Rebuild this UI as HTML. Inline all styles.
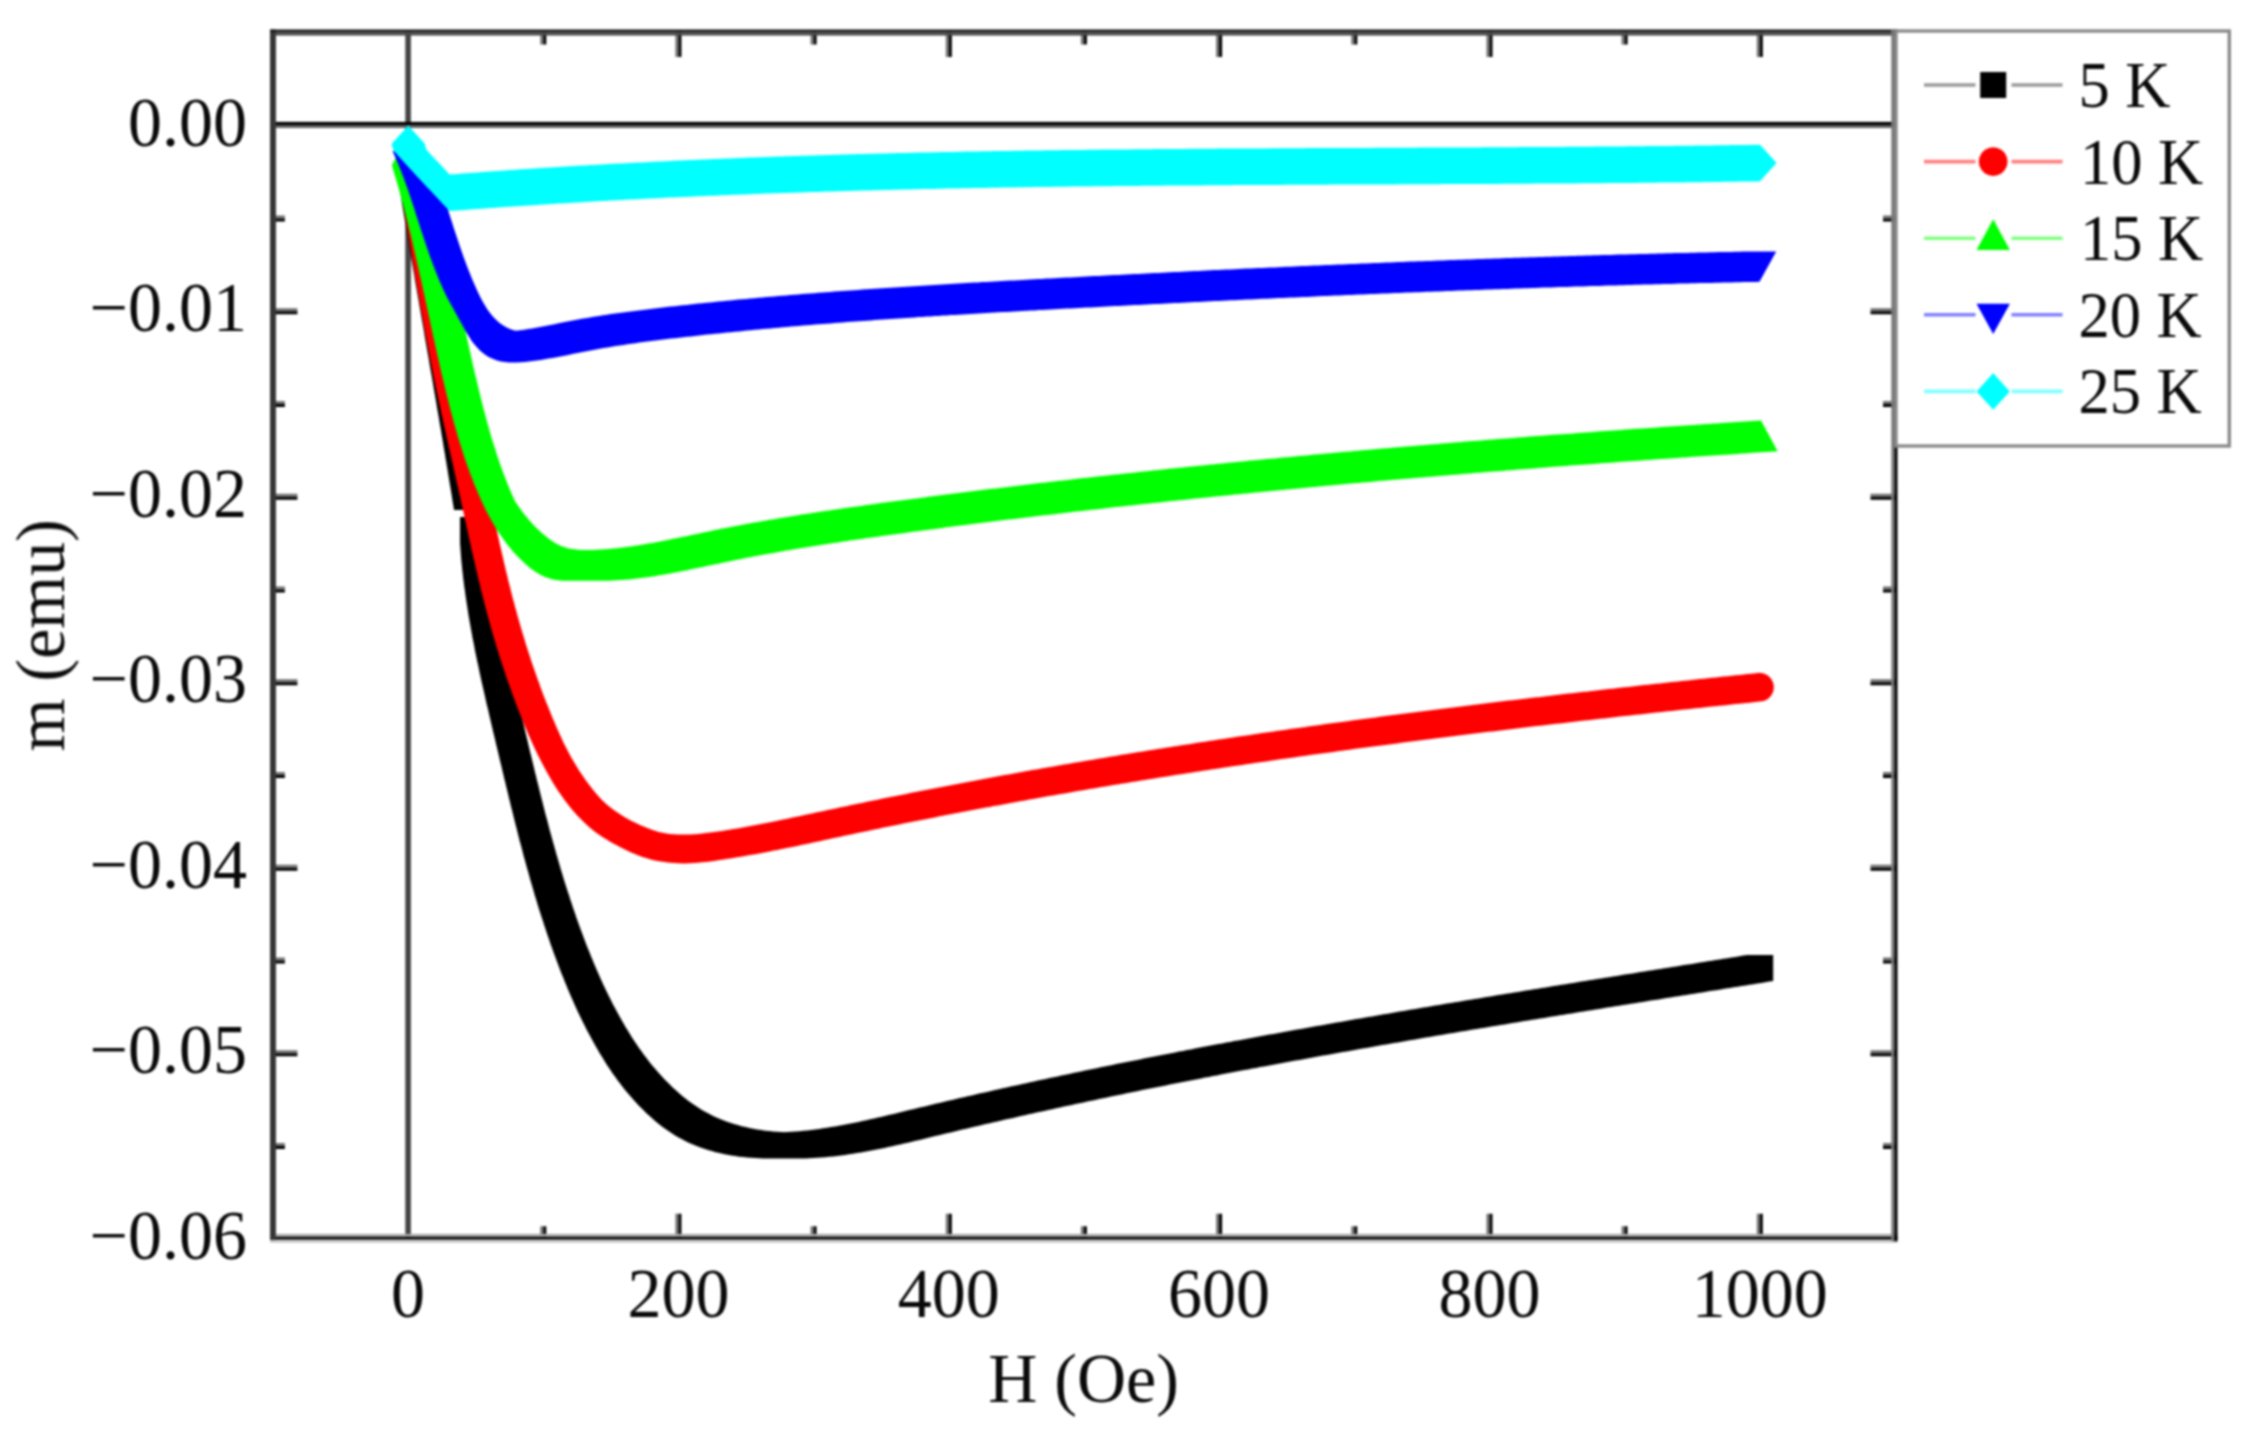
<!DOCTYPE html>
<html lang="en"><head><meta charset="utf-8"><title>m (emu) vs H (Oe)</title>
<style>html,body{margin:0;padding:0;background:#fff}svg{display:block}text{font-family:"Liberation Serif",serif;fill:#0a0a0a}.t{font-size:68px}.l{font-size:62.5px}</style></head><body>
<svg width="2248" height="1433" viewBox="0 0 2248 1433">
<rect width="2248" height="1433" fill="#ffffff"/>
<defs><filter id="soft" x="0" y="0" width="100%" height="100%" filterUnits="userSpaceOnUse" color-interpolation-filters="sRGB"><feGaussianBlur stdDeviation="0.8"/></filter></defs>
<g filter="url(#soft)">
<rect x="405.3" y="32.5" width="5.6" height="1205.8" fill="#444444"/>
<rect x="272.9" y="121.9" width="1622.0" height="3.1" fill="#000000"/>
<rect x="272.9" y="125.0" width="1622.0" height="3.0" fill="#606060"/>
<path fill="#000000" d="M423.6 151.0L423.6 177.0L397.6 177.0L397.0 173.0L397.0 147.0L423.0 147.0ZM424.3 154.9L424.3 180.9L398.3 180.9L397.6 177.0L397.6 151.0L423.6 151.0ZM424.9 158.9L424.9 184.9L398.9 184.9L398.3 180.9L398.3 154.9L424.3 154.9ZM425.6 162.9L425.6 188.9L399.6 188.9L398.9 184.9L398.9 158.9L424.9 158.9ZM426.3 166.8L426.3 192.8L400.3 192.8L399.6 188.9L399.6 162.9L425.6 162.9ZM426.9 170.8L426.9 196.8L400.9 196.8L400.3 192.8L400.3 166.8L426.3 166.8ZM427.6 174.8L427.6 200.8L401.6 200.8L400.9 196.8L400.9 170.8L426.9 170.8ZM428.2 178.7L428.2 204.7L402.2 204.7L401.6 200.8L401.6 174.8L427.6 174.8ZM428.9 182.7L428.9 208.7L402.9 208.7L402.2 204.7L402.2 178.7L428.2 178.7ZM429.6 186.7L429.6 212.7L403.6 212.7L402.9 208.7L402.9 182.7L428.9 182.7ZM430.2 190.6L430.2 216.6L404.2 216.6L403.6 212.7L403.6 186.7L429.6 186.7ZM430.9 194.6L430.9 220.6L404.9 220.6L404.2 216.6L404.2 190.6L430.2 190.6ZM431.6 198.6L431.6 224.6L405.6 224.6L404.9 220.6L404.9 194.6L430.9 194.6ZM432.2 202.5L432.2 228.5L406.2 228.5L405.6 224.6L405.6 198.6L431.6 198.6ZM432.9 206.5L432.9 232.5L406.9 232.5L406.2 228.5L406.2 202.5L432.2 202.5ZM433.6 210.5L433.6 236.5L407.6 236.5L406.9 232.5L406.9 206.5L432.9 206.5ZM434.2 214.4L434.2 240.4L408.2 240.4L407.6 236.5L407.6 210.5L433.6 210.5ZM434.9 218.4L434.9 244.4L408.9 244.4L408.2 240.4L408.2 214.4L434.2 214.4ZM435.6 222.4L435.6 248.4L409.6 248.4L408.9 244.4L408.9 218.4L434.9 218.4ZM436.3 226.3L436.3 252.3L410.3 252.3L409.6 248.4L409.6 222.4L435.6 222.4ZM437.0 230.3L437.0 256.3L411.0 256.3L410.3 252.3L410.3 226.3L436.3 226.3ZM437.6 234.2L437.6 260.2L411.6 260.2L411.0 256.3L411.0 230.3L437.0 230.3ZM438.3 238.2L438.3 264.2L412.3 264.2L411.6 260.2L411.6 234.2L437.6 234.2ZM439.0 242.2L439.0 268.2L413.0 268.2L412.3 264.2L412.3 238.2L438.3 238.2ZM439.7 246.1L439.7 272.1L413.7 272.1L413.0 268.2L413.0 242.2L439.0 242.2ZM440.4 250.1L440.4 276.1L414.4 276.1L413.7 272.1L413.7 246.1L439.7 246.1ZM441.0 254.1L441.0 280.1L415.0 280.1L414.4 276.1L414.4 250.1L440.4 250.1ZM441.7 258.0L441.7 284.0L415.7 284.0L415.0 280.1L415.0 254.1L441.0 254.1ZM442.4 262.0L442.4 288.0L416.4 288.0L415.7 284.0L415.7 258.0L441.7 258.0ZM443.1 265.9L443.1 291.9L417.1 291.9L416.4 288.0L416.4 262.0L442.4 262.0ZM443.8 269.9L443.8 295.9L417.8 295.9L417.1 291.9L417.1 265.9L443.1 265.9ZM444.5 273.9L444.5 299.9L418.5 299.9L417.8 295.9L417.8 269.9L443.8 269.9ZM445.1 277.8L445.1 303.8L419.1 303.8L418.5 299.9L418.5 273.9L444.5 273.9ZM445.8 281.8L445.8 307.8L419.8 307.8L419.1 303.8L419.1 277.8L445.1 277.8ZM446.5 285.8L446.5 311.8L420.5 311.8L419.8 307.8L419.8 281.8L445.8 281.8ZM447.2 289.7L447.2 315.7L421.2 315.7L420.5 311.8L420.5 285.8L446.5 285.8ZM447.9 293.7L447.9 319.7L421.9 319.7L421.2 315.7L421.2 289.7L447.2 289.7ZM448.6 297.6L448.6 323.6L422.6 323.6L421.9 319.7L421.9 293.7L447.9 293.7ZM449.3 301.6L449.3 327.6L423.3 327.6L422.6 323.6L422.6 297.6L448.6 297.6ZM450.0 305.6L450.0 331.6L424.0 331.6L423.3 327.6L423.3 301.6L449.3 301.6ZM450.6 309.5L450.6 335.5L424.6 335.5L424.0 331.6L424.0 305.6L450.0 305.6ZM451.3 313.5L451.3 339.5L425.3 339.5L424.6 335.5L424.6 309.5L450.6 309.5ZM452.0 317.5L452.0 343.5L426.0 343.5L425.3 339.5L425.3 313.5L451.3 313.5ZM452.7 321.4L452.7 347.4L426.7 347.4L426.0 343.5L426.0 317.5L452.0 317.5ZM453.4 325.4L453.4 351.4L427.4 351.4L426.7 347.4L426.7 321.4L452.7 321.4ZM454.1 329.3L454.1 355.3L428.1 355.3L427.4 351.4L427.4 325.4L453.4 325.4ZM454.8 333.3L454.8 359.3L428.8 359.3L428.1 355.3L428.1 329.3L454.1 329.3ZM455.4 337.3L455.4 363.3L429.4 363.3L428.8 359.3L428.8 333.3L454.8 333.3ZM456.1 341.2L456.1 367.2L430.1 367.2L429.4 363.3L429.4 337.3L455.4 337.3ZM456.8 345.2L456.8 371.2L430.8 371.2L430.1 367.2L430.1 341.2L456.1 341.2ZM457.5 349.1L457.5 375.1L431.5 375.1L430.8 371.2L430.8 345.2L456.8 345.2ZM458.2 353.1L458.2 379.1L432.2 379.1L431.5 375.1L431.5 349.1L457.5 349.1ZM458.9 357.1L458.9 383.1L432.9 383.1L432.2 379.1L432.2 353.1L458.2 353.1ZM459.5 361.0L459.5 387.0L433.5 387.0L432.9 383.1L432.9 357.1L458.9 357.1ZM460.2 365.0L460.2 391.0L434.2 391.0L433.5 387.0L433.5 361.0L459.5 361.0ZM460.9 369.0L460.9 395.0L434.9 395.0L434.2 391.0L434.2 365.0L460.2 365.0ZM461.6 372.9L461.6 398.9L435.6 398.9L434.9 395.0L434.9 369.0L460.9 369.0ZM462.3 376.9L462.3 402.9L436.3 402.9L435.6 398.9L435.6 372.9L461.6 372.9ZM462.9 380.9L462.9 406.9L436.9 406.9L436.3 402.9L436.3 376.9L462.3 376.9ZM463.6 384.8L463.6 410.8L437.6 410.8L436.9 406.9L436.9 380.9L462.9 380.9ZM464.3 388.8L464.3 414.8L438.3 414.8L437.6 410.8L437.6 384.8L463.6 384.8ZM465.0 392.7L465.0 418.7L439.0 418.7L438.3 414.8L438.3 388.8L464.3 388.8ZM465.6 396.7L465.6 422.7L439.6 422.7L439.0 418.7L439.0 392.7L465.0 392.7ZM466.3 400.7L466.3 426.7L440.3 426.7L439.6 422.7L439.6 396.7L465.6 396.7ZM467.0 404.6L467.0 430.6L441.0 430.6L440.3 426.7L440.3 400.7L466.3 400.7ZM467.6 408.6L467.6 434.6L441.6 434.6L441.0 430.6L441.0 404.6L467.0 404.6ZM468.3 412.6L468.3 438.6L442.3 438.6L441.6 434.6L441.6 408.6L467.6 408.6ZM469.0 416.5L469.0 442.5L443.0 442.5L442.3 438.6L442.3 412.6L468.3 412.6ZM469.6 420.5L469.6 446.5L443.6 446.5L443.0 442.5L443.0 416.5L469.0 416.5ZM470.3 424.5L470.3 450.5L444.3 450.5L443.6 446.5L443.6 420.5L469.6 420.5ZM471.0 428.4L471.0 454.4L445.0 454.4L444.3 450.5L444.3 424.5L470.3 424.5ZM471.6 432.4L471.6 458.4L445.6 458.4L445.0 454.4L445.0 428.4L471.0 428.4ZM472.3 436.4L472.3 462.4L446.3 462.4L445.6 458.4L445.6 432.4L471.6 432.4ZM472.9 440.3L472.9 466.3L446.9 466.3L446.3 462.4L446.3 436.4L472.3 436.4ZM473.6 444.3L473.6 470.3L447.6 470.3L446.9 466.3L446.9 440.3L472.9 440.3ZM474.2 448.3L474.2 474.3L448.2 474.3L447.6 470.3L447.6 444.3L473.6 444.3ZM474.9 452.2L474.9 478.2L448.9 478.2L448.2 474.3L448.2 448.3L474.2 448.3ZM475.5 456.2L475.5 482.2L449.5 482.2L448.9 478.2L448.9 452.2L474.9 452.2ZM476.2 460.2L476.2 486.2L450.2 486.2L449.5 482.2L449.5 456.2L475.5 456.2ZM476.8 464.1L476.8 490.1L450.8 490.1L450.2 486.2L450.2 460.2L476.2 460.2ZM477.5 468.1L477.5 494.1L451.5 494.1L450.8 490.1L450.8 464.1L476.8 464.1ZM478.1 472.1L478.1 498.1L452.1 498.1L451.5 494.1L451.5 468.1L477.5 468.1ZM478.7 476.1L478.7 502.1L452.7 502.1L452.1 498.1L452.1 472.1L478.1 472.1ZM479.4 480.0L479.4 506.0L453.4 506.0L452.7 502.1L452.7 476.1L478.7 476.1ZM480.0 484.0L480.0 510.0L454.0 510.0L453.4 506.0L453.4 480.0L479.4 480.0ZM486.3 521.0L486.3 547.0L460.3 547.0L460.0 543.0L460.0 517.0L486.0 517.0ZM486.6 525.0L486.6 551.0L460.6 551.0L460.3 547.0L460.3 521.0L486.3 521.0ZM486.9 529.0L486.9 555.0L460.9 555.0L460.6 551.0L460.6 525.0L486.6 525.0ZM487.2 533.0L487.2 559.0L461.2 559.0L460.9 555.0L460.9 529.0L486.9 529.0ZM487.6 536.9L487.6 562.9L461.6 562.9L461.2 559.0L461.2 533.0L487.2 533.0ZM488.0 540.9L488.0 566.9L462.0 566.9L461.6 562.9L461.6 536.9L487.6 536.9ZM488.4 544.9L488.4 570.9L462.4 570.9L462.0 566.9L462.0 540.9L488.0 540.9ZM488.9 548.9L488.9 574.9L462.9 574.9L462.4 570.9L462.4 544.9L488.4 544.9ZM489.3 552.9L489.3 578.9L463.3 578.9L462.9 574.9L462.9 548.9L488.9 548.9ZM489.8 556.8L489.8 582.8L463.8 582.8L463.3 578.9L463.3 552.9L489.3 552.9ZM490.3 560.8L490.3 586.8L464.3 586.8L463.8 582.8L463.8 556.8L489.8 556.8ZM490.9 564.8L490.9 590.8L464.9 590.8L464.3 586.8L464.3 560.8L490.3 560.8ZM491.4 568.7L491.4 594.7L465.4 594.7L464.9 590.8L464.9 564.8L490.9 564.8ZM492.0 572.7L492.0 598.7L466.0 598.7L465.4 594.7L465.4 568.7L491.4 568.7ZM492.6 576.7L492.6 602.7L466.6 602.7L466.0 598.7L466.0 572.7L492.0 572.7ZM493.2 580.6L493.2 606.6L467.2 606.6L466.6 602.7L466.6 576.7L492.6 576.7ZM493.8 584.6L493.8 610.6L467.8 610.6L467.2 606.6L467.2 580.6L493.2 580.6ZM494.4 588.5L494.4 614.5L468.4 614.5L467.8 610.6L467.8 584.6L493.8 584.6ZM495.1 592.5L495.1 618.5L469.1 618.5L468.4 614.5L468.4 588.5L494.4 588.5ZM495.8 596.4L495.8 622.4L469.8 622.4L469.1 618.5L469.1 592.5L495.1 592.5ZM496.5 600.4L496.5 626.4L470.5 626.4L469.8 622.4L469.8 596.4L495.8 596.4ZM497.2 604.3L497.2 630.3L471.2 630.3L470.5 626.4L470.5 600.4L496.5 600.4ZM497.9 608.2L497.9 634.2L471.9 634.2L471.2 630.3L471.2 604.3L497.2 604.3ZM498.6 612.2L498.6 638.2L472.6 638.2L471.9 634.2L471.9 608.2L497.9 608.2ZM499.4 616.1L499.4 642.1L473.4 642.1L472.6 638.2L472.6 612.2L498.6 612.2ZM500.2 620.0L500.2 646.0L474.2 646.0L473.4 642.1L473.4 616.1L499.4 616.1ZM500.9 624.0L500.9 650.0L474.9 650.0L474.2 646.0L474.2 620.0L500.2 620.0ZM501.7 627.9L501.7 653.9L475.7 653.9L474.9 650.0L474.9 624.0L500.9 624.0ZM502.5 631.8L502.5 657.8L476.5 657.8L475.7 653.9L475.7 627.9L501.7 627.9ZM503.3 635.7L503.3 661.7L477.3 661.7L476.5 657.8L476.5 631.8L502.5 631.8ZM504.2 639.6L504.2 665.6L478.2 665.6L477.3 661.7L477.3 635.7L503.3 635.7ZM505.0 643.6L505.0 669.6L479.0 669.6L478.2 665.6L478.2 639.6L504.2 639.6ZM505.8 647.5L505.8 673.5L479.8 673.5L479.0 669.6L479.0 643.6L505.0 643.6ZM506.7 651.4L506.7 677.4L480.7 677.4L479.8 673.5L479.8 647.5L505.8 647.5ZM507.5 655.3L507.5 681.3L481.5 681.3L480.7 677.4L480.7 651.4L506.7 651.4ZM508.4 659.2L508.4 685.2L482.4 685.2L481.5 681.3L481.5 655.3L507.5 655.3ZM509.3 663.1L509.3 689.1L483.3 689.1L482.4 685.2L482.4 659.2L508.4 659.2ZM510.2 667.0L510.2 693.0L484.2 693.0L483.3 689.1L483.3 663.1L509.3 663.1ZM511.1 670.9L511.1 696.9L485.1 696.9L484.2 693.0L484.2 667.0L510.2 667.0ZM511.9 674.8L511.9 700.8L485.9 700.8L485.1 696.9L485.1 670.9L511.1 670.9ZM512.8 678.7L512.8 704.7L486.8 704.7L485.9 700.8L485.9 674.8L511.9 674.8ZM513.8 682.6L513.8 708.6L487.8 708.6L486.8 704.7L486.8 678.7L512.8 678.7ZM514.7 686.5L514.7 712.5L488.7 712.5L487.8 708.6L487.8 682.6L513.8 682.6ZM515.6 690.4L515.6 716.4L489.6 716.4L488.7 712.5L488.7 686.5L514.7 686.5ZM516.5 694.3L516.5 720.3L490.5 720.3L489.6 716.4L489.6 690.4L515.6 690.4ZM517.4 698.2L517.4 724.2L491.4 724.2L490.5 720.3L490.5 694.3L516.5 694.3ZM518.3 702.1L518.3 728.1L492.3 728.1L491.4 724.2L491.4 698.2L517.4 698.2ZM519.2 706.0L519.2 732.0L493.2 732.0L492.3 728.1L492.3 702.1L518.3 702.1ZM520.2 709.9L520.2 735.9L494.2 735.9L493.2 732.0L493.2 706.0L519.2 706.0ZM521.1 713.8L521.1 739.8L495.1 739.8L494.2 735.9L494.2 709.9L520.2 709.9ZM522.0 717.7L522.0 743.7L496.0 743.7L495.1 739.8L495.1 713.8L521.1 713.8ZM522.9 721.6L522.9 747.6L496.9 747.6L496.0 743.7L496.0 717.7L522.0 717.7ZM523.9 725.5L523.9 751.5L497.9 751.5L496.9 747.6L496.9 721.6L522.9 721.6ZM524.8 729.4L524.8 755.4L498.8 755.4L497.9 751.5L497.9 725.5L523.9 725.5ZM525.7 733.3L525.7 759.3L499.7 759.3L498.8 755.4L498.8 729.4L524.8 729.4ZM526.6 737.1L526.6 763.1L500.6 763.1L499.7 759.3L499.7 733.3L525.7 733.3ZM527.6 741.0L527.6 767.0L501.6 767.0L500.6 763.1L500.6 737.1L526.6 737.1ZM528.5 744.9L528.5 770.9L502.5 770.9L501.6 767.0L501.6 741.0L527.6 741.0ZM529.4 748.8L529.4 774.8L503.4 774.8L502.5 770.9L502.5 744.9L528.5 744.9ZM530.3 752.7L530.3 778.7L504.3 778.7L503.4 774.8L503.4 748.8L529.4 748.8ZM531.3 756.6L531.3 782.6L505.3 782.6L504.3 778.7L504.3 752.7L530.3 752.7ZM532.2 760.5L532.2 786.5L506.2 786.5L505.3 782.6L505.3 756.6L531.3 756.6ZM533.2 764.4L533.2 790.4L507.2 790.4L506.2 786.5L506.2 760.5L532.2 760.5ZM534.1 768.3L534.1 794.3L508.1 794.3L507.2 790.4L507.2 764.4L533.2 764.4ZM535.0 772.2L535.0 798.2L509.0 798.2L508.1 794.3L508.1 768.3L534.1 768.3ZM536.0 776.1L536.0 802.1L510.0 802.1L509.0 798.2L509.0 772.2L535.0 772.2ZM536.9 780.0L536.9 806.0L510.9 806.0L510.0 802.1L510.0 776.1L536.0 776.1ZM537.9 783.8L537.9 809.8L511.9 809.8L510.9 806.0L510.9 780.0L536.9 780.0ZM538.9 787.7L538.9 813.7L512.9 813.7L511.9 809.8L511.9 783.8L537.9 783.8ZM539.8 791.6L539.8 817.6L513.8 817.6L512.9 813.7L512.9 787.7L538.9 787.7ZM540.8 795.5L540.8 821.5L514.8 821.5L513.8 817.6L513.8 791.6L539.8 791.6ZM541.8 799.4L541.8 825.4L515.8 825.4L514.8 821.5L514.8 795.5L540.8 795.5ZM542.8 803.3L542.8 829.3L516.8 829.3L515.8 825.4L515.8 799.4L541.8 799.4ZM543.7 807.1L543.7 833.1L517.7 833.1L516.8 829.3L516.8 803.3L542.8 803.3ZM544.7 811.0L544.7 837.0L518.7 837.0L517.7 833.1L517.7 807.1L543.7 807.1ZM545.7 814.9L545.7 840.9L519.7 840.9L518.7 837.0L518.7 811.0L544.7 811.0ZM546.8 818.8L546.8 844.8L520.8 844.8L519.7 840.9L519.7 814.9L545.7 814.9ZM547.8 822.6L547.8 848.6L521.8 848.6L520.8 844.8L520.8 818.8L546.8 818.8ZM548.8 826.5L548.8 852.5L522.8 852.5L521.8 848.6L521.8 822.6L547.8 822.6ZM549.8 830.4L549.8 856.4L523.8 856.4L522.8 852.5L522.8 826.5L548.8 826.5ZM550.9 834.2L550.9 860.2L524.9 860.2L523.8 856.4L523.8 830.4L549.8 830.4ZM551.9 838.1L551.9 864.1L525.9 864.1L524.9 860.2L524.9 834.2L550.9 834.2ZM553.0 841.9L553.0 867.9L527.0 867.9L525.9 864.1L525.9 838.1L551.9 838.1ZM554.1 845.8L554.1 871.8L528.1 871.8L527.0 867.9L527.0 841.9L553.0 841.9ZM555.2 849.7L555.2 875.7L529.2 875.7L528.1 871.8L528.1 845.8L554.1 845.8ZM556.2 853.5L556.2 879.5L530.2 879.5L529.2 875.7L529.2 849.7L555.2 849.7ZM557.4 857.4L557.4 883.4L531.4 883.4L530.2 879.5L530.2 853.5L556.2 853.5ZM558.5 861.2L558.5 887.2L532.5 887.2L531.4 883.4L531.4 857.4L557.4 857.4ZM559.6 865.0L559.6 891.0L533.6 891.0L532.5 887.2L532.5 861.2L558.5 861.2ZM560.7 868.9L560.7 894.9L534.7 894.9L533.6 891.0L533.6 865.0L559.6 865.0ZM561.9 872.7L561.9 898.7L535.9 898.7L534.7 894.9L534.7 868.9L560.7 868.9ZM563.0 876.5L563.0 902.5L537.0 902.5L535.9 898.7L535.9 872.7L561.9 872.7ZM564.2 880.4L564.2 906.4L538.2 906.4L537.0 902.5L537.0 876.5L563.0 876.5ZM565.4 884.2L565.4 910.2L539.4 910.2L538.2 906.4L538.2 880.4L564.2 880.4ZM566.6 888.0L566.6 914.0L540.6 914.0L539.4 910.2L539.4 884.2L565.4 884.2ZM567.8 891.8L567.8 917.8L541.8 917.8L540.6 914.0L540.6 888.0L566.6 888.0ZM569.1 895.6L569.1 921.6L543.1 921.6L541.8 917.8L541.8 891.8L567.8 891.8ZM570.3 899.4L570.3 925.4L544.3 925.4L543.1 921.6L543.1 895.6L569.1 895.6ZM571.6 903.2L571.6 929.2L545.6 929.2L544.3 925.4L544.3 899.4L570.3 899.4ZM572.8 907.0L572.8 933.0L546.8 933.0L545.6 929.2L545.6 903.2L571.6 903.2ZM574.1 910.8L574.1 936.8L548.1 936.8L546.8 933.0L546.8 907.0L572.8 907.0ZM575.4 914.6L575.4 940.6L549.4 940.6L548.1 936.8L548.1 910.8L574.1 910.8ZM576.7 918.4L576.7 944.4L550.7 944.4L549.4 940.6L549.4 914.6L575.4 914.6ZM578.1 922.2L578.1 948.2L552.1 948.2L550.7 944.4L550.7 918.4L576.7 918.4ZM579.4 925.9L579.4 951.9L553.4 951.9L552.1 948.2L552.1 922.2L578.1 922.2ZM580.8 929.7L580.8 955.7L554.8 955.7L553.4 951.9L553.4 925.9L579.4 925.9ZM582.2 933.4L582.2 959.4L556.2 959.4L554.8 955.7L554.8 929.7L580.8 929.7ZM583.6 937.2L583.6 963.2L557.6 963.2L556.2 959.4L556.2 933.4L582.2 933.4ZM585.0 940.9L585.0 966.9L559.0 966.9L557.6 963.2L557.6 937.2L583.6 937.2ZM586.4 944.7L586.4 970.7L560.4 970.7L559.0 966.9L559.0 940.9L585.0 940.9ZM587.9 948.4L587.9 974.4L561.9 974.4L560.4 970.7L560.4 944.7L586.4 944.7ZM589.4 952.1L589.4 978.1L563.4 978.1L561.9 974.4L561.9 948.4L587.9 948.4ZM590.8 955.8L590.8 981.8L564.8 981.8L563.4 978.1L563.4 952.1L589.4 952.1ZM592.4 959.5L592.4 985.5L566.4 985.5L564.8 981.8L564.8 955.8L590.8 955.8ZM593.9 963.2L593.9 989.2L567.9 989.2L566.4 985.5L566.4 959.5L592.4 959.5ZM595.5 966.9L595.5 992.9L569.5 992.9L567.9 989.2L567.9 963.2L593.9 963.2ZM597.0 970.6L597.0 996.6L571.0 996.6L569.5 992.9L569.5 966.9L595.5 966.9ZM598.7 974.3L598.7 1000.3L572.7 1000.3L571.0 996.6L571.0 970.6L597.0 970.6ZM600.3 977.9L600.3 1003.9L574.3 1003.9L572.7 1000.3L572.7 974.3L598.7 974.3ZM601.9 981.6L601.9 1007.6L575.9 1007.6L574.3 1003.9L574.3 977.9L600.3 977.9ZM603.6 985.2L603.6 1011.2L577.6 1011.2L575.9 1007.6L575.9 981.6L601.9 981.6ZM605.3 988.8L605.3 1014.8L579.3 1014.8L577.6 1011.2L577.6 985.2L603.6 985.2ZM607.1 992.4L607.1 1018.4L581.1 1018.4L579.3 1014.8L579.3 988.8L605.3 988.8ZM608.8 996.0L608.8 1022.0L582.8 1022.0L581.1 1018.4L581.1 992.4L607.1 992.4ZM610.6 999.6L610.6 1025.6L584.6 1025.6L582.8 1022.0L582.8 996.0L608.8 996.0ZM612.4 1003.2L612.4 1029.2L586.4 1029.2L584.6 1025.6L584.6 999.6L610.6 999.6ZM614.3 1006.7L614.3 1032.7L588.3 1032.7L586.4 1029.2L586.4 1003.2L612.4 1003.2ZM616.2 1010.3L616.2 1036.3L590.2 1036.3L588.3 1032.7L588.3 1006.7L614.3 1006.7ZM618.1 1013.8L618.1 1039.8L592.1 1039.8L590.2 1036.3L590.2 1010.3L616.2 1010.3ZM620.0 1017.3L620.0 1043.3L594.0 1043.3L592.1 1039.8L592.1 1013.8L618.1 1013.8ZM622.0 1020.8L622.0 1046.8L596.0 1046.8L594.0 1043.3L594.0 1017.3L620.0 1017.3ZM624.0 1024.2L624.0 1050.2L598.0 1050.2L596.0 1046.8L596.0 1020.8L622.0 1020.8ZM626.0 1027.7L626.0 1053.7L600.0 1053.7L598.0 1050.2L598.0 1024.2L624.0 1024.2ZM628.1 1031.1L628.1 1057.1L602.1 1057.1L600.0 1053.7L600.0 1027.7L626.0 1027.7ZM630.2 1034.5L630.2 1060.5L604.2 1060.5L602.1 1057.1L602.1 1031.1L628.1 1031.1ZM632.3 1037.9L632.3 1063.9L606.3 1063.9L604.2 1060.5L604.2 1034.5L630.2 1034.5ZM634.5 1041.2L634.5 1067.2L608.5 1067.2L606.3 1063.9L606.3 1037.9L632.3 1037.9ZM636.7 1044.6L636.7 1070.6L610.7 1070.6L608.5 1067.2L608.5 1041.2L634.5 1041.2ZM639.0 1047.9L639.0 1073.9L613.0 1073.9L610.7 1070.6L610.7 1044.6L636.7 1044.6ZM641.3 1051.1L641.3 1077.1L615.3 1077.1L613.0 1073.9L613.0 1047.9L639.0 1047.9ZM643.7 1054.4L643.7 1080.4L617.7 1080.4L615.3 1077.1L615.3 1051.1L641.3 1051.1ZM646.1 1057.6L646.1 1083.6L620.1 1083.6L617.7 1080.4L617.7 1054.4L643.7 1054.4ZM648.5 1060.7L648.5 1086.7L622.5 1086.7L620.1 1083.6L620.1 1057.6L646.1 1057.6ZM651.0 1063.9L651.0 1089.9L625.0 1089.9L622.5 1086.7L622.5 1060.7L648.5 1060.7ZM653.6 1066.9L653.6 1092.9L627.6 1092.9L625.0 1089.9L625.0 1063.9L651.0 1063.9ZM656.2 1070.0L656.2 1096.0L630.2 1096.0L627.6 1092.9L627.6 1066.9L653.6 1066.9ZM658.8 1073.0L658.8 1099.0L632.8 1099.0L630.2 1096.0L630.2 1070.0L656.2 1070.0ZM661.5 1076.0L661.5 1102.0L635.5 1102.0L632.8 1099.0L632.8 1073.0L658.8 1073.0ZM664.2 1078.9L664.2 1104.9L638.2 1104.9L635.5 1102.0L635.5 1076.0L661.5 1076.0ZM667.0 1081.8L667.0 1107.8L641.0 1107.8L638.2 1104.9L638.2 1078.9L664.2 1078.9ZM669.8 1084.6L669.8 1110.6L643.8 1110.6L641.0 1107.8L641.0 1081.8L667.0 1081.8ZM672.7 1087.4L672.7 1113.4L646.7 1113.4L643.8 1110.6L643.8 1084.6L669.8 1084.6ZM675.6 1090.1L675.6 1116.1L649.6 1116.1L646.7 1113.4L646.7 1087.4L672.7 1087.4ZM678.6 1092.8L678.6 1118.8L652.6 1118.8L649.6 1116.1L649.6 1090.1L675.6 1090.1ZM681.7 1095.4L681.7 1121.4L655.7 1121.4L652.6 1118.8L652.6 1092.8L678.6 1092.8ZM684.8 1097.9L684.8 1123.9L658.8 1123.9L655.7 1121.4L655.7 1095.4L681.7 1095.4ZM687.9 1100.4L687.9 1126.4L661.9 1126.4L658.8 1123.9L658.8 1097.9L684.8 1097.9ZM691.1 1102.8L691.1 1128.8L665.1 1128.8L661.9 1126.4L661.9 1100.4L687.9 1100.4ZM694.4 1105.1L694.4 1131.1L668.4 1131.1L665.1 1128.8L665.1 1102.8L691.1 1102.8ZM697.8 1107.3L697.8 1133.3L671.8 1133.3L668.4 1131.1L668.4 1105.1L694.4 1105.1ZM701.1 1109.4L701.1 1135.4L675.1 1135.4L671.8 1133.3L671.8 1107.3L697.8 1107.3ZM704.6 1111.4L704.6 1137.4L678.6 1137.4L675.1 1135.4L675.1 1109.4L701.1 1109.4ZM708.1 1113.3L708.1 1139.3L682.1 1139.3L678.6 1137.4L678.6 1111.4L704.6 1111.4ZM711.7 1115.2L711.7 1141.2L685.7 1141.2L682.1 1139.3L682.1 1113.3L708.1 1113.3ZM715.3 1116.9L715.3 1142.9L689.3 1142.9L685.7 1141.2L685.7 1115.2L711.7 1115.2ZM718.9 1118.5L718.9 1144.5L692.9 1144.5L689.3 1142.9L689.3 1116.9L715.3 1116.9ZM722.6 1120.0L722.6 1146.0L696.6 1146.0L692.9 1144.5L692.9 1118.5L718.9 1118.5ZM726.4 1121.5L726.4 1147.5L700.4 1147.5L696.6 1146.0L696.6 1120.0L722.6 1120.0ZM730.2 1122.8L730.2 1148.8L704.2 1148.8L700.4 1147.5L700.4 1121.5L726.4 1121.5ZM734.0 1124.0L734.0 1150.0L708.0 1150.0L704.2 1148.8L704.2 1122.8L730.2 1122.8ZM737.8 1125.1L737.8 1151.1L711.8 1151.1L708.0 1150.0L708.0 1124.0L734.0 1124.0ZM741.7 1126.2L741.7 1152.2L715.7 1152.2L711.8 1151.1L711.8 1125.1L737.8 1125.1ZM745.6 1127.1L745.6 1153.1L719.6 1153.1L715.7 1152.2L715.7 1126.2L741.7 1126.2ZM749.5 1128.0L749.5 1154.0L723.5 1154.0L719.6 1153.1L719.6 1127.1L745.6 1127.1ZM753.4 1128.8L753.4 1154.8L727.4 1154.8L723.5 1154.0L723.5 1128.0L749.5 1128.0ZM757.3 1129.5L757.3 1155.5L731.3 1155.5L727.4 1154.8L727.4 1128.8L753.4 1128.8ZM761.3 1130.1L761.3 1156.1L735.3 1156.1L731.3 1155.5L731.3 1129.5L757.3 1129.5ZM765.3 1130.7L765.3 1156.7L739.3 1156.7L735.3 1156.1L735.3 1130.1L761.3 1130.1ZM769.2 1131.1L769.2 1157.1L743.2 1157.1L739.3 1156.7L739.3 1130.7L765.3 1130.7ZM773.2 1131.5L773.2 1157.5L747.2 1157.5L743.2 1157.1L743.2 1131.1L769.2 1131.1ZM777.2 1131.8L777.2 1157.8L751.2 1157.8L747.2 1157.5L747.2 1131.5L773.2 1131.5ZM781.2 1132.1L781.2 1158.1L755.2 1158.1L751.2 1157.8L751.2 1131.8L777.2 1131.8ZM785.2 1132.3L785.2 1158.3L759.2 1158.3L755.2 1158.1L755.2 1132.1L781.2 1132.1ZM789.2 1132.4L789.2 1158.4L763.2 1158.4L759.2 1158.3L759.2 1132.3L785.2 1132.3ZM793.2 1132.5L793.2 1158.5L767.2 1158.5L763.2 1158.4L763.2 1132.4L789.2 1132.4ZM797.2 1132.5L797.2 1158.5L771.2 1158.5L767.2 1158.5L767.2 1132.5L793.2 1132.5ZM771.2 1158.5L771.2 1132.5L775.2 1132.5L801.2 1132.5L801.2 1158.5L797.2 1158.5ZM775.2 1158.5L775.2 1132.5L779.2 1132.4L805.2 1132.4L805.2 1158.4L801.2 1158.5ZM779.2 1158.4L779.2 1132.4L783.2 1132.2L809.2 1132.2L809.2 1158.2L805.2 1158.4ZM783.2 1158.2L783.2 1132.2L787.2 1132.0L813.2 1132.0L813.2 1158.0L809.2 1158.2ZM787.2 1158.0L787.2 1132.0L791.2 1131.8L817.2 1131.8L817.2 1157.8L813.2 1158.0ZM791.2 1157.8L791.2 1131.8L795.2 1131.5L821.2 1131.5L821.2 1157.5L817.2 1157.8ZM795.2 1157.5L795.2 1131.5L799.2 1131.2L825.2 1131.2L825.2 1157.2L821.2 1157.5ZM799.2 1157.2L799.2 1131.2L803.2 1130.8L829.2 1130.8L829.2 1156.8L825.2 1157.2ZM803.2 1156.8L803.2 1130.8L807.1 1130.4L833.1 1130.4L833.1 1156.4L829.2 1156.8ZM807.1 1156.4L807.1 1130.4L811.1 1129.9L837.1 1129.9L837.1 1155.9L833.1 1156.4ZM811.1 1155.9L811.1 1129.9L815.1 1129.4L841.1 1129.4L841.1 1155.4L837.1 1155.9ZM815.1 1155.4L815.1 1129.4L819.1 1128.9L845.1 1128.9L845.1 1154.9L841.1 1155.4ZM819.1 1154.9L819.1 1128.9L823.0 1128.3L849.0 1128.3L849.0 1154.3L845.1 1154.9ZM823.0 1154.3L823.0 1128.3L827.0 1127.7L853.0 1127.7L853.0 1153.7L849.0 1154.3ZM827.0 1153.7L827.0 1127.7L830.9 1127.1L856.9 1127.1L856.9 1153.1L853.0 1153.7ZM830.9 1153.1L830.9 1127.1L834.9 1126.4L860.9 1126.4L860.9 1152.4L856.9 1153.1ZM834.9 1152.4L834.9 1126.4L838.8 1125.7L864.8 1125.7L864.8 1151.7L860.9 1152.4ZM838.8 1151.7L838.8 1125.7L842.8 1125.0L868.8 1125.0L868.8 1151.0L864.8 1151.7ZM842.8 1151.0L842.8 1125.0L846.7 1124.3L872.7 1124.3L872.7 1150.3L868.8 1151.0ZM846.7 1150.3L846.7 1124.3L850.6 1123.5L876.6 1123.5L876.6 1149.5L872.7 1150.3ZM850.6 1149.5L850.6 1123.5L854.5 1122.7L880.5 1122.7L880.5 1148.7L876.6 1149.5ZM854.5 1148.7L854.5 1122.7L858.5 1121.9L884.5 1121.9L884.5 1147.9L880.5 1148.7ZM858.5 1147.9L858.5 1121.9L862.4 1121.1L888.4 1121.1L888.4 1147.1L884.5 1147.9ZM862.4 1147.1L862.4 1121.1L866.3 1120.2L892.3 1120.2L892.3 1146.2L888.4 1147.1ZM866.3 1146.2L866.3 1120.2L870.2 1119.3L896.2 1119.3L896.2 1145.3L892.3 1146.2ZM870.2 1145.3L870.2 1119.3L874.1 1118.5L900.1 1118.5L900.1 1144.5L896.2 1145.3ZM874.1 1144.5L874.1 1118.5L878.0 1117.6L904.0 1117.6L904.0 1143.6L900.1 1144.5ZM878.0 1143.6L878.0 1117.6L881.9 1116.7L907.9 1116.7L907.9 1142.7L904.0 1143.6ZM881.9 1142.7L881.9 1116.7L885.8 1115.7L911.8 1115.7L911.8 1141.7L907.9 1142.7ZM885.8 1141.7L885.8 1115.7L889.7 1114.8L915.7 1114.8L915.7 1140.8L911.8 1141.7ZM889.7 1140.8L889.7 1114.8L893.6 1113.9L919.6 1113.9L919.6 1139.9L915.7 1140.8ZM893.6 1139.9L893.6 1113.9L897.5 1113.0L923.5 1113.0L923.5 1139.0L919.6 1139.9ZM897.5 1139.0L897.5 1113.0L901.4 1112.0L927.4 1112.0L927.4 1138.0L923.5 1139.0ZM901.4 1138.0L901.4 1112.0L905.3 1111.1L931.3 1111.1L931.3 1137.1L927.4 1138.0ZM905.3 1137.1L905.3 1111.1L909.2 1110.1L935.2 1110.1L935.2 1136.1L931.3 1137.1ZM909.2 1136.1L909.2 1110.1L913.0 1109.2L939.0 1109.2L939.0 1135.2L935.2 1136.1ZM913.0 1135.2L913.0 1109.2L916.9 1108.2L942.9 1108.2L942.9 1134.2L939.0 1135.2ZM916.9 1134.2L916.9 1108.2L920.8 1107.3L946.8 1107.3L946.8 1133.3L942.9 1134.2ZM920.8 1133.3L920.8 1107.3L924.7 1106.4L950.7 1106.4L950.7 1132.4L946.8 1133.3ZM924.7 1132.4L924.7 1106.4L928.6 1105.4L954.6 1105.4L954.6 1131.4L950.7 1132.4ZM928.6 1131.4L928.6 1105.4L932.5 1104.5L958.5 1104.5L958.5 1130.5L954.6 1131.4ZM932.5 1130.5L932.5 1104.5L936.4 1103.6L962.4 1103.6L962.4 1129.6L958.5 1130.5ZM936.4 1129.6L936.4 1103.6L940.3 1102.7L966.3 1102.7L966.3 1128.7L962.4 1129.6ZM940.3 1128.7L940.3 1102.7L944.2 1101.8L970.2 1101.8L970.2 1127.8L966.3 1128.7ZM944.2 1127.8L944.2 1101.8L948.1 1100.8L974.1 1100.8L974.1 1126.8L970.2 1127.8ZM948.1 1126.8L948.1 1100.8L952.0 1099.9L978.0 1099.9L978.0 1125.9L974.1 1126.8ZM952.0 1125.9L952.0 1099.9L955.9 1099.0L981.9 1099.0L981.9 1125.0L978.0 1125.9ZM955.9 1125.0L955.9 1099.0L959.8 1098.1L985.8 1098.1L985.8 1124.1L981.9 1125.0ZM959.8 1124.1L959.8 1098.1L963.7 1097.2L989.7 1097.2L989.7 1123.2L985.8 1124.1ZM963.7 1123.2L963.7 1097.2L967.6 1096.3L993.6 1096.3L993.6 1122.3L989.7 1123.2ZM967.6 1122.3L967.6 1096.3L971.5 1095.4L997.5 1095.4L997.5 1121.4L993.6 1122.3ZM971.5 1121.4L971.5 1095.4L975.4 1094.5L1001.4 1094.5L1001.4 1120.5L997.5 1121.4ZM975.4 1120.5L975.4 1094.5L979.3 1093.6L1005.3 1093.6L1005.3 1119.6L1001.4 1120.5ZM979.3 1119.6L979.3 1093.6L983.2 1092.7L1009.2 1092.7L1009.2 1118.7L1005.3 1119.6ZM983.2 1118.7L983.2 1092.7L987.1 1091.9L1013.1 1091.9L1013.1 1117.9L1009.2 1118.7ZM987.1 1117.9L987.1 1091.9L991.0 1091.0L1017.0 1091.0L1017.0 1117.0L1013.1 1117.9ZM991.0 1117.0L991.0 1091.0L994.9 1090.1L1020.9 1090.1L1020.9 1116.1L1017.0 1117.0ZM994.9 1116.1L994.9 1090.1L998.8 1089.2L1024.8 1089.2L1024.8 1115.2L1020.9 1116.1ZM998.8 1115.2L998.8 1089.2L1002.7 1088.3L1028.7 1088.3L1028.7 1114.3L1024.8 1115.2ZM1002.7 1114.3L1002.7 1088.3L1006.6 1087.5L1032.6 1087.5L1032.6 1113.5L1028.7 1114.3ZM1006.6 1113.5L1006.6 1087.5L1010.5 1086.6L1036.5 1086.6L1036.5 1112.6L1032.6 1113.5ZM1010.5 1112.6L1010.5 1086.6L1014.4 1085.7L1040.4 1085.7L1040.4 1111.7L1036.5 1112.6ZM1014.4 1111.7L1014.4 1085.7L1018.3 1084.9L1044.3 1084.9L1044.3 1110.9L1040.4 1111.7ZM1018.3 1110.9L1018.3 1084.9L1022.3 1084.0L1048.3 1084.0L1048.3 1110.0L1044.3 1110.9ZM1022.3 1110.0L1022.3 1084.0L1026.2 1083.2L1052.2 1083.2L1052.2 1109.2L1048.3 1110.0ZM1026.2 1109.2L1026.2 1083.2L1030.1 1082.3L1056.1 1082.3L1056.1 1108.3L1052.2 1109.2ZM1030.1 1108.3L1030.1 1082.3L1034.0 1081.4L1060.0 1081.4L1060.0 1107.4L1056.1 1108.3ZM1034.0 1107.4L1034.0 1081.4L1037.9 1080.6L1063.9 1080.6L1063.9 1106.6L1060.0 1107.4ZM1037.9 1106.6L1037.9 1080.6L1041.8 1079.7L1067.8 1079.7L1067.8 1105.7L1063.9 1106.6ZM1041.8 1105.7L1041.8 1079.7L1045.7 1078.9L1071.7 1078.9L1071.7 1104.9L1067.8 1105.7ZM1045.7 1104.9L1045.7 1078.9L1049.6 1078.1L1075.6 1078.1L1075.6 1104.1L1071.7 1104.9ZM1049.6 1104.1L1049.6 1078.1L1053.5 1077.2L1079.5 1077.2L1079.5 1103.2L1075.6 1104.1ZM1053.5 1103.2L1053.5 1077.2L1057.5 1076.4L1083.5 1076.4L1083.5 1102.4L1079.5 1103.2ZM1057.5 1102.4L1057.5 1076.4L1061.4 1075.6L1087.4 1075.6L1087.4 1101.6L1083.5 1102.4ZM1061.4 1101.6L1061.4 1075.6L1065.3 1074.7L1091.3 1074.7L1091.3 1100.7L1087.4 1101.6ZM1065.3 1100.7L1065.3 1074.7L1069.2 1073.9L1095.2 1073.9L1095.2 1099.9L1091.3 1100.7ZM1069.2 1099.9L1069.2 1073.9L1073.1 1073.1L1099.1 1073.1L1099.1 1099.1L1095.2 1099.9ZM1073.1 1099.1L1073.1 1073.1L1077.0 1072.2L1103.0 1072.2L1103.0 1098.2L1099.1 1099.1ZM1077.0 1098.2L1077.0 1072.2L1081.0 1071.4L1107.0 1071.4L1107.0 1097.4L1103.0 1098.2ZM1081.0 1097.4L1081.0 1071.4L1084.9 1070.6L1110.9 1070.6L1110.9 1096.6L1107.0 1097.4ZM1084.9 1096.6L1084.9 1070.6L1088.8 1069.8L1114.8 1069.8L1114.8 1095.8L1110.9 1096.6ZM1088.8 1095.8L1088.8 1069.8L1092.7 1069.0L1118.7 1069.0L1118.7 1095.0L1114.8 1095.8ZM1092.7 1095.0L1092.7 1069.0L1096.6 1068.2L1122.6 1068.2L1122.6 1094.2L1118.7 1095.0ZM1096.6 1094.2L1096.6 1068.2L1100.6 1067.3L1126.6 1067.3L1126.6 1093.3L1122.6 1094.2ZM1100.6 1093.3L1100.6 1067.3L1104.5 1066.5L1130.5 1066.5L1130.5 1092.5L1126.6 1093.3ZM1104.5 1092.5L1104.5 1066.5L1108.4 1065.7L1134.4 1065.7L1134.4 1091.7L1130.5 1092.5ZM1108.4 1091.7L1108.4 1065.7L1112.3 1064.9L1138.3 1064.9L1138.3 1090.9L1134.4 1091.7ZM1112.3 1090.9L1112.3 1064.9L1116.2 1064.1L1142.2 1064.1L1142.2 1090.1L1138.3 1090.9ZM1116.2 1090.1L1116.2 1064.1L1120.2 1063.3L1146.2 1063.3L1146.2 1089.3L1142.2 1090.1ZM1120.2 1089.3L1120.2 1063.3L1124.1 1062.5L1150.1 1062.5L1150.1 1088.5L1146.2 1089.3ZM1124.1 1088.5L1124.1 1062.5L1128.0 1061.7L1154.0 1061.7L1154.0 1087.7L1150.1 1088.5ZM1128.0 1087.7L1128.0 1061.7L1131.9 1061.0L1157.9 1061.0L1157.9 1087.0L1154.0 1087.7ZM1131.9 1087.0L1131.9 1061.0L1135.9 1060.2L1161.9 1060.2L1161.9 1086.2L1157.9 1087.0ZM1135.9 1086.2L1135.9 1060.2L1139.8 1059.4L1165.8 1059.4L1165.8 1085.4L1161.9 1086.2ZM1139.8 1085.4L1139.8 1059.4L1143.7 1058.6L1169.7 1058.6L1169.7 1084.6L1165.8 1085.4ZM1143.7 1084.6L1143.7 1058.6L1147.6 1057.8L1173.6 1057.8L1173.6 1083.8L1169.7 1084.6ZM1147.6 1083.8L1147.6 1057.8L1151.6 1057.0L1177.6 1057.0L1177.6 1083.0L1173.6 1083.8ZM1151.6 1083.0L1151.6 1057.0L1155.5 1056.3L1181.5 1056.3L1181.5 1082.3L1177.6 1083.0ZM1155.5 1082.3L1155.5 1056.3L1159.4 1055.5L1185.4 1055.5L1185.4 1081.5L1181.5 1082.3ZM1159.4 1081.5L1159.4 1055.5L1163.3 1054.7L1189.3 1054.7L1189.3 1080.7L1185.4 1081.5ZM1163.3 1080.7L1163.3 1054.7L1167.3 1053.9L1193.3 1053.9L1193.3 1079.9L1189.3 1080.7ZM1167.3 1079.9L1167.3 1053.9L1171.2 1053.2L1197.2 1053.2L1197.2 1079.2L1193.3 1079.9ZM1171.2 1079.2L1171.2 1053.2L1175.1 1052.4L1201.1 1052.4L1201.1 1078.4L1197.2 1079.2ZM1175.1 1078.4L1175.1 1052.4L1179.0 1051.6L1205.0 1051.6L1205.0 1077.6L1201.1 1078.4ZM1179.0 1077.6L1179.0 1051.6L1183.0 1050.9L1209.0 1050.9L1209.0 1076.9L1205.0 1077.6ZM1183.0 1076.9L1183.0 1050.9L1186.9 1050.1L1212.9 1050.1L1212.9 1076.1L1209.0 1076.9ZM1186.9 1076.1L1186.9 1050.1L1190.8 1049.4L1216.8 1049.4L1216.8 1075.4L1212.9 1076.1ZM1190.8 1075.4L1190.8 1049.4L1194.8 1048.6L1220.8 1048.6L1220.8 1074.6L1216.8 1075.4ZM1194.8 1074.6L1194.8 1048.6L1198.7 1047.8L1224.7 1047.8L1224.7 1073.8L1220.8 1074.6ZM1198.7 1073.8L1198.7 1047.8L1202.6 1047.1L1228.6 1047.1L1228.6 1073.1L1224.7 1073.8ZM1202.6 1073.1L1202.6 1047.1L1206.6 1046.3L1232.6 1046.3L1232.6 1072.3L1228.6 1073.1ZM1206.6 1072.3L1206.6 1046.3L1210.5 1045.6L1236.5 1045.6L1236.5 1071.6L1232.6 1072.3ZM1210.5 1071.6L1210.5 1045.6L1214.4 1044.8L1240.4 1044.8L1240.4 1070.8L1236.5 1071.6ZM1214.4 1070.8L1214.4 1044.8L1218.4 1044.1L1244.4 1044.1L1244.4 1070.1L1240.4 1070.8ZM1218.4 1070.1L1218.4 1044.1L1222.3 1043.4L1248.3 1043.4L1248.3 1069.4L1244.4 1070.1ZM1222.3 1069.4L1222.3 1043.4L1226.2 1042.6L1252.2 1042.6L1252.2 1068.6L1248.3 1069.4ZM1226.2 1068.6L1226.2 1042.6L1230.2 1041.9L1256.2 1041.9L1256.2 1067.9L1252.2 1068.6ZM1230.2 1067.9L1230.2 1041.9L1234.1 1041.1L1260.1 1041.1L1260.1 1067.1L1256.2 1067.9ZM1234.1 1067.1L1234.1 1041.1L1238.0 1040.4L1264.0 1040.4L1264.0 1066.4L1260.1 1067.1ZM1238.0 1066.4L1238.0 1040.4L1242.0 1039.7L1268.0 1039.7L1268.0 1065.7L1264.0 1066.4ZM1242.0 1065.7L1242.0 1039.7L1245.9 1038.9L1271.9 1038.9L1271.9 1064.9L1268.0 1065.7ZM1245.9 1064.9L1245.9 1038.9L1249.8 1038.2L1275.8 1038.2L1275.8 1064.2L1271.9 1064.9ZM1249.8 1064.2L1249.8 1038.2L1253.8 1037.5L1279.8 1037.5L1279.8 1063.5L1275.8 1064.2ZM1253.8 1063.5L1253.8 1037.5L1257.7 1036.8L1283.7 1036.8L1283.7 1062.8L1279.8 1063.5ZM1257.7 1062.8L1257.7 1036.8L1261.6 1036.0L1287.6 1036.0L1287.6 1062.0L1283.7 1062.8ZM1261.6 1062.0L1261.6 1036.0L1265.6 1035.3L1291.6 1035.3L1291.6 1061.3L1287.6 1062.0ZM1265.6 1061.3L1265.6 1035.3L1269.5 1034.6L1295.5 1034.6L1295.5 1060.6L1291.6 1061.3ZM1269.5 1060.6L1269.5 1034.6L1273.5 1033.9L1299.5 1033.9L1299.5 1059.9L1295.5 1060.6ZM1273.5 1059.9L1273.5 1033.9L1277.4 1033.2L1303.4 1033.2L1303.4 1059.2L1299.5 1059.9ZM1277.4 1059.2L1277.4 1033.2L1281.3 1032.4L1307.3 1032.4L1307.3 1058.4L1303.4 1059.2ZM1281.3 1058.4L1281.3 1032.4L1285.3 1031.7L1311.3 1031.7L1311.3 1057.7L1307.3 1058.4ZM1285.3 1057.7L1285.3 1031.7L1289.2 1031.0L1315.2 1031.0L1315.2 1057.0L1311.3 1057.7ZM1289.2 1057.0L1289.2 1031.0L1293.1 1030.3L1319.1 1030.3L1319.1 1056.3L1315.2 1057.0ZM1293.1 1056.3L1293.1 1030.3L1297.1 1029.6L1323.1 1029.6L1323.1 1055.6L1319.1 1056.3ZM1297.1 1055.6L1297.1 1029.6L1301.0 1028.9L1327.0 1028.9L1327.0 1054.9L1323.1 1055.6ZM1301.0 1054.9L1301.0 1028.9L1305.0 1028.2L1331.0 1028.2L1331.0 1054.2L1327.0 1054.9ZM1305.0 1054.2L1305.0 1028.2L1308.9 1027.5L1334.9 1027.5L1334.9 1053.5L1331.0 1054.2ZM1308.9 1053.5L1308.9 1027.5L1312.8 1026.8L1338.8 1026.8L1338.8 1052.8L1334.9 1053.5ZM1312.8 1052.8L1312.8 1026.8L1316.8 1026.1L1342.8 1026.1L1342.8 1052.1L1338.8 1052.8ZM1316.8 1052.1L1316.8 1026.1L1320.7 1025.4L1346.7 1025.4L1346.7 1051.4L1342.8 1052.1ZM1320.7 1051.4L1320.7 1025.4L1324.7 1024.7L1350.7 1024.7L1350.7 1050.7L1346.7 1051.4ZM1324.7 1050.7L1324.7 1024.7L1328.6 1024.0L1354.6 1024.0L1354.6 1050.0L1350.7 1050.7ZM1328.6 1050.0L1328.6 1024.0L1332.6 1023.3L1358.6 1023.3L1358.6 1049.3L1354.6 1050.0ZM1332.6 1049.3L1332.6 1023.3L1336.5 1022.6L1362.5 1022.6L1362.5 1048.6L1358.6 1049.3ZM1336.5 1048.6L1336.5 1022.6L1340.4 1021.9L1366.4 1021.9L1366.4 1047.9L1362.5 1048.6ZM1340.4 1047.9L1340.4 1021.9L1344.4 1021.2L1370.4 1021.2L1370.4 1047.2L1366.4 1047.9ZM1344.4 1047.2L1344.4 1021.2L1348.3 1020.5L1374.3 1020.5L1374.3 1046.5L1370.4 1047.2ZM1348.3 1046.5L1348.3 1020.5L1352.3 1019.8L1378.3 1019.8L1378.3 1045.8L1374.3 1046.5ZM1352.3 1045.8L1352.3 1019.8L1356.2 1019.1L1382.2 1019.1L1382.2 1045.1L1378.3 1045.8ZM1356.2 1045.1L1356.2 1019.1L1360.2 1018.4L1386.2 1018.4L1386.2 1044.4L1382.2 1045.1ZM1360.2 1044.4L1360.2 1018.4L1364.1 1017.7L1390.1 1017.7L1390.1 1043.7L1386.2 1044.4ZM1364.1 1043.7L1364.1 1017.7L1368.0 1017.1L1394.0 1017.1L1394.0 1043.1L1390.1 1043.7ZM1368.0 1043.1L1368.0 1017.1L1372.0 1016.4L1398.0 1016.4L1398.0 1042.4L1394.0 1043.1ZM1372.0 1042.4L1372.0 1016.4L1375.9 1015.7L1401.9 1015.7L1401.9 1041.7L1398.0 1042.4ZM1375.9 1041.7L1375.9 1015.7L1379.9 1015.0L1405.9 1015.0L1405.9 1041.0L1401.9 1041.7ZM1379.9 1041.0L1379.9 1015.0L1383.8 1014.3L1409.8 1014.3L1409.8 1040.3L1405.9 1041.0ZM1383.8 1040.3L1383.8 1014.3L1387.8 1013.7L1413.8 1013.7L1413.8 1039.7L1409.8 1040.3ZM1387.8 1039.7L1387.8 1013.7L1391.7 1013.0L1417.7 1013.0L1417.7 1039.0L1413.8 1039.7ZM1391.7 1039.0L1391.7 1013.0L1395.7 1012.3L1421.7 1012.3L1421.7 1038.3L1417.7 1039.0ZM1395.7 1038.3L1395.7 1012.3L1399.6 1011.6L1425.6 1011.6L1425.6 1037.6L1421.7 1038.3ZM1399.6 1037.6L1399.6 1011.6L1403.5 1011.0L1429.5 1011.0L1429.5 1037.0L1425.6 1037.6ZM1403.5 1037.0L1403.5 1011.0L1407.5 1010.3L1433.5 1010.3L1433.5 1036.3L1429.5 1037.0ZM1407.5 1036.3L1407.5 1010.3L1411.4 1009.6L1437.4 1009.6L1437.4 1035.6L1433.5 1036.3ZM1411.4 1035.6L1411.4 1009.6L1415.4 1009.0L1441.4 1009.0L1441.4 1035.0L1437.4 1035.6ZM1415.4 1035.0L1415.4 1009.0L1419.3 1008.3L1445.3 1008.3L1445.3 1034.3L1441.4 1035.0ZM1419.3 1034.3L1419.3 1008.3L1423.3 1007.6L1449.3 1007.6L1449.3 1033.6L1445.3 1034.3ZM1423.3 1033.6L1423.3 1007.6L1427.2 1006.9L1453.2 1006.9L1453.2 1032.9L1449.3 1033.6ZM1427.2 1032.9L1427.2 1006.9L1431.2 1006.3L1457.2 1006.3L1457.2 1032.3L1453.2 1032.9ZM1431.2 1032.3L1431.2 1006.3L1435.1 1005.6L1461.1 1005.6L1461.1 1031.6L1457.2 1032.3ZM1435.1 1031.6L1435.1 1005.6L1439.1 1005.0L1465.1 1005.0L1465.1 1031.0L1461.1 1031.6ZM1439.1 1031.0L1439.1 1005.0L1443.0 1004.3L1469.0 1004.3L1469.0 1030.3L1465.1 1031.0ZM1443.0 1030.3L1443.0 1004.3L1447.0 1003.6L1473.0 1003.6L1473.0 1029.6L1469.0 1030.3ZM1447.0 1029.6L1447.0 1003.6L1450.9 1003.0L1476.9 1003.0L1476.9 1029.0L1473.0 1029.6ZM1450.9 1029.0L1450.9 1003.0L1454.9 1002.3L1480.9 1002.3L1480.9 1028.3L1476.9 1029.0ZM1454.9 1028.3L1454.9 1002.3L1458.8 1001.7L1484.8 1001.7L1484.8 1027.7L1480.9 1028.3ZM1458.8 1027.7L1458.8 1001.7L1462.7 1001.0L1488.7 1001.0L1488.7 1027.0L1484.8 1027.7ZM1462.7 1027.0L1462.7 1001.0L1466.7 1000.3L1492.7 1000.3L1492.7 1026.3L1488.7 1027.0ZM1466.7 1026.3L1466.7 1000.3L1470.6 999.7L1496.6 999.7L1496.6 1025.7L1492.7 1026.3ZM1470.6 1025.7L1470.6 999.7L1474.6 999.0L1500.6 999.0L1500.6 1025.0L1496.6 1025.7ZM1474.6 1025.0L1474.6 999.0L1478.5 998.4L1504.5 998.4L1504.5 1024.4L1500.6 1025.0ZM1478.5 1024.4L1478.5 998.4L1482.5 997.7L1508.5 997.7L1508.5 1023.7L1504.5 1024.4ZM1482.5 1023.7L1482.5 997.7L1486.4 997.1L1512.4 997.1L1512.4 1023.1L1508.5 1023.7ZM1486.4 1023.1L1486.4 997.1L1490.4 996.4L1516.4 996.4L1516.4 1022.4L1512.4 1023.1ZM1490.4 1022.4L1490.4 996.4L1494.3 995.8L1520.3 995.8L1520.3 1021.8L1516.4 1022.4ZM1494.3 1021.8L1494.3 995.8L1498.3 995.1L1524.3 995.1L1524.3 1021.1L1520.3 1021.8ZM1498.3 1021.1L1498.3 995.1L1502.2 994.5L1528.2 994.5L1528.2 1020.5L1524.3 1021.1ZM1502.2 1020.5L1502.2 994.5L1506.2 993.8L1532.2 993.8L1532.2 1019.8L1528.2 1020.5ZM1506.2 1019.8L1506.2 993.8L1510.1 993.2L1536.1 993.2L1536.1 1019.2L1532.2 1019.8ZM1510.1 1019.2L1510.1 993.2L1514.1 992.5L1540.1 992.5L1540.1 1018.5L1536.1 1019.2ZM1514.1 1018.5L1514.1 992.5L1518.0 991.9L1544.0 991.9L1544.0 1017.9L1540.1 1018.5ZM1518.0 1017.9L1518.0 991.9L1522.0 991.2L1548.0 991.2L1548.0 1017.2L1544.0 1017.9ZM1522.0 1017.2L1522.0 991.2L1525.9 990.6L1551.9 990.6L1551.9 1016.6L1548.0 1017.2ZM1525.9 1016.6L1525.9 990.6L1529.9 989.9L1555.9 989.9L1555.9 1015.9L1551.9 1016.6ZM1529.9 1015.9L1529.9 989.9L1533.8 989.3L1559.8 989.3L1559.8 1015.3L1555.9 1015.9ZM1533.8 1015.3L1533.8 989.3L1537.8 988.7L1563.8 988.7L1563.8 1014.7L1559.8 1015.3ZM1537.8 1014.7L1537.8 988.7L1541.7 988.0L1567.7 988.0L1567.7 1014.0L1563.8 1014.7ZM1541.7 1014.0L1541.7 988.0L1545.7 987.4L1571.7 987.4L1571.7 1013.4L1567.7 1014.0ZM1545.7 1013.4L1545.7 987.4L1549.6 986.7L1575.6 986.7L1575.6 1012.7L1571.7 1013.4ZM1549.6 1012.7L1549.6 986.7L1553.6 986.1L1579.6 986.1L1579.6 1012.1L1575.6 1012.7ZM1553.6 1012.1L1553.6 986.1L1557.5 985.4L1583.5 985.4L1583.5 1011.4L1579.6 1012.1ZM1557.5 1011.4L1557.5 985.4L1561.5 984.8L1587.5 984.8L1587.5 1010.8L1583.5 1011.4ZM1561.5 1010.8L1561.5 984.8L1565.5 984.2L1591.5 984.2L1591.5 1010.2L1587.5 1010.8ZM1565.5 1010.2L1565.5 984.2L1569.4 983.5L1595.4 983.5L1595.4 1009.5L1591.5 1010.2ZM1569.4 1009.5L1569.4 983.5L1573.4 982.9L1599.4 982.9L1599.4 1008.9L1595.4 1009.5ZM1573.4 1008.9L1573.4 982.9L1577.3 982.3L1603.3 982.3L1603.3 1008.3L1599.4 1008.9ZM1577.3 1008.3L1577.3 982.3L1581.3 981.6L1607.3 981.6L1607.3 1007.6L1603.3 1008.3ZM1581.3 1007.6L1581.3 981.6L1585.2 981.0L1611.2 981.0L1611.2 1007.0L1607.3 1007.6ZM1585.2 1007.0L1585.2 981.0L1589.2 980.3L1615.2 980.3L1615.2 1006.3L1611.2 1007.0ZM1589.2 1006.3L1589.2 980.3L1593.1 979.7L1619.1 979.7L1619.1 1005.7L1615.2 1006.3ZM1593.1 1005.7L1593.1 979.7L1597.1 979.1L1623.1 979.1L1623.1 1005.1L1619.1 1005.7ZM1597.1 1005.1L1597.1 979.1L1601.0 978.4L1627.0 978.4L1627.0 1004.4L1623.1 1005.1ZM1601.0 1004.4L1601.0 978.4L1605.0 977.8L1631.0 977.8L1631.0 1003.8L1627.0 1004.4ZM1605.0 1003.8L1605.0 977.8L1608.9 977.2L1634.9 977.2L1634.9 1003.2L1631.0 1003.8ZM1608.9 1003.2L1608.9 977.2L1612.9 976.5L1638.9 976.5L1638.9 1002.5L1634.9 1003.2ZM1612.9 1002.5L1612.9 976.5L1616.8 975.9L1642.8 975.9L1642.8 1001.9L1638.9 1002.5ZM1616.8 1001.9L1616.8 975.9L1620.8 975.3L1646.8 975.3L1646.8 1001.3L1642.8 1001.9ZM1620.8 1001.3L1620.8 975.3L1624.7 974.6L1650.7 974.6L1650.7 1000.6L1646.8 1001.3ZM1624.7 1000.6L1624.7 974.6L1628.7 974.0L1654.7 974.0L1654.7 1000.0L1650.7 1000.6ZM1628.7 1000.0L1628.7 974.0L1632.6 973.4L1658.6 973.4L1658.6 999.4L1654.7 1000.0ZM1632.6 999.4L1632.6 973.4L1636.6 972.7L1662.6 972.7L1662.6 998.7L1658.6 999.4ZM1636.6 998.7L1636.6 972.7L1640.5 972.1L1666.5 972.1L1666.5 998.1L1662.6 998.7ZM1640.5 998.1L1640.5 972.1L1644.5 971.5L1670.5 971.5L1670.5 997.5L1666.5 998.1ZM1644.5 997.5L1644.5 971.5L1648.4 970.8L1674.4 970.8L1674.4 996.8L1670.5 997.5ZM1648.4 996.8L1648.4 970.8L1652.4 970.2L1678.4 970.2L1678.4 996.2L1674.4 996.8ZM1652.4 996.2L1652.4 970.2L1656.3 969.6L1682.3 969.6L1682.3 995.6L1678.4 996.2ZM1656.3 995.6L1656.3 969.6L1660.3 968.9L1686.3 968.9L1686.3 994.9L1682.3 995.6ZM1660.3 994.9L1660.3 968.9L1664.3 968.3L1690.3 968.3L1690.3 994.3L1686.3 994.9ZM1664.3 994.3L1664.3 968.3L1668.2 967.7L1694.2 967.7L1694.2 993.7L1690.3 994.3ZM1668.2 993.7L1668.2 967.7L1672.2 967.0L1698.2 967.0L1698.2 993.0L1694.2 993.7ZM1672.2 993.0L1672.2 967.0L1676.1 966.4L1702.1 966.4L1702.1 992.4L1698.2 993.0ZM1676.1 992.4L1676.1 966.4L1680.1 965.8L1706.1 965.8L1706.1 991.8L1702.1 992.4ZM1680.1 991.8L1680.1 965.8L1684.0 965.1L1710.0 965.1L1710.0 991.1L1706.1 991.8ZM1684.0 991.1L1684.0 965.1L1688.0 964.5L1714.0 964.5L1714.0 990.5L1710.0 991.1ZM1688.0 990.5L1688.0 964.5L1691.9 963.9L1717.9 963.9L1717.9 989.9L1714.0 990.5ZM1691.9 989.9L1691.9 963.9L1695.9 963.2L1721.9 963.2L1721.9 989.2L1717.9 989.9ZM1695.9 989.2L1695.9 963.2L1699.8 962.6L1725.8 962.6L1725.8 988.6L1721.9 989.2ZM1699.8 988.6L1699.8 962.6L1703.8 962.0L1729.8 962.0L1729.8 988.0L1725.8 988.6ZM1703.8 988.0L1703.8 962.0L1707.7 961.3L1733.7 961.3L1733.7 987.3L1729.8 988.0ZM1707.7 987.3L1707.7 961.3L1711.7 960.7L1737.7 960.7L1737.7 986.7L1733.7 987.3ZM1711.7 986.7L1711.7 960.7L1715.6 960.1L1741.6 960.1L1741.6 986.1L1737.7 986.7ZM1715.6 986.1L1715.6 960.1L1719.6 959.4L1745.6 959.4L1745.6 985.4L1741.6 986.1ZM1719.6 985.4L1719.6 959.4L1723.5 958.8L1749.5 958.8L1749.5 984.8L1745.6 985.4ZM1723.5 984.8L1723.5 958.8L1727.5 958.2L1753.5 958.2L1753.5 984.2L1749.5 984.8ZM1727.5 984.2L1727.5 958.2L1731.4 957.5L1757.4 957.5L1757.4 983.5L1753.5 984.2ZM1731.4 983.5L1731.4 957.5L1735.4 956.9L1761.4 956.9L1761.4 982.9L1757.4 983.5ZM1735.4 982.9L1735.4 956.9L1739.3 956.3L1765.3 956.3L1765.3 982.3L1761.4 982.9ZM1739.3 982.3L1739.3 956.3L1743.3 955.6L1769.3 955.6L1769.3 981.6L1765.3 982.3ZM1743.3 981.6L1743.3 955.6L1747.2 955.0L1773.2 955.0L1773.2 981.0L1769.3 981.6Z"/>
<path fill="#ff0000" d="M396.1 160.0L396.8 155.6L398.8 151.5L402.0 148.4L406.0 146.3L410.5 145.6L414.9 146.3L419.0 148.4L422.1 151.5L424.2 155.6L424.8 159.5L425.5 164.0L424.8 168.4L422.8 172.4L419.6 175.6L415.6 177.7L411.1 178.4L406.7 177.7L402.7 175.6L399.5 172.4L397.4 168.4L396.8 164.5ZM396.7 164.0L397.4 159.5L399.5 155.5L402.7 152.3L406.7 150.3L411.1 149.6L415.6 150.3L419.6 152.3L422.8 155.5L424.8 159.5L425.5 163.5L426.2 167.9L425.5 172.4L423.4 176.4L420.3 179.6L416.2 181.6L411.8 182.3L407.3 181.6L403.3 179.6L400.1 176.4L398.1 172.4L397.4 168.4ZM397.4 167.9L398.1 163.5L400.1 159.4L403.3 156.3L407.3 154.2L411.8 153.5L416.2 154.2L420.3 156.3L423.4 159.4L425.5 163.5L426.1 167.4L426.8 171.9L426.1 176.3L424.1 180.3L420.9 183.5L416.9 185.6L412.4 186.3L408.0 185.6L404.0 183.5L400.8 180.3L398.7 176.3L398.1 172.4ZM398.0 171.9L398.7 167.4L400.8 163.4L404.0 160.2L408.0 158.2L412.4 157.5L416.9 158.2L420.9 160.2L424.1 163.4L426.1 167.4L426.8 171.4L427.5 175.8L426.8 180.3L424.7 184.3L421.5 187.5L417.5 189.5L413.1 190.2L408.6 189.5L404.6 187.5L401.4 184.3L399.4 180.3L398.7 176.3ZM401.4 167.4L404.6 164.2L408.6 162.1L413.1 161.4L417.5 162.1L421.5 164.2L424.7 167.4L426.8 171.4L427.4 175.3L428.1 179.8L427.4 184.2L425.4 188.2L422.2 191.4L418.2 193.5L413.7 194.2L409.3 193.5L405.3 191.4L402.1 188.2L400.0 184.2L399.4 180.3L398.7 175.8L399.4 171.4ZM399.3 179.8L400.0 175.3L402.1 171.3L405.3 168.1L409.3 166.1L413.7 165.4L418.2 166.1L422.2 168.1L425.4 171.3L427.4 175.3L428.1 179.3L428.8 183.7L428.1 188.2L426.0 192.2L422.8 195.4L418.8 197.4L414.4 198.1L409.9 197.4L405.9 195.4L402.7 192.2L400.7 188.2L400.0 184.2ZM402.7 175.3L405.9 172.1L409.9 170.0L414.4 169.3L418.8 170.0L422.8 172.1L426.0 175.3L428.1 179.3L428.7 183.2L429.4 187.7L428.7 192.1L426.7 196.2L423.5 199.3L419.5 201.4L415.0 202.1L410.6 201.4L406.5 199.3L403.4 196.2L401.3 192.1L400.7 188.2L400.0 183.7L400.7 179.3ZM400.6 187.7L401.3 183.2L403.4 179.2L406.5 176.0L410.6 174.0L415.0 173.3L419.5 174.0L423.5 176.0L426.7 179.2L428.7 183.2L429.3 187.2L430.1 191.6L429.3 196.1L427.3 200.1L424.1 203.3L420.1 205.3L415.7 206.0L411.2 205.3L407.2 203.3L404.0 200.1L402.0 196.1L401.3 192.1ZM401.3 191.6L402.0 187.2L404.0 183.2L407.2 180.0L411.2 178.0L415.7 177.2L420.1 178.0L424.1 180.0L427.3 183.2L429.3 187.2L430.0 191.2L430.7 195.6L430.0 200.1L427.9 204.1L424.8 207.3L420.7 209.3L416.3 210.0L411.8 209.3L407.8 207.3L404.6 204.1L402.6 200.1L402.0 196.1ZM401.9 195.6L402.6 191.2L404.6 187.1L407.8 184.0L411.8 181.9L416.3 181.2L420.7 181.9L424.8 184.0L427.9 187.1L430.0 191.2L430.6 195.1L431.3 199.6L430.6 204.0L428.6 208.0L425.4 211.2L421.4 213.3L416.9 214.0L412.5 213.3L408.5 211.2L405.3 208.0L403.2 204.0L402.6 200.1ZM402.5 199.6L403.2 195.1L405.3 191.1L408.5 187.9L412.5 185.9L416.9 185.2L421.4 185.9L425.4 187.9L428.6 191.1L430.6 195.1L431.3 199.1L432.0 203.5L431.3 208.0L429.2 212.0L426.0 215.2L422.0 217.2L417.6 217.9L413.1 217.2L409.1 215.2L405.9 212.0L403.9 208.0L403.2 204.0ZM403.2 203.5L403.9 199.1L405.9 195.1L409.1 191.9L413.1 189.8L417.6 189.1L422.0 189.8L426.0 191.9L429.2 195.1L431.3 199.1L431.9 203.0L432.6 207.5L431.9 211.9L429.9 215.9L426.7 219.1L422.7 221.2L418.2 221.9L413.8 221.2L409.8 219.1L406.6 215.9L404.5 211.9L403.9 208.0ZM406.6 199.0L409.8 195.8L413.8 193.8L418.2 193.1L422.7 193.8L426.7 195.8L429.9 199.0L431.9 203.0L432.6 207.0L433.3 211.4L432.6 215.9L430.5 219.9L427.3 223.1L423.3 225.1L418.9 225.8L414.4 225.1L410.4 223.1L407.2 219.9L405.2 215.9L404.5 211.9L403.8 207.5L404.5 203.0ZM404.5 211.4L405.2 207.0L407.2 203.0L410.4 199.8L414.4 197.7L418.9 197.0L423.3 197.7L427.3 199.8L430.5 203.0L432.6 207.0L433.2 210.9L433.9 215.4L433.2 219.8L431.2 223.8L428.0 227.0L424.0 229.1L419.5 229.8L415.1 229.1L411.1 227.0L407.9 223.8L405.8 219.8L405.2 215.9ZM405.1 215.4L405.8 210.9L407.9 206.9L411.1 203.7L415.1 201.7L419.5 201.0L424.0 201.7L428.0 203.7L431.2 206.9L433.2 210.9L433.9 214.9L434.6 219.3L433.9 223.8L431.8 227.8L428.6 231.0L424.6 233.0L420.2 233.7L415.7 233.0L411.7 231.0L408.5 227.8L406.5 223.8L405.8 219.8ZM405.8 219.3L406.5 214.9L408.5 210.9L411.7 207.7L415.7 205.6L420.2 204.9L424.6 205.6L428.6 207.7L431.8 210.9L433.9 214.9L434.5 218.8L435.2 223.3L434.5 227.7L432.5 231.8L429.3 234.9L425.3 237.0L420.8 237.7L416.4 237.0L412.4 234.9L409.2 231.8L407.1 227.7L406.5 223.8ZM409.2 214.8L412.4 211.6L416.4 209.6L420.8 208.9L425.3 209.6L429.3 211.6L432.5 214.8L434.5 218.8L435.2 222.8L435.9 227.2L435.2 231.7L433.1 235.7L429.9 238.9L425.9 240.9L421.5 241.6L417.0 240.9L413.0 238.9L409.8 235.7L407.8 231.7L407.1 227.7L406.4 223.3L407.1 218.8ZM407.1 227.2L407.8 222.8L409.8 218.8L413.0 215.6L417.0 213.6L421.5 212.8L425.9 213.6L429.9 215.6L433.1 218.8L435.2 222.8L435.8 226.8L436.5 231.2L435.8 235.7L433.8 239.7L430.6 242.9L426.6 244.9L422.1 245.6L417.7 244.9L413.7 242.9L410.5 239.7L408.4 235.7L407.8 231.7ZM410.5 222.7L413.7 219.6L417.7 217.5L422.1 216.8L426.6 217.5L430.6 219.6L433.8 222.7L435.8 226.8L436.5 230.7L437.2 235.2L436.5 239.6L434.4 243.6L431.2 246.8L427.2 248.8L422.8 249.6L418.3 248.8L414.3 246.8L411.1 243.6L409.1 239.6L408.4 235.7L407.7 231.2L408.4 226.8ZM408.4 235.2L409.1 230.7L411.1 226.7L414.3 223.5L418.3 221.5L422.8 220.8L427.2 221.5L431.2 223.5L434.4 226.7L436.5 230.7L437.1 234.7L437.8 239.1L437.1 243.6L435.1 247.6L431.9 250.8L427.9 252.8L423.4 253.5L419.0 252.8L415.0 250.8L411.8 247.6L409.7 243.6L409.1 239.6ZM409.0 239.1L409.7 234.7L411.8 230.6L415.0 227.5L419.0 225.4L423.4 224.7L427.9 225.4L431.9 227.5L435.1 230.6L437.1 234.7L437.8 238.6L438.5 243.1L437.8 247.5L435.7 251.5L432.5 254.7L428.5 256.8L424.1 257.5L419.6 256.8L415.6 254.7L412.4 251.5L410.4 247.5L409.7 243.6ZM409.7 243.1L410.4 238.6L412.4 234.6L415.6 231.4L419.6 229.4L424.1 228.7L428.5 229.4L432.5 231.4L435.7 234.6L437.8 238.6L438.4 242.6L439.1 247.0L438.4 251.5L436.4 255.5L433.2 258.7L429.2 260.7L424.7 261.4L420.3 260.7L416.3 258.7L413.1 255.5L411.0 251.5L410.4 247.5ZM410.3 247.0L411.0 242.6L413.1 238.6L416.3 235.4L420.3 233.3L424.7 232.6L429.2 233.3L433.2 235.4L436.4 238.6L438.4 242.6L439.1 246.5L439.8 251.0L439.1 255.4L437.1 259.4L433.9 262.6L429.9 264.7L425.4 265.4L421.0 264.7L416.9 262.6L413.8 259.4L411.7 255.4L411.0 251.5ZM411.0 251.0L411.7 246.5L413.8 242.5L416.9 239.3L421.0 237.3L425.4 236.6L429.9 237.3L433.9 239.3L437.1 242.5L439.1 246.5L439.8 250.5L440.5 254.9L439.8 259.4L437.7 263.4L434.5 266.6L430.5 268.6L426.1 269.3L421.6 268.6L417.6 266.6L414.4 263.4L412.4 259.4L411.7 255.4ZM414.4 246.5L417.6 243.3L421.6 241.2L426.1 240.5L430.5 241.2L434.5 243.3L437.7 246.5L439.8 250.5L440.4 254.4L441.1 258.9L440.4 263.3L438.4 267.3L435.2 270.5L431.2 272.6L426.7 273.3L422.3 272.6L418.3 270.5L415.1 267.3L413.0 263.3L412.4 259.4L411.7 254.9L412.4 250.5ZM412.3 258.9L413.0 254.4L415.1 250.4L418.3 247.2L422.3 245.2L426.7 244.5L431.2 245.2L435.2 247.2L438.4 250.4L440.4 254.4L441.1 258.4L441.8 262.8L441.1 267.3L439.0 271.3L435.9 274.5L431.8 276.5L427.4 277.2L422.9 276.5L418.9 274.5L415.7 271.3L413.7 267.3L413.0 263.3ZM413.0 262.8L413.7 258.4L415.7 254.4L418.9 251.2L422.9 249.1L427.4 248.4L431.8 249.1L435.9 251.2L439.0 254.4L441.1 258.4L441.8 262.3L442.5 266.8L441.8 271.2L439.7 275.2L436.5 278.4L432.5 280.5L428.1 281.2L423.6 280.5L419.6 278.4L416.4 275.2L414.4 271.2L413.7 267.3ZM413.7 266.8L414.4 262.3L416.4 258.3L419.6 255.1L423.6 253.1L428.1 252.4L432.5 253.1L436.5 255.1L439.7 258.3L441.8 262.3L442.4 266.3L443.1 270.7L442.4 275.2L440.4 279.2L437.2 282.4L433.2 284.4L428.7 285.1L424.3 284.4L420.3 282.4L417.1 279.2L415.0 275.2L414.4 271.2ZM417.1 262.3L420.3 259.1L424.3 257.0L428.7 256.3L433.2 257.0L437.2 259.1L440.4 262.3L442.4 266.3L443.1 270.2L443.8 274.7L443.1 279.1L441.1 283.1L437.9 286.3L433.9 288.4L429.4 289.1L425.0 288.4L421.0 286.3L417.8 283.1L415.7 279.1L415.0 275.2L414.3 270.7L415.0 266.3ZM415.0 274.7L415.7 270.2L417.8 266.2L421.0 263.0L425.0 261.0L429.4 260.3L433.9 261.0L437.9 263.0L441.1 266.2L443.1 270.2L443.8 274.2L444.5 278.6L443.8 283.1L441.7 287.1L438.6 290.3L434.5 292.3L430.1 293.0L425.6 292.3L421.6 290.3L418.4 287.1L416.4 283.1L415.7 279.1ZM415.7 278.6L416.4 274.2L418.4 270.2L421.6 267.0L425.6 264.9L430.1 264.2L434.5 264.9L438.6 267.0L441.7 270.2L443.8 274.2L444.5 278.1L445.2 282.6L444.5 287.0L442.4 291.0L439.2 294.2L435.2 296.3L430.8 297.0L426.3 296.3L422.3 294.2L419.1 291.0L417.1 287.0L416.4 283.1ZM416.4 282.6L417.1 278.1L419.1 274.1L422.3 270.9L426.3 268.9L430.8 268.2L435.2 268.9L439.2 270.9L442.4 274.1L444.5 278.1L445.2 282.1L445.9 286.5L445.2 291.0L443.1 295.0L439.9 298.2L435.9 300.2L431.5 300.9L427.0 300.2L423.0 298.2L419.8 295.0L417.8 291.0L417.1 287.0ZM417.1 286.5L417.8 282.1L419.8 278.1L423.0 274.9L427.0 272.8L431.5 272.1L435.9 272.8L439.9 274.9L443.1 278.1L445.2 282.1L445.8 286.0L446.6 290.5L445.8 294.9L443.8 298.9L440.6 302.1L436.6 304.2L432.2 304.9L427.7 304.2L423.7 302.1L420.5 298.9L418.5 294.9L417.8 291.0ZM417.8 290.5L418.5 286.0L420.5 282.0L423.7 278.8L427.7 276.8L432.2 276.1L436.6 276.8L440.6 278.8L443.8 282.0L445.8 286.0L446.5 290.0L447.2 294.4L446.5 298.9L444.5 302.9L441.3 306.1L437.3 308.1L432.8 308.8L428.4 308.1L424.4 306.1L421.2 302.9L419.2 298.9L418.5 294.9ZM418.4 294.4L419.2 290.0L421.2 286.0L424.4 282.8L428.4 280.7L432.8 280.0L437.3 280.7L441.3 282.8L444.5 286.0L446.5 290.0L447.2 293.9L447.9 298.4L447.2 302.8L445.2 306.8L442.0 310.0L438.0 312.1L433.5 312.8L429.1 312.1L425.1 310.0L421.9 306.8L419.8 302.8L419.2 298.9ZM419.1 298.4L419.8 293.9L421.9 289.9L425.1 286.7L429.1 284.7L433.5 284.0L438.0 284.7L442.0 286.7L445.2 289.9L447.2 293.9L447.9 297.9L448.6 302.3L447.9 306.8L445.9 310.8L442.7 314.0L438.7 316.0L434.2 316.7L429.8 316.0L425.8 314.0L422.6 310.8L420.5 306.8L419.8 302.8ZM419.8 302.3L420.5 297.9L422.6 293.9L425.8 290.7L429.8 288.6L434.2 287.9L438.7 288.6L442.7 290.7L445.9 293.9L447.9 297.9L448.6 301.8L449.3 306.3L448.6 310.7L446.6 314.7L443.4 317.9L439.4 320.0L434.9 320.7L430.5 320.0L426.5 317.9L423.3 314.7L421.2 310.7L420.5 306.8ZM420.5 306.3L421.2 301.8L423.3 297.8L426.5 294.6L430.5 292.6L434.9 291.9L439.4 292.6L443.4 294.6L446.6 297.8L448.6 301.8L449.3 305.8L450.1 310.2L449.3 314.7L447.3 318.7L444.1 321.9L440.1 323.9L435.7 324.6L431.2 323.9L427.2 321.9L424.0 318.7L422.0 314.7L421.2 310.7ZM421.3 310.2L422.0 305.8L424.0 301.7L427.2 298.6L431.2 296.5L435.7 295.8L440.1 296.5L444.1 298.6L447.3 301.7L449.3 305.8L450.1 309.7L450.8 314.2L450.1 318.6L448.0 322.6L444.8 325.8L440.8 327.8L436.4 328.6L431.9 327.8L427.9 325.8L424.7 322.6L422.7 318.6L422.0 314.7ZM422.0 314.2L422.7 309.7L424.7 305.7L427.9 302.5L431.9 300.5L436.4 299.8L440.8 300.5L444.8 302.5L448.0 305.7L450.1 309.7L450.8 313.6L451.5 318.1L450.8 322.5L448.7 326.6L445.5 329.7L441.5 331.8L437.1 332.5L432.6 331.8L428.6 329.7L425.4 326.6L423.4 322.5L422.7 318.6ZM422.7 318.1L423.4 313.6L425.4 309.6L428.6 306.4L432.6 304.4L437.1 303.7L441.5 304.4L445.5 306.4L448.7 309.6L450.8 313.6L451.5 317.6L452.2 322.0L451.5 326.5L449.5 330.5L446.3 333.7L442.3 335.7L437.8 336.4L433.4 335.7L429.3 333.7L426.2 330.5L424.1 326.5L423.4 322.5ZM423.4 322.0L424.1 317.6L426.2 313.6L429.3 310.4L433.4 308.3L437.8 307.6L442.3 308.3L446.3 310.4L449.5 313.6L451.5 317.6L452.2 321.5L452.9 326.0L452.2 330.4L450.2 334.4L447.0 337.6L443.0 339.7L438.5 340.4L434.1 339.7L430.1 337.6L426.9 334.4L424.8 330.4L424.1 326.5ZM424.1 326.0L424.8 321.5L426.9 317.5L430.1 314.3L434.1 312.3L438.5 311.6L443.0 312.3L447.0 314.3L450.2 317.5L452.2 321.5L453.0 325.5L453.7 329.9L453.0 334.4L450.9 338.4L447.7 341.6L443.7 343.6L439.3 344.3L434.8 343.6L430.8 341.6L427.6 338.4L425.6 334.4L424.8 330.4ZM427.6 321.5L430.8 318.3L434.8 316.2L439.3 315.5L443.7 316.2L447.7 318.3L450.9 321.5L453.0 325.5L453.7 329.4L454.4 333.9L453.7 338.3L451.6 342.3L448.5 345.5L444.4 347.6L440.0 348.3L435.5 347.6L431.5 345.5L428.3 342.3L426.3 338.3L425.6 334.4L424.9 329.9L425.6 325.5ZM425.6 333.9L426.3 329.4L428.3 325.4L431.5 322.2L435.5 320.2L440.0 319.5L444.4 320.2L448.5 322.2L451.6 325.4L453.7 329.4L454.4 333.3L455.1 337.8L454.4 342.2L452.4 346.3L449.2 349.4L445.2 351.5L440.7 352.2L436.3 351.5L432.3 349.4L429.1 346.3L427.0 342.2L426.3 338.3ZM426.3 337.8L427.0 333.3L429.1 329.3L432.3 326.1L436.3 324.1L440.7 323.4L445.2 324.1L449.2 326.1L452.4 329.3L454.4 333.3L455.2 337.3L455.9 341.7L455.2 346.2L453.1 350.2L449.9 353.4L445.9 355.4L441.5 356.1L437.0 355.4L433.0 353.4L429.8 350.2L427.8 346.2L427.0 342.2ZM427.1 341.7L427.8 337.3L429.8 333.3L433.0 330.1L437.0 328.0L441.5 327.3L445.9 328.0L449.9 330.1L453.1 333.3L455.2 337.3L455.9 341.2L456.6 345.7L455.9 350.1L453.9 354.1L450.7 357.3L446.7 359.4L442.2 360.1L437.8 359.4L433.8 357.3L430.6 354.1L428.5 350.1L427.8 346.2ZM427.8 345.7L428.5 341.2L430.6 337.2L433.8 334.0L437.8 332.0L442.2 331.3L446.7 332.0L450.7 334.0L453.9 337.2L455.9 341.2L456.7 345.2L457.4 349.6L456.7 354.1L454.6 358.1L451.4 361.3L447.4 363.3L443.0 364.0L438.5 363.3L434.5 361.3L431.3 358.1L429.3 354.1L428.5 350.1ZM431.3 341.1L434.5 338.0L438.5 335.9L443.0 335.2L447.4 335.9L451.4 338.0L454.6 341.1L456.7 345.2L457.4 349.1L458.1 353.5L457.4 358.0L455.4 362.0L452.2 365.2L448.2 367.2L443.7 367.9L439.3 367.2L435.3 365.2L432.1 362.0L430.0 358.0L429.3 354.1L428.6 349.6L429.3 345.2ZM432.1 345.1L435.3 341.9L439.3 339.8L443.7 339.1L448.2 339.8L452.2 341.9L455.4 345.1L457.4 349.1L458.2 353.0L458.9 357.5L458.2 361.9L456.2 365.9L453.0 369.1L449.0 371.2L444.5 371.9L440.1 371.2L436.0 369.1L432.9 365.9L430.8 361.9L430.0 358.0L429.3 353.5L430.0 349.1ZM430.1 357.5L430.8 353.0L432.9 349.0L436.0 345.8L440.1 343.8L444.5 343.1L449.0 343.8L453.0 345.8L456.2 349.0L458.2 353.0L459.0 357.0L459.7 361.4L459.0 365.9L456.9 369.9L453.7 373.1L449.7 375.1L445.3 375.8L440.8 375.1L436.8 373.1L433.6 369.9L431.6 365.9L430.8 361.9ZM430.9 361.4L431.6 357.0L433.6 352.9L436.8 349.8L440.8 347.7L445.3 347.0L449.7 347.7L453.7 349.8L456.9 352.9L459.0 357.0L459.8 360.9L460.5 365.3L459.8 369.8L457.7 373.8L454.5 377.0L450.5 379.0L446.1 379.7L441.6 379.0L437.6 377.0L434.4 373.8L432.4 369.8L431.6 365.9ZM431.7 365.3L432.4 360.9L434.4 356.9L437.6 353.7L441.6 351.6L446.1 350.9L450.5 351.6L454.5 353.7L457.7 356.9L459.8 360.9L460.5 364.8L461.2 369.3L460.5 373.7L458.5 377.7L455.3 380.9L451.3 383.0L446.8 383.7L442.4 383.0L438.4 380.9L435.2 377.7L433.1 373.7L432.4 369.8ZM432.4 369.3L433.1 364.8L435.2 360.8L438.4 357.6L442.4 355.6L446.8 354.9L451.3 355.6L455.3 357.6L458.5 360.8L460.5 364.8L461.3 368.8L462.0 373.2L461.3 377.7L459.3 381.7L456.1 384.9L452.1 386.9L447.6 387.6L443.2 386.9L439.2 384.9L436.0 381.7L433.9 377.7L433.1 373.7ZM433.2 373.2L433.9 368.8L436.0 364.7L439.2 361.6L443.2 359.5L447.6 358.8L452.1 359.5L456.1 361.6L459.3 364.7L461.3 368.8L462.1 372.7L462.8 377.1L462.1 381.6L460.1 385.6L456.9 388.8L452.9 390.8L448.4 391.5L444.0 390.8L440.0 388.8L436.8 385.6L434.7 381.6L433.9 377.7ZM434.0 377.1L434.7 372.7L436.8 368.7L440.0 365.5L444.0 363.4L448.4 362.7L452.9 363.4L456.9 365.5L460.1 368.7L462.1 372.7L462.9 376.6L463.6 381.1L462.9 385.5L460.9 389.5L457.7 392.7L453.7 394.8L449.2 395.5L444.8 394.8L440.8 392.7L437.6 389.5L435.5 385.5L434.7 381.6ZM434.8 381.1L435.5 376.6L437.6 372.6L440.8 369.4L444.8 367.4L449.2 366.7L453.7 367.4L457.7 369.4L460.9 372.6L462.9 376.6L463.7 380.5L464.4 385.0L463.7 389.4L461.7 393.4L458.5 396.6L454.5 398.7L450.0 399.4L445.6 398.7L441.6 396.6L438.4 393.4L436.3 389.4L435.5 385.5ZM435.6 385.0L436.3 380.5L438.4 376.5L441.6 373.3L445.6 371.3L450.0 370.6L454.5 371.3L458.5 373.3L461.7 376.5L463.7 380.5L464.6 384.5L465.3 388.9L464.6 393.4L462.5 397.4L459.3 400.6L455.3 402.6L450.9 403.3L446.4 402.6L442.4 400.6L439.2 397.4L437.2 393.4L436.3 389.4ZM439.2 380.4L442.4 377.3L446.4 375.2L450.9 374.5L455.3 375.2L459.3 377.3L462.5 380.4L464.6 384.5L465.4 388.4L466.1 392.8L465.4 397.3L463.3 401.3L460.1 404.5L456.1 406.5L451.7 407.2L447.2 406.5L443.2 404.5L440.0 401.3L438.0 397.3L437.2 393.4L436.5 388.9L437.2 384.5ZM437.3 392.8L438.0 388.4L440.0 384.4L443.2 381.2L447.2 379.1L451.7 378.4L456.1 379.1L460.1 381.2L463.3 384.4L465.4 388.4L466.2 392.3L466.9 396.7L466.2 401.2L464.2 405.2L461.0 408.4L457.0 410.4L452.5 411.1L448.1 410.4L444.0 408.4L440.9 405.2L438.8 401.2L438.0 397.3ZM438.1 396.7L438.8 392.3L440.9 388.3L444.0 385.1L448.1 383.1L452.5 382.3L457.0 383.1L461.0 385.1L464.2 388.3L466.2 392.3L467.0 396.2L467.7 400.7L467.0 405.1L465.0 409.1L461.8 412.3L457.8 414.4L453.3 415.1L448.9 414.4L444.9 412.3L441.7 409.1L439.7 405.1L438.8 401.2ZM438.9 400.7L439.7 396.2L441.7 392.2L444.9 389.0L448.9 387.0L453.3 386.3L457.8 387.0L461.8 389.0L465.0 392.2L467.0 396.2L467.9 400.1L468.6 404.6L467.9 409.0L465.8 413.1L462.7 416.2L458.6 418.3L454.2 419.0L449.7 418.3L445.7 416.2L442.5 413.1L440.5 409.0L439.7 405.1ZM439.8 404.6L440.5 400.1L442.5 396.1L445.7 392.9L449.7 390.9L454.2 390.2L458.6 390.9L462.7 392.9L465.8 396.1L467.9 400.1L468.7 404.1L469.4 408.5L468.7 413.0L466.7 417.0L463.5 420.2L459.5 422.2L455.0 422.9L450.6 422.2L446.6 420.2L443.4 417.0L441.3 413.0L440.5 409.0ZM440.6 408.5L441.3 404.1L443.4 400.0L446.6 396.9L450.6 394.8L455.0 394.1L459.5 394.8L463.5 396.9L466.7 400.0L468.7 404.1L469.6 408.0L470.3 412.4L469.6 416.9L467.5 420.9L464.4 424.1L460.3 426.1L455.9 426.8L451.4 426.1L447.4 424.1L444.2 420.9L442.2 416.9L441.3 413.0ZM444.2 404.0L447.4 400.8L451.4 398.7L455.9 398.0L460.3 398.7L464.4 400.8L467.5 404.0L469.6 408.0L470.4 411.9L471.2 416.3L470.4 420.8L468.4 424.8L465.2 428.0L461.2 430.0L456.8 430.7L452.3 430.0L448.3 428.0L445.1 424.8L443.1 420.8L442.2 416.9L441.5 412.4L442.2 408.0ZM442.4 416.3L443.1 411.9L445.1 407.9L448.3 404.7L452.3 402.6L456.8 401.9L461.2 402.6L465.2 404.7L468.4 407.9L470.4 411.9L471.3 415.8L472.0 420.2L471.3 424.7L469.3 428.7L466.1 431.9L462.1 433.9L457.6 434.6L453.2 433.9L449.1 431.9L446.0 428.7L443.9 424.7L443.1 420.8ZM443.2 420.2L443.9 415.8L446.0 411.8L449.1 408.6L453.2 406.6L457.6 405.8L462.1 406.6L466.1 408.6L469.3 411.8L471.3 415.8L472.2 419.7L472.9 424.2L472.2 428.6L470.1 432.6L466.9 435.8L462.9 437.9L458.5 438.6L454.0 437.9L450.0 435.8L446.8 432.6L444.8 428.6L443.9 424.7ZM444.1 424.2L444.8 419.7L446.8 415.7L450.0 412.5L454.0 410.5L458.5 409.8L462.9 410.5L466.9 412.5L470.1 415.7L472.2 419.7L473.0 423.6L473.7 428.1L473.0 432.5L471.0 436.5L467.8 439.7L463.8 441.8L459.3 442.5L454.9 441.8L450.9 439.7L447.7 436.5L445.7 432.5L444.8 428.6ZM444.9 428.1L445.7 423.6L447.7 419.6L450.9 416.4L454.9 414.4L459.3 413.7L463.8 414.4L467.8 416.4L471.0 419.6L473.0 423.6L473.9 427.5L474.6 432.0L473.9 436.4L471.9 440.5L468.7 443.6L464.7 445.7L460.2 446.4L455.8 445.7L451.8 443.6L448.6 440.5L446.5 436.4L445.7 432.5ZM445.8 432.0L446.5 427.5L448.6 423.5L451.8 420.3L455.8 418.3L460.2 417.6L464.7 418.3L468.7 420.3L471.9 423.5L473.9 427.5L474.8 431.4L475.5 435.9L474.8 440.3L472.7 444.4L469.6 447.5L465.5 449.6L461.1 450.3L456.6 449.6L452.6 447.5L449.4 444.4L447.4 440.3L446.5 436.4ZM446.7 435.9L447.4 431.4L449.4 427.4L452.6 424.2L456.6 422.2L461.1 421.5L465.5 422.2L469.6 424.2L472.7 427.4L474.8 431.4L475.7 435.4L476.4 439.8L475.7 444.3L473.6 448.3L470.4 451.5L466.4 453.5L462.0 454.2L457.5 453.5L453.5 451.5L450.3 448.3L448.3 444.3L447.4 440.3ZM447.6 439.8L448.3 435.4L450.3 431.3L453.5 428.2L457.5 426.1L462.0 425.4L466.4 426.1L470.4 428.2L473.6 431.3L475.7 435.4L476.6 439.3L477.3 443.7L476.6 448.2L474.5 452.2L471.3 455.4L467.3 457.4L462.9 458.1L458.4 457.4L454.4 455.4L451.2 452.2L449.2 448.2L448.3 444.3ZM448.5 443.7L449.2 439.3L451.2 435.3L454.4 432.1L458.4 430.0L462.9 429.3L467.3 430.0L471.3 432.1L474.5 435.3L476.6 439.3L477.4 443.2L478.1 447.6L477.4 452.1L475.4 456.1L472.2 459.3L468.2 461.3L463.7 462.0L459.3 461.3L455.3 459.3L452.1 456.1L450.0 452.1L449.2 448.2ZM449.3 447.6L450.0 443.2L452.1 439.2L455.3 436.0L459.3 433.9L463.7 433.2L468.2 433.9L472.2 436.0L475.4 439.2L477.4 443.2L478.3 447.1L479.0 451.5L478.3 456.0L476.3 460.0L473.1 463.2L469.1 465.2L464.6 465.9L460.2 465.2L456.2 463.2L453.0 460.0L450.9 456.0L450.0 452.1ZM450.2 451.5L450.9 447.1L453.0 443.1L456.2 439.9L460.2 437.8L464.6 437.1L469.1 437.8L473.1 439.9L476.3 443.1L478.3 447.1L479.2 451.0L479.9 455.4L479.2 459.9L477.1 463.9L474.0 467.1L469.9 469.1L465.5 469.8L461.0 469.1L457.0 467.1L453.8 463.9L451.8 459.9L450.9 456.0ZM451.1 455.4L451.8 451.0L453.8 447.0L457.0 443.8L461.0 441.8L465.5 441.0L469.9 441.8L474.0 443.8L477.1 447.0L479.2 451.0L480.1 454.9L480.8 459.4L480.1 463.8L478.0 467.8L474.8 471.0L470.8 473.1L466.4 473.8L461.9 473.1L457.9 471.0L454.7 467.8L452.7 463.8L451.8 459.9ZM452.0 459.4L452.7 454.9L454.7 450.9L457.9 447.7L461.9 445.7L466.4 445.0L470.8 445.7L474.8 447.7L478.0 450.9L480.1 454.9L481.0 458.8L481.7 463.3L481.0 467.7L478.9 471.7L475.7 474.9L471.7 477.0L467.3 477.7L462.8 477.0L458.8 474.9L455.6 471.7L453.6 467.7L452.7 463.8ZM452.9 463.3L453.6 458.8L455.6 454.8L458.8 451.6L462.8 449.6L467.3 448.9L471.7 449.6L475.7 451.6L478.9 454.8L481.0 458.8L481.8 462.7L482.5 467.2L481.8 471.6L479.8 475.6L476.6 478.8L472.6 480.9L468.1 481.6L463.7 480.9L459.7 478.8L456.5 475.6L454.4 471.6L453.6 467.7ZM453.7 467.2L454.4 462.7L456.5 458.7L459.7 455.5L463.7 453.5L468.1 452.8L472.6 453.5L476.6 455.5L479.8 458.7L481.8 462.7L482.7 466.6L483.4 471.1L482.7 475.5L480.7 479.6L477.5 482.7L473.5 484.8L469.0 485.5L464.6 484.8L460.6 482.7L457.4 479.6L455.3 475.5L454.4 471.6ZM454.6 471.1L455.3 466.6L457.4 462.6L460.6 459.4L464.6 457.4L469.0 456.7L473.5 457.4L477.5 459.4L480.7 462.6L482.7 466.6L483.6 470.5L484.3 475.0L483.6 479.4L481.6 483.5L478.4 486.6L474.4 488.7L469.9 489.4L465.5 488.7L461.4 486.6L458.3 483.5L456.2 479.4L455.3 475.5ZM455.5 475.0L456.2 470.5L458.3 466.5L461.4 463.3L465.5 461.3L469.9 460.6L474.4 461.3L478.4 463.3L481.6 466.5L483.6 470.5L484.5 474.5L485.2 478.9L484.5 483.4L482.4 487.4L479.2 490.6L475.2 492.6L470.8 493.3L466.3 492.6L462.3 490.6L459.1 487.4L457.1 483.4L456.2 479.4ZM456.4 478.9L457.1 474.5L459.1 470.4L462.3 467.3L466.3 465.2L470.8 464.5L475.2 465.2L479.2 467.3L482.4 470.4L484.5 474.5L485.3 478.4L486.1 482.8L485.3 487.3L483.3 491.3L480.1 494.5L476.1 496.5L471.7 497.2L467.2 496.5L463.2 494.5L460.0 491.3L458.0 487.3L457.1 483.4ZM457.3 482.8L458.0 478.4L460.0 474.4L463.2 471.2L467.2 469.1L471.7 468.4L476.1 469.1L480.1 471.2L483.3 474.4L485.3 478.4L486.2 482.3L486.9 486.7L486.2 491.2L484.2 495.2L481.0 498.4L477.0 500.4L472.5 501.1L468.1 500.4L464.1 498.4L460.9 495.2L458.8 491.2L458.0 487.3ZM458.1 486.7L458.8 482.3L460.9 478.3L464.1 475.1L468.1 473.0L472.5 472.3L477.0 473.0L481.0 475.1L484.2 478.3L486.2 482.3L487.1 486.2L487.8 490.6L487.1 495.1L485.0 499.1L481.9 502.3L477.8 504.3L473.4 505.0L468.9 504.3L464.9 502.3L461.7 499.1L459.7 495.1L458.8 491.2ZM459.0 490.6L459.7 486.2L461.7 482.2L464.9 479.0L468.9 476.9L473.4 476.2L477.8 476.9L481.9 479.0L485.0 482.2L487.1 486.2L487.9 490.1L488.7 494.6L487.9 499.0L485.9 503.0L482.7 506.2L478.7 508.3L474.3 509.0L469.8 508.3L465.8 506.2L462.6 503.0L460.6 499.0L459.7 495.1ZM463.5 506.9L461.4 502.9L460.6 499.0L459.9 494.6L460.6 490.1L462.6 486.1L465.8 482.9L469.8 480.9L474.3 480.2L478.7 480.9L482.7 482.9L485.9 486.1L487.9 490.1L488.8 494.0L489.5 498.5L488.8 502.9L486.8 506.9L483.6 510.1L479.6 512.2L475.1 512.9L470.7 512.2L466.6 510.1ZM460.7 498.5L461.4 494.0L463.5 490.0L466.6 486.8L470.7 484.8L475.1 484.1L479.6 484.8L483.6 486.8L486.8 490.0L488.8 494.0L489.7 497.9L490.4 502.4L489.7 506.8L487.6 510.9L484.4 514.0L480.4 516.1L476.0 516.8L471.5 516.1L467.5 514.0L464.3 510.9L462.3 506.8L461.4 502.9ZM465.2 514.8L463.1 510.8L462.3 506.8L461.6 502.4L462.3 497.9L464.3 493.9L467.5 490.7L471.5 488.7L476.0 488.0L480.4 488.7L484.4 490.7L487.6 493.9L489.7 497.9L490.5 501.9L491.2 506.3L490.5 510.8L488.5 514.8L485.3 518.0L481.3 520.0L476.8 520.7L472.4 520.0L468.4 518.0ZM466.0 518.7L464.0 514.7L463.1 510.8L462.4 506.3L463.1 501.9L465.2 497.8L468.4 494.7L472.4 492.6L476.8 491.9L481.3 492.6L485.3 494.7L488.5 497.8L490.5 501.9L491.4 505.8L492.1 510.2L491.4 514.7L489.3 518.7L486.1 521.9L482.1 523.9L477.7 524.6L473.2 523.9L469.2 521.9ZM463.3 510.2L464.0 505.8L466.0 501.8L469.2 498.6L473.2 496.5L477.7 495.8L482.1 496.5L486.1 498.6L489.3 501.8L491.4 505.8L492.2 509.7L492.9 514.1L492.2 518.6L490.2 522.6L487.0 525.8L483.0 527.8L478.5 528.5L474.1 527.8L470.1 525.8L466.9 522.6L464.8 518.6L464.0 514.7ZM464.1 514.1L464.8 509.7L466.9 505.7L470.1 502.5L474.1 500.4L478.5 499.7L483.0 500.4L487.0 502.5L490.2 505.7L492.2 509.7L493.1 513.6L493.8 518.1L493.1 522.5L491.0 526.5L487.9 529.7L483.8 531.7L479.4 532.5L474.9 531.7L470.9 529.7L467.7 526.5L465.7 522.5L464.8 518.6ZM465.0 518.1L465.7 513.6L467.7 509.6L470.9 506.4L474.9 504.4L479.4 503.7L483.8 504.4L487.9 506.4L491.0 509.6L493.1 513.6L493.9 517.5L494.6 522.0L493.9 526.4L491.9 530.4L488.7 533.6L484.7 535.7L480.2 536.4L475.8 535.7L471.8 533.6L468.6 530.4L466.6 526.4L465.7 522.5ZM468.6 513.5L471.8 510.3L475.8 508.3L480.2 507.6L484.7 508.3L488.7 510.3L491.9 513.5L493.9 517.5L494.8 521.4L495.5 525.9L494.8 530.3L492.8 534.3L489.6 537.5L485.6 539.6L481.1 540.3L476.7 539.6L472.6 537.5L469.5 534.3L467.4 530.3L466.6 526.4L465.8 522.0L466.6 517.5ZM466.7 525.9L467.4 521.4L469.5 517.4L472.6 514.2L476.7 512.2L481.1 511.5L485.6 512.2L489.6 514.2L492.8 517.4L494.8 521.4L495.7 525.3L496.4 529.8L495.7 534.2L493.6 538.3L490.4 541.4L486.4 543.5L482.0 544.2L477.5 543.5L473.5 541.4L470.3 538.3L468.3 534.2L467.4 530.3ZM467.6 529.8L468.3 525.3L470.3 521.3L473.5 518.1L477.5 516.1L482.0 515.4L486.4 516.1L490.4 518.1L493.6 521.3L495.7 525.3L496.5 529.3L497.2 533.7L496.5 538.2L494.5 542.2L491.3 545.4L487.3 547.4L482.8 548.1L478.4 547.4L474.4 545.4L471.2 542.2L469.1 538.2L468.3 534.2ZM468.4 533.7L469.1 529.3L471.2 525.2L474.4 522.1L478.4 520.0L482.8 519.3L487.3 520.0L491.3 522.1L494.5 525.2L496.5 529.3L497.4 533.2L498.1 537.6L497.4 542.1L495.3 546.1L492.2 549.3L488.1 551.3L483.7 552.0L479.2 551.3L475.2 549.3L472.0 546.1L470.0 542.1L469.1 538.2ZM469.3 537.6L470.0 533.2L472.0 529.2L475.2 526.0L479.2 523.9L483.7 523.2L488.1 523.9L492.2 526.0L495.3 529.2L497.4 533.2L498.3 537.1L499.0 541.5L498.3 546.0L496.2 550.0L493.0 553.2L489.0 555.2L484.6 555.9L480.1 555.2L476.1 553.2L472.9 550.0L470.9 546.0L470.0 542.1ZM470.2 541.5L470.9 537.1L472.9 533.1L476.1 529.9L480.1 527.8L484.6 527.1L489.0 527.8L493.0 529.9L496.2 533.1L498.3 537.1L499.1 541.0L499.8 545.4L499.1 549.9L497.1 553.9L493.9 557.1L489.9 559.1L485.4 559.8L481.0 559.1L477.0 557.1L473.8 553.9L471.7 549.9L470.9 546.0ZM471.0 545.4L471.7 541.0L473.8 537.0L477.0 533.8L481.0 531.8L485.4 531.0L489.9 531.8L493.9 533.8L497.1 537.0L499.1 541.0L500.0 544.9L500.7 549.4L500.0 553.8L498.0 557.8L494.8 561.0L490.8 563.1L486.3 563.8L481.9 563.1L477.8 561.0L474.7 557.8L472.6 553.8L471.7 549.9ZM471.9 549.4L472.6 544.9L474.7 540.9L477.8 537.7L481.9 535.7L486.3 535.0L490.8 535.7L494.8 537.7L498.0 540.9L500.0 544.9L500.9 548.8L501.6 553.3L500.9 557.7L498.8 561.7L495.7 564.9L491.6 567.0L487.2 567.7L482.7 567.0L478.7 564.9L475.5 561.7L473.5 557.7L472.6 553.8ZM472.8 553.3L473.5 548.8L475.5 544.8L478.7 541.6L482.7 539.6L487.2 538.9L491.6 539.6L495.7 541.6L498.8 544.8L500.9 548.8L501.8 552.7L502.5 557.2L501.8 561.6L499.7 565.6L496.5 568.8L492.5 570.9L488.1 571.6L483.6 570.9L479.6 568.8L476.4 565.6L474.4 561.6L473.5 557.7ZM473.7 557.2L474.4 552.7L476.4 548.7L479.6 545.5L483.6 543.5L488.1 542.8L492.5 543.5L496.5 545.5L499.7 548.7L501.8 552.7L502.7 556.6L503.4 561.1L502.7 565.5L500.6 569.5L497.4 572.7L493.4 574.8L489.0 575.5L484.5 574.8L480.5 572.7L477.3 569.5L475.3 565.5L474.4 561.6ZM474.6 561.1L475.3 556.6L477.3 552.6L480.5 549.4L484.5 547.4L489.0 546.7L493.4 547.4L497.4 549.4L500.6 552.6L502.7 556.6L503.6 560.5L504.3 565.0L503.6 569.4L501.5 573.5L498.3 576.6L494.3 578.7L489.9 579.4L485.4 578.7L481.4 576.6L478.2 573.5L476.2 569.4L475.3 565.5ZM475.5 565.0L476.2 560.5L478.2 556.5L481.4 553.3L485.4 551.3L489.9 550.6L494.3 551.3L498.3 553.3L501.5 556.5L503.6 560.5L504.5 564.4L505.2 568.9L504.5 573.3L502.4 577.4L499.3 580.5L495.2 582.6L490.8 583.3L486.3 582.6L482.3 580.5L479.1 577.4L477.1 573.3L476.2 569.4ZM476.4 568.9L477.1 564.4L479.1 560.4L482.3 557.2L486.3 555.2L490.8 554.5L495.2 555.2L499.3 557.2L502.4 560.4L504.5 564.4L505.4 568.3L506.1 572.8L505.4 577.2L503.4 581.3L500.2 584.4L496.2 586.5L491.7 587.2L487.3 586.5L483.3 584.4L480.1 581.3L478.0 577.2L477.1 573.3ZM477.3 572.8L478.0 568.3L480.1 564.3L483.3 561.1L487.3 559.1L491.7 558.4L496.2 559.1L500.2 561.1L503.4 564.3L505.4 568.3L506.3 572.2L507.0 576.7L506.3 581.1L504.3 585.2L501.1 588.3L497.1 590.4L492.6 591.1L488.2 590.4L484.2 588.3L481.0 585.2L478.9 581.1L478.0 577.2ZM478.2 576.7L478.9 572.2L481.0 568.2L484.2 565.0L488.2 563.0L492.6 562.3L497.1 563.0L501.1 565.0L504.3 568.2L506.3 572.2L507.3 576.1L508.0 580.6L507.3 585.0L505.2 589.0L502.0 592.2L498.0 594.3L493.6 595.0L489.1 594.3L485.1 592.2L481.9 589.0L479.9 585.0L478.9 581.1ZM481.9 572.1L485.1 568.9L489.1 566.9L493.6 566.2L498.0 566.9L502.0 568.9L505.2 572.1L507.3 576.1L508.2 580.0L508.9 584.5L508.2 588.9L506.2 592.9L503.0 596.1L499.0 598.2L494.5 598.9L490.1 598.2L486.1 596.1L482.9 592.9L480.8 588.9L479.9 585.0L479.2 580.6L479.9 576.1ZM480.1 584.5L480.8 580.0L482.9 576.0L486.1 572.8L490.1 570.8L494.5 570.1L499.0 570.8L503.0 572.8L506.2 576.0L508.2 580.0L509.2 583.9L509.9 588.4L509.2 592.8L507.1 596.8L504.0 600.0L499.9 602.1L495.5 602.8L491.0 602.1L487.0 600.0L483.8 596.8L481.8 592.8L480.8 588.9ZM481.1 588.4L481.8 583.9L483.8 579.9L487.0 576.7L491.0 574.7L495.5 574.0L499.9 574.7L504.0 576.7L507.1 579.9L509.2 583.9L510.2 587.8L510.9 592.3L510.2 596.7L508.1 600.7L504.9 603.9L500.9 606.0L496.5 606.7L492.0 606.0L488.0 603.9L484.8 600.7L482.8 596.7L481.8 592.8ZM482.1 592.3L482.8 587.8L484.8 583.8L488.0 580.6L492.0 578.6L496.5 577.9L500.9 578.6L504.9 580.6L508.1 583.8L510.2 587.8L511.1 591.7L511.8 596.1L511.1 600.6L509.1 604.6L505.9 607.8L501.9 609.8L497.4 610.5L493.0 609.8L489.0 607.8L485.8 604.6L483.8 600.6L482.8 596.7ZM486.8 608.5L484.7 604.5L483.8 600.6L483.0 596.1L483.8 591.7L485.8 587.7L489.0 584.5L493.0 582.4L497.4 581.7L501.9 582.4L505.9 584.5L509.1 587.7L511.1 591.7L512.1 595.6L512.8 600.0L512.1 604.5L510.1 608.5L506.9 611.7L502.9 613.7L498.4 614.4L494.0 613.7L490.0 611.7ZM484.0 600.0L484.7 595.6L486.8 591.6L490.0 588.4L494.0 586.3L498.4 585.6L502.9 586.3L506.9 588.4L510.1 591.6L512.1 595.6L513.1 599.5L513.9 603.9L513.1 608.4L511.1 612.4L507.9 615.6L503.9 617.6L499.5 618.3L495.0 617.6L491.0 615.6L487.8 612.4L485.8 608.4L484.7 604.5ZM488.8 616.2L486.8 612.2L485.8 608.4L485.1 603.9L485.8 599.5L487.8 595.4L491.0 592.3L495.0 590.2L499.5 589.5L503.9 590.2L507.9 592.3L511.1 595.4L513.1 599.5L514.2 603.3L514.9 607.8L514.2 612.2L512.1 616.2L508.9 619.4L504.9 621.5L500.5 622.2L496.0 621.5L492.0 619.4ZM486.1 607.8L486.8 603.3L488.8 599.3L492.0 596.1L496.0 594.1L500.5 593.4L504.9 594.1L508.9 596.1L512.1 599.3L514.2 603.3L515.2 607.2L515.9 611.7L515.2 616.1L513.2 620.1L510.0 623.3L506.0 625.3L501.5 626.1L497.1 625.3L493.1 623.3L489.9 620.1L487.8 616.1L486.8 612.2ZM487.1 611.7L487.8 607.2L489.9 603.2L493.1 600.0L497.1 598.0L501.5 597.3L506.0 598.0L510.0 600.0L513.2 603.2L515.2 607.2L516.3 611.1L517.0 615.5L516.3 620.0L514.2 624.0L511.0 627.2L507.0 629.2L502.6 629.9L498.1 629.2L494.1 627.2L490.9 624.0L488.9 620.0L487.8 616.1ZM492.0 627.8L489.9 623.8L488.9 620.0L488.2 615.5L488.9 611.1L490.9 607.1L494.1 603.9L498.1 601.8L502.6 601.1L507.0 601.8L511.0 603.9L514.2 607.1L516.3 611.1L517.3 614.9L518.0 619.4L517.3 623.8L515.3 627.8L512.1 631.0L508.1 633.1L503.6 633.8L499.2 633.1L495.2 631.0ZM489.2 619.4L489.9 614.9L492.0 610.9L495.2 607.7L499.2 605.7L503.6 605.0L508.1 605.7L512.1 607.7L515.3 610.9L517.3 614.9L518.4 618.8L519.1 623.2L518.4 627.7L516.4 631.7L513.2 634.9L509.2 636.9L504.7 637.6L500.3 636.9L496.3 634.9L493.1 631.7L491.0 627.7L489.9 623.8ZM494.2 635.6L492.1 631.5L491.0 627.7L490.3 623.2L491.0 618.8L493.1 614.8L496.3 611.6L500.3 609.5L504.7 608.8L509.2 609.5L513.2 611.6L516.4 614.8L518.4 618.8L519.5 622.6L520.2 627.1L519.5 631.5L517.5 635.6L514.3 638.7L510.3 640.8L505.8 641.5L501.4 640.8L497.3 638.7ZM495.3 639.4L493.2 635.4L492.1 631.5L491.4 627.1L492.1 622.6L494.2 618.6L497.3 615.4L501.4 613.4L505.8 612.7L510.3 613.4L514.3 615.4L517.5 618.6L519.5 622.6L520.6 626.5L521.3 630.9L520.6 635.4L518.6 639.4L515.4 642.6L511.4 644.6L506.9 645.3L502.5 644.6L498.5 642.6ZM492.5 630.9L493.2 626.5L495.3 622.5L498.5 619.3L502.5 617.3L506.9 616.5L511.4 617.3L515.4 619.3L518.6 622.5L520.6 626.5L521.7 630.3L522.5 634.8L521.7 639.2L519.7 643.3L516.5 646.4L512.5 648.5L508.1 649.2L503.6 648.5L499.6 646.4L496.4 643.3L494.4 639.2L493.2 635.4ZM497.5 647.1L495.5 643.1L494.4 639.2L493.7 634.8L494.4 630.3L496.4 626.3L499.6 623.1L503.6 621.1L508.1 620.4L512.5 621.1L516.5 623.1L519.7 626.3L521.7 630.3L522.9 634.2L523.6 638.6L522.9 643.1L520.8 647.1L517.7 650.3L513.6 652.3L509.2 653.0L504.7 652.3L500.7 650.3ZM494.8 638.6L495.5 634.2L497.5 630.2L500.7 627.0L504.7 624.9L509.2 624.2L513.6 624.9L517.7 627.0L520.8 630.2L522.9 634.2L524.1 638.0L524.8 642.5L524.1 646.9L522.0 650.9L518.8 654.1L514.8 656.2L510.4 656.9L505.9 656.2L501.9 654.1L498.7 650.9L496.7 646.9L495.5 643.1ZM496.0 642.5L496.7 638.0L498.7 634.0L501.9 630.8L505.9 628.8L510.4 628.1L514.8 628.8L518.8 630.8L522.0 634.0L524.1 638.0L525.2 641.9L525.9 646.3L525.2 650.8L523.2 654.8L520.0 658.0L516.0 660.0L511.5 660.7L507.1 660.0L503.1 658.0L499.9 654.8L497.8 650.8L496.7 646.9ZM497.1 646.3L497.8 641.9L499.9 637.8L503.1 634.7L507.1 632.6L511.5 631.9L516.0 632.6L520.0 634.7L523.2 637.8L525.2 641.9L526.4 645.7L527.1 650.1L526.4 654.6L524.4 658.6L521.2 661.8L517.2 663.8L512.7 664.5L508.3 663.8L504.3 661.8L501.1 658.6L499.0 654.6L497.8 650.8ZM498.3 650.1L499.0 645.7L501.1 641.7L504.3 638.5L508.3 636.4L512.7 635.7L517.2 636.4L521.2 638.5L524.4 641.7L526.4 645.7L527.6 649.5L528.3 653.9L527.6 658.4L525.6 662.4L522.4 665.6L518.4 667.6L513.9 668.3L509.5 667.6L505.5 665.6L502.3 662.4L500.2 658.4L499.0 654.6ZM499.5 653.9L500.2 649.5L502.3 645.5L505.5 642.3L509.5 640.3L513.9 639.5L518.4 640.3L522.4 642.3L525.6 645.5L527.6 649.5L528.8 653.3L529.6 657.8L528.8 662.2L526.8 666.2L523.6 669.4L519.6 671.5L515.2 672.2L510.7 671.5L506.7 669.4L503.5 666.2L501.5 662.2L500.2 658.4ZM500.8 657.8L501.5 653.3L503.5 649.3L506.7 646.1L510.7 644.1L515.2 643.4L519.6 644.1L523.6 646.1L526.8 649.3L528.8 653.3L530.1 657.1L530.8 661.6L530.1 666.0L528.0 670.0L524.9 673.2L520.8 675.3L516.4 676.0L511.9 675.3L507.9 673.2L504.7 670.0L502.7 666.0L501.5 662.2ZM504.7 653.1L507.9 649.9L511.9 647.9L516.4 647.2L520.8 647.9L524.9 649.9L528.0 653.1L530.1 657.1L531.3 660.9L532.1 665.4L531.3 669.8L529.3 673.8L526.1 677.0L522.1 679.1L517.7 679.8L513.2 679.1L509.2 677.0L506.0 673.8L504.0 669.8L502.7 666.0L502.0 661.6L502.7 657.1ZM503.3 665.4L504.0 660.9L506.0 656.9L509.2 653.7L513.2 651.7L517.7 651.0L522.1 651.7L526.1 653.7L529.3 656.9L531.3 660.9L532.6 664.7L533.3 669.2L532.6 673.6L530.6 677.6L527.4 680.8L523.4 682.9L518.9 683.6L514.5 682.9L510.5 680.8L507.3 677.6L505.2 673.6L504.0 669.8ZM504.5 669.2L505.2 664.7L507.3 660.7L510.5 657.5L514.5 655.5L518.9 654.8L523.4 655.5L527.4 657.5L530.6 660.7L532.6 664.7L533.9 668.5L534.6 673.0L533.9 677.4L531.9 681.4L528.7 684.6L524.7 686.7L520.2 687.4L515.8 686.7L511.8 684.6L508.6 681.4L506.5 677.4L505.2 673.6ZM505.8 673.0L506.5 668.5L508.6 664.5L511.8 661.3L515.8 659.3L520.2 658.6L524.7 659.3L528.7 661.3L531.9 664.5L533.9 668.5L535.2 672.3L535.9 676.8L535.2 681.2L533.2 685.2L530.0 688.4L526.0 690.5L521.5 691.2L517.1 690.5L513.1 688.4L509.9 685.2L507.8 681.2L506.5 677.4ZM507.1 676.8L507.8 672.3L509.9 668.3L513.1 665.1L517.1 663.1L521.5 662.4L526.0 663.1L530.0 665.1L533.2 668.3L535.2 672.3L536.5 676.1L537.3 680.5L536.5 685.0L534.5 689.0L531.3 692.2L527.3 694.2L522.9 694.9L518.4 694.2L514.4 692.2L511.2 689.0L509.2 685.0L507.8 681.2ZM511.2 672.1L514.4 668.9L518.4 666.9L522.9 666.1L527.3 666.9L531.3 668.9L534.5 672.1L536.5 676.1L537.9 679.9L538.6 684.3L537.9 688.8L535.8 692.8L532.7 696.0L528.6 698.0L524.2 698.7L519.7 698.0L515.7 696.0L512.5 692.8L510.5 688.8L509.2 685.0L508.5 680.5L509.2 676.1ZM509.8 684.3L510.5 679.9L512.5 675.9L515.7 672.7L519.7 670.6L524.2 669.9L528.6 670.6L532.7 672.7L535.8 675.9L537.9 679.9L539.3 683.6L540.0 688.1L539.3 692.5L537.2 696.6L534.0 699.7L530.0 701.8L525.6 702.5L521.1 701.8L517.1 699.7L513.9 696.6L511.9 692.5L510.5 688.8ZM511.2 688.1L511.9 683.6L513.9 679.6L517.1 676.4L521.1 674.4L525.6 673.7L530.0 674.4L534.0 676.4L537.2 679.6L539.3 683.6L540.6 687.4L541.3 691.9L540.6 696.3L538.6 700.3L535.4 703.5L531.4 705.6L526.9 706.3L522.5 705.6L518.5 703.5L515.3 700.3L513.2 696.3L511.9 692.5ZM512.5 691.9L513.2 687.4L515.3 683.4L518.5 680.2L522.5 678.2L526.9 677.5L531.4 678.2L535.4 680.2L538.6 683.4L540.6 687.4L542.0 691.2L542.7 695.6L542.0 700.1L540.0 704.1L536.8 707.3L532.8 709.3L528.3 710.0L523.9 709.3L519.9 707.3L516.7 704.1L514.6 700.1L513.2 696.3ZM513.9 695.6L514.6 691.2L516.7 687.1L519.9 684.0L523.9 681.9L528.3 681.2L532.8 681.9L536.8 684.0L540.0 687.1L542.0 691.2L543.4 694.9L544.1 699.4L543.4 703.8L541.4 707.8L538.2 711.0L534.2 713.1L529.7 713.8L525.3 713.1L521.3 711.0L518.1 707.8L516.0 703.8L514.6 700.1ZM515.3 699.4L516.0 694.9L518.1 690.9L521.3 687.7L525.3 685.7L529.7 685.0L534.2 685.7L538.2 687.7L541.4 690.9L543.4 694.9L544.9 698.7L545.6 703.1L544.9 707.6L542.8 711.6L539.6 714.8L535.6 716.8L531.2 717.5L526.7 716.8L522.7 714.8L519.5 711.6L517.5 707.6L516.0 703.8ZM516.8 703.1L517.5 698.7L519.5 694.6L522.7 691.5L526.7 689.4L531.2 688.7L535.6 689.4L539.6 691.5L542.8 694.6L544.9 698.7L546.3 702.4L547.0 706.8L546.3 711.3L544.3 715.3L541.1 718.5L537.1 720.5L532.6 721.2L528.2 720.5L524.2 718.5L521.0 715.3L518.9 711.3L517.5 707.6ZM518.2 706.8L518.9 702.4L521.0 698.4L524.2 695.2L528.2 693.1L532.6 692.4L537.1 693.1L541.1 695.2L544.3 698.4L546.3 702.4L547.8 706.1L548.5 710.6L547.8 715.0L545.7 719.0L542.6 722.2L538.5 724.3L534.1 725.0L529.6 724.3L525.6 722.2L522.4 719.0L520.4 715.0L518.9 711.3ZM519.7 710.6L520.4 706.1L522.4 702.1L525.6 698.9L529.6 696.9L534.1 696.2L538.5 696.9L542.6 698.9L545.7 702.1L547.8 706.1L549.3 709.8L550.0 714.3L549.3 718.7L547.2 722.8L544.1 725.9L540.0 728.0L535.6 728.7L531.1 728.0L527.1 725.9L523.9 722.8L521.9 718.7L520.4 715.0ZM521.2 714.3L521.9 709.8L523.9 705.8L527.1 702.6L531.1 700.6L535.6 699.9L540.0 700.6L544.1 702.6L547.2 705.8L549.3 709.8L550.8 713.6L551.5 718.0L550.8 722.5L548.7 726.5L545.6 729.7L541.5 731.7L537.1 732.4L532.6 731.7L528.6 729.7L525.4 726.5L523.4 722.5L521.9 718.7ZM525.4 709.5L528.6 706.4L532.6 704.3L537.1 703.6L541.5 704.3L545.6 706.4L548.7 709.5L550.8 713.6L552.3 717.3L553.0 721.7L552.3 726.2L550.3 730.2L547.1 733.4L543.1 735.4L538.6 736.1L534.2 735.4L530.2 733.4L527.0 730.2L524.9 726.2L523.4 722.5L522.7 718.0L523.4 713.6ZM524.2 721.7L524.9 717.3L527.0 713.2L530.2 710.1L534.2 708.0L538.6 707.3L543.1 708.0L547.1 710.1L550.3 713.2L552.3 717.3L553.9 721.0L554.6 725.4L553.9 729.9L551.8 733.9L548.6 737.1L544.6 739.1L540.2 739.8L535.7 739.1L531.7 737.1L528.5 733.9L526.5 729.9L524.9 726.2ZM525.8 725.4L526.5 721.0L528.5 716.9L531.7 713.8L535.7 711.7L540.2 711.0L544.6 711.7L548.6 713.8L551.8 716.9L553.9 721.0L555.4 724.6L556.1 729.1L555.4 733.5L553.4 737.6L550.2 740.7L546.2 742.8L541.7 743.5L537.3 742.8L533.3 740.7L530.1 737.6L528.0 733.5L526.5 729.9ZM527.3 729.1L528.0 724.6L530.1 720.6L533.3 717.4L537.3 715.4L541.7 714.7L546.2 715.4L550.2 717.4L553.4 720.6L555.4 724.6L557.0 728.3L557.7 732.8L557.0 737.2L555.0 741.2L551.8 744.4L547.8 746.5L543.3 747.2L538.9 746.5L534.9 744.4L531.7 741.2L529.6 737.2L528.0 733.5ZM528.9 732.8L529.6 728.3L531.7 724.3L534.9 721.1L538.9 719.1L543.3 718.4L547.8 719.1L551.8 721.1L555.0 724.3L557.0 728.3L558.7 732.0L559.4 736.4L558.7 740.9L556.6 744.9L553.4 748.1L549.4 750.1L545.0 750.8L540.5 750.1L536.5 748.1L533.3 744.9L531.3 740.9L529.6 737.2ZM530.6 736.4L531.3 732.0L533.3 728.0L536.5 724.8L540.5 722.7L545.0 722.0L549.4 722.7L553.4 724.8L556.6 728.0L558.7 732.0L560.3 735.6L561.0 740.1L560.3 744.5L558.3 748.6L555.1 751.7L551.1 753.8L546.6 754.5L542.2 753.8L538.1 751.7L535.0 748.6L532.9 744.5L531.3 740.9ZM532.2 740.1L532.9 735.6L535.0 731.6L538.1 728.4L542.2 726.4L546.6 725.7L551.1 726.4L555.1 728.4L558.3 731.6L560.3 735.6L562.0 739.3L562.7 743.7L562.0 748.2L559.9 752.2L556.8 755.4L552.7 757.4L548.3 758.1L543.8 757.4L539.8 755.4L536.6 752.2L534.6 748.2L532.9 744.5ZM533.9 743.7L534.6 739.3L536.6 735.3L539.8 732.1L543.8 730.0L548.3 729.3L552.7 730.0L556.8 732.1L559.9 735.3L562.0 739.3L563.7 742.9L564.4 747.3L563.7 751.8L561.7 755.8L558.5 759.0L554.5 761.0L550.0 761.7L545.6 761.0L541.6 759.0L538.4 755.8L536.3 751.8L534.6 748.2ZM535.6 747.3L536.3 742.9L538.4 738.9L541.6 735.7L545.6 733.6L550.0 732.9L554.5 733.6L558.5 735.7L561.7 738.9L563.7 742.9L565.5 746.5L566.2 750.9L565.5 755.4L563.4 759.4L560.2 762.6L556.2 764.6L551.8 765.3L547.3 764.6L543.3 762.6L540.1 759.4L538.1 755.4L536.3 751.8ZM537.4 750.9L538.1 746.5L540.1 742.5L543.3 739.3L547.3 737.2L551.8 736.5L556.2 737.2L560.2 739.3L563.4 742.5L565.5 746.5L567.3 750.1L568.0 754.5L567.3 759.0L565.2 763.0L562.0 766.2L558.0 768.2L553.6 768.9L549.1 768.2L545.1 766.2L541.9 763.0L539.9 759.0L538.1 755.4ZM539.2 754.5L539.9 750.1L541.9 746.1L545.1 742.9L549.1 740.8L553.6 740.1L558.0 740.8L562.0 742.9L565.2 746.1L567.1 749.6L569.1 753.6L569.8 758.1L569.1 762.5L567.1 766.5L563.9 769.7L559.9 771.8L555.4 772.5L551.0 771.8L547.0 769.7L543.8 766.5L541.9 763.0L539.9 759.0ZM541.0 758.1L541.7 753.6L543.8 749.6L547.0 746.4L551.0 744.4L555.4 743.7L559.9 744.4L563.9 746.4L567.1 749.6L569.0 753.2L571.0 757.2L571.7 761.6L571.0 766.1L569.0 770.1L565.8 773.3L561.8 775.3L557.3 776.0L552.9 775.3L548.8 773.3L545.7 770.1L543.8 766.5L541.7 762.5ZM542.9 761.6L543.6 757.2L545.7 753.2L548.8 750.0L552.9 747.9L557.3 747.2L561.8 747.9L565.8 750.0L569.0 753.2L570.9 756.7L572.9 760.7L573.6 765.1L572.9 769.6L570.9 773.6L567.7 776.8L563.7 778.8L559.2 779.5L554.8 778.8L550.8 776.8L547.6 773.6L545.7 770.1L543.6 766.1ZM544.8 765.1L545.5 760.7L547.6 756.7L550.8 753.5L554.8 751.4L559.2 750.7L563.7 751.4L567.7 753.5L570.9 756.7L572.9 760.2L574.9 764.2L575.6 768.6L574.9 773.1L572.9 777.1L569.7 780.3L565.7 782.3L561.2 783.0L556.8 782.3L552.8 780.3L549.6 777.1L547.6 773.6L545.5 769.6ZM546.8 768.6L547.5 764.2L549.6 760.2L552.8 757.0L556.8 754.9L561.2 754.2L565.7 754.9L569.7 757.0L572.9 760.2L574.9 763.6L576.9 767.6L577.7 772.1L576.9 776.5L574.9 780.5L571.7 783.7L567.7 785.8L563.3 786.5L558.8 785.8L554.8 783.7L551.6 780.5L549.6 777.1L547.5 773.1ZM548.9 772.1L549.6 767.6L551.6 763.6L554.8 760.4L558.8 758.4L563.3 757.7L567.7 758.4L571.7 760.4L574.9 763.6L577.0 767.0L579.0 771.0L579.7 775.5L579.0 779.9L577.0 784.0L573.8 787.1L569.8 789.2L565.3 789.9L560.9 789.2L556.9 787.1L553.7 784.0L551.6 780.5L549.6 776.5ZM550.9 775.5L551.6 771.0L553.7 767.0L556.9 763.8L560.9 761.8L565.3 761.1L569.8 761.8L573.8 763.8L577.0 767.0L579.1 770.4L581.2 774.4L581.9 778.9L581.2 783.3L579.1 787.3L575.9 790.5L571.9 792.6L567.5 793.3L563.0 792.6L559.0 790.5L555.8 787.3L553.7 784.0L551.6 779.9ZM553.1 778.9L553.8 774.4L555.8 770.4L559.0 767.2L563.0 765.2L567.5 764.5L571.9 765.2L575.9 767.2L579.1 770.4L581.3 773.8L583.4 777.8L584.1 782.2L583.4 786.7L581.3 790.7L578.1 793.9L574.1 795.9L569.7 796.6L565.2 795.9L561.2 793.9L558.0 790.7L555.8 787.3L553.8 783.3ZM555.3 782.2L556.0 777.8L558.0 773.8L561.2 770.6L565.2 768.5L569.7 767.8L574.1 768.5L578.1 770.6L581.3 773.8L583.6 777.1L585.6 781.1L586.3 785.6L585.6 790.0L583.6 794.0L580.4 797.2L576.4 799.2L571.9 800.0L567.5 799.2L563.5 797.2L560.3 794.0L558.0 790.7L556.0 786.7ZM557.5 785.6L558.2 781.1L560.3 777.1L563.5 773.9L567.5 771.9L571.9 771.2L576.4 771.9L580.4 773.9L583.6 777.1L585.9 780.4L587.9 784.4L588.6 788.8L587.9 793.3L585.9 797.3L582.7 800.5L578.7 802.5L574.2 803.2L569.8 802.5L565.8 800.5L562.6 797.3L560.3 794.0L558.2 790.0ZM559.8 788.8L560.5 784.4L562.6 780.4L565.8 777.2L569.8 775.1L574.2 774.4L578.7 775.1L582.7 777.2L585.9 780.4L588.2 783.6L590.3 787.6L591.0 792.1L590.3 796.5L588.2 800.5L585.1 803.7L581.0 805.8L576.6 806.5L572.1 805.8L568.1 803.7L564.9 800.5L562.6 797.3L560.5 793.3ZM562.2 792.1L562.9 787.6L564.9 783.6L568.1 780.4L572.1 778.4L576.6 777.7L581.0 778.4L585.1 780.4L588.2 783.6L590.7 786.8L592.7 790.8L593.4 795.3L592.7 799.7L590.7 803.7L587.5 806.9L583.5 808.9L579.0 809.7L574.6 808.9L570.6 806.9L567.4 803.7L564.9 800.5L562.9 796.5ZM567.4 786.8L570.6 783.6L574.6 781.6L579.0 780.9L583.5 781.6L587.5 783.6L590.7 786.8L593.2 789.9L595.2 793.9L595.9 798.4L595.2 802.8L593.2 806.9L590.0 810.0L586.0 812.1L581.5 812.8L577.1 812.1L573.1 810.0L569.9 806.9L567.4 803.7L565.3 799.7L564.6 795.3L565.3 790.8ZM567.1 798.4L567.8 793.9L569.9 789.9L573.1 786.7L577.1 784.7L581.5 784.0L586.0 784.7L590.0 786.7L593.2 789.9L595.7 793.0L597.8 797.0L598.5 801.5L597.8 805.9L595.7 809.9L592.5 813.1L588.5 815.2L584.1 815.9L579.6 815.2L575.6 813.1L572.4 809.9L569.9 806.9L567.8 802.8ZM569.7 801.5L570.4 797.0L572.4 793.0L575.6 789.8L579.6 787.8L584.1 787.1L588.5 787.8L592.5 789.8L595.7 793.0L598.3 796.0L600.4 800.1L601.1 804.5L600.4 809.0L598.3 813.0L595.2 816.2L591.1 818.2L586.7 818.9L582.2 818.2L578.2 816.2L575.0 813.0L572.4 809.9L570.4 805.9ZM572.3 804.5L573.0 800.1L575.0 796.0L578.2 792.9L582.2 790.8L586.7 790.1L591.1 790.8L595.2 792.9L598.3 796.0L601.0 799.0L603.1 803.0L603.8 807.5L603.1 811.9L601.0 815.9L597.9 819.1L593.8 821.2L589.4 821.9L584.9 821.2L580.9 819.1L577.7 815.9L575.0 813.0L573.0 809.0ZM577.7 799.0L580.9 795.8L584.9 793.8L589.4 793.1L593.8 793.8L597.9 795.8L601.0 799.0L603.8 801.9L605.9 805.9L606.6 810.3L605.9 814.8L603.8 818.8L600.7 822.0L596.6 824.0L592.2 824.7L587.7 824.0L583.7 822.0L580.5 818.8L577.7 815.9L575.7 811.9L575.0 807.5L575.7 803.0ZM577.8 810.3L578.5 805.9L580.5 801.9L583.7 798.7L587.7 796.6L592.2 795.9L596.6 796.6L600.7 798.7L603.5 801.5L606.7 804.7L608.8 808.7L609.5 813.1L608.8 817.6L606.7 821.6L603.5 824.8L599.5 826.8L595.1 827.5L590.6 826.8L586.6 824.8L583.7 822.0L580.5 818.8L578.5 814.8ZM583.4 804.7L586.6 801.5L590.6 799.4L595.1 798.7L599.5 799.4L603.5 801.5L606.5 804.2L609.7 807.3L611.7 811.4L612.5 815.8L611.7 820.3L609.7 824.3L606.5 827.5L602.5 829.5L598.1 830.2L593.6 829.5L589.6 827.5L586.6 824.8L583.4 821.6L581.4 817.6L580.7 813.1L581.4 808.7ZM583.7 815.8L584.4 811.4L586.4 807.3L589.6 804.2L593.6 802.1L598.1 801.4L602.5 802.1L606.5 804.2L609.6 806.7L612.8 809.9L614.8 813.9L615.5 818.4L614.8 822.8L612.8 826.8L609.6 830.0L605.6 832.1L601.1 832.8L596.7 832.1L592.7 830.0L589.6 827.5L586.4 824.3L584.4 820.3ZM589.5 809.9L592.7 806.7L596.7 804.7L601.1 804.0L605.6 804.7L609.6 806.7L612.8 809.2L616.0 812.3L618.0 816.4L618.7 820.8L618.0 825.3L616.0 829.3L612.8 832.5L608.8 834.5L604.3 835.2L599.9 834.5L595.9 832.5L592.7 830.0L589.5 826.8L587.4 822.8L586.7 818.4L587.4 813.9ZM589.9 820.8L590.6 816.4L592.7 812.3L595.9 809.2L599.9 807.1L604.3 806.4L608.8 807.1L612.8 809.2L616.0 811.5L619.2 814.7L621.3 818.7L622.0 823.1L621.3 827.6L619.2 831.6L616.0 834.8L612.0 836.8L607.6 837.5L603.1 836.8L599.1 834.8L595.9 832.5L592.7 829.3L590.6 825.3ZM593.2 823.1L593.9 818.7L595.9 814.7L599.1 811.5L603.1 809.4L607.6 808.7L612.0 809.4L616.0 811.5L619.4 813.7L622.6 816.9L624.6 820.9L625.3 825.4L624.6 829.8L622.6 833.8L619.4 837.0L615.4 839.1L610.9 839.8L606.5 839.1L602.4 837.0L599.1 834.8L595.9 831.6L593.9 827.6ZM596.5 825.4L597.2 820.9L599.3 816.9L602.4 813.7L606.5 811.7L610.9 811.0L615.4 811.7L619.4 813.7L622.8 815.9L625.9 819.0L628.0 823.1L628.7 827.5L628.0 831.9L625.9 836.0L622.8 839.1L618.7 841.2L614.3 841.9L609.8 841.2L605.8 839.1L602.4 837.0L599.3 833.8L597.2 829.8ZM602.6 819.0L605.8 815.9L609.8 813.8L614.3 813.1L618.7 813.8L622.8 815.9L626.2 817.9L629.4 821.1L631.4 825.1L632.1 829.5L631.4 834.0L629.4 838.0L626.2 841.2L622.2 843.2L617.7 843.9L613.3 843.2L609.3 841.2L605.8 839.1L602.6 836.0L600.6 831.9L599.9 827.5L600.6 823.1ZM606.1 821.1L609.3 817.9L613.3 815.9L617.7 815.1L622.2 815.9L626.2 817.9L629.7 819.9L632.9 823.0L634.9 827.1L635.6 831.5L634.9 836.0L632.9 840.0L629.7 843.2L625.7 845.2L621.2 845.9L616.8 845.2L612.8 843.2L609.3 841.2L606.1 838.0L604.0 834.0L603.3 829.5L604.0 825.1ZM606.8 831.5L607.5 827.1L609.6 823.0L612.8 819.9L616.8 817.8L621.2 817.1L625.7 817.8L629.7 819.9L633.2 821.8L636.4 824.9L638.5 829.0L639.2 833.4L638.5 837.9L636.4 841.9L633.2 845.1L629.2 847.1L624.8 847.8L620.3 847.1L616.3 845.1L612.8 843.2L609.6 840.0L607.5 836.0ZM610.4 833.4L611.1 829.0L613.1 824.9L616.3 821.8L620.3 819.7L624.8 819.0L629.2 819.7L633.2 821.8L636.8 823.6L640.0 826.8L642.0 830.8L642.7 835.2L642.0 839.7L640.0 843.7L636.8 846.9L632.8 848.9L628.3 849.6L623.9 848.9L619.9 846.9L616.3 845.1L613.1 841.9L611.1 837.9ZM613.9 835.2L614.6 830.8L616.7 826.8L619.9 823.6L623.9 821.5L628.3 820.8L632.8 821.5L636.4 823.3L640.4 825.3L643.6 828.5L645.6 832.5L646.3 837.0L645.6 841.4L643.6 845.5L640.4 848.6L636.4 850.7L631.9 851.4L627.5 850.7L623.9 848.9L619.9 846.9L616.7 843.7L614.6 839.7ZM617.5 837.0L618.2 832.5L620.3 828.5L623.5 825.3L627.5 823.3L631.9 822.6L636.4 823.3L640.0 825.0L644.0 827.0L647.2 830.2L649.3 834.2L650.0 838.7L649.3 843.1L647.2 847.2L644.0 850.3L640.0 852.4L635.6 853.1L631.1 852.4L627.5 850.7L623.5 848.6L620.3 845.5L618.2 841.4ZM623.9 830.2L627.1 827.0L631.1 825.0L635.6 824.3L640.0 825.0L643.7 826.6L647.7 828.6L650.9 831.8L652.9 835.8L653.6 840.3L652.9 844.7L650.9 848.8L647.7 851.9L643.7 854.0L639.2 854.7L634.8 854.0L631.1 852.4L627.1 850.3L623.9 847.2L621.9 843.1L621.2 838.7L621.9 834.2ZM624.8 840.3L625.5 835.8L627.6 831.8L630.8 828.6L634.8 826.6L639.2 825.9L643.7 826.6L647.4 828.1L651.4 830.1L654.6 833.3L656.7 837.3L657.4 841.8L656.7 846.2L654.6 850.3L651.4 853.4L647.4 855.5L643.0 856.2L638.5 855.5L634.8 854.0L630.8 851.9L627.6 848.8L625.5 844.7ZM628.6 841.8L629.3 837.3L631.3 833.3L634.5 830.1L638.5 828.1L643.0 827.4L647.4 828.1L651.2 829.5L655.2 831.5L658.4 834.7L660.4 838.7L661.1 843.2L660.4 847.6L658.4 851.6L655.2 854.8L651.2 856.9L646.7 857.6L642.3 856.9L638.5 855.5L634.5 853.4L631.3 850.3L629.3 846.2ZM632.3 843.2L633.0 838.7L635.1 834.7L638.3 831.5L642.3 829.5L646.7 828.8L651.2 829.5L655.0 830.7L659.0 832.8L662.2 836.0L664.2 840.0L664.9 844.4L664.2 848.9L662.2 852.9L659.0 856.1L655.0 858.1L650.5 858.8L646.1 858.1L642.3 856.9L638.3 854.8L635.1 851.6L633.0 847.6ZM636.1 844.4L636.8 840.0L638.9 836.0L642.1 832.8L646.1 830.7L650.5 830.0L655.0 830.7L658.8 831.9L662.8 833.9L666.0 837.1L668.1 841.1L668.8 845.6L668.1 850.0L666.0 854.0L662.8 857.2L658.8 859.2L654.4 860.0L649.9 859.2L646.1 858.1L642.1 856.1L638.9 852.9L636.8 848.9ZM640.0 845.6L640.7 841.1L642.7 837.1L645.9 833.9L649.9 831.9L654.4 831.2L658.8 831.9L662.7 832.8L666.7 834.9L669.9 838.0L672.0 842.1L672.7 846.5L672.0 851.0L669.9 855.0L666.7 858.2L662.7 860.2L658.3 860.9L653.8 860.2L649.9 859.2L645.9 857.2L642.7 854.0L640.7 850.0ZM643.9 846.5L644.6 842.1L646.6 838.0L649.8 834.9L653.8 832.8L658.3 832.1L662.7 832.8L666.6 833.6L670.7 835.6L673.8 838.8L675.9 842.8L676.6 847.3L675.9 851.7L673.8 855.8L670.7 858.9L666.6 861.0L662.2 861.7L657.7 861.0L653.8 860.2L649.8 858.2L646.6 855.0L644.6 851.0ZM647.8 847.3L648.5 842.8L650.5 838.8L653.7 835.6L657.7 833.6L662.2 832.9L666.6 833.6L670.6 834.2L674.6 836.3L677.8 839.5L679.8 843.5L680.6 847.9L679.8 852.4L677.8 856.4L674.6 859.6L670.6 861.6L666.2 862.3L661.7 861.6L657.7 861.0L653.7 858.9L650.5 855.8L648.5 851.7ZM651.8 847.9L652.5 843.5L654.5 839.5L657.7 836.3L661.7 834.2L666.2 833.5L670.1 834.0L674.6 834.7L678.6 836.7L681.8 839.9L683.8 843.9L684.5 848.4L683.8 852.8L681.8 856.9L678.6 860.0L674.6 862.1L670.1 862.8L666.2 862.3L661.7 861.6L657.7 859.6L654.5 856.4L652.5 852.4ZM655.7 848.4L656.4 843.9L658.5 839.9L661.7 836.7L665.7 834.7L670.1 834.0L674.1 834.3L678.6 835.0L682.6 837.1L685.8 840.3L687.8 844.3L688.5 848.7L687.8 853.2L685.8 857.2L682.6 860.4L678.6 862.4L674.1 863.1L670.1 862.8L665.7 862.1L661.7 860.0L658.5 856.9L656.4 852.8ZM659.7 848.7L660.4 844.3L662.5 840.3L665.7 837.1L669.7 835.0L674.1 834.3L678.1 834.5L682.6 835.2L686.6 837.3L689.8 840.5L691.8 844.5L692.5 848.9L691.8 853.4L689.8 857.4L686.6 860.6L682.6 862.6L678.1 863.3L674.1 863.1L669.7 862.4L665.7 860.4L662.5 857.2L660.4 853.2ZM663.7 848.9L664.4 844.5L666.5 840.5L669.7 837.3L673.7 835.2L678.1 834.5L682.1 834.6L686.6 835.3L690.6 837.4L693.8 840.5L695.8 844.6L696.5 849.0L695.8 853.5L693.8 857.5L690.6 860.7L686.6 862.7L682.1 863.4L678.1 863.3L673.7 862.6L669.7 860.6L666.5 857.4L664.4 853.4ZM670.5 840.5L673.7 837.4L677.7 835.3L682.1 834.6L686.1 834.6L690.6 835.3L694.6 837.3L697.8 840.5L699.8 844.5L700.5 849.0L699.8 853.4L697.8 857.4L694.6 860.6L690.6 862.7L686.1 863.4L682.1 863.4L677.7 862.7L673.7 860.7L670.5 857.5L668.4 853.5L667.7 849.0L668.4 844.6ZM671.7 849.0L672.4 844.5L674.5 840.5L677.7 837.3L681.7 835.3L686.1 834.6L690.1 834.4L694.6 835.1L698.6 837.2L701.8 840.4L703.8 844.4L704.5 848.8L703.8 853.3L701.8 857.3L698.6 860.5L694.6 862.5L690.1 863.2L686.1 863.4L681.7 862.7L677.7 860.6L674.5 857.4L672.4 853.4ZM678.5 840.4L681.7 837.2L685.7 835.1L690.1 834.4L694.1 834.2L698.6 834.9L702.6 837.0L705.8 840.1L707.8 844.2L708.5 848.6L707.8 853.1L705.8 857.1L702.6 860.3L698.6 862.3L694.1 863.0L690.1 863.2L685.7 862.5L681.7 860.5L678.5 857.3L676.5 853.3L675.7 848.8L676.5 844.4ZM679.7 848.6L680.5 844.2L682.5 840.1L685.7 837.0L689.7 834.9L694.1 834.2L698.1 833.9L702.6 834.6L706.6 836.7L709.8 839.8L711.8 843.9L712.5 848.3L711.8 852.8L709.8 856.8L706.6 860.0L702.6 862.0L698.1 862.7L694.1 863.0L689.7 862.3L685.7 860.3L682.5 857.1L680.5 853.1ZM686.5 839.8L689.7 836.7L693.7 834.6L698.1 833.9L702.1 833.5L706.6 834.2L710.6 836.3L713.8 839.5L715.8 843.5L716.5 847.9L715.8 852.4L713.8 856.4L710.6 859.6L706.6 861.6L702.1 862.3L698.1 862.7L693.7 862.0L689.7 860.0L686.5 856.8L684.5 852.8L683.7 848.3L684.5 843.9ZM687.7 847.9L688.4 843.5L690.5 839.5L693.7 836.3L697.7 834.2L702.1 833.5L706.1 833.1L710.6 833.8L714.6 835.8L717.8 839.0L719.8 843.0L720.5 847.5L719.8 851.9L717.8 855.9L714.6 859.1L710.6 861.2L706.1 861.9L702.1 862.3L697.7 861.6L693.7 859.6L690.5 856.4L688.4 852.4ZM694.5 839.0L697.7 835.8L701.7 833.8L706.1 833.1L710.1 832.6L714.5 833.3L718.6 835.3L721.7 838.5L723.8 842.5L724.5 847.0L723.8 851.4L721.7 855.5L718.6 858.6L714.5 860.7L710.1 861.4L706.1 861.9L701.7 861.2L697.7 859.1L694.5 855.9L692.4 851.9L691.7 847.5L692.4 843.0ZM695.7 847.0L696.4 842.5L698.4 838.5L701.6 835.3L705.6 833.3L710.1 832.6L714.1 832.1L718.5 832.8L722.5 834.8L725.7 838.0L727.8 842.0L728.5 846.5L727.8 850.9L725.7 854.9L722.5 858.1L718.5 860.2L714.1 860.9L710.1 861.4L705.6 860.7L701.6 858.6L698.4 855.5L696.4 851.4ZM699.7 846.5L700.4 842.0L702.4 838.0L705.6 834.8L709.6 832.8L714.1 832.1L718.0 831.5L722.5 832.2L726.5 834.2L729.7 837.4L731.7 841.4L732.4 845.9L731.7 850.3L729.7 854.4L726.5 857.5L722.5 859.6L718.0 860.3L714.1 860.9L709.6 860.2L705.6 858.1L702.4 854.9L700.4 850.9ZM706.4 837.4L709.6 834.2L713.6 832.2L718.0 831.5L722.0 830.9L726.4 831.6L730.5 833.6L733.6 836.8L735.7 840.8L736.4 845.3L735.7 849.7L733.6 853.8L730.5 856.9L726.4 859.0L722.0 859.7L718.0 860.3L713.6 859.6L709.6 857.5L706.4 854.4L704.3 850.3L703.6 845.9L704.3 841.4ZM707.6 845.3L708.3 840.8L710.4 836.8L713.5 833.6L717.6 831.6L722.0 830.9L726.0 830.3L730.4 831.0L734.4 833.0L737.6 836.2L739.7 840.2L740.4 844.7L739.7 849.1L737.6 853.2L734.4 856.3L730.4 858.4L726.0 859.1L722.0 859.7L717.6 859.0L713.5 856.9L710.4 853.8L708.3 849.7ZM711.6 844.7L712.3 840.2L714.3 836.2L717.5 833.0L721.5 831.0L725.5 830.4L729.9 829.7L734.4 830.4L738.4 832.4L741.6 835.6L743.6 839.6L744.3 844.1L743.6 848.5L741.6 852.5L738.4 855.7L734.4 857.8L730.4 858.4L726.0 859.1L721.5 858.4L717.5 856.3L714.3 853.2L712.3 849.1ZM715.5 844.1L716.2 839.6L718.3 835.6L721.5 832.4L725.5 830.4L729.4 829.7L733.9 829.0L738.3 829.7L742.3 831.8L745.5 835.0L747.6 839.0L748.3 843.4L747.6 847.9L745.5 851.9L742.3 855.1L738.3 857.1L734.4 857.8L729.9 858.5L725.5 857.8L721.5 855.7L718.3 852.5L716.2 848.5ZM719.5 843.4L720.2 839.0L722.2 835.0L725.4 831.8L729.4 829.7L733.4 829.1L737.8 828.4L742.3 829.1L746.3 831.1L749.5 834.3L751.5 838.3L752.2 842.8L751.5 847.2L749.5 851.2L746.3 854.4L742.3 856.4L738.3 857.1L733.9 857.8L729.4 857.1L725.4 855.1L722.2 851.9L720.2 847.9ZM723.4 842.8L724.1 838.3L726.2 834.3L729.4 831.1L733.4 829.1L737.3 828.4L741.8 827.7L746.2 828.4L750.2 830.4L753.4 833.6L755.5 837.6L756.2 842.1L755.5 846.5L753.4 850.5L750.2 853.7L746.2 855.8L742.3 856.4L737.8 857.2L733.4 856.4L729.4 854.4L726.2 851.2L724.1 847.2ZM727.4 842.1L728.1 837.6L730.1 833.6L733.3 830.4L737.3 828.4L741.3 827.7L745.7 827.0L750.2 827.7L754.2 829.7L757.4 832.9L759.4 836.9L760.1 841.4L759.4 845.8L757.4 849.8L754.2 853.0L750.2 855.1L746.2 855.8L741.8 856.5L737.3 855.8L733.3 853.7L730.1 850.5L728.1 846.5ZM734.1 832.9L737.3 829.7L741.3 827.7L745.2 827.0L749.7 826.3L754.1 827.0L758.1 829.0L761.3 832.2L763.4 836.2L764.1 840.7L763.4 845.1L761.3 849.1L758.1 852.3L754.1 854.4L750.2 855.1L745.7 855.8L741.3 855.1L737.3 853.0L734.1 849.8L732.0 845.8L731.3 841.4L732.0 836.9ZM738.0 832.2L741.2 829.0L745.2 827.0L749.2 826.3L753.6 825.6L758.1 826.3L762.1 828.3L765.3 831.5L767.3 835.5L768.0 840.0L767.3 844.4L765.3 848.4L762.1 851.6L758.1 853.7L754.1 854.4L749.7 855.1L745.2 854.4L741.2 852.3L738.0 849.1L736.0 845.1L735.3 840.7L736.0 836.2ZM742.0 831.5L745.1 828.3L749.2 826.3L753.1 825.5L757.6 824.8L762.0 825.5L766.0 827.6L769.2 830.8L771.2 834.8L772.0 839.2L771.2 843.7L769.2 847.7L766.0 850.9L762.0 852.9L758.1 853.7L753.6 854.4L749.2 853.7L745.1 851.6L742.0 848.4L739.9 844.4L739.2 840.0L739.9 835.5ZM743.2 839.2L743.9 834.8L745.9 830.8L749.1 827.6L753.1 825.5L757.0 824.8L761.5 824.1L765.9 824.8L770.0 826.8L773.1 830.0L775.2 834.0L775.9 838.5L775.2 842.9L773.1 846.9L770.0 850.1L765.9 852.2L762.0 852.9L757.6 853.6L753.1 852.9L749.1 850.9L745.9 847.7L743.9 843.7ZM749.8 830.0L753.0 826.8L757.0 824.8L761.0 824.0L765.4 823.3L769.9 824.0L773.9 826.1L777.1 829.3L779.1 833.3L779.8 837.7L779.1 842.2L777.1 846.2L773.9 849.4L769.9 851.4L765.9 852.2L761.5 852.9L757.0 852.2L753.0 850.1L749.8 846.9L747.8 842.9L747.1 838.5L747.8 834.0ZM751.0 837.7L751.7 833.3L753.8 829.3L757.0 826.1L761.0 824.0L764.9 823.3L769.4 822.5L773.8 823.3L777.8 825.3L781.0 828.5L783.1 832.5L783.8 836.9L783.1 841.4L781.0 845.4L777.8 848.6L773.8 850.6L769.9 851.4L765.4 852.1L761.0 851.4L757.0 849.4L753.8 846.2L751.7 842.2ZM755.0 836.9L755.7 832.5L757.7 828.5L760.9 825.3L764.9 823.3L768.8 822.5L773.3 821.8L777.7 822.5L781.8 824.5L784.9 827.7L787.0 831.7L787.7 836.2L787.0 840.6L784.9 844.6L781.8 847.8L777.7 849.9L773.8 850.6L769.4 851.3L764.9 850.6L760.9 848.6L757.7 845.4L755.7 841.4ZM758.9 836.2L759.6 831.7L761.6 827.7L764.8 824.5L768.8 822.5L772.8 821.7L777.2 821.0L781.7 821.7L785.7 823.7L788.9 826.9L790.9 830.9L791.6 835.4L790.9 839.8L788.9 843.8L785.7 847.0L781.7 849.1L777.7 849.9L773.3 850.6L768.8 849.9L764.8 847.8L761.6 844.6L759.6 840.6ZM765.6 826.9L768.8 823.7L772.8 821.7L776.7 820.9L781.1 820.2L785.6 820.9L789.6 822.9L792.8 826.1L794.8 830.1L795.5 834.6L794.8 839.0L792.8 843.1L789.6 846.2L785.6 848.3L781.7 849.1L777.2 849.8L772.8 849.1L768.8 847.0L765.6 843.8L763.5 839.8L762.8 835.4L763.5 830.9ZM769.5 826.1L772.7 822.9L776.7 820.9L780.6 820.1L785.1 819.4L789.5 820.1L793.5 822.1L796.7 825.3L798.8 829.3L799.5 833.8L798.8 838.2L796.7 842.2L793.5 845.4L789.5 847.5L785.6 848.3L781.1 849.0L776.7 848.3L772.7 846.2L769.5 843.1L767.5 839.0L766.7 834.6L767.5 830.1ZM770.7 833.8L771.4 829.3L773.4 825.3L776.6 822.1L780.6 820.1L784.6 819.3L789.0 818.6L793.5 819.3L797.5 821.3L800.7 824.5L802.7 828.5L803.4 833.0L802.7 837.4L800.7 841.4L797.5 844.6L793.5 846.7L789.5 847.5L785.1 848.2L780.6 847.5L776.6 845.4L773.4 842.2L771.4 838.2ZM774.6 833.0L775.3 828.5L777.4 824.5L780.5 821.3L784.6 819.3L788.5 818.5L792.9 817.8L797.4 818.5L801.4 820.5L804.6 823.7L806.6 827.7L807.3 832.2L806.6 836.6L804.6 840.6L801.4 843.8L797.4 845.9L793.5 846.7L789.0 847.4L784.6 846.7L780.5 844.6L777.4 841.4L775.3 837.4ZM781.3 823.7L784.5 820.5L788.5 818.5L792.4 817.6L796.8 816.9L801.3 817.6L805.3 819.7L808.5 822.9L810.5 826.9L811.2 831.3L810.5 835.8L808.5 839.8L805.3 843.0L801.3 845.0L797.4 845.9L792.9 846.6L788.5 845.9L784.5 843.8L781.3 840.6L779.2 836.6L778.5 832.2L779.2 827.7ZM782.4 831.3L783.2 826.9L785.2 822.9L788.4 819.7L792.4 817.6L796.3 816.8L800.8 816.1L805.2 816.8L809.2 818.9L812.4 822.0L814.5 826.1L815.2 830.5L814.5 835.0L812.4 839.0L809.2 842.2L805.2 844.2L801.3 845.0L796.8 845.7L792.4 845.0L788.4 843.0L785.2 839.8L783.2 835.8ZM789.1 822.0L792.3 818.9L796.3 816.8L800.2 816.0L804.7 815.3L809.1 816.0L813.2 818.0L816.3 821.2L818.4 825.2L819.1 829.7L818.4 834.1L816.3 838.1L813.2 841.3L809.1 843.4L805.2 844.2L800.8 844.9L796.3 844.2L792.3 842.2L789.1 839.0L787.1 835.0L786.4 830.5L787.1 826.1ZM790.3 829.7L791.0 825.2L793.0 821.2L796.2 818.0L800.2 816.0L804.2 815.1L808.6 814.4L813.1 815.1L817.1 817.2L820.3 820.4L822.3 824.4L823.0 828.8L822.3 833.3L820.3 837.3L817.1 840.5L813.1 842.5L809.1 843.4L804.7 844.1L800.2 843.4L796.2 841.3L793.0 838.1L791.0 834.1ZM794.2 828.8L794.9 824.4L797.0 820.4L800.1 817.2L804.2 815.1L808.1 814.3L812.5 813.6L817.0 814.3L821.0 816.4L824.2 819.5L826.2 823.6L826.9 828.0L826.2 832.4L824.2 836.5L821.0 839.6L817.0 841.7L813.1 842.5L808.6 843.2L804.2 842.5L800.1 840.5L797.0 837.3L794.9 833.3ZM800.9 819.5L804.1 816.4L808.1 814.3L812.0 813.5L816.4 812.8L820.9 813.5L824.9 815.5L828.1 818.7L830.1 822.7L830.8 827.2L830.1 831.6L828.1 835.6L824.9 838.8L820.9 840.9L817.0 841.7L812.5 842.4L808.1 841.7L804.1 839.6L800.9 836.5L798.8 832.4L798.1 828.0L798.8 823.6ZM804.8 818.7L808.0 815.5L812.0 813.5L815.9 812.6L820.4 811.9L824.8 812.6L828.8 814.7L832.0 817.9L834.1 821.9L834.8 826.3L834.1 830.8L832.0 834.8L828.8 838.0L824.8 840.0L820.9 840.9L816.4 841.6L812.0 840.9L808.0 838.8L804.8 835.6L802.8 831.6L802.0 827.2L802.8 822.7ZM806.0 826.3L806.7 821.9L808.7 817.9L811.9 814.7L815.9 812.6L819.8 811.8L824.3 811.1L828.7 811.8L832.7 813.8L835.9 817.0L838.0 821.0L838.7 825.5L838.0 829.9L835.9 833.9L832.7 837.1L828.7 839.2L824.8 840.0L820.4 840.7L815.9 840.0L811.9 838.0L808.7 834.8L806.7 830.8ZM809.9 825.5L810.6 821.0L812.6 817.0L815.8 813.8L819.8 811.8L823.8 810.9L828.2 810.2L832.7 810.9L836.7 813.0L839.9 816.2L841.9 820.2L842.6 824.6L841.9 829.1L839.9 833.1L836.7 836.3L832.7 838.3L828.7 839.2L824.3 839.9L819.8 839.2L815.8 837.1L812.6 833.9L810.6 829.9ZM816.6 816.2L819.7 813.0L823.8 810.9L827.7 810.1L832.1 809.4L836.6 810.1L840.6 812.1L843.8 815.3L845.8 819.3L846.5 823.8L845.8 828.2L843.8 832.3L840.6 835.4L836.6 837.5L832.7 838.3L828.2 839.0L823.8 838.3L819.7 836.3L816.6 833.1L814.5 829.1L813.8 824.6L814.5 820.2ZM817.7 823.8L818.4 819.3L820.5 815.3L823.7 812.1L827.7 810.1L831.6 809.3L836.0 808.6L840.5 809.3L844.5 811.3L847.7 814.5L849.7 818.5L850.4 823.0L849.7 827.4L847.7 831.4L844.5 834.6L840.5 836.7L836.6 837.5L832.1 838.2L827.7 837.5L823.7 835.4L820.5 832.3L818.4 828.2ZM824.4 814.5L827.6 811.3L831.6 809.3L835.5 808.4L840.0 807.7L844.4 808.4L848.4 810.5L851.6 813.7L853.7 817.7L854.4 822.1L853.7 826.6L851.6 830.6L848.4 833.8L844.4 835.8L840.5 836.7L836.0 837.4L831.6 836.7L827.6 834.6L824.4 831.4L822.3 827.4L821.6 823.0L822.3 818.5ZM825.6 822.1L826.3 817.7L828.3 813.7L831.5 810.5L835.5 808.4L839.4 807.6L843.9 806.9L848.3 807.6L852.3 809.6L855.5 812.8L857.6 816.8L858.3 821.3L857.6 825.7L855.5 829.8L852.3 832.9L848.3 835.0L844.4 835.8L840.0 836.5L835.5 835.8L831.5 833.8L828.3 830.6L826.3 826.6ZM829.5 821.3L830.2 816.8L832.2 812.8L835.4 809.6L839.4 807.6L843.4 806.8L847.8 806.1L852.3 806.8L856.3 808.8L859.5 812.0L861.5 816.0L862.2 820.5L861.5 824.9L859.5 828.9L856.3 832.1L852.3 834.2L848.3 835.0L843.9 835.7L839.4 835.0L835.4 832.9L832.2 829.8L830.2 825.7ZM833.4 820.5L834.1 816.0L836.2 812.0L839.3 808.8L843.4 806.8L847.3 805.9L851.7 805.2L856.2 805.9L860.2 808.0L863.4 811.2L865.4 815.2L866.1 819.6L865.4 824.1L863.4 828.1L860.2 831.3L856.2 833.3L852.3 834.2L847.8 834.9L843.4 834.2L839.3 832.1L836.2 828.9L834.1 824.9ZM840.1 811.2L843.3 808.0L847.3 805.9L851.2 805.1L855.6 804.4L860.1 805.1L864.1 807.2L867.3 810.3L869.3 814.4L870.0 818.8L869.3 823.3L867.3 827.3L864.1 830.5L860.1 832.5L856.2 833.3L851.7 834.0L847.3 833.3L843.3 831.3L840.1 828.1L838.0 824.1L837.3 819.6L838.0 815.2ZM841.2 818.8L842.0 814.4L844.0 810.3L847.2 807.2L851.2 805.1L855.1 804.3L859.6 803.6L864.0 804.3L868.0 806.3L871.2 809.5L873.3 813.5L874.0 818.0L873.3 822.4L871.2 826.5L868.0 829.6L864.0 831.7L860.1 832.5L855.6 833.2L851.2 832.5L847.2 830.5L844.0 827.3L842.0 823.3ZM845.2 818.0L845.9 813.5L847.9 809.5L851.1 806.3L855.1 804.3L859.0 803.5L863.5 802.8L867.9 803.5L872.0 805.5L875.1 808.7L877.2 812.7L877.9 817.2L877.2 821.6L875.1 825.6L872.0 828.8L867.9 830.9L864.0 831.7L859.6 832.4L855.1 831.7L851.1 829.6L847.9 826.5L845.9 822.4ZM849.1 817.2L849.8 812.7L851.8 808.7L855.0 805.5L859.0 803.5L863.0 802.7L867.4 802.0L871.9 802.7L875.9 804.7L879.1 807.9L881.1 811.9L881.8 816.4L881.1 820.8L879.1 824.8L875.9 828.0L871.9 830.1L867.9 830.9L863.5 831.6L859.0 830.9L855.0 828.8L851.8 825.6L849.8 821.6ZM853.0 816.4L853.7 811.9L855.8 807.9L859.0 804.7L863.0 802.7L866.9 801.8L871.3 801.1L875.8 801.8L879.8 803.9L883.0 807.1L885.0 811.1L885.7 815.5L885.0 820.0L883.0 824.0L879.8 827.2L875.8 829.2L871.9 830.1L867.4 830.8L863.0 830.1L859.0 828.0L855.8 824.8L853.7 820.8ZM856.9 815.5L857.6 811.1L859.7 807.1L862.9 803.9L866.9 801.8L870.8 801.0L875.3 800.3L879.7 801.0L883.7 803.1L886.9 806.3L889.0 810.3L889.7 814.7L889.0 819.2L886.9 823.2L883.7 826.4L879.7 828.4L875.8 829.2L871.3 829.9L866.9 829.2L862.9 827.2L859.7 824.0L857.6 820.0ZM863.6 806.3L866.8 803.1L870.8 801.0L874.7 800.2L879.2 799.5L883.6 800.2L887.7 802.3L890.8 805.5L892.9 809.5L893.6 813.9L892.9 818.4L890.8 822.4L887.7 825.6L883.6 827.6L879.7 828.4L875.3 829.1L870.8 828.4L866.8 826.4L863.6 823.2L861.6 819.2L860.9 814.7L861.6 810.3ZM867.5 805.5L870.7 802.3L874.7 800.2L878.7 799.4L883.1 798.7L887.6 799.4L891.6 801.5L894.8 804.7L896.8 808.7L897.5 813.1L896.8 817.6L894.8 821.6L891.6 824.8L887.6 826.8L883.6 827.6L879.2 828.3L874.7 827.6L870.7 825.6L867.5 822.4L865.5 818.4L864.8 813.9L865.5 809.5ZM868.7 813.1L869.4 808.7L871.5 804.7L874.7 801.5L878.7 799.4L882.6 798.6L887.0 797.9L891.5 798.6L895.5 800.7L898.7 803.9L900.7 807.9L901.4 812.3L900.7 816.8L898.7 820.8L895.5 824.0L891.5 826.0L887.6 826.8L883.1 827.5L878.7 826.8L874.7 824.8L871.5 821.6L869.4 817.6ZM875.4 803.9L878.6 800.7L882.6 798.6L886.5 797.8L891.0 797.1L895.4 797.8L899.4 799.9L902.6 803.1L904.7 807.1L905.4 811.5L904.7 816.0L902.6 820.0L899.4 823.2L895.4 825.2L891.5 826.0L887.0 826.7L882.6 826.0L878.6 824.0L875.4 820.8L873.4 816.8L872.6 812.3L873.4 807.9ZM879.3 803.1L882.5 799.9L886.5 797.8L890.5 797.0L894.9 796.3L899.4 797.0L903.4 799.1L906.6 802.3L908.6 806.3L909.3 810.7L908.6 815.2L906.6 819.2L903.4 822.4L899.4 824.4L895.4 825.2L891.0 825.9L886.5 825.2L882.5 823.2L879.3 820.0L877.3 816.0L876.6 811.5L877.3 807.1ZM883.3 802.3L886.4 799.1L890.5 797.0L894.4 796.2L898.8 795.5L903.3 796.2L907.3 798.3L910.5 801.5L912.5 805.5L913.2 809.9L912.5 814.4L910.5 818.4L907.3 821.6L903.3 823.6L899.4 824.4L894.9 825.1L890.5 824.4L886.4 822.4L883.3 819.2L881.2 815.2L880.5 810.7L881.2 806.3ZM887.2 801.5L890.4 798.3L894.4 796.2L898.3 795.4L902.8 794.7L907.2 795.4L911.2 797.5L914.4 800.7L916.5 804.7L917.2 809.1L916.5 813.6L914.4 817.6L911.2 820.8L907.2 822.8L903.3 823.6L898.8 824.3L894.4 823.6L890.4 821.6L887.2 818.4L885.1 814.4L884.4 809.9L885.1 805.5ZM888.4 809.1L889.1 804.7L891.1 800.7L894.3 797.5L898.3 795.4L902.2 794.7L906.7 794.0L911.1 794.7L915.2 796.7L918.3 799.9L920.4 803.9L921.1 808.4L920.4 812.8L918.3 816.8L915.2 820.0L911.1 822.0L907.2 822.8L902.8 823.5L898.3 822.8L894.3 820.8L891.1 817.6L889.1 813.6ZM892.3 808.4L893.0 803.9L895.0 799.9L898.2 796.7L902.2 794.7L906.2 793.9L910.6 793.2L915.1 793.9L919.1 795.9L922.3 799.1L924.3 803.1L925.0 807.6L924.3 812.0L922.3 816.0L919.1 819.2L915.1 821.3L911.1 822.0L906.7 822.8L902.2 822.0L898.2 820.0L895.0 816.8L893.0 812.8ZM899.0 799.1L902.2 795.9L906.2 793.9L910.1 793.1L914.6 792.4L919.0 793.1L923.0 795.1L926.2 798.3L928.2 802.3L929.0 806.8L928.2 811.2L926.2 815.3L923.0 818.4L919.0 820.5L915.1 821.3L910.6 822.0L906.2 821.3L902.2 819.2L899.0 816.0L896.9 812.0L896.2 807.6L896.9 803.1ZM900.2 806.8L900.9 802.3L902.9 798.3L906.1 795.1L910.1 793.1L914.0 792.3L918.5 791.6L922.9 792.3L926.9 794.4L930.1 797.5L932.2 801.6L932.9 806.0L932.2 810.5L930.1 814.5L926.9 817.7L922.9 819.7L919.0 820.5L914.6 821.2L910.1 820.5L906.1 818.4L902.9 815.3L900.9 811.2ZM904.1 806.0L904.8 801.6L906.8 797.5L910.0 794.4L914.0 792.3L918.0 791.5L922.4 790.8L926.9 791.5L930.9 793.6L934.1 796.8L936.1 800.8L936.8 805.2L936.1 809.7L934.1 813.7L930.9 816.9L926.9 818.9L922.9 819.7L918.5 820.4L914.0 819.7L910.0 817.7L906.8 814.5L904.8 810.5ZM910.8 796.8L913.9 793.6L918.0 791.5L921.9 790.8L926.3 790.1L930.8 790.8L934.8 792.8L938.0 796.0L940.0 800.0L940.7 804.5L940.0 808.9L938.0 812.9L934.8 816.1L930.8 818.2L926.9 818.9L922.4 819.6L918.0 818.9L913.9 816.9L910.8 813.7L908.7 809.7L908.0 805.2L908.7 800.8ZM914.7 796.0L917.9 792.8L921.9 790.8L925.8 790.0L930.3 789.3L934.7 790.0L938.7 792.0L941.9 795.2L944.0 799.2L944.7 803.7L944.0 808.1L941.9 812.1L938.7 815.3L934.7 817.4L930.8 818.2L926.3 818.9L921.9 818.2L917.9 816.1L914.7 812.9L912.7 808.9L911.9 804.5L912.7 800.0ZM915.9 803.7L916.6 799.2L918.6 795.2L921.8 792.0L925.8 790.0L929.8 789.2L934.2 788.5L938.7 789.2L942.7 791.3L945.9 794.5L947.9 798.5L948.6 802.9L947.9 807.4L945.9 811.4L942.7 814.6L938.7 816.6L934.7 817.4L930.3 818.1L925.8 817.4L921.8 815.3L918.6 812.1L916.6 808.1ZM919.8 802.9L920.5 798.5L922.6 794.5L925.7 791.3L929.8 789.2L933.7 788.5L938.1 787.7L942.6 788.5L946.6 790.5L949.8 793.7L951.8 797.7L952.5 802.1L951.8 806.6L949.8 810.6L946.6 813.8L942.6 815.8L938.7 816.6L934.2 817.3L929.8 816.6L925.7 814.6L922.6 811.4L920.5 807.4ZM923.7 802.1L924.5 797.7L926.5 793.7L929.7 790.5L933.7 788.5L937.6 787.7L942.1 787.0L946.5 787.7L950.5 789.7L953.7 792.9L955.8 796.9L956.5 801.4L955.8 805.8L953.7 809.9L950.5 813.0L946.5 815.1L942.6 815.8L938.1 816.5L933.7 815.8L929.7 813.8L926.5 810.6L924.5 806.6ZM927.7 801.4L928.4 796.9L930.4 792.9L933.6 789.7L937.6 787.7L941.6 786.9L946.0 786.2L950.5 786.9L954.5 789.0L957.7 792.2L959.7 796.2L960.4 800.6L959.7 805.1L957.7 809.1L954.5 812.3L950.5 814.3L946.5 815.1L942.1 815.8L937.6 815.1L933.6 813.0L930.4 809.9L928.4 805.8ZM931.6 800.6L932.3 796.2L934.4 792.2L937.6 789.0L941.6 786.9L945.5 786.2L950.0 785.5L954.4 786.2L958.4 788.2L961.6 791.4L963.6 795.4L964.4 799.9L963.6 804.3L961.6 808.3L958.4 811.5L954.4 813.6L950.5 814.3L946.0 815.0L941.6 814.3L937.6 812.3L934.4 809.1L932.3 805.1ZM935.6 799.9L936.3 795.4L938.3 791.4L941.5 788.2L945.5 786.2L949.4 785.4L953.9 784.7L958.3 785.4L962.4 787.5L965.5 790.6L967.6 794.7L968.3 799.1L967.6 803.6L965.5 807.6L962.4 810.8L958.3 812.8L954.4 813.6L950.0 814.3L945.5 813.6L941.5 811.5L938.3 808.3L936.3 804.3ZM942.2 790.6L945.4 787.5L949.4 785.4L953.4 784.7L957.8 784.0L962.3 784.7L966.3 786.7L969.5 789.9L971.5 793.9L972.2 798.4L971.5 802.8L969.5 806.8L966.3 810.0L962.3 812.1L958.3 812.8L953.9 813.5L949.4 812.8L945.4 810.8L942.2 807.6L940.2 803.6L939.5 799.1L940.2 794.7ZM943.4 798.4L944.1 793.9L946.2 789.9L949.4 786.7L953.4 784.7L957.3 783.9L961.8 783.2L966.2 783.9L970.2 786.0L973.4 789.1L975.5 793.2L976.2 797.6L975.5 802.1L973.4 806.1L970.2 809.3L966.2 811.3L962.3 812.1L957.8 812.8L953.4 812.1L949.4 810.0L946.2 806.8L944.1 802.8ZM950.1 789.1L953.3 786.0L957.3 783.9L961.2 783.2L965.7 782.5L970.1 783.2L974.2 785.2L977.3 788.4L979.4 792.4L980.1 796.9L979.4 801.3L977.3 805.3L974.2 808.5L970.1 810.6L966.2 811.3L961.8 812.0L957.3 811.3L953.3 809.3L950.1 806.1L948.1 802.1L947.4 797.6L948.1 793.2ZM951.3 796.9L952.0 792.4L954.0 788.4L957.2 785.2L961.2 783.2L965.2 782.4L969.6 781.7L974.1 782.4L978.1 784.5L981.3 787.7L983.3 791.7L984.0 796.1L983.3 800.6L981.3 804.6L978.1 807.8L974.1 809.8L970.1 810.6L965.7 811.3L961.2 810.6L957.2 808.5L954.0 805.3L952.0 801.3ZM955.2 796.1L955.9 791.7L958.0 787.7L961.2 784.5L965.2 782.4L969.1 781.7L973.6 781.0L978.0 781.7L982.0 783.7L985.2 786.9L987.3 790.9L988.0 795.4L987.3 799.8L985.2 803.8L982.0 807.0L978.0 809.1L974.1 809.8L969.6 810.5L965.2 809.8L961.2 807.8L958.0 804.6L955.9 800.6ZM959.2 795.4L959.9 790.9L961.9 786.9L965.1 783.7L969.1 781.7L973.1 780.9L977.5 780.2L982.0 780.9L986.0 783.0L989.2 786.2L991.2 790.2L991.9 794.6L991.2 799.1L989.2 803.1L986.0 806.3L982.0 808.3L978.0 809.1L973.6 809.8L969.1 809.1L965.1 807.0L961.9 803.8L959.9 799.8ZM965.9 786.2L969.0 783.0L973.1 780.9L977.0 780.2L981.5 779.5L985.9 780.2L989.9 782.2L993.1 785.4L995.1 789.4L995.9 793.9L995.1 798.3L993.1 802.4L989.9 805.5L985.9 807.6L982.0 808.3L977.5 809.0L973.1 808.3L969.0 806.3L965.9 803.1L963.8 799.1L963.1 794.6L963.8 790.2ZM967.1 793.9L967.8 789.4L969.8 785.4L973.0 782.2L977.0 780.2L980.9 779.5L985.4 778.8L989.8 779.5L993.9 781.5L997.0 784.7L999.1 788.7L999.8 793.2L999.1 797.6L997.0 801.6L993.9 804.8L989.8 806.9L985.9 807.6L981.5 808.3L977.0 807.6L973.0 805.5L969.8 802.4L967.8 798.3ZM971.0 793.2L971.7 788.7L973.7 784.7L976.9 781.5L980.9 779.5L984.9 778.7L989.3 778.0L993.8 778.7L997.8 780.8L1001.0 784.0L1003.0 788.0L1003.7 792.4L1003.0 796.9L1001.0 800.9L997.8 804.1L993.8 806.1L989.8 806.9L985.4 807.6L980.9 806.9L976.9 804.8L973.7 801.6L971.7 797.6ZM974.9 792.4L975.6 788.0L977.7 784.0L980.9 780.8L984.9 778.7L988.8 778.0L993.3 777.3L997.7 778.0L1001.7 780.0L1004.9 783.2L1007.0 787.2L1007.7 791.7L1007.0 796.1L1004.9 800.2L1001.7 803.3L997.7 805.4L993.8 806.1L989.3 806.8L984.9 806.1L980.9 804.1L977.7 800.9L975.6 796.9ZM981.6 783.2L984.8 780.0L988.8 778.0L992.8 777.3L997.2 776.6L1001.7 777.3L1005.7 779.3L1008.9 782.5L1010.9 786.5L1011.6 791.0L1010.9 795.4L1008.9 799.4L1005.7 802.6L1001.7 804.7L997.7 805.4L993.3 806.1L988.8 805.4L984.8 803.3L981.6 800.2L979.6 796.1L978.9 791.7L979.6 787.2ZM982.8 791.0L983.5 786.5L985.6 782.5L988.8 779.3L992.8 777.3L996.7 776.6L1001.2 775.8L1005.6 776.6L1009.6 778.6L1012.8 781.8L1014.9 785.8L1015.6 790.2L1014.9 794.7L1012.8 798.7L1009.6 801.9L1005.6 803.9L1001.7 804.7L997.2 805.4L992.8 804.7L988.8 802.6L985.6 799.4L983.5 795.4ZM989.5 781.8L992.7 778.6L996.7 776.6L1000.7 775.8L1005.1 775.1L1009.5 775.8L1013.6 777.9L1016.7 781.1L1018.8 785.1L1019.5 789.5L1018.8 794.0L1016.7 798.0L1013.6 801.2L1009.5 803.2L1005.6 803.9L1001.2 804.6L996.7 803.9L992.7 801.9L989.5 798.7L987.5 794.7L986.8 790.2L987.5 785.8ZM993.5 781.1L996.6 777.9L1000.7 775.8L1004.6 775.1L1009.0 774.4L1013.5 775.1L1017.5 777.2L1020.7 780.3L1022.7 784.4L1023.4 788.8L1022.7 793.3L1020.7 797.3L1017.5 800.5L1013.5 802.5L1009.5 803.2L1005.1 803.9L1000.7 803.2L996.6 801.2L993.5 798.0L991.4 794.0L990.7 789.5L991.4 785.1ZM994.6 788.8L995.3 784.4L997.4 780.3L1000.6 777.2L1004.6 775.1L1008.5 774.4L1013.0 773.7L1017.4 774.4L1021.5 776.4L1024.6 779.6L1026.7 783.6L1027.4 788.1L1026.7 792.5L1024.6 796.6L1021.5 799.7L1017.4 801.8L1013.5 802.5L1009.0 803.2L1004.6 802.5L1000.6 800.5L997.4 797.3L995.3 793.3ZM1001.3 779.6L1004.5 776.4L1008.5 774.4L1012.5 773.7L1016.9 773.0L1021.4 773.7L1025.4 775.7L1028.6 778.9L1030.6 782.9L1031.3 787.4L1030.6 791.8L1028.6 795.8L1025.4 799.0L1021.4 801.1L1017.4 801.8L1013.0 802.5L1008.5 801.8L1004.5 799.7L1001.3 796.6L999.3 792.5L998.6 788.1L999.3 783.6ZM1005.3 778.9L1008.5 775.7L1012.5 773.7L1016.4 773.0L1020.9 772.3L1025.3 773.0L1029.3 775.0L1032.5 778.2L1034.6 782.2L1035.3 786.7L1034.6 791.1L1032.5 795.1L1029.3 798.3L1025.3 800.4L1021.4 801.1L1016.9 801.8L1012.5 801.1L1008.5 799.0L1005.3 795.8L1003.2 791.8L1002.5 787.4L1003.2 782.9ZM1006.5 786.7L1007.2 782.2L1009.2 778.2L1012.4 775.0L1016.4 773.0L1020.4 772.3L1024.8 771.6L1029.3 772.3L1033.3 774.3L1036.5 777.5L1038.5 781.5L1039.2 786.0L1038.5 790.4L1036.5 794.4L1033.3 797.6L1029.3 799.6L1025.3 800.4L1020.9 801.1L1016.4 800.4L1012.4 798.3L1009.2 795.1L1007.2 791.1ZM1010.4 786.0L1011.1 781.5L1013.2 777.5L1016.4 774.3L1020.4 772.3L1024.3 771.5L1028.8 770.8L1033.2 771.5L1037.2 773.6L1040.4 776.8L1042.5 780.8L1043.2 785.2L1042.5 789.7L1040.4 793.7L1037.2 796.9L1033.2 798.9L1029.3 799.6L1024.8 800.4L1020.4 799.6L1016.4 797.6L1013.2 794.4L1011.1 790.4ZM1017.1 776.8L1020.3 773.6L1024.3 771.5L1028.3 770.8L1032.7 770.1L1037.2 770.8L1041.2 772.9L1044.4 776.1L1046.4 780.1L1047.1 784.5L1046.4 789.0L1044.4 793.0L1041.2 796.2L1037.2 798.2L1033.2 798.9L1028.8 799.6L1024.3 798.9L1020.3 796.9L1017.1 793.7L1015.1 789.7L1014.4 785.2L1015.1 780.8ZM1021.1 776.1L1024.2 772.9L1028.3 770.8L1032.2 770.1L1036.7 769.4L1041.1 770.1L1045.1 772.2L1048.3 775.4L1050.3 779.4L1051.1 783.8L1050.3 788.3L1048.3 792.3L1045.1 795.5L1041.1 797.5L1037.2 798.2L1032.7 798.9L1028.3 798.2L1024.2 796.2L1021.1 793.0L1019.0 789.0L1018.3 784.5L1019.0 780.1ZM1025.0 775.4L1028.2 772.2L1032.2 770.1L1036.2 769.4L1040.6 768.7L1045.1 769.4L1049.1 771.5L1052.3 774.7L1054.3 778.7L1055.0 783.1L1054.3 787.6L1052.3 791.6L1049.1 794.8L1045.1 796.8L1041.1 797.5L1036.7 798.2L1032.2 797.5L1028.2 795.5L1025.0 792.3L1023.0 788.3L1022.3 783.8L1023.0 779.4ZM1029.0 774.7L1032.1 771.5L1036.2 769.4L1040.1 768.7L1044.5 768.0L1049.0 768.7L1053.0 770.8L1056.2 774.0L1058.2 778.0L1058.9 782.4L1058.2 786.9L1056.2 790.9L1053.0 794.1L1049.0 796.1L1045.1 796.8L1040.6 797.5L1036.2 796.8L1032.1 794.8L1029.0 791.6L1026.9 787.6L1026.2 783.1L1026.9 778.7ZM1032.9 774.0L1036.1 770.8L1040.1 768.7L1044.0 768.1L1048.5 767.3L1052.9 768.1L1057.0 770.1L1060.1 773.3L1062.2 777.3L1062.9 781.7L1062.2 786.2L1060.1 790.2L1057.0 793.4L1052.9 795.4L1049.0 796.1L1044.5 796.8L1040.1 796.1L1036.1 794.1L1032.9 790.9L1030.9 786.9L1030.1 782.4L1030.9 778.0ZM1036.8 773.3L1040.0 770.1L1044.0 768.1L1048.0 767.4L1052.4 766.7L1056.9 767.4L1060.9 769.4L1064.1 772.6L1066.1 776.6L1066.8 781.1L1066.1 785.5L1064.1 789.5L1060.9 792.7L1056.9 794.7L1052.9 795.4L1048.5 796.1L1044.0 795.4L1040.0 793.4L1036.8 790.2L1034.8 786.2L1034.1 781.7L1034.8 777.3ZM1038.0 781.1L1038.7 776.6L1040.8 772.6L1044.0 769.4L1048.0 767.4L1051.9 766.7L1056.4 766.0L1060.8 766.7L1064.9 768.7L1068.0 771.9L1070.1 775.9L1070.8 780.4L1070.1 784.8L1068.0 788.8L1064.9 792.0L1060.8 794.1L1056.9 794.7L1052.4 795.5L1048.0 794.7L1044.0 792.7L1040.8 789.5L1038.7 785.5ZM1042.0 780.4L1042.7 775.9L1044.7 771.9L1047.9 768.7L1051.9 766.7L1055.9 766.0L1060.3 765.3L1064.8 766.0L1068.8 768.0L1072.0 771.2L1074.0 775.2L1074.7 779.7L1074.0 784.1L1072.0 788.1L1068.8 791.3L1064.8 793.4L1060.8 794.1L1056.4 794.8L1051.9 794.1L1047.9 792.0L1044.7 788.8L1042.7 784.8ZM1045.9 779.7L1046.6 775.2L1048.7 771.2L1051.9 768.0L1055.9 766.0L1059.8 765.3L1064.3 764.6L1068.7 765.3L1072.8 767.3L1075.9 770.5L1078.0 774.5L1078.7 779.0L1078.0 783.4L1075.9 787.5L1072.8 790.6L1068.7 792.7L1064.8 793.4L1060.3 794.1L1055.9 793.4L1051.9 791.3L1048.7 788.1L1046.6 784.1ZM1049.9 779.0L1050.6 774.5L1052.6 770.5L1055.8 767.3L1059.8 765.3L1063.8 764.6L1068.2 763.9L1072.7 764.6L1076.7 766.7L1079.9 769.8L1081.9 773.9L1082.6 778.3L1081.9 782.8L1079.9 786.8L1076.7 790.0L1072.7 792.0L1068.7 792.7L1064.3 793.4L1059.8 792.7L1055.8 790.6L1052.6 787.5L1050.6 783.4ZM1053.8 778.3L1054.5 773.9L1056.6 769.8L1059.8 766.7L1063.8 764.6L1067.7 763.9L1072.2 763.2L1076.6 763.9L1080.7 766.0L1083.8 769.2L1085.9 773.2L1086.6 777.6L1085.9 782.1L1083.8 786.1L1080.7 789.3L1076.6 791.3L1072.7 792.0L1068.2 792.7L1063.8 792.0L1059.8 790.0L1056.6 786.8L1054.5 782.8ZM1057.8 777.6L1058.5 773.2L1060.5 769.2L1063.7 766.0L1067.7 763.9L1071.7 763.3L1076.1 762.5L1080.6 763.3L1084.6 765.3L1087.8 768.5L1089.8 772.5L1090.5 776.9L1089.8 781.4L1087.8 785.4L1084.6 788.6L1080.6 790.6L1076.6 791.3L1072.2 792.0L1067.7 791.3L1063.7 789.3L1060.5 786.1L1058.5 782.1ZM1061.7 776.9L1062.4 772.5L1064.5 768.5L1067.7 765.3L1071.7 763.3L1075.6 762.6L1080.1 761.9L1084.5 762.6L1088.6 764.6L1091.7 767.8L1093.8 771.8L1094.5 776.3L1093.8 780.7L1091.7 784.7L1088.6 787.9L1084.5 790.0L1080.6 790.6L1076.1 791.3L1071.7 790.6L1067.7 788.6L1064.5 785.4L1062.4 781.4ZM1068.4 767.8L1071.6 764.6L1075.6 762.6L1079.6 761.9L1084.0 761.2L1088.5 761.9L1092.5 763.9L1095.7 767.1L1097.7 771.1L1098.4 775.6L1097.7 780.0L1095.7 784.1L1092.5 787.2L1088.5 789.3L1084.5 790.0L1080.1 790.7L1075.6 790.0L1071.6 787.9L1068.4 784.7L1066.4 780.7L1065.7 776.3L1066.4 771.8ZM1069.6 775.6L1070.3 771.1L1072.4 767.1L1075.6 763.9L1079.6 761.9L1083.5 761.2L1088.0 760.5L1092.4 761.2L1096.5 763.3L1099.6 766.5L1101.7 770.5L1102.4 774.9L1101.7 779.4L1099.6 783.4L1096.5 786.6L1092.4 788.6L1088.5 789.3L1084.0 790.0L1079.6 789.3L1075.6 787.2L1072.4 784.1L1070.3 780.0ZM1076.3 766.5L1079.5 763.3L1083.5 761.2L1087.5 760.6L1091.9 759.9L1096.4 760.6L1100.4 762.6L1103.6 765.8L1105.6 769.8L1106.3 774.3L1105.6 778.7L1103.6 782.7L1100.4 785.9L1096.4 788.0L1092.4 788.6L1088.0 789.3L1083.5 788.6L1079.5 786.6L1076.3 783.4L1074.3 779.4L1073.6 774.9L1074.3 770.5ZM1077.5 774.3L1078.2 769.8L1080.3 765.8L1083.5 762.6L1087.5 760.6L1091.4 759.9L1095.9 759.2L1100.3 759.9L1104.4 761.9L1107.5 765.1L1109.6 769.1L1110.3 773.6L1109.6 778.0L1107.5 782.1L1104.4 785.2L1100.3 787.3L1096.4 788.0L1091.9 788.7L1087.5 788.0L1083.5 785.9L1080.3 782.7L1078.2 778.7ZM1081.5 773.6L1082.2 769.1L1084.2 765.1L1087.4 761.9L1091.4 759.9L1095.4 759.2L1099.8 758.5L1104.3 759.2L1108.3 761.3L1111.5 764.5L1113.5 768.5L1114.2 772.9L1113.5 777.4L1111.5 781.4L1108.3 784.6L1104.3 786.6L1100.3 787.3L1095.9 788.0L1091.4 787.3L1087.4 785.2L1084.2 782.1L1082.2 778.0ZM1085.4 772.9L1086.2 768.5L1088.2 764.5L1091.4 761.3L1095.4 759.2L1099.3 758.6L1103.8 757.9L1108.2 758.6L1112.3 760.6L1115.4 763.8L1117.5 767.8L1118.2 772.3L1117.5 776.7L1115.4 780.7L1112.3 783.9L1108.2 786.0L1104.3 786.6L1099.8 787.3L1095.4 786.6L1091.4 784.6L1088.2 781.4L1086.2 777.4ZM1089.4 772.3L1090.1 767.8L1092.1 763.8L1095.3 760.6L1099.3 758.6L1103.3 757.9L1107.8 757.2L1112.2 757.9L1116.2 760.0L1119.4 763.1L1121.4 767.2L1122.2 771.6L1121.4 776.1L1119.4 780.1L1116.2 783.3L1112.2 785.3L1108.2 786.0L1103.8 786.7L1099.3 786.0L1095.3 783.9L1092.1 780.7L1090.1 776.7ZM1093.4 771.6L1094.1 767.2L1096.1 763.1L1099.3 760.0L1103.3 757.9L1107.3 757.3L1111.7 756.5L1116.2 757.3L1120.2 759.3L1123.4 762.5L1125.4 766.5L1126.1 770.9L1125.4 775.4L1123.4 779.4L1120.2 782.6L1116.2 784.6L1112.2 785.3L1107.8 786.0L1103.3 785.3L1099.3 783.3L1096.1 780.1L1094.1 776.1ZM1100.1 762.5L1103.2 759.3L1107.3 757.3L1111.2 756.6L1115.7 755.9L1120.1 756.6L1124.1 758.6L1127.3 761.8L1129.4 765.8L1130.1 770.3L1129.4 774.7L1127.3 778.8L1124.1 781.9L1120.1 784.0L1116.2 784.6L1111.7 785.3L1107.3 784.6L1103.2 782.6L1100.1 779.4L1098.0 775.4L1097.3 770.9L1098.0 766.5ZM1104.0 761.8L1107.2 758.6L1111.2 756.6L1115.2 755.9L1119.6 755.2L1124.1 755.9L1128.1 758.0L1131.3 761.2L1133.3 765.2L1134.0 769.6L1133.3 774.1L1131.3 778.1L1128.1 781.3L1124.1 783.3L1120.1 784.0L1115.7 784.7L1111.2 784.0L1107.2 781.9L1104.0 778.8L1102.0 774.7L1101.3 770.3L1102.0 765.8ZM1105.2 769.6L1105.9 765.2L1108.0 761.2L1111.1 758.0L1115.2 755.9L1119.1 755.3L1123.6 754.6L1128.0 755.3L1132.0 757.3L1135.2 760.5L1137.3 764.5L1138.0 769.0L1137.3 773.4L1135.2 777.5L1132.0 780.6L1128.0 782.7L1124.1 783.3L1119.6 784.0L1115.2 783.3L1111.1 781.3L1108.0 778.1L1105.9 774.1ZM1109.2 769.0L1109.9 764.5L1111.9 760.5L1115.1 757.3L1119.1 755.3L1123.1 754.6L1127.5 753.9L1132.0 754.6L1136.0 756.7L1139.2 759.9L1141.2 763.9L1141.9 768.3L1141.2 772.8L1139.2 776.8L1136.0 780.0L1132.0 782.0L1128.0 782.7L1123.6 783.4L1119.1 782.7L1115.1 780.6L1111.9 777.5L1109.9 773.4ZM1113.1 768.3L1113.8 763.9L1115.9 759.9L1119.1 756.7L1123.1 754.6L1127.0 754.0L1131.5 753.3L1135.9 754.0L1139.9 756.0L1143.1 759.2L1145.2 763.2L1145.9 767.7L1145.2 772.1L1143.1 776.2L1139.9 779.3L1135.9 781.4L1132.0 782.0L1127.5 782.7L1123.1 782.0L1119.1 780.0L1115.9 776.8L1113.8 772.8ZM1119.8 759.2L1123.0 756.0L1127.0 754.0L1131.0 753.4L1135.4 752.6L1139.9 753.4L1143.9 755.4L1147.1 758.6L1149.1 762.6L1149.8 767.0L1149.1 771.5L1147.1 775.5L1143.9 778.7L1139.9 780.7L1135.9 781.4L1131.5 782.1L1127.0 781.4L1123.0 779.3L1119.8 776.2L1117.8 772.1L1117.1 767.7L1117.8 763.2ZM1121.0 767.0L1121.7 762.6L1123.8 758.6L1127.0 755.4L1131.0 753.4L1134.9 752.7L1139.4 752.0L1143.8 752.7L1147.9 754.8L1151.0 757.9L1153.1 762.0L1153.8 766.4L1153.1 770.9L1151.0 774.9L1147.9 778.1L1143.8 780.1L1139.9 780.7L1135.4 781.4L1131.0 780.7L1127.0 778.7L1123.8 775.5L1121.7 771.5ZM1127.7 757.9L1130.9 754.8L1134.9 752.7L1138.9 752.1L1143.3 751.4L1147.8 752.1L1151.8 754.1L1155.0 757.3L1157.0 761.3L1157.7 765.8L1157.0 770.2L1155.0 774.2L1151.8 777.4L1147.8 779.5L1143.8 780.1L1139.4 780.8L1134.9 780.1L1130.9 778.1L1127.7 774.9L1125.7 770.9L1125.0 766.4L1125.7 762.0ZM1128.9 765.8L1129.7 761.3L1131.7 757.3L1134.9 754.1L1138.9 752.1L1142.9 751.4L1147.3 750.7L1151.8 751.4L1155.8 753.5L1159.0 756.7L1161.0 760.7L1161.7 765.1L1161.0 769.6L1159.0 773.6L1155.8 776.8L1151.8 778.8L1147.8 779.5L1143.3 780.2L1138.9 779.5L1134.9 777.4L1131.7 774.2L1129.7 770.2ZM1132.9 765.1L1133.6 760.7L1135.7 756.7L1138.8 753.5L1142.9 751.4L1146.8 750.8L1151.3 750.1L1155.7 750.8L1159.7 752.8L1162.9 756.0L1165.0 760.0L1165.7 764.5L1165.0 768.9L1162.9 773.0L1159.7 776.1L1155.7 778.2L1151.8 778.8L1147.3 779.5L1142.9 778.8L1138.8 776.8L1135.7 773.6L1133.6 769.6ZM1136.9 764.5L1137.6 760.0L1139.6 756.0L1142.8 752.8L1146.8 750.8L1150.8 750.2L1155.2 749.5L1159.7 750.2L1163.7 752.2L1166.9 755.4L1168.9 759.4L1169.6 763.9L1168.9 768.3L1166.9 772.3L1163.7 775.5L1159.7 777.6L1155.7 778.2L1151.3 778.9L1146.8 778.2L1142.8 776.1L1139.6 773.0L1137.6 768.9ZM1140.8 763.9L1141.5 759.4L1143.6 755.4L1146.8 752.2L1150.8 750.2L1154.7 749.5L1159.2 748.8L1163.6 749.5L1167.6 751.6L1170.8 754.8L1172.9 758.8L1173.6 763.2L1172.9 767.7L1170.8 771.7L1167.6 774.9L1163.6 776.9L1159.7 777.6L1155.2 778.3L1150.8 777.6L1146.8 775.5L1143.6 772.3L1141.5 768.3ZM1144.8 763.2L1145.5 758.8L1147.5 754.8L1150.7 751.6L1154.7 749.5L1158.7 748.9L1163.1 748.2L1167.6 748.9L1171.6 750.9L1174.8 754.1L1176.8 758.1L1177.5 762.6L1176.8 767.0L1174.8 771.1L1171.6 774.2L1167.6 776.3L1163.6 776.9L1159.2 777.6L1154.7 776.9L1150.7 774.9L1147.5 771.7L1145.5 767.7ZM1148.7 762.6L1149.4 758.1L1151.5 754.1L1154.7 750.9L1158.7 748.9L1163.1 748.2L1167.1 747.6L1171.5 748.3L1175.6 750.3L1178.7 753.5L1180.8 757.5L1181.5 762.0L1180.8 766.4L1178.7 770.4L1175.6 773.6L1171.5 775.7L1167.1 776.4L1163.1 777.0L1158.7 776.3L1154.7 774.2L1151.5 771.1L1149.4 767.0ZM1155.4 753.5L1158.6 750.3L1162.6 748.3L1167.1 747.6L1171.1 746.9L1175.5 747.7L1179.5 749.7L1182.7 752.9L1184.7 756.9L1185.5 761.3L1184.7 765.8L1182.7 769.8L1179.5 773.0L1175.5 775.0L1171.1 775.7L1167.1 776.4L1162.6 775.7L1158.6 773.6L1155.4 770.4L1153.4 766.4L1152.7 762.0L1153.4 757.5ZM1156.7 761.3L1157.4 756.9L1159.4 752.9L1162.6 749.7L1166.6 747.7L1171.1 746.9L1175.0 746.3L1179.5 747.0L1183.5 749.1L1186.7 752.3L1188.7 756.3L1189.4 760.7L1188.7 765.2L1186.7 769.2L1183.5 772.4L1179.5 774.4L1175.0 775.1L1171.1 775.7L1166.6 775.0L1162.6 773.0L1159.4 769.8L1157.4 765.8ZM1163.4 752.3L1166.5 749.1L1170.6 747.0L1175.0 746.3L1179.0 745.7L1183.4 746.4L1187.4 748.5L1190.6 751.6L1192.7 755.7L1193.4 760.1L1192.7 764.6L1190.6 768.6L1187.4 771.8L1183.4 773.8L1179.0 774.5L1175.0 775.1L1170.6 774.4L1166.5 772.4L1163.4 769.2L1161.3 765.2L1160.6 760.7L1161.3 756.3ZM1164.6 760.1L1165.3 755.7L1167.3 751.6L1170.5 748.5L1174.5 746.4L1179.0 745.7L1182.9 745.1L1187.4 745.8L1191.4 747.8L1194.6 751.0L1196.6 755.0L1197.3 759.5L1196.6 763.9L1194.6 767.9L1191.4 771.1L1187.4 773.2L1182.9 773.9L1179.0 774.5L1174.5 773.8L1170.5 771.8L1167.3 768.6L1165.3 764.6ZM1171.3 751.0L1174.5 747.8L1178.5 745.8L1182.9 745.1L1186.9 744.5L1191.3 745.2L1195.4 747.2L1198.5 750.4L1200.6 754.4L1201.3 758.9L1200.6 763.3L1198.5 767.3L1195.4 770.5L1191.3 772.6L1186.9 773.3L1182.9 773.9L1178.5 773.2L1174.5 771.1L1171.3 767.9L1169.2 763.9L1168.5 759.5L1169.2 755.0ZM1172.5 758.9L1173.2 754.4L1175.2 750.4L1178.4 747.2L1182.4 745.2L1186.9 744.5L1190.9 743.9L1195.3 744.6L1199.3 746.6L1202.5 749.8L1204.5 753.8L1205.3 758.3L1204.5 762.7L1202.5 766.7L1199.3 769.9L1195.3 771.9L1190.9 772.7L1186.9 773.3L1182.4 772.6L1178.4 770.5L1175.2 767.3L1173.2 763.3ZM1176.5 758.3L1177.2 753.8L1179.2 749.8L1182.4 746.6L1186.4 744.6L1190.9 743.9L1194.8 743.2L1199.3 743.9L1203.3 746.0L1206.5 749.2L1208.5 753.2L1209.2 757.6L1208.5 762.1L1206.5 766.1L1203.3 769.3L1199.3 771.3L1194.8 772.0L1190.9 772.7L1186.4 771.9L1182.4 769.9L1179.2 766.7L1177.2 762.7ZM1180.4 757.6L1181.1 753.2L1183.2 749.2L1186.3 746.0L1190.4 743.9L1194.8 743.2L1198.8 742.6L1203.2 743.3L1207.2 745.4L1210.4 748.6L1212.5 752.6L1213.2 757.0L1212.5 761.5L1210.4 765.5L1207.2 768.7L1203.2 770.7L1198.8 771.4L1194.8 772.0L1190.4 771.3L1186.3 769.3L1183.2 766.1L1181.1 762.1ZM1184.4 757.0L1185.1 752.6L1187.1 748.6L1190.3 745.4L1194.3 743.3L1198.8 742.6L1202.7 742.0L1207.2 742.7L1211.2 744.8L1214.4 748.0L1216.4 752.0L1217.1 756.4L1216.4 760.9L1214.4 764.9L1211.2 768.1L1207.2 770.1L1202.7 770.8L1198.8 771.4L1194.3 770.7L1190.3 768.7L1187.1 765.5L1185.1 761.5ZM1188.3 756.4L1189.0 752.0L1191.1 748.0L1194.3 744.8L1198.3 742.7L1202.7 742.0L1206.7 741.4L1211.1 742.1L1215.2 744.2L1218.3 747.4L1220.4 751.4L1221.1 755.8L1220.4 760.3L1218.3 764.3L1215.2 767.5L1211.1 769.5L1206.7 770.2L1202.7 770.8L1198.3 770.1L1194.3 768.1L1191.1 764.9L1189.0 760.9ZM1195.0 747.4L1198.2 744.2L1202.2 742.1L1206.7 741.4L1210.7 740.8L1215.1 741.5L1219.1 743.6L1222.3 746.7L1224.4 750.8L1225.1 755.2L1224.4 759.7L1222.3 763.7L1219.1 766.9L1215.1 768.9L1210.7 769.6L1206.7 770.2L1202.2 769.5L1198.2 767.5L1195.0 764.3L1193.0 760.3L1192.3 755.8L1193.0 751.4ZM1196.3 755.2L1197.0 750.8L1199.0 746.7L1202.2 743.6L1206.2 741.5L1210.7 740.8L1214.6 740.2L1219.1 740.9L1223.1 743.0L1226.3 746.1L1228.3 750.2L1229.0 754.6L1228.3 759.1L1226.3 763.1L1223.1 766.3L1219.1 768.3L1214.6 769.0L1210.7 769.6L1206.2 768.9L1202.2 766.9L1199.0 763.7L1197.0 759.7ZM1203.0 746.1L1206.2 743.0L1210.2 740.9L1214.6 740.2L1218.6 739.6L1223.0 740.3L1227.0 742.4L1230.2 745.5L1232.3 749.6L1233.0 754.0L1232.3 758.5L1230.2 762.5L1227.0 765.7L1223.0 767.7L1218.6 768.4L1214.6 769.0L1210.2 768.3L1206.2 766.3L1203.0 763.1L1200.9 759.1L1200.2 754.6L1200.9 750.2ZM1206.9 745.5L1210.1 742.4L1214.1 740.3L1218.6 739.6L1222.5 739.0L1227.0 739.7L1231.0 741.8L1234.2 745.0L1236.2 749.0L1236.9 753.4L1236.2 757.9L1234.2 761.9L1231.0 765.1L1227.0 767.1L1222.5 767.8L1218.6 768.4L1214.1 767.7L1210.1 765.7L1206.9 762.5L1204.9 758.5L1204.2 754.0L1204.9 749.6ZM1208.1 753.4L1208.9 749.0L1210.9 745.0L1214.1 741.8L1218.1 739.7L1222.5 739.0L1226.5 738.4L1231.0 739.1L1235.0 741.2L1238.2 744.4L1240.2 748.4L1240.9 752.8L1240.2 757.3L1238.2 761.3L1235.0 764.5L1231.0 766.5L1226.5 767.2L1222.5 767.8L1218.1 767.1L1214.1 765.1L1210.9 761.9L1208.9 757.9ZM1212.1 752.8L1212.8 748.4L1214.9 744.4L1218.0 741.2L1222.1 739.1L1226.5 738.4L1230.5 737.8L1234.9 738.5L1238.9 740.6L1242.1 743.8L1244.2 747.8L1244.9 752.2L1244.2 756.7L1242.1 760.7L1238.9 763.9L1234.9 765.9L1230.5 766.6L1226.5 767.2L1222.1 766.5L1218.0 764.5L1214.9 761.3L1212.8 757.3ZM1216.1 752.2L1216.8 747.8L1218.8 743.8L1222.0 740.6L1226.0 738.5L1230.5 737.8L1234.4 737.2L1238.9 737.9L1242.9 740.0L1246.1 743.2L1248.1 747.2L1248.8 751.6L1248.1 756.1L1246.1 760.1L1242.9 763.3L1238.9 765.3L1234.4 766.0L1230.5 766.6L1226.0 765.9L1222.0 763.9L1218.8 760.7L1216.8 756.7ZM1222.8 743.2L1226.0 740.0L1230.0 737.9L1234.4 737.2L1238.4 736.6L1242.9 737.3L1246.9 739.4L1250.1 742.6L1252.1 746.6L1252.8 751.0L1252.1 755.5L1250.1 759.5L1246.9 762.7L1242.9 764.7L1238.4 765.4L1234.4 766.0L1230.0 765.3L1226.0 763.3L1222.8 760.1L1220.7 756.1L1220.0 751.6L1220.7 747.2ZM1224.0 751.0L1224.7 746.6L1226.8 742.6L1229.9 739.4L1234.0 737.3L1238.4 736.6L1242.4 736.1L1246.8 736.8L1250.8 738.8L1254.0 742.0L1256.1 746.0L1256.8 750.5L1256.1 754.9L1254.0 758.9L1250.8 762.1L1246.8 764.1L1242.4 764.9L1238.4 765.4L1234.0 764.7L1229.9 762.7L1226.8 759.5L1224.7 755.5ZM1230.7 742.0L1233.9 738.8L1237.9 736.8L1242.4 736.1L1246.3 735.5L1250.8 736.2L1254.8 738.2L1258.0 741.4L1260.0 745.4L1260.7 749.9L1260.0 754.3L1258.0 758.3L1254.8 761.5L1250.8 763.6L1246.3 764.3L1242.4 764.9L1237.9 764.1L1233.9 762.1L1230.7 758.9L1228.7 754.9L1228.0 750.5L1228.7 746.0ZM1231.9 749.9L1232.6 745.4L1234.7 741.4L1237.9 738.2L1241.9 736.2L1246.3 735.5L1250.3 734.9L1254.7 735.6L1258.8 737.6L1261.9 740.8L1264.0 744.8L1264.7 749.3L1264.0 753.7L1261.9 757.7L1258.8 760.9L1254.7 763.0L1250.3 763.7L1246.3 764.3L1241.9 763.6L1237.9 761.5L1234.7 758.3L1232.6 754.3ZM1235.9 749.3L1236.6 744.8L1238.6 740.8L1241.8 737.6L1245.8 735.6L1250.3 734.9L1254.3 734.3L1258.7 735.0L1262.7 737.1L1265.9 740.2L1268.0 744.3L1268.7 748.7L1268.0 753.2L1265.9 757.2L1262.7 760.4L1258.7 762.4L1254.3 763.1L1250.3 763.7L1245.8 763.0L1241.8 760.9L1238.6 757.7L1236.6 753.7ZM1239.9 748.7L1240.6 744.3L1242.6 740.2L1245.8 737.1L1249.8 735.0L1254.3 734.3L1258.2 733.7L1262.7 734.4L1266.7 736.5L1269.9 739.7L1271.9 743.7L1272.6 748.1L1271.9 752.6L1269.9 756.6L1266.7 759.8L1262.7 761.8L1258.2 762.5L1254.3 763.1L1249.8 762.4L1245.8 760.4L1242.6 757.2L1240.6 753.2ZM1246.6 739.7L1249.8 736.5L1253.8 734.4L1258.2 733.7L1262.2 733.1L1266.6 733.8L1270.7 735.9L1273.8 739.1L1275.9 743.1L1276.6 747.5L1275.9 752.0L1273.8 756.0L1270.7 759.2L1266.6 761.2L1262.2 761.9L1258.2 762.5L1253.8 761.8L1249.8 759.8L1246.6 756.6L1244.5 752.6L1243.8 748.1L1244.5 743.7ZM1247.8 747.5L1248.5 743.1L1250.5 739.1L1253.7 735.9L1257.7 733.8L1262.2 733.1L1266.2 732.6L1270.6 733.3L1274.6 735.3L1277.8 738.5L1279.9 742.5L1280.6 747.0L1279.9 751.4L1277.8 755.4L1274.6 758.6L1270.6 760.7L1266.2 761.4L1262.2 761.9L1257.7 761.2L1253.7 759.2L1250.5 756.0L1248.5 752.0ZM1251.8 747.0L1252.5 742.5L1254.5 738.5L1257.7 735.3L1261.7 733.3L1266.2 732.6L1270.1 732.0L1274.6 732.7L1278.6 734.7L1281.8 737.9L1283.8 741.9L1284.5 746.4L1283.8 750.8L1281.8 754.9L1278.6 758.0L1274.6 760.1L1270.1 760.8L1266.2 761.4L1261.7 760.7L1257.7 758.6L1254.5 755.4L1252.5 751.4ZM1255.7 746.4L1256.4 741.9L1258.5 737.9L1261.7 734.7L1265.7 732.7L1270.1 732.0L1274.1 731.4L1278.5 732.1L1282.6 734.2L1285.7 737.4L1287.8 741.4L1288.5 745.8L1287.8 750.3L1285.7 754.3L1282.6 757.5L1278.5 759.5L1274.1 760.2L1270.1 760.8L1265.7 760.1L1261.7 758.0L1258.5 754.9L1256.4 750.8ZM1259.7 745.8L1260.4 741.4L1262.4 737.4L1265.6 734.2L1269.6 732.1L1274.1 731.4L1278.1 730.8L1282.5 731.6L1286.5 733.6L1289.7 736.8L1291.8 740.8L1292.5 745.2L1291.8 749.7L1289.7 753.7L1286.5 756.9L1282.5 758.9L1278.1 759.6L1274.1 760.2L1269.6 759.5L1265.6 757.5L1262.4 754.3L1260.4 750.3ZM1263.7 745.2L1264.4 740.8L1266.4 736.8L1269.6 733.6L1273.6 731.6L1278.1 730.8L1282.0 730.3L1286.5 731.0L1290.5 733.0L1293.7 736.2L1295.7 740.2L1296.4 744.7L1295.7 749.1L1293.7 753.1L1290.5 756.3L1286.5 758.4L1282.0 759.1L1278.1 759.6L1273.6 758.9L1269.6 756.9L1266.4 753.7L1264.4 749.7ZM1267.6 744.7L1268.3 740.2L1270.4 736.2L1273.6 733.0L1277.6 731.0L1282.0 730.3L1286.0 729.7L1290.4 730.4L1294.5 732.5L1297.6 735.6L1299.7 739.7L1300.4 744.1L1299.7 748.6L1297.6 752.6L1294.5 755.8L1290.4 757.8L1286.0 758.5L1282.0 759.1L1277.6 758.4L1273.6 756.3L1270.4 753.1L1268.3 749.1ZM1271.6 744.1L1272.3 739.7L1274.3 735.6L1277.5 732.5L1281.5 730.4L1286.0 729.7L1290.0 729.1L1294.4 729.9L1298.4 731.9L1301.6 735.1L1303.7 739.1L1304.4 743.5L1303.7 748.0L1301.6 752.0L1298.4 755.2L1294.4 757.2L1290.0 757.9L1286.0 758.5L1281.5 757.8L1277.5 755.8L1274.3 752.6L1272.3 748.6ZM1275.6 743.5L1276.3 739.1L1278.3 735.1L1281.5 731.9L1285.5 729.9L1290.0 729.1L1293.9 728.6L1298.4 729.3L1302.4 731.3L1305.6 734.5L1307.6 738.5L1308.3 743.0L1307.6 747.4L1305.6 751.4L1302.4 754.6L1298.4 756.7L1293.9 757.4L1290.0 757.9L1285.5 757.2L1281.5 755.2L1278.3 752.0L1276.3 748.0ZM1282.3 734.5L1285.5 731.3L1289.5 729.3L1293.9 728.6L1297.9 728.0L1302.3 728.7L1306.4 730.8L1309.5 734.0L1311.6 738.0L1312.3 742.4L1311.6 746.9L1309.5 750.9L1306.4 754.1L1302.3 756.1L1297.9 756.8L1293.9 757.4L1289.5 756.7L1285.5 754.6L1282.3 751.4L1280.2 747.4L1279.5 743.0L1280.2 738.5ZM1283.5 742.4L1284.2 738.0L1286.2 734.0L1289.4 730.8L1293.4 728.7L1297.9 728.0L1301.9 727.5L1306.3 728.2L1310.3 730.2L1313.5 733.4L1315.6 737.4L1316.3 741.9L1315.6 746.3L1313.5 750.3L1310.3 753.5L1306.3 755.6L1301.9 756.3L1297.9 756.8L1293.4 756.1L1289.4 754.1L1286.2 750.9L1284.2 746.9ZM1287.5 741.9L1288.2 737.4L1290.2 733.4L1293.4 730.2L1297.4 728.2L1301.9 727.5L1305.8 726.9L1310.3 727.6L1314.3 729.7L1317.5 732.8L1319.5 736.9L1320.2 741.3L1319.5 745.8L1317.5 749.8L1314.3 753.0L1310.3 755.0L1305.8 755.7L1301.9 756.3L1297.4 755.6L1293.4 753.5L1290.2 750.3L1288.2 746.3ZM1294.2 732.8L1297.4 729.7L1301.4 727.6L1305.8 726.9L1309.8 726.3L1314.3 727.1L1318.3 729.1L1321.5 732.3L1323.5 736.3L1324.2 740.7L1323.5 745.2L1321.5 749.2L1318.3 752.4L1314.3 754.4L1309.8 755.1L1305.8 755.7L1301.4 755.0L1297.4 753.0L1294.2 749.8L1292.1 745.8L1291.4 741.3L1292.1 736.9ZM1295.4 740.7L1296.1 736.3L1298.2 732.3L1301.3 729.1L1305.4 727.1L1309.8 726.3L1313.8 725.8L1318.2 726.5L1322.2 728.5L1325.4 731.7L1327.5 735.7L1328.2 740.2L1327.5 744.6L1325.4 748.7L1322.2 751.8L1318.2 753.9L1313.8 754.6L1309.8 755.1L1305.4 754.4L1301.3 752.4L1298.2 749.2L1296.1 745.2ZM1302.1 731.7L1305.3 728.5L1309.3 726.5L1313.8 725.8L1317.7 725.2L1322.2 725.9L1326.2 728.0L1329.4 731.2L1331.4 735.2L1332.1 739.6L1331.4 744.1L1329.4 748.1L1326.2 751.3L1322.2 753.3L1317.7 754.0L1313.8 754.6L1309.3 753.9L1305.3 751.8L1302.1 748.7L1300.1 744.6L1299.4 740.2L1300.1 735.7ZM1303.3 739.6L1304.0 735.2L1306.1 731.2L1309.3 728.0L1313.3 725.9L1317.7 725.2L1321.7 724.7L1326.2 725.4L1330.2 727.4L1333.4 730.6L1335.4 734.6L1336.1 739.1L1335.4 743.5L1333.4 747.6L1330.2 750.7L1326.2 752.8L1321.7 753.5L1317.7 754.0L1313.3 753.3L1309.3 751.3L1306.1 748.1L1304.0 744.1ZM1307.3 739.1L1308.0 734.6L1310.1 730.6L1313.3 727.4L1317.3 725.4L1321.7 724.7L1325.7 724.1L1330.1 724.8L1334.1 726.9L1337.3 730.1L1339.4 734.1L1340.1 738.5L1339.4 743.0L1337.3 747.0L1334.1 750.2L1330.1 752.2L1325.7 752.9L1321.7 753.5L1317.3 752.8L1313.3 750.7L1310.1 747.6L1308.0 743.5ZM1311.3 738.5L1312.0 734.1L1314.0 730.1L1317.2 726.9L1321.2 724.8L1325.7 724.1L1329.7 723.6L1334.1 724.3L1338.1 726.3L1341.3 729.5L1343.3 733.5L1344.1 738.0L1343.3 742.4L1341.3 746.5L1338.1 749.6L1334.1 751.7L1329.7 752.4L1325.7 752.9L1321.2 752.2L1317.2 750.2L1314.0 747.0L1312.0 743.0ZM1315.3 738.0L1316.0 733.5L1318.0 729.5L1321.2 726.3L1325.2 724.3L1329.7 723.6L1333.6 723.1L1338.1 723.8L1342.1 725.8L1345.3 729.0L1347.3 733.0L1348.0 737.5L1347.3 741.9L1345.3 745.9L1342.1 749.1L1338.1 751.1L1333.6 751.9L1329.7 752.4L1325.2 751.7L1321.2 749.6L1318.0 746.5L1316.0 742.4ZM1319.2 737.5L1319.9 733.0L1322.0 729.0L1325.2 725.8L1329.2 723.8L1333.6 723.1L1337.6 722.5L1342.0 723.2L1346.1 725.3L1349.2 728.4L1351.3 732.5L1352.0 736.9L1351.3 741.4L1349.2 745.4L1346.1 748.6L1342.0 750.6L1337.6 751.3L1333.6 751.9L1329.2 751.1L1325.2 749.1L1322.0 745.9L1319.9 741.9ZM1323.2 736.9L1323.9 732.5L1325.9 728.4L1329.1 725.3L1333.1 723.2L1337.6 722.5L1341.6 722.0L1346.0 722.7L1350.0 724.7L1353.2 727.9L1355.3 731.9L1356.0 736.4L1355.3 740.8L1353.2 744.8L1350.0 748.0L1346.0 750.1L1341.6 750.8L1337.6 751.3L1333.1 750.6L1329.1 748.6L1325.9 745.4L1323.9 741.4ZM1329.9 727.9L1333.1 724.7L1337.1 722.7L1341.6 722.0L1345.5 721.4L1350.0 722.1L1354.0 724.2L1357.2 727.4L1359.2 731.4L1359.9 735.8L1359.2 740.3L1357.2 744.3L1354.0 747.5L1350.0 749.5L1345.5 750.2L1341.6 750.8L1337.1 750.1L1333.1 748.0L1329.9 744.8L1327.9 740.8L1327.2 736.4L1327.9 731.9ZM1331.1 735.8L1331.8 731.4L1333.9 727.4L1337.1 724.2L1341.1 722.1L1345.5 721.4L1349.5 720.9L1354.0 721.6L1358.0 723.6L1361.2 726.8L1363.2 730.8L1363.9 735.3L1363.2 739.7L1361.2 743.8L1358.0 746.9L1354.0 749.0L1349.5 749.7L1345.5 750.2L1341.1 749.5L1337.1 747.5L1333.9 744.3L1331.8 740.3ZM1335.1 735.3L1335.8 730.8L1337.9 726.8L1341.0 723.6L1345.1 721.6L1349.5 720.9L1353.5 720.3L1357.9 721.1L1361.9 723.1L1365.1 726.3L1367.2 730.3L1367.9 734.7L1367.2 739.2L1365.1 743.2L1361.9 746.4L1357.9 748.4L1353.5 749.1L1349.5 749.7L1345.1 749.0L1341.0 746.9L1337.9 743.8L1335.8 739.7ZM1341.8 726.3L1345.0 723.1L1349.0 721.1L1353.5 720.3L1357.5 719.8L1361.9 720.5L1365.9 722.6L1369.1 725.8L1371.1 729.8L1371.9 734.2L1371.1 738.7L1369.1 742.7L1365.9 745.9L1361.9 747.9L1357.5 748.6L1353.5 749.1L1349.0 748.4L1345.0 746.4L1341.8 743.2L1339.8 739.2L1339.1 734.7L1339.8 730.3ZM1343.1 734.2L1343.8 729.8L1345.8 725.8L1349.0 722.6L1353.0 720.5L1357.5 719.8L1361.4 719.3L1365.9 720.0L1369.9 722.0L1373.1 725.2L1375.1 729.2L1375.8 733.7L1375.1 738.1L1373.1 742.1L1369.9 745.3L1365.9 747.4L1361.4 748.1L1357.5 748.6L1353.0 747.9L1349.0 745.9L1345.8 742.7L1343.8 738.7ZM1347.0 733.7L1347.7 729.2L1349.8 725.2L1353.0 722.0L1357.0 720.0L1361.4 719.3L1365.4 718.7L1369.8 719.5L1373.9 721.5L1377.0 724.7L1379.1 728.7L1379.8 733.1L1379.1 737.6L1377.0 741.6L1373.9 744.8L1369.8 746.8L1365.4 747.5L1361.4 748.1L1357.0 747.4L1353.0 745.3L1349.8 742.1L1347.7 738.1ZM1351.0 733.1L1351.7 728.7L1353.7 724.7L1356.9 721.5L1360.9 719.5L1365.4 718.7L1369.4 718.2L1373.8 718.9L1377.8 721.0L1381.0 724.2L1383.1 728.2L1383.8 732.6L1383.1 737.1L1381.0 741.1L1377.8 744.3L1373.8 746.3L1369.4 747.0L1365.4 747.5L1360.9 746.8L1356.9 744.8L1353.7 741.6L1351.7 737.6ZM1357.7 724.2L1360.9 721.0L1364.9 718.9L1369.4 718.2L1373.3 717.7L1377.8 718.4L1381.8 720.4L1385.0 723.6L1387.0 727.6L1387.7 732.1L1387.0 736.5L1385.0 740.6L1381.8 743.7L1377.8 745.8L1373.3 746.5L1369.4 747.0L1364.9 746.3L1360.9 744.3L1357.7 741.1L1355.7 737.1L1355.0 732.6L1355.7 728.2ZM1358.9 732.1L1359.6 727.6L1361.7 723.6L1364.9 720.4L1368.9 718.4L1373.3 717.7L1377.3 717.2L1381.8 717.9L1385.8 719.9L1389.0 723.1L1391.0 727.1L1391.7 731.6L1391.0 736.0L1389.0 740.0L1385.8 743.2L1381.8 745.3L1377.3 746.0L1373.3 746.5L1368.9 745.8L1364.9 743.7L1361.7 740.6L1359.6 736.5ZM1365.7 723.1L1368.9 719.9L1372.9 717.9L1377.3 717.2L1381.3 716.6L1385.7 717.3L1389.8 719.4L1392.9 722.6L1395.0 726.6L1395.7 731.0L1395.0 735.5L1392.9 739.5L1389.8 742.7L1385.7 744.7L1381.3 745.4L1377.3 746.0L1372.9 745.3L1368.9 743.2L1365.7 740.0L1363.6 736.0L1362.9 731.6L1363.6 727.1ZM1369.6 722.6L1372.8 719.4L1376.8 717.3L1381.3 716.6L1385.3 716.1L1389.7 716.8L1393.7 718.9L1396.9 722.1L1399.0 726.1L1399.7 730.5L1399.0 735.0L1396.9 739.0L1393.7 742.2L1389.7 744.2L1385.3 744.9L1381.3 745.4L1376.8 744.7L1372.8 742.7L1369.6 739.5L1367.6 735.5L1366.9 731.0L1367.6 726.6ZM1370.9 730.5L1371.6 726.1L1373.6 722.1L1376.8 718.9L1380.8 716.8L1385.3 716.1L1389.2 715.6L1393.7 716.3L1397.7 718.3L1400.9 721.5L1402.9 725.5L1403.6 730.0L1402.9 734.4L1400.9 738.5L1397.7 741.6L1393.7 743.7L1389.2 744.4L1385.3 744.9L1380.8 744.2L1376.8 742.2L1373.6 739.0L1371.6 735.0ZM1374.8 730.0L1375.5 725.5L1377.6 721.5L1380.8 718.3L1384.8 716.3L1389.2 715.6L1393.2 715.1L1397.7 715.8L1401.7 717.8L1404.9 721.0L1406.9 725.0L1407.6 729.5L1406.9 733.9L1404.9 737.9L1401.7 741.1L1397.7 743.2L1393.2 743.9L1389.2 744.4L1384.8 743.7L1380.8 741.6L1377.6 738.5L1375.5 734.4ZM1378.8 729.5L1379.5 725.0L1381.6 721.0L1384.7 717.8L1388.8 715.8L1393.2 715.1L1397.2 714.6L1401.6 715.3L1405.6 717.3L1408.8 720.5L1410.9 724.5L1411.6 729.0L1410.9 733.4L1408.8 737.4L1405.6 740.6L1401.6 742.6L1397.2 743.4L1393.2 743.9L1388.8 743.2L1384.7 741.1L1381.6 737.9L1379.5 733.9ZM1382.8 729.0L1383.5 724.5L1385.5 720.5L1388.7 717.3L1392.7 715.3L1397.2 714.6L1401.2 714.0L1405.6 714.7L1409.6 716.8L1412.8 720.0L1414.9 724.0L1415.6 728.4L1414.9 732.9L1412.8 736.9L1409.6 740.1L1405.6 742.1L1401.2 742.8L1397.2 743.4L1392.7 742.6L1388.7 740.6L1385.5 737.4L1383.5 733.4ZM1386.8 728.4L1387.5 724.0L1389.5 720.0L1392.7 716.8L1396.7 714.7L1401.2 714.0L1405.1 713.5L1409.6 714.2L1413.6 716.3L1416.8 719.5L1418.8 723.5L1419.5 727.9L1418.8 732.4L1416.8 736.4L1413.6 739.6L1409.6 741.6L1405.1 742.3L1401.2 742.8L1396.7 742.1L1392.7 740.1L1389.5 736.9L1387.5 732.9ZM1393.5 719.5L1396.7 716.3L1400.7 714.2L1405.1 713.5L1409.1 713.0L1413.6 713.7L1417.6 715.8L1420.8 718.9L1422.8 723.0L1423.5 727.4L1422.8 731.9L1420.8 735.9L1417.6 739.1L1413.6 741.1L1409.1 741.8L1405.1 742.3L1400.7 741.6L1396.7 739.6L1393.5 736.4L1391.4 732.4L1390.7 727.9L1391.4 723.5ZM1394.7 727.4L1395.4 723.0L1397.5 718.9L1400.6 715.8L1404.7 713.7L1409.1 713.0L1413.1 712.5L1417.5 713.2L1421.5 715.2L1424.7 718.4L1426.8 722.4L1427.5 726.9L1426.8 731.3L1424.7 735.4L1421.5 738.5L1417.5 740.6L1413.1 741.3L1409.1 741.8L1404.7 741.1L1400.6 739.1L1397.5 735.9L1395.4 731.9ZM1401.4 718.4L1404.6 715.2L1408.6 713.2L1413.1 712.5L1417.1 712.0L1421.5 712.7L1425.5 714.7L1428.7 717.9L1430.8 721.9L1431.5 726.4L1430.8 730.8L1428.7 734.8L1425.5 738.0L1421.5 740.1L1417.1 740.8L1413.1 741.3L1408.6 740.6L1404.6 738.5L1401.4 735.4L1399.4 731.3L1398.7 726.9L1399.4 722.4ZM1402.7 726.4L1403.4 721.9L1405.4 717.9L1408.6 714.7L1412.6 712.7L1417.1 712.0L1421.0 711.5L1425.5 712.2L1429.5 714.2L1432.7 717.4L1434.7 721.4L1435.4 725.9L1434.7 730.3L1432.7 734.3L1429.5 737.5L1425.5 739.6L1421.0 740.3L1417.1 740.8L1412.6 740.1L1408.6 738.0L1405.4 734.8L1403.4 730.8ZM1406.6 725.9L1407.3 721.4L1409.4 717.4L1412.6 714.2L1416.6 712.2L1421.0 711.5L1425.0 711.0L1429.5 711.7L1433.5 713.7L1436.7 716.9L1438.7 720.9L1439.4 725.4L1438.7 729.8L1436.7 733.8L1433.5 737.0L1429.5 739.1L1425.0 739.8L1421.0 740.3L1416.6 739.6L1412.6 737.5L1409.4 734.3L1407.3 730.3ZM1410.6 725.4L1411.3 720.9L1413.4 716.9L1416.5 713.7L1420.6 711.7L1425.0 711.0L1429.0 710.5L1433.4 711.2L1437.5 713.2L1440.6 716.4L1442.7 720.4L1443.4 724.9L1442.7 729.3L1440.6 733.3L1437.5 736.5L1433.4 738.6L1429.0 739.3L1425.0 739.8L1420.6 739.1L1416.5 737.0L1413.4 733.8L1411.3 729.8ZM1417.3 716.4L1420.5 713.2L1424.5 711.2L1429.0 710.5L1433.0 710.0L1437.4 710.7L1441.4 712.7L1444.6 715.9L1446.7 719.9L1447.4 724.4L1446.7 728.8L1444.6 732.8L1441.4 736.0L1437.4 738.1L1433.0 738.8L1429.0 739.3L1424.5 738.6L1420.5 736.5L1417.3 733.3L1415.3 729.3L1414.6 724.9L1415.3 720.4ZM1418.6 724.4L1419.3 719.9L1421.3 715.9L1424.5 712.7L1428.5 710.7L1433.0 710.0L1436.9 709.5L1441.4 710.2L1445.4 712.2L1448.6 715.4L1450.6 719.4L1451.3 723.9L1450.6 728.3L1448.6 732.3L1445.4 735.5L1441.4 737.5L1436.9 738.3L1433.0 738.8L1428.5 738.1L1424.5 736.0L1421.3 732.8L1419.3 728.8ZM1422.5 723.9L1423.2 719.4L1425.3 715.4L1428.5 712.2L1432.5 710.2L1436.9 709.5L1440.9 709.0L1445.4 709.7L1449.4 711.7L1452.6 714.9L1454.6 718.9L1455.3 723.4L1454.6 727.8L1452.6 731.8L1449.4 735.0L1445.4 737.0L1440.9 737.8L1436.9 738.3L1432.5 737.5L1428.5 735.5L1425.3 732.3L1423.2 728.3ZM1426.5 723.4L1427.2 718.9L1429.3 714.9L1432.5 711.7L1436.5 709.7L1440.9 709.0L1444.9 708.5L1449.3 709.2L1453.4 711.2L1456.5 714.4L1458.6 718.4L1459.3 722.9L1458.6 727.3L1456.5 731.3L1453.4 734.5L1449.3 736.5L1444.9 737.3L1440.9 737.8L1436.5 737.0L1432.5 735.0L1429.3 731.8L1427.2 727.8ZM1430.5 722.9L1431.2 718.4L1433.2 714.4L1436.4 711.2L1440.4 709.2L1444.9 708.5L1448.9 708.0L1453.3 708.7L1457.3 710.7L1460.5 713.9L1462.6 717.9L1463.3 722.4L1462.6 726.8L1460.5 730.8L1457.3 734.0L1453.3 736.0L1448.9 736.8L1444.9 737.3L1440.4 736.5L1436.4 734.5L1433.2 731.3L1431.2 727.3ZM1434.5 722.4L1435.2 717.9L1437.2 713.9L1440.4 710.7L1444.4 708.7L1448.9 708.0L1452.8 707.5L1457.3 708.2L1461.3 710.2L1464.5 713.4L1466.5 717.4L1467.2 721.9L1466.5 726.3L1464.5 730.3L1461.3 733.5L1457.3 735.6L1452.8 736.3L1448.9 736.8L1444.4 736.0L1440.4 734.0L1437.2 730.8L1435.2 726.8ZM1438.4 721.9L1439.1 717.4L1441.2 713.4L1444.4 710.2L1448.4 708.2L1452.8 707.5L1456.8 707.0L1461.3 707.7L1465.3 709.7L1468.5 712.9L1470.5 716.9L1471.2 721.4L1470.5 725.8L1468.5 729.8L1465.3 733.0L1461.3 735.1L1456.8 735.8L1452.8 736.3L1448.4 735.6L1444.4 733.5L1441.2 730.3L1439.1 726.3ZM1442.4 721.4L1443.1 716.9L1445.2 712.9L1448.4 709.7L1452.4 707.7L1456.8 707.0L1460.8 706.5L1465.2 707.2L1469.3 709.2L1472.4 712.4L1474.5 716.4L1475.2 720.9L1474.5 725.3L1472.4 729.3L1469.3 732.5L1465.2 734.6L1460.8 735.3L1456.8 735.8L1452.4 735.1L1448.4 733.0L1445.2 729.8L1443.1 725.8ZM1449.1 712.4L1452.3 709.2L1456.3 707.2L1460.8 706.5L1464.8 706.0L1469.2 706.7L1473.2 708.7L1476.4 711.9L1478.5 715.9L1479.2 720.4L1478.5 724.8L1476.4 728.8L1473.2 732.0L1469.2 734.1L1464.8 734.8L1460.8 735.3L1456.3 734.6L1452.3 732.5L1449.1 729.3L1447.1 725.3L1446.4 720.9L1447.1 716.4ZM1450.4 720.4L1451.1 715.9L1453.1 711.9L1456.3 708.7L1460.3 706.7L1464.8 706.0L1468.8 705.5L1473.2 706.2L1477.2 708.2L1480.4 711.4L1482.4 715.4L1483.2 719.9L1482.4 724.3L1480.4 728.3L1477.2 731.5L1473.2 733.6L1468.8 734.3L1464.8 734.8L1460.3 734.1L1456.3 732.0L1453.1 728.8L1451.1 724.8ZM1454.4 719.9L1455.1 715.4L1457.1 711.4L1460.3 708.2L1464.3 706.2L1468.8 705.5L1472.7 705.0L1477.2 705.7L1481.2 707.7L1484.4 710.9L1486.4 714.9L1487.1 719.4L1486.4 723.8L1484.4 727.9L1481.2 731.0L1477.2 733.1L1472.7 733.8L1468.8 734.3L1464.3 733.6L1460.3 731.5L1457.1 728.3L1455.1 724.3ZM1461.1 710.9L1464.3 707.7L1468.3 705.7L1472.7 705.0L1476.7 704.5L1481.2 705.2L1485.2 707.3L1488.4 710.4L1490.4 714.5L1491.1 718.9L1490.4 723.4L1488.4 727.4L1485.2 730.6L1481.2 732.6L1476.7 733.3L1472.7 733.8L1468.3 733.1L1464.3 731.0L1461.1 727.9L1459.0 723.8L1458.3 719.4L1459.0 714.9ZM1465.1 710.4L1468.2 707.3L1472.3 705.2L1476.7 704.5L1480.7 704.0L1485.1 704.7L1489.2 706.8L1492.3 710.0L1494.4 714.0L1495.1 718.4L1494.4 722.9L1492.3 726.9L1489.2 730.1L1485.1 732.1L1480.7 732.8L1476.7 733.3L1472.3 732.6L1468.2 730.6L1465.1 727.4L1463.0 723.4L1462.3 718.9L1463.0 714.5ZM1469.0 710.0L1472.2 706.8L1476.2 704.7L1480.7 704.0L1484.7 703.5L1489.1 704.2L1493.1 706.3L1496.3 709.5L1498.4 713.5L1499.1 717.9L1498.4 722.4L1496.3 726.4L1493.1 729.6L1489.1 731.6L1484.7 732.3L1480.7 732.8L1476.2 732.1L1472.2 730.1L1469.0 726.9L1467.0 722.9L1466.3 718.4L1467.0 714.0ZM1470.3 717.9L1471.0 713.5L1473.0 709.5L1476.2 706.3L1480.2 704.2L1484.7 703.5L1488.6 703.0L1493.1 703.7L1497.1 705.8L1500.3 709.0L1502.3 713.0L1503.0 717.4L1502.3 721.9L1500.3 725.9L1497.1 729.1L1493.1 731.1L1488.6 731.8L1484.7 732.3L1480.2 731.6L1476.2 729.6L1473.0 726.4L1471.0 722.4ZM1474.2 717.4L1475.0 713.0L1477.0 709.0L1480.2 705.8L1484.2 703.7L1488.6 703.0L1492.6 702.6L1497.1 703.3L1501.1 705.3L1504.3 708.5L1506.3 712.5L1507.0 717.0L1506.3 721.4L1504.3 725.4L1501.1 728.6L1497.1 730.7L1492.6 731.4L1488.6 731.8L1484.2 731.1L1480.2 729.1L1477.0 725.9L1475.0 721.9ZM1481.0 708.5L1484.2 705.3L1488.2 703.3L1492.6 702.6L1496.6 702.1L1501.1 702.8L1505.1 704.8L1508.3 708.0L1510.3 712.0L1511.0 716.5L1510.3 720.9L1508.3 724.9L1505.1 728.1L1501.1 730.2L1496.6 730.9L1492.6 731.4L1488.2 730.7L1484.2 728.6L1481.0 725.4L1478.9 721.4L1478.2 717.0L1478.9 712.5ZM1482.2 716.5L1482.9 712.0L1485.0 708.0L1488.1 704.8L1492.2 702.8L1496.6 702.1L1500.6 701.6L1505.0 702.3L1509.0 704.3L1512.2 707.5L1514.3 711.5L1515.0 716.0L1514.3 720.4L1512.2 724.5L1509.0 727.6L1505.0 729.7L1500.6 730.4L1496.6 730.9L1492.2 730.2L1488.1 728.1L1485.0 724.9L1482.9 720.9ZM1486.2 716.0L1486.9 711.5L1488.9 707.5L1492.1 704.3L1496.1 702.3L1500.6 701.6L1504.6 701.1L1509.0 701.8L1513.0 703.9L1516.2 707.1L1518.3 711.1L1519.0 715.5L1518.3 720.0L1516.2 724.0L1513.0 727.2L1509.0 729.2L1504.6 729.9L1500.6 730.4L1496.1 729.7L1492.1 727.6L1488.9 724.5L1486.9 720.4ZM1492.9 707.1L1496.1 703.9L1500.1 701.8L1504.6 701.1L1508.5 700.6L1513.0 701.3L1517.0 703.4L1520.2 706.6L1522.2 710.6L1522.9 715.0L1522.2 719.5L1520.2 723.5L1517.0 726.7L1513.0 728.7L1508.5 729.4L1504.6 729.9L1500.1 729.2L1496.1 727.2L1492.9 724.0L1490.9 720.0L1490.2 715.5L1490.9 711.1ZM1494.1 715.0L1494.8 710.6L1496.9 706.6L1500.1 703.4L1504.1 701.3L1508.5 700.6L1512.5 700.2L1517.0 700.9L1521.0 702.9L1524.2 706.1L1526.2 710.1L1526.9 714.6L1526.2 719.0L1524.2 723.0L1521.0 726.2L1517.0 728.3L1512.5 729.0L1508.5 729.4L1504.1 728.7L1500.1 726.7L1496.9 723.5L1494.8 719.5ZM1498.1 714.6L1498.8 710.1L1500.9 706.1L1504.1 702.9L1508.1 700.9L1512.5 700.2L1516.5 699.7L1520.9 700.4L1525.0 702.4L1528.1 705.6L1530.2 709.6L1530.9 714.1L1530.2 718.5L1528.1 722.6L1525.0 725.7L1520.9 727.8L1516.5 728.5L1512.5 729.0L1508.1 728.3L1504.1 726.2L1500.9 723.0L1498.8 719.0ZM1504.8 705.6L1508.0 702.4L1512.0 700.4L1516.5 699.7L1520.5 699.2L1524.9 699.9L1528.9 702.0L1532.1 705.2L1534.2 709.2L1534.9 713.6L1534.2 718.1L1532.1 722.1L1528.9 725.3L1524.9 727.3L1520.5 728.0L1516.5 728.5L1512.0 727.8L1508.0 725.7L1504.8 722.6L1502.8 718.5L1502.1 714.1L1502.8 709.6ZM1506.1 713.6L1506.8 709.2L1508.8 705.2L1512.0 702.0L1516.0 699.9L1520.5 699.2L1524.5 698.7L1528.9 699.5L1532.9 701.5L1536.1 704.7L1538.2 708.7L1538.9 713.1L1538.2 717.6L1536.1 721.6L1532.9 724.8L1528.9 726.8L1524.5 727.5L1520.5 728.0L1516.0 727.3L1512.0 725.3L1508.8 722.1L1506.8 718.1ZM1510.1 713.1L1510.8 708.7L1512.8 704.7L1516.0 701.5L1520.0 699.5L1524.5 698.7L1528.4 698.3L1532.9 699.0L1536.9 701.0L1540.1 704.2L1542.1 708.2L1542.8 712.7L1542.1 717.1L1540.1 721.1L1536.9 724.3L1532.9 726.4L1528.4 727.1L1524.5 727.5L1520.0 726.8L1516.0 724.8L1512.8 721.6L1510.8 717.6ZM1514.0 712.7L1514.7 708.2L1516.8 704.2L1520.0 701.0L1524.0 699.0L1528.4 698.3L1532.4 697.8L1536.9 698.5L1540.9 700.6L1544.1 703.7L1546.1 707.8L1546.8 712.2L1546.1 716.7L1544.1 720.7L1540.9 723.9L1536.9 725.9L1532.4 726.6L1528.4 727.1L1524.0 726.4L1520.0 724.3L1516.8 721.1L1514.7 717.1ZM1518.0 712.2L1518.7 707.8L1520.8 703.7L1524.0 700.6L1528.0 698.5L1532.4 697.8L1536.4 697.3L1540.8 698.0L1544.9 700.1L1548.0 703.3L1550.1 707.3L1550.8 711.7L1550.1 716.2L1548.0 720.2L1544.9 723.4L1540.8 725.4L1536.4 726.1L1532.4 726.6L1528.0 725.9L1524.0 723.9L1520.8 720.7L1518.7 716.7ZM1522.0 711.7L1522.7 707.3L1524.8 703.3L1527.9 700.1L1532.0 698.0L1536.4 697.3L1540.4 696.9L1544.8 697.6L1548.8 699.6L1552.0 702.8L1554.1 706.8L1554.8 711.3L1554.1 715.7L1552.0 719.7L1548.8 722.9L1544.8 725.0L1540.4 725.7L1536.4 726.1L1532.0 725.4L1527.9 723.4L1524.8 720.2L1522.7 716.2ZM1526.0 711.3L1526.7 706.8L1528.7 702.8L1531.9 699.6L1535.9 697.6L1540.4 696.9L1544.4 696.4L1548.8 697.1L1552.8 699.2L1556.0 702.3L1558.1 706.4L1558.8 710.8L1558.1 715.3L1556.0 719.3L1552.8 722.5L1548.8 724.5L1544.4 725.2L1540.4 725.7L1535.9 725.0L1531.9 722.9L1528.7 719.7L1526.7 715.7ZM1530.0 710.8L1530.7 706.4L1532.7 702.3L1535.9 699.2L1539.9 697.1L1544.4 696.4L1548.3 695.9L1552.8 696.6L1556.8 698.7L1560.0 701.9L1562.0 705.9L1562.7 710.3L1562.0 714.8L1560.0 718.8L1556.8 722.0L1552.8 724.0L1548.3 724.7L1544.4 725.2L1539.9 724.5L1535.9 722.5L1532.7 719.3L1530.7 715.3ZM1533.9 710.3L1534.6 705.9L1536.7 701.9L1539.9 698.7L1543.9 696.6L1548.3 695.9L1552.3 695.5L1556.8 696.2L1560.8 698.2L1564.0 701.4L1566.0 705.4L1566.7 709.9L1566.0 714.3L1564.0 718.3L1560.8 721.5L1556.8 723.6L1552.3 724.3L1548.3 724.7L1543.9 724.0L1539.9 722.0L1536.7 718.8L1534.6 714.8ZM1540.7 701.4L1543.9 698.2L1547.9 696.2L1552.3 695.5L1556.3 695.0L1560.8 695.7L1564.8 697.8L1568.0 700.9L1570.0 705.0L1570.7 709.4L1570.0 713.9L1568.0 717.9L1564.8 721.1L1560.8 723.1L1556.3 723.8L1552.3 724.3L1547.9 723.6L1543.9 721.5L1540.7 718.3L1538.6 714.3L1537.9 709.9L1538.6 705.4ZM1541.9 709.4L1542.6 705.0L1544.7 700.9L1547.8 697.8L1551.9 695.7L1556.3 695.0L1560.3 694.6L1564.7 695.3L1568.7 697.3L1571.9 700.5L1574.0 704.5L1574.7 709.0L1574.0 713.4L1571.9 717.4L1568.7 720.6L1564.7 722.6L1560.3 723.4L1556.3 723.8L1551.9 723.1L1547.8 721.1L1544.7 717.9L1542.6 713.9ZM1545.9 709.0L1546.6 704.5L1548.6 700.5L1551.8 697.3L1555.8 695.3L1560.3 694.6L1564.3 694.1L1568.7 694.8L1572.7 696.8L1575.9 700.0L1578.0 704.0L1578.7 708.5L1578.0 712.9L1575.9 717.0L1572.7 720.1L1568.7 722.2L1564.3 722.9L1560.3 723.4L1555.8 722.6L1551.8 720.6L1548.6 717.4L1546.6 713.4ZM1549.9 708.5L1550.6 704.0L1552.6 700.0L1555.8 696.8L1559.8 694.8L1564.3 694.1L1568.2 693.6L1572.7 694.3L1576.7 696.4L1579.9 699.6L1581.9 703.6L1582.6 708.0L1581.9 712.5L1579.9 716.5L1576.7 719.7L1572.7 721.7L1568.2 722.4L1564.3 722.9L1559.8 722.2L1555.8 720.1L1552.6 717.0L1550.6 712.9ZM1553.8 708.0L1554.6 703.6L1556.6 699.6L1559.8 696.4L1563.8 694.3L1568.2 693.6L1572.2 693.2L1576.7 693.9L1580.7 695.9L1583.9 699.1L1585.9 703.1L1586.6 707.6L1585.9 712.0L1583.9 716.0L1580.7 719.2L1576.7 721.3L1572.2 722.0L1568.2 722.4L1563.8 721.7L1559.8 719.7L1556.6 716.5L1554.6 712.5ZM1557.8 707.6L1558.5 703.1L1560.6 699.1L1563.8 695.9L1567.8 693.9L1572.2 693.2L1576.2 692.7L1580.7 693.4L1584.7 695.5L1587.9 698.7L1589.9 702.7L1590.6 707.1L1589.9 711.6L1587.9 715.6L1584.7 718.8L1580.7 720.8L1576.2 721.5L1572.2 722.0L1567.8 721.3L1563.8 719.2L1560.6 716.0L1558.5 712.0ZM1561.8 707.1L1562.5 702.7L1564.6 698.7L1567.7 695.5L1571.8 693.4L1576.2 692.7L1580.2 692.3L1584.6 693.0L1588.7 695.0L1591.8 698.2L1593.9 702.2L1594.6 706.7L1593.9 711.1L1591.8 715.1L1588.7 718.3L1584.6 720.4L1580.2 721.1L1576.2 721.5L1571.8 720.8L1567.7 718.8L1564.6 715.6L1562.5 711.6ZM1565.8 706.7L1566.5 702.2L1568.5 698.2L1571.7 695.0L1575.7 693.0L1580.2 692.3L1584.2 691.8L1588.6 692.5L1592.6 694.6L1595.8 697.7L1597.9 701.8L1598.6 706.2L1597.9 710.7L1595.8 714.7L1592.6 717.9L1588.6 719.9L1584.2 720.6L1580.2 721.1L1575.7 720.4L1571.7 718.3L1568.5 715.1L1566.5 711.1ZM1569.8 706.2L1570.5 701.8L1572.5 697.7L1575.7 694.6L1579.7 692.5L1584.2 691.8L1588.2 691.4L1592.6 692.1L1596.6 694.1L1599.8 697.3L1601.9 701.3L1602.6 705.8L1601.9 710.2L1599.8 714.2L1596.6 717.4L1592.6 719.5L1588.2 720.2L1584.2 720.6L1579.7 719.9L1575.7 717.9L1572.5 714.7L1570.5 710.7ZM1573.8 705.8L1574.5 701.3L1576.5 697.3L1579.7 694.1L1583.7 692.1L1588.2 691.4L1592.1 690.9L1596.6 691.6L1600.6 693.7L1603.8 696.8L1605.8 700.9L1606.5 705.3L1605.8 709.8L1603.8 713.8L1600.6 717.0L1596.6 719.0L1592.1 719.7L1588.2 720.2L1583.7 719.5L1579.7 717.4L1576.5 714.2L1574.5 710.2ZM1577.7 705.3L1578.4 700.9L1580.5 696.8L1583.7 693.7L1587.7 691.6L1592.1 690.9L1596.1 690.5L1600.6 691.2L1604.6 693.2L1607.8 696.4L1609.8 700.4L1610.5 704.9L1609.8 709.3L1607.8 713.3L1604.6 716.5L1600.6 718.6L1596.1 719.3L1592.1 719.7L1587.7 719.0L1583.7 717.0L1580.5 713.8L1578.4 709.8ZM1581.7 704.9L1582.4 700.4L1584.5 696.4L1587.7 693.2L1591.7 691.2L1596.1 690.5L1600.1 690.0L1604.6 690.7L1608.6 692.8L1611.8 695.9L1613.8 700.0L1614.5 704.4L1613.8 708.9L1611.8 712.9L1608.6 716.1L1604.6 718.1L1600.1 718.8L1596.1 719.3L1591.7 718.6L1587.7 716.5L1584.5 713.3L1582.4 709.3ZM1585.7 704.4L1586.4 700.0L1588.5 695.9L1591.6 692.8L1595.7 690.7L1600.1 690.0L1604.1 689.6L1608.5 690.3L1612.6 692.3L1615.7 695.5L1617.8 699.5L1618.5 704.0L1617.8 708.4L1615.7 712.4L1612.6 715.6L1608.5 717.7L1604.1 718.4L1600.1 718.8L1595.7 718.1L1591.6 716.1L1588.5 712.9L1586.4 708.9ZM1589.7 704.0L1590.4 699.5L1592.4 695.5L1595.6 692.3L1599.6 690.3L1604.1 689.6L1608.1 689.1L1612.5 689.8L1616.5 691.9L1619.7 695.0L1621.8 699.1L1622.5 703.5L1621.8 708.0L1619.7 712.0L1616.5 715.2L1612.5 717.2L1608.1 717.9L1604.1 718.4L1599.6 717.7L1595.6 715.6L1592.4 712.4L1590.4 708.4ZM1593.7 703.5L1594.4 699.1L1596.4 695.0L1599.6 691.9L1603.6 689.8L1608.1 689.1L1612.1 688.7L1616.5 689.4L1620.5 691.4L1623.7 694.6L1625.7 698.6L1626.5 703.1L1625.7 707.5L1623.7 711.5L1620.5 714.7L1616.5 716.8L1612.1 717.5L1608.1 717.9L1603.6 717.2L1599.6 715.2L1596.4 712.0L1594.4 708.0ZM1600.4 694.6L1603.6 691.4L1607.6 689.4L1612.1 688.7L1616.0 688.2L1620.5 688.9L1624.5 691.0L1627.7 694.2L1629.7 698.2L1630.4 702.6L1629.7 707.1L1627.7 711.1L1624.5 714.3L1620.5 716.3L1616.0 717.0L1612.1 717.5L1607.6 716.8L1603.6 714.7L1600.4 711.5L1598.4 707.5L1597.7 703.1L1598.4 698.6ZM1601.6 702.6L1602.3 698.2L1604.4 694.2L1607.6 691.0L1611.6 688.9L1616.0 688.2L1620.0 687.8L1624.5 688.5L1628.5 690.5L1631.7 693.7L1633.7 697.7L1634.4 702.2L1633.7 706.6L1631.7 710.6L1628.5 713.8L1624.5 715.9L1620.0 716.6L1616.0 717.0L1611.6 716.3L1607.6 714.3L1604.4 711.1L1602.3 707.1ZM1608.4 693.7L1611.6 690.5L1615.6 688.5L1620.0 687.8L1624.0 687.3L1628.5 688.0L1632.5 690.1L1635.7 693.3L1637.7 697.3L1638.4 701.7L1637.7 706.2L1635.7 710.2L1632.5 713.4L1628.5 715.4L1624.0 716.1L1620.0 716.6L1615.6 715.9L1611.6 713.8L1608.4 710.6L1606.3 706.6L1605.6 702.2L1606.3 697.7ZM1609.6 701.7L1610.3 697.3L1612.4 693.3L1615.5 690.1L1619.6 688.0L1624.0 687.3L1628.0 686.9L1632.4 687.6L1636.5 689.6L1639.6 692.8L1641.7 696.8L1642.4 701.3L1641.7 705.7L1639.6 709.8L1636.5 712.9L1632.4 715.0L1628.0 715.7L1624.0 716.1L1619.6 715.4L1615.5 713.4L1612.4 710.2L1610.3 706.2ZM1613.6 701.3L1614.3 696.8L1616.3 692.8L1619.5 689.6L1623.5 687.6L1628.0 686.9L1632.0 686.5L1636.4 687.2L1640.4 689.2L1643.6 692.4L1645.7 696.4L1646.4 700.9L1645.7 705.3L1643.6 709.3L1640.4 712.5L1636.4 714.5L1632.0 715.3L1628.0 715.7L1623.5 715.0L1619.5 712.9L1616.3 709.8L1614.3 705.7ZM1617.6 700.9L1618.3 696.4L1620.3 692.4L1623.5 689.2L1627.5 687.2L1632.0 686.5L1636.0 686.0L1640.4 686.7L1644.4 688.8L1647.6 691.9L1649.6 696.0L1650.4 700.4L1649.6 704.9L1647.6 708.9L1644.4 712.1L1640.4 714.1L1636.0 714.8L1632.0 715.3L1627.5 714.5L1623.5 712.5L1620.3 709.3L1618.3 705.3ZM1624.3 691.9L1627.5 688.8L1631.5 686.7L1636.0 686.0L1639.9 685.6L1644.4 686.3L1648.4 688.3L1651.6 691.5L1653.6 695.5L1654.3 700.0L1653.6 704.4L1651.6 708.4L1648.4 711.6L1644.4 713.7L1639.9 714.4L1636.0 714.8L1631.5 714.1L1627.5 712.1L1624.3 708.9L1622.3 704.9L1621.6 700.4L1622.3 696.0ZM1625.5 700.0L1626.2 695.5L1628.3 691.5L1631.5 688.3L1635.5 686.3L1639.9 685.6L1643.9 685.1L1648.4 685.8L1652.4 687.9L1655.6 691.1L1657.6 695.1L1658.3 699.5L1657.6 704.0L1655.6 708.0L1652.4 711.2L1648.4 713.2L1643.9 713.9L1639.9 714.4L1635.5 713.7L1631.5 711.6L1628.3 708.4L1626.2 704.4ZM1629.5 699.5L1630.2 695.1L1632.3 691.1L1635.5 687.9L1639.5 685.8L1643.9 685.1L1647.9 684.7L1652.4 685.4L1656.4 687.4L1659.6 690.6L1661.6 694.6L1662.3 699.1L1661.6 703.5L1659.6 707.6L1656.4 710.7L1652.4 712.8L1647.9 713.5L1643.9 713.9L1639.5 713.2L1635.5 711.2L1632.3 708.0L1630.2 704.0ZM1633.5 699.1L1634.2 694.6L1636.3 690.6L1639.4 687.4L1643.5 685.4L1647.9 684.7L1651.9 684.3L1656.3 685.0L1660.4 687.0L1663.5 690.2L1665.6 694.2L1666.3 698.7L1665.6 703.1L1663.5 707.1L1660.4 710.3L1656.3 712.4L1651.9 713.1L1647.9 713.5L1643.5 712.8L1639.4 710.7L1636.3 707.6L1634.2 703.5ZM1640.2 690.2L1643.4 687.0L1647.4 685.0L1651.9 684.3L1655.9 683.8L1660.3 684.5L1664.3 686.6L1667.5 689.8L1669.6 693.8L1670.3 698.2L1669.6 702.7L1667.5 706.7L1664.3 709.9L1660.3 711.9L1655.9 712.6L1651.9 713.1L1647.4 712.4L1643.4 710.3L1640.2 707.1L1638.2 703.1L1637.5 698.7L1638.2 694.2ZM1641.5 698.2L1642.2 693.8L1644.2 689.8L1647.4 686.6L1651.4 684.5L1655.9 683.8L1659.9 683.4L1664.3 684.1L1668.3 686.1L1671.5 689.3L1673.6 693.3L1674.3 697.8L1673.6 702.2L1671.5 706.3L1668.3 709.4L1664.3 711.5L1659.9 712.2L1655.9 712.6L1651.4 711.9L1647.4 709.9L1644.2 706.7L1642.2 702.7ZM1645.5 697.8L1646.2 693.3L1648.2 689.3L1651.4 686.1L1655.4 684.1L1659.9 683.4L1663.8 683.0L1668.3 683.7L1672.3 685.7L1675.5 688.9L1677.5 692.9L1678.2 697.4L1677.5 701.8L1675.5 705.8L1672.3 709.0L1668.3 711.1L1663.8 711.8L1659.9 712.2L1655.4 711.5L1651.4 709.4L1648.2 706.3L1646.2 702.2ZM1649.4 697.4L1650.1 692.9L1652.2 688.9L1655.4 685.7L1659.4 683.7L1663.8 683.0L1667.8 682.5L1672.3 683.2L1676.3 685.3L1679.5 688.5L1681.5 692.5L1682.2 696.9L1681.5 701.4L1679.5 705.4L1676.3 708.6L1672.3 710.6L1667.8 711.3L1663.8 711.8L1659.4 711.1L1655.4 709.0L1652.2 705.8L1650.1 701.8ZM1653.4 696.9L1654.1 692.5L1656.2 688.5L1659.4 685.3L1663.4 683.2L1667.8 682.5L1671.8 682.1L1676.3 682.8L1680.3 684.8L1683.5 688.0L1685.5 692.0L1686.2 696.5L1685.5 700.9L1683.5 705.0L1680.3 708.1L1676.3 710.2L1671.8 710.9L1667.8 711.3L1663.4 710.6L1659.4 708.6L1656.2 705.4L1654.1 701.4ZM1660.2 688.0L1663.3 684.8L1667.4 682.8L1671.8 682.1L1675.8 681.7L1680.2 682.4L1684.3 684.4L1687.4 687.6L1689.5 691.6L1690.2 696.1L1689.5 700.5L1687.4 704.5L1684.3 707.7L1680.2 709.8L1675.8 710.5L1671.8 710.9L1667.4 710.2L1663.3 708.1L1660.2 705.0L1658.1 700.9L1657.4 696.5L1658.1 692.0ZM1661.4 696.1L1662.1 691.6L1664.1 687.6L1667.3 684.4L1671.3 682.4L1675.8 681.7L1679.8 681.2L1684.2 681.9L1688.2 684.0L1691.4 687.2L1693.5 691.2L1694.2 695.6L1693.5 700.1L1691.4 704.1L1688.2 707.3L1684.2 709.3L1679.8 710.0L1675.8 710.5L1671.3 709.8L1667.3 707.7L1664.1 704.5L1662.1 700.5ZM1665.4 695.6L1666.1 691.2L1668.1 687.2L1671.3 684.0L1675.3 681.9L1679.8 681.2L1683.8 680.8L1688.2 681.5L1692.2 683.6L1695.4 686.7L1697.5 690.8L1698.2 695.2L1697.5 699.7L1695.4 703.7L1692.2 706.9L1688.2 708.9L1683.8 709.6L1679.8 710.0L1675.3 709.3L1671.3 707.3L1668.1 704.1L1666.1 700.1ZM1669.4 695.2L1670.1 690.8L1672.1 686.7L1675.3 683.6L1679.3 681.5L1683.8 680.8L1687.8 680.4L1692.2 681.1L1696.2 683.1L1699.4 686.3L1701.4 690.3L1702.2 694.8L1701.4 699.2L1699.4 703.3L1696.2 706.4L1692.2 708.5L1687.8 709.2L1683.8 709.6L1679.3 708.9L1675.3 706.9L1672.1 703.7L1670.1 699.7ZM1673.4 694.8L1674.1 690.3L1676.1 686.3L1679.3 683.1L1683.3 681.1L1687.8 680.4L1691.7 680.0L1696.2 680.7L1700.2 682.7L1703.4 685.9L1705.4 689.9L1706.1 694.4L1705.4 698.8L1703.4 702.8L1700.2 706.0L1696.2 708.1L1691.7 708.8L1687.8 709.2L1683.3 708.5L1679.3 706.4L1676.1 703.3L1674.1 699.2ZM1680.1 685.9L1683.3 682.7L1687.3 680.7L1691.7 680.0L1695.7 679.5L1700.2 680.2L1704.2 682.3L1707.4 685.5L1709.4 689.5L1710.1 693.9L1709.4 698.4L1707.4 702.4L1704.2 705.6L1700.2 707.6L1695.7 708.3L1691.7 708.8L1687.3 708.1L1683.3 706.0L1680.1 702.8L1678.0 698.8L1677.3 694.4L1678.0 689.9ZM1681.3 693.9L1682.0 689.5L1684.1 685.5L1687.3 682.3L1691.3 680.2L1695.7 679.5L1699.7 679.1L1704.2 679.8L1708.2 681.9L1711.4 685.0L1713.4 689.1L1714.1 693.5L1713.4 698.0L1711.4 702.0L1708.2 705.2L1704.2 707.2L1699.7 707.9L1695.7 708.3L1691.3 707.6L1687.3 705.6L1684.1 702.4L1682.0 698.4ZM1685.3 693.5L1686.0 689.1L1688.1 685.0L1691.2 681.9L1695.3 679.8L1699.7 679.1L1703.7 678.7L1708.1 679.4L1712.2 681.4L1715.3 684.6L1717.4 688.6L1718.1 693.1L1717.4 697.5L1715.3 701.6L1712.2 704.7L1708.1 706.8L1703.7 707.5L1699.7 707.9L1695.3 707.2L1691.2 705.2L1688.1 702.0L1686.0 698.0ZM1689.3 693.1L1690.0 688.6L1692.0 684.6L1695.2 681.4L1699.2 679.4L1703.7 678.7L1707.7 678.3L1712.1 679.0L1716.1 681.0L1719.3 684.2L1721.4 688.2L1722.1 692.7L1721.4 697.1L1719.3 701.1L1716.1 704.3L1712.1 706.4L1707.7 707.1L1703.7 707.5L1699.2 706.8L1695.2 704.7L1692.0 701.6L1690.0 697.5ZM1696.0 684.2L1699.2 681.0L1703.2 679.0L1707.7 678.3L1711.7 677.8L1716.1 678.5L1720.1 680.6L1723.3 683.8L1725.4 687.8L1726.1 692.2L1725.4 696.7L1723.3 700.7L1720.1 703.9L1716.1 705.9L1711.7 706.6L1707.7 707.1L1703.2 706.4L1699.2 704.3L1696.0 701.1L1694.0 697.1L1693.3 692.7L1694.0 688.2ZM1700.0 683.8L1703.2 680.6L1707.2 678.5L1711.7 677.8L1715.7 677.4L1720.1 678.1L1724.1 680.2L1727.3 683.4L1729.3 687.4L1730.1 691.8L1729.3 696.3L1727.3 700.3L1724.1 703.5L1720.1 705.5L1715.7 706.2L1711.7 706.6L1707.2 705.9L1703.2 703.9L1700.0 700.7L1698.0 696.7L1697.3 692.2L1698.0 687.8ZM1701.3 691.8L1702.0 687.4L1704.0 683.4L1707.2 680.2L1711.2 678.1L1715.7 677.4L1719.6 677.0L1724.1 677.7L1728.1 679.8L1731.3 682.9L1733.3 687.0L1734.0 691.4L1733.3 695.9L1731.3 699.9L1728.1 703.1L1724.1 705.1L1719.6 705.8L1715.7 706.2L1711.2 705.5L1707.2 703.5L1704.0 700.3L1702.0 696.3ZM1708.0 682.9L1711.2 679.8L1715.2 677.7L1719.6 677.0L1723.6 676.6L1728.1 677.3L1732.1 679.3L1735.3 682.5L1737.3 686.5L1738.0 691.0L1737.3 695.4L1735.3 699.4L1732.1 702.6L1728.1 704.7L1723.6 705.4L1719.6 705.8L1715.2 705.1L1711.2 703.1L1708.0 699.9L1705.9 695.9L1705.2 691.4L1705.9 687.0ZM1709.2 691.0L1709.9 686.5L1712.0 682.5L1715.2 679.3L1719.2 677.3L1723.6 676.6L1727.6 676.2L1732.1 676.9L1736.1 678.9L1739.3 682.1L1741.3 686.1L1742.0 690.6L1741.3 695.0L1739.3 699.0L1736.1 702.2L1732.1 704.3L1727.6 705.0L1723.6 705.4L1719.2 704.7L1715.2 702.6L1712.0 699.4L1709.9 695.4ZM1713.2 690.6L1713.9 686.1L1716.0 682.1L1719.1 678.9L1723.2 676.9L1727.6 676.2L1731.6 675.7L1736.0 676.5L1740.1 678.5L1743.2 681.7L1745.3 685.7L1746.0 690.1L1745.3 694.6L1743.2 698.6L1740.1 701.8L1736.0 703.8L1731.6 704.5L1727.6 705.0L1723.2 704.3L1719.1 702.2L1716.0 699.0L1713.9 695.0ZM1717.2 690.1L1717.9 685.7L1719.9 681.7L1723.1 678.5L1727.1 676.5L1731.6 675.7L1735.6 675.3L1740.0 676.0L1744.0 678.1L1747.2 681.3L1749.3 685.3L1750.0 689.7L1749.3 694.2L1747.2 698.2L1744.0 701.4L1740.0 703.4L1735.6 704.1L1731.6 704.5L1727.1 703.8L1723.1 701.8L1719.9 698.6L1717.9 694.6ZM1721.2 689.7L1721.9 685.3L1723.9 681.3L1727.1 678.1L1731.1 676.0L1735.6 675.3L1739.6 674.9L1744.0 675.6L1748.0 677.7L1751.2 680.9L1753.3 684.9L1754.0 689.3L1753.3 693.8L1751.2 697.8L1748.0 701.0L1744.0 703.0L1739.6 703.7L1735.6 704.1L1731.1 703.4L1727.1 701.4L1723.9 698.2L1721.9 694.2ZM1725.2 689.3L1725.9 684.9L1727.9 680.9L1731.1 677.7L1735.1 675.6L1739.6 674.9L1743.6 674.5L1748.0 675.2L1752.0 677.3L1755.2 680.4L1757.2 684.5L1758.0 688.9L1757.2 693.4L1755.2 697.4L1752.0 700.6L1748.0 702.6L1743.6 703.3L1739.6 703.7L1735.1 703.0L1731.1 701.0L1727.9 697.8L1725.9 693.8ZM1729.2 688.9L1729.9 684.5L1731.9 680.4L1735.1 677.3L1739.1 675.2L1743.6 674.5L1747.5 674.1L1752.0 674.8L1756.0 676.8L1759.2 680.0L1761.2 684.0L1761.9 688.5L1761.2 692.9L1759.2 697.0L1756.0 700.1L1752.0 702.2L1747.5 702.9L1743.6 703.3L1739.1 702.6L1735.1 700.6L1731.9 697.4L1729.9 693.4ZM1733.1 688.5L1733.8 684.0L1735.9 680.0L1739.1 676.8L1743.1 674.8L1747.5 674.1L1751.5 673.7L1756.0 674.4L1760.0 676.4L1763.2 679.6L1765.2 683.6L1765.9 688.1L1765.2 692.5L1763.2 696.5L1760.0 699.7L1756.0 701.8L1751.5 702.5L1747.5 702.9L1743.1 702.2L1739.1 700.1L1735.9 697.0L1733.8 692.9ZM1737.1 688.1L1737.8 683.6L1739.9 679.6L1743.1 676.4L1747.1 674.4L1751.5 673.7L1755.5 673.3L1760.0 674.0L1764.0 676.0L1767.2 679.2L1769.2 683.2L1769.9 687.7L1769.2 692.1L1767.2 696.1L1764.0 699.3L1760.0 701.4L1755.5 702.1L1751.5 702.5L1747.1 701.8L1743.1 699.7L1739.9 696.5L1737.8 692.5ZM1741.1 687.7L1741.8 683.2L1743.9 679.2L1747.0 676.0L1751.1 674.0L1755.5 673.3L1759.5 672.8L1763.9 673.6L1768.0 675.6L1771.1 678.8L1773.2 682.8L1773.9 687.2L1773.2 691.7L1771.1 695.7L1768.0 698.9L1763.9 700.9L1759.5 701.6L1755.5 702.1L1751.1 701.4L1747.0 699.3L1743.9 696.1L1741.8 692.1Z"/>
<path fill="#00ff00" d="M391.8 165.3L408.5 134.5L425.2 165.3L426.4 169.1L393.0 169.1ZM393.0 169.1L409.7 138.3L426.4 169.1L427.5 173.0L394.1 173.0ZM394.1 173.0L410.8 142.2L427.5 173.0L428.7 176.8L395.3 176.8ZM395.3 176.8L412.0 146.0L428.7 176.8L429.8 180.6L396.4 180.6ZM396.4 180.6L413.1 149.8L429.8 180.6L430.9 184.5L397.5 184.5ZM397.5 184.5L414.2 153.7L430.9 184.5L432.0 188.3L398.6 188.3ZM398.6 188.3L415.3 157.5L432.0 188.3L433.1 192.2L399.7 192.2ZM399.7 192.2L416.4 161.4L433.1 192.2L434.1 196.0L400.7 196.0ZM400.7 196.0L417.4 165.2L434.1 196.0L435.2 199.9L401.8 199.9ZM401.8 199.9L418.5 169.1L435.2 199.9L436.2 203.8L402.8 203.8ZM402.8 203.8L419.5 173.0L436.2 203.8L437.2 207.6L403.8 207.6ZM403.8 207.6L420.5 176.8L437.2 207.6L438.2 211.5L404.8 211.5ZM404.8 211.5L421.5 180.7L438.2 211.5L439.2 215.4L405.8 215.4ZM405.8 215.4L422.5 184.6L439.2 215.4L440.2 219.3L406.8 219.3ZM406.8 219.3L423.5 188.5L440.2 219.3L441.2 223.1L407.8 223.1ZM407.8 223.1L424.5 192.3L441.2 223.1L442.2 227.0L408.8 227.0ZM408.8 227.0L425.5 196.2L442.2 227.0L443.1 230.9L409.7 230.9ZM409.7 230.9L426.4 200.1L443.1 230.9L444.1 234.8L410.7 234.8ZM410.7 234.8L427.4 204.0L444.1 234.8L445.0 238.7L411.6 238.7ZM411.6 238.7L428.3 207.9L445.0 238.7L445.9 242.6L412.5 242.6ZM412.5 242.6L429.2 211.8L445.9 242.6L446.8 246.5L413.4 246.5ZM413.4 246.5L430.1 215.7L446.8 246.5L447.7 250.4L414.3 250.4ZM414.3 250.4L431.0 219.6L447.7 250.4L448.6 254.3L415.2 254.3ZM415.2 254.3L431.9 223.5L448.6 254.3L449.5 258.2L416.1 258.2ZM416.1 258.2L432.8 227.4L449.5 258.2L450.4 262.1L417.0 262.1ZM417.0 262.1L433.7 231.3L450.4 262.1L451.3 266.0L417.9 266.0ZM417.9 266.0L434.6 235.2L451.3 266.0L452.2 269.9L418.8 269.9ZM418.8 269.9L435.5 239.1L452.2 269.9L453.0 273.8L419.6 273.8ZM419.6 273.8L436.3 243.0L453.0 273.8L453.9 277.7L420.5 277.7ZM420.5 277.7L437.2 246.9L453.9 277.7L454.8 281.6L421.4 281.6ZM421.4 281.6L438.1 250.8L454.8 281.6L455.6 285.5L422.2 285.5ZM422.2 285.5L438.9 254.7L455.6 285.5L456.5 289.4L423.1 289.4ZM423.1 289.4L439.8 258.6L456.5 289.4L457.3 293.3L423.9 293.3ZM423.9 293.3L440.6 262.5L457.3 293.3L458.2 297.3L424.8 297.3ZM424.8 297.3L441.5 266.5L458.2 297.3L459.0 301.2L425.6 301.2ZM425.6 301.2L442.3 270.4L459.0 301.2L459.9 305.1L426.5 305.1ZM426.5 305.1L443.2 274.3L459.9 305.1L460.7 309.0L427.3 309.0ZM427.3 309.0L444.0 278.2L460.7 309.0L461.6 312.9L428.2 312.9ZM428.2 312.9L444.9 282.1L461.6 312.9L462.4 316.8L429.0 316.8ZM429.0 316.8L445.7 286.0L462.4 316.8L463.3 320.7L429.9 320.7ZM429.9 320.7L446.6 289.9L463.3 320.7L464.1 324.6L430.7 324.6ZM430.7 324.6L447.4 293.8L464.1 324.6L464.9 328.5L431.5 328.5ZM431.5 328.5L448.2 297.7L464.9 328.5L465.8 332.5L432.4 332.5ZM432.4 332.5L449.1 301.7L465.8 332.5L466.7 336.4L433.3 336.4ZM433.3 336.4L450.0 305.6L466.7 336.4L467.5 340.3L434.1 340.3ZM434.1 340.3L450.8 309.5L467.5 340.3L468.4 344.2L435.0 344.2ZM435.0 344.2L451.7 313.4L468.4 344.2L469.2 348.1L435.8 348.1ZM435.8 348.1L452.5 317.3L469.2 348.1L470.1 352.0L436.7 352.0ZM436.7 352.0L453.4 321.2L470.1 352.0L471.0 355.9L437.6 355.9ZM437.6 355.9L454.3 325.1L471.0 355.9L471.9 359.8L438.5 359.8ZM438.5 359.8L455.2 329.0L471.9 359.8L472.7 363.7L439.3 363.7ZM439.3 363.7L456.0 332.9L472.7 363.7L473.6 367.6L440.2 367.6ZM440.2 367.6L456.9 336.8L473.6 367.6L474.5 371.5L441.1 371.5ZM441.1 371.5L457.8 340.7L474.5 371.5L475.4 375.4L442.0 375.4ZM442.0 375.4L458.7 344.6L475.4 375.4L476.4 379.3L443.0 379.3ZM443.0 379.3L459.7 348.5L476.4 379.3L477.3 383.2L443.9 383.2ZM443.9 383.2L460.6 352.4L477.3 383.2L478.2 387.1L444.8 387.1ZM444.8 387.1L461.5 356.3L478.2 387.1L479.2 391.0L445.8 391.0ZM445.8 391.0L462.5 360.2L479.2 391.0L480.1 394.9L446.7 394.9ZM446.7 394.9L463.4 364.1L480.1 394.9L481.1 398.7L447.7 398.7ZM447.7 398.7L464.4 367.9L481.1 398.7L482.0 402.6L448.6 402.6ZM448.6 402.6L465.3 371.8L482.0 402.6L483.0 406.5L449.6 406.5ZM449.6 406.5L466.3 375.7L483.0 406.5L484.0 410.4L450.6 410.4ZM450.6 410.4L467.3 379.6L484.0 410.4L485.1 414.2L451.7 414.2ZM451.7 414.2L468.4 383.4L485.1 414.2L486.1 418.1L452.7 418.1ZM452.7 418.1L469.4 387.3L486.1 418.1L487.1 422.0L453.7 422.0ZM453.7 422.0L470.4 391.2L487.1 422.0L488.2 425.8L454.8 425.8ZM454.8 425.8L471.5 395.0L488.2 425.8L489.3 429.7L455.9 429.7ZM455.9 429.7L472.6 398.9L489.3 429.7L490.4 433.5L457.0 433.5ZM457.0 433.5L473.7 402.7L490.4 433.5L491.5 437.4L458.1 437.4ZM458.1 437.4L474.8 406.6L491.5 437.4L492.7 441.2L459.3 441.2ZM459.3 441.2L476.0 410.4L492.7 441.2L493.9 445.0L460.5 445.0ZM460.5 445.0L477.2 414.2L493.9 445.0L495.1 448.8L461.7 448.8ZM461.7 448.8L478.4 418.0L495.1 448.8L496.3 452.6L462.9 452.6ZM462.9 452.6L479.6 421.8L496.3 452.6L497.5 456.5L464.1 456.5ZM464.1 456.5L480.8 425.7L497.5 456.5L498.8 460.2L465.4 460.2ZM465.4 460.2L482.1 429.4L498.8 460.2L500.1 464.0L466.7 464.0ZM466.7 464.0L483.4 433.2L500.1 464.0L501.5 467.8L468.1 467.8ZM468.1 467.8L484.8 437.0L501.5 467.8L502.8 471.6L469.4 471.6ZM469.4 471.6L486.1 440.8L502.8 471.6L504.2 475.3L470.8 475.3ZM470.8 475.3L487.5 444.5L504.2 475.3L505.7 479.0L472.3 479.0ZM472.3 479.0L489.0 448.2L505.7 479.0L507.1 482.8L473.7 482.8ZM473.7 482.8L490.4 452.0L507.1 482.8L508.6 486.5L475.2 486.5ZM475.2 486.5L491.9 455.7L508.6 486.5L510.2 490.2L476.8 490.2ZM476.8 490.2L493.5 459.4L510.2 490.2L511.7 493.8L478.3 493.8ZM478.3 493.8L495.0 463.0L511.7 493.8L513.4 497.5L480.0 497.5ZM480.0 497.5L496.7 466.7L513.4 497.5L515.0 501.2L481.6 501.2ZM481.6 501.2L498.3 470.4L515.0 501.2L516.7 504.8L483.3 504.8ZM483.3 504.8L500.0 474.0L516.7 504.8L518.4 508.4L485.0 508.4ZM485.0 508.4L501.7 477.6L518.4 508.4L520.2 512.0L486.8 512.0ZM486.8 512.0L503.5 481.2L520.2 512.0L522.1 515.5L488.7 515.5ZM488.7 515.5L505.4 484.7L522.1 515.5L524.0 519.0L490.6 519.0ZM490.6 519.0L507.3 488.2L509.3 491.7L526.0 522.5L492.6 522.5ZM492.6 522.5L509.3 491.7L511.3 495.2L528.0 526.0L494.6 526.0ZM494.6 526.0L511.3 495.2L513.4 498.6L530.1 529.4L496.7 529.4ZM496.7 529.4L513.4 498.6L515.5 501.9L532.2 532.7L498.8 532.7ZM498.8 532.7L515.5 501.9L517.8 505.3L534.5 536.1L501.1 536.1ZM501.1 536.1L517.8 505.3L520.1 508.5L536.8 539.3L503.4 539.3ZM503.4 539.3L520.1 508.5L522.4 511.8L539.1 542.6L505.7 542.6ZM505.7 542.6L522.4 511.8L524.9 514.9L541.6 545.7L508.2 545.7ZM508.2 545.7L524.9 514.9L527.4 518.0L544.1 548.8L510.7 548.8ZM510.7 548.8L527.4 518.0L530.0 521.1L546.7 551.9L513.3 551.9ZM513.3 551.9L530.0 521.1L532.7 524.0L549.4 554.8L516.0 554.8ZM516.0 554.8L532.7 524.0L535.5 526.9L552.2 557.7L518.8 557.7ZM518.8 557.7L535.5 526.9L538.4 529.7L555.1 560.5L521.7 560.5ZM521.7 560.5L538.4 529.7L541.3 532.4L558.0 563.2L524.6 563.2ZM524.6 563.2L541.3 532.4L544.3 535.1L561.0 565.9L527.6 565.9ZM527.6 565.9L544.3 535.1L547.4 537.6L564.1 568.4L530.7 568.4ZM530.7 568.4L547.4 537.6L550.6 540.0L567.3 570.8L533.9 570.8ZM533.9 570.8L550.6 540.0L554.0 542.2L570.7 573.0L537.3 573.0ZM537.3 573.0L554.0 542.2L557.4 544.2L574.1 575.0L540.7 575.0ZM540.7 575.0L557.4 544.2L561.0 545.9L577.7 576.7L544.3 576.7ZM544.3 576.7L561.0 545.9L564.8 547.3L581.5 578.1L548.1 578.1ZM548.1 578.1L564.8 547.3L568.6 548.4L585.3 579.2L551.9 579.2ZM551.9 579.2L568.6 548.4L572.6 549.1L589.3 579.9L555.9 579.9ZM555.9 579.9L572.6 549.1L576.5 549.6L593.2 580.4L559.8 580.4ZM559.8 580.4L576.5 549.6L580.5 549.9L597.2 580.7L563.8 580.7ZM563.8 580.7L580.5 549.9L584.5 550.0L601.2 580.8L567.8 580.8ZM588.5 550.0L605.2 580.8L601.2 580.8L567.8 580.8L584.5 550.0ZM592.5 549.9L609.2 580.7L605.2 580.8L571.8 580.8L588.5 550.0ZM596.5 549.7L613.2 580.5L609.2 580.7L575.8 580.7L592.5 549.9ZM600.5 549.5L617.2 580.3L613.2 580.5L579.8 580.5L596.5 549.7ZM604.5 549.2L621.2 580.0L617.2 580.3L583.8 580.3L600.5 549.5ZM608.5 548.9L625.2 579.7L621.2 580.0L587.8 580.0L604.5 549.2ZM612.5 548.6L629.2 579.4L625.2 579.7L591.8 579.7L608.5 548.9ZM616.5 548.2L633.2 579.0L629.2 579.4L595.8 579.4L612.5 548.6ZM620.4 547.7L637.1 578.5L633.2 579.0L599.8 579.0L616.5 548.2ZM624.4 547.2L641.1 578.0L637.1 578.5L603.7 578.5L620.4 547.7ZM628.4 546.7L645.1 577.5L641.1 578.0L607.7 578.0L624.4 547.2ZM632.3 546.2L649.0 577.0L645.1 577.5L611.7 577.5L628.4 546.7ZM636.3 545.6L653.0 576.4L649.0 577.0L615.6 577.0L632.3 546.2ZM640.3 544.9L657.0 575.7L653.0 576.4L619.6 576.4L636.3 545.6ZM644.2 544.3L660.9 575.1L657.0 575.7L623.6 575.7L640.3 544.9ZM648.1 543.6L664.8 574.4L660.9 575.1L627.5 575.1L644.2 544.3ZM652.1 542.9L668.8 573.7L664.8 574.4L631.4 574.4L648.1 543.6ZM656.0 542.2L672.7 573.0L668.8 573.7L635.4 573.7L652.1 542.9ZM660.0 541.5L676.7 572.3L672.7 573.0L639.3 573.0L656.0 542.2ZM663.9 540.7L680.6 571.5L676.7 572.3L643.3 572.3L660.0 541.5ZM667.8 539.9L684.5 570.7L680.6 571.5L647.2 571.5L663.9 540.7ZM671.7 539.1L688.4 569.9L684.5 570.7L651.1 570.7L667.8 539.9ZM675.7 538.3L692.4 569.1L688.4 569.9L655.0 569.9L671.7 539.1ZM679.6 537.5L696.3 568.3L692.4 569.1L659.0 569.1L675.7 538.3ZM683.5 536.7L700.2 567.5L696.3 568.3L662.9 568.3L679.6 537.5ZM687.4 535.9L704.1 566.7L700.2 567.5L666.8 567.5L683.5 536.7ZM691.3 535.0L708.0 565.8L704.1 566.7L670.7 566.7L687.4 535.9ZM695.2 534.2L711.9 565.0L708.0 565.8L674.6 565.8L691.3 535.0ZM699.2 533.4L715.9 564.2L711.9 565.0L678.5 565.0L695.2 534.2ZM703.1 532.6L719.8 563.4L715.9 564.2L682.5 564.2L699.2 533.4ZM707.0 531.7L723.7 562.5L719.8 563.4L686.4 563.4L703.1 532.6ZM710.9 530.9L727.6 561.7L723.7 562.5L690.3 562.5L707.0 531.7ZM714.8 530.1L731.5 560.9L727.6 561.7L694.2 561.7L710.9 530.9ZM718.7 529.3L735.4 560.1L731.5 560.9L698.1 560.9L714.8 530.1ZM722.7 528.6L739.4 559.4L735.4 560.1L702.0 560.1L718.7 529.3ZM726.6 527.8L743.3 558.6L739.4 559.4L706.0 559.4L722.7 528.6ZM730.5 527.0L747.2 557.8L743.3 558.6L709.9 558.6L726.6 527.8ZM734.5 526.3L751.2 557.1L747.2 557.8L713.8 557.8L730.5 527.0ZM738.4 525.5L755.1 556.3L751.2 557.1L717.8 557.1L734.5 526.3ZM742.3 524.8L759.0 555.6L755.1 556.3L721.7 556.3L738.4 525.5ZM746.3 524.0L763.0 554.8L759.0 555.6L725.6 555.6L742.3 524.8ZM750.2 523.3L766.9 554.1L763.0 554.8L729.6 554.8L746.3 524.0ZM754.1 522.6L770.8 553.4L766.9 554.1L733.5 554.1L750.2 523.3ZM758.1 521.9L774.8 552.7L770.8 553.4L737.4 553.4L754.1 522.6ZM762.0 521.2L778.7 552.0L774.8 552.7L741.4 552.7L758.1 521.9ZM765.9 520.5L782.6 551.3L778.7 552.0L745.3 552.0L762.0 521.2ZM769.9 519.8L786.6 550.6L782.6 551.3L749.2 551.3L765.9 520.5ZM773.8 519.2L790.5 550.0L786.6 550.6L753.2 550.6L769.9 519.8ZM777.8 518.5L794.5 549.3L790.5 550.0L757.1 550.0L773.8 519.2ZM781.7 517.8L798.4 548.6L794.5 549.3L761.1 549.3L777.8 518.5ZM785.7 517.2L802.4 548.0L798.4 548.6L765.0 548.6L781.7 517.8ZM789.6 516.5L806.3 547.3L802.4 548.0L769.0 548.0L785.7 517.2ZM793.6 515.9L810.3 546.7L806.3 547.3L772.9 547.3L789.6 516.5ZM797.5 515.3L814.2 546.1L810.3 546.7L776.9 546.7L793.6 515.9ZM801.5 514.6L818.2 545.4L814.2 546.1L780.8 546.1L797.5 515.3ZM805.4 514.0L822.1 544.8L818.2 545.4L784.8 545.4L801.5 514.6ZM809.4 513.4L826.1 544.2L822.1 544.8L788.7 544.8L805.4 514.0ZM813.3 512.8L830.0 543.6L826.1 544.2L792.7 544.2L809.4 513.4ZM817.3 512.2L834.0 543.0L830.0 543.6L796.6 543.6L813.3 512.8ZM821.3 511.6L838.0 542.4L834.0 543.0L800.6 543.0L817.3 512.2ZM825.2 511.0L841.9 541.8L838.0 542.4L804.6 542.4L821.3 511.6ZM829.2 510.4L845.9 541.2L841.9 541.8L808.5 541.8L825.2 511.0ZM833.1 509.8L849.8 540.6L845.9 541.2L812.5 541.2L829.2 510.4ZM837.1 509.2L853.8 540.0L849.8 540.6L816.4 540.6L833.1 509.8ZM841.0 508.7L857.7 539.5L853.8 540.0L820.4 540.0L837.1 509.2ZM845.0 508.1L861.7 538.9L857.7 539.5L824.3 539.5L841.0 508.7ZM849.0 507.5L865.7 538.3L861.7 538.9L828.3 538.9L845.0 508.1ZM852.9 507.0L869.6 537.8L865.7 538.3L832.3 538.3L849.0 507.5ZM856.9 506.4L873.6 537.2L869.6 537.8L836.2 537.8L852.9 507.0ZM860.9 505.9L877.6 536.7L873.6 537.2L840.2 537.2L856.9 506.4ZM864.8 505.3L881.5 536.1L877.6 536.7L844.2 536.7L860.9 505.9ZM868.8 504.8L885.5 535.6L881.5 536.1L848.1 536.1L864.8 505.3ZM872.8 504.2L889.5 535.0L885.5 535.6L852.1 535.6L868.8 504.8ZM876.7 503.7L893.4 534.5L889.5 535.0L856.1 535.0L872.8 504.2ZM880.7 503.1L897.4 533.9L893.4 534.5L860.0 534.5L876.7 503.7ZM884.6 502.6L901.3 533.4L897.4 533.9L864.0 533.9L880.7 503.1ZM888.6 502.1L905.3 532.9L901.3 533.4L867.9 533.4L884.6 502.6ZM892.6 501.5L909.3 532.3L905.3 532.9L871.9 532.9L888.6 502.1ZM896.5 501.0L913.2 531.8L909.3 532.3L875.9 532.3L892.6 501.5ZM900.5 500.5L917.2 531.3L913.2 531.8L879.8 531.8L896.5 501.0ZM904.5 500.0L921.2 530.8L917.2 531.3L883.8 531.3L900.5 500.5ZM908.4 499.4L925.1 530.2L921.2 530.8L887.8 530.8L904.5 500.0ZM912.4 498.9L929.1 529.7L925.1 530.2L891.7 530.2L908.4 499.4ZM916.4 498.4L933.1 529.2L929.1 529.7L895.7 529.7L912.4 498.9ZM920.3 497.9L937.0 528.7L933.1 529.2L899.7 529.2L916.4 498.4ZM924.3 497.4L941.0 528.2L937.0 528.7L903.6 528.7L920.3 497.9ZM928.3 496.8L945.0 527.6L941.0 528.2L907.6 528.2L924.3 497.4ZM932.3 496.3L949.0 527.1L945.0 527.6L911.6 527.6L928.3 496.8ZM936.2 495.8L952.9 526.6L949.0 527.1L915.6 527.1L932.3 496.3ZM940.2 495.3L956.9 526.1L952.9 526.6L919.5 526.6L936.2 495.8ZM944.2 494.8L960.9 525.6L956.9 526.1L923.5 526.1L940.2 495.3ZM948.1 494.3L964.8 525.1L960.9 525.6L927.5 525.6L944.2 494.8ZM952.1 493.8L968.8 524.6L964.8 525.1L931.4 525.1L948.1 494.3ZM956.1 493.3L972.8 524.1L968.8 524.6L935.4 524.6L952.1 493.8ZM960.0 492.8L976.7 523.6L972.8 524.1L939.4 524.1L956.1 493.3ZM964.0 492.3L980.7 523.1L976.7 523.6L943.3 523.6L960.0 492.8ZM968.0 491.8L984.7 522.6L980.7 523.1L947.3 523.1L964.0 492.3ZM972.0 491.3L988.7 522.1L984.7 522.6L951.3 522.6L968.0 491.8ZM975.9 490.8L992.6 521.6L988.7 522.1L955.3 522.1L972.0 491.3ZM979.9 490.3L996.6 521.1L992.6 521.6L959.2 521.6L975.9 490.8ZM983.9 489.8L1000.6 520.6L996.6 521.1L963.2 521.1L979.9 490.3ZM987.8 489.3L1004.5 520.1L1000.6 520.6L967.2 520.6L983.9 489.8ZM991.8 488.8L1008.5 519.6L1004.5 520.1L971.1 520.1L987.8 489.3ZM995.8 488.4L1012.5 519.2L1008.5 519.6L975.1 519.6L991.8 488.8ZM999.8 487.9L1016.5 518.7L1012.5 519.2L979.1 519.2L995.8 488.4ZM1003.7 487.4L1020.4 518.2L1016.5 518.7L983.1 518.7L999.8 487.9ZM1007.7 486.9L1024.4 517.7L1020.4 518.2L987.0 518.2L1003.7 487.4ZM1011.7 486.4L1028.4 517.2L1024.4 517.7L991.0 517.7L1007.7 486.9ZM1015.6 486.0L1032.3 516.8L1028.4 517.2L995.0 517.2L1011.7 486.4ZM1019.6 485.5L1036.3 516.3L1032.3 516.8L998.9 516.8L1015.6 486.0ZM1023.6 485.0L1040.3 515.8L1036.3 516.3L1002.9 516.3L1019.6 485.5ZM1027.6 484.5L1044.3 515.3L1040.3 515.8L1006.9 515.8L1023.6 485.0ZM1031.5 484.1L1048.2 514.9L1044.3 515.3L1010.9 515.3L1027.6 484.5ZM1035.5 483.6L1052.2 514.4L1048.2 514.9L1014.8 514.9L1031.5 484.1ZM1039.5 483.1L1056.2 513.9L1052.2 514.4L1018.8 514.4L1035.5 483.6ZM1043.5 482.7L1060.2 513.5L1056.2 513.9L1022.8 513.9L1039.5 483.1ZM1047.4 482.2L1064.1 513.0L1060.2 513.5L1026.8 513.5L1043.5 482.7ZM1051.4 481.8L1068.1 512.6L1064.1 513.0L1030.7 513.0L1047.4 482.2ZM1055.4 481.3L1072.1 512.1L1068.1 512.6L1034.7 512.6L1051.4 481.8ZM1059.4 480.8L1076.1 511.6L1072.1 512.1L1038.7 512.1L1055.4 481.3ZM1063.3 480.4L1080.0 511.2L1076.1 511.6L1042.7 511.6L1059.4 480.8ZM1067.3 479.9L1084.0 510.7L1080.0 511.2L1046.6 511.2L1063.3 480.4ZM1071.3 479.5L1088.0 510.3L1084.0 510.7L1050.6 510.7L1067.3 479.9ZM1075.3 479.0L1092.0 509.8L1088.0 510.3L1054.6 510.3L1071.3 479.5ZM1079.2 478.6L1095.9 509.4L1092.0 509.8L1058.6 509.8L1075.3 479.0ZM1083.2 478.1L1099.9 508.9L1095.9 509.4L1062.5 509.4L1079.2 478.6ZM1087.2 477.7L1103.9 508.5L1099.9 508.9L1066.5 508.9L1083.2 478.1ZM1091.2 477.2L1107.9 508.0L1103.9 508.5L1070.5 508.5L1087.2 477.7ZM1095.2 476.8L1111.9 507.6L1107.9 508.0L1074.5 508.0L1091.2 477.2ZM1099.1 476.3L1115.8 507.1L1111.9 507.6L1078.5 507.6L1095.2 476.8ZM1103.1 475.9L1119.8 506.7L1115.8 507.1L1082.4 507.1L1099.1 476.3ZM1107.1 475.5L1123.8 506.3L1119.8 506.7L1086.4 506.7L1103.1 475.9ZM1111.1 475.0L1127.8 505.8L1123.8 506.3L1090.4 506.3L1107.1 475.5ZM1115.0 474.6L1131.7 505.4L1127.8 505.8L1094.4 505.8L1111.1 475.0ZM1119.0 474.2L1135.7 505.0L1131.7 505.4L1098.3 505.4L1115.0 474.6ZM1123.0 473.7L1139.7 504.5L1135.7 505.0L1102.3 505.0L1119.0 474.2ZM1127.0 473.3L1143.7 504.1L1139.7 504.5L1106.3 504.5L1123.0 473.7ZM1131.0 472.9L1147.7 503.7L1143.7 504.1L1110.3 504.1L1127.0 473.3ZM1134.9 472.4L1151.6 503.2L1147.7 503.7L1114.3 503.7L1131.0 472.9ZM1138.9 472.0L1155.6 502.8L1151.6 503.2L1118.2 503.2L1134.9 472.4ZM1142.9 471.6L1159.6 502.4L1155.6 502.8L1122.2 502.8L1138.9 472.0ZM1146.9 471.2L1163.6 502.0L1159.6 502.4L1126.2 502.4L1142.9 471.6ZM1150.8 470.7L1167.5 501.5L1163.6 502.0L1130.2 502.0L1146.9 471.2ZM1154.8 470.3L1171.5 501.1L1167.5 501.5L1134.1 501.5L1150.8 470.7ZM1158.8 469.9L1175.5 500.7L1171.5 501.1L1138.1 501.1L1154.8 470.3ZM1162.8 469.5L1179.5 500.3L1175.5 500.7L1142.1 500.7L1158.8 469.9ZM1166.8 469.1L1183.5 499.9L1179.5 500.3L1146.1 500.3L1162.8 469.5ZM1170.7 468.6L1187.4 499.4L1183.5 499.9L1150.1 499.9L1166.8 469.1ZM1174.7 468.2L1191.4 499.0L1187.4 499.4L1154.0 499.4L1170.7 468.6ZM1178.7 467.8L1195.4 498.6L1191.4 499.0L1158.0 499.0L1174.7 468.2ZM1182.7 467.4L1199.4 498.2L1195.4 498.6L1162.0 498.6L1178.7 467.8ZM1186.7 467.0L1203.4 497.8L1199.4 498.2L1166.0 498.2L1182.7 467.4ZM1190.7 466.6L1207.4 497.4L1203.4 497.8L1170.0 497.8L1186.7 467.0ZM1194.6 466.2L1211.3 497.0L1207.4 497.4L1174.0 497.4L1190.7 466.6ZM1198.6 465.8L1215.3 496.6L1211.3 497.0L1177.9 497.0L1194.6 466.2ZM1202.6 465.4L1219.3 496.2L1215.3 496.6L1181.9 496.6L1198.6 465.8ZM1206.6 465.0L1223.3 495.8L1219.3 496.2L1185.9 496.2L1202.6 465.4ZM1210.6 464.6L1227.3 495.4L1223.3 495.8L1189.9 495.8L1206.6 465.0ZM1214.5 464.2L1231.2 495.0L1227.3 495.4L1193.9 495.4L1210.6 464.6ZM1218.5 463.8L1235.2 494.6L1231.2 495.0L1197.8 495.0L1214.5 464.2ZM1222.5 463.4L1239.2 494.2L1235.2 494.6L1201.8 494.6L1218.5 463.8ZM1226.5 463.0L1243.2 493.8L1239.2 494.2L1205.8 494.2L1222.5 463.4ZM1230.5 462.6L1247.2 493.4L1243.2 493.8L1209.8 493.8L1226.5 463.0ZM1234.5 462.2L1251.2 493.0L1247.2 493.4L1213.8 493.4L1230.5 462.6ZM1238.4 461.8L1255.1 492.6L1251.2 493.0L1217.8 493.0L1234.5 462.2ZM1242.4 461.4L1259.1 492.2L1255.1 492.6L1221.7 492.6L1238.4 461.8ZM1246.4 461.0L1263.1 491.8L1259.1 492.2L1225.7 492.2L1242.4 461.4ZM1250.4 460.6L1267.1 491.4L1263.1 491.8L1229.7 491.8L1246.4 461.0ZM1254.4 460.3L1271.1 491.1L1267.1 491.4L1233.7 491.4L1250.4 460.6ZM1258.3 459.9L1275.0 490.7L1271.1 491.1L1237.7 491.1L1254.4 460.3ZM1262.3 459.5L1279.0 490.3L1275.0 490.7L1241.6 490.7L1258.3 459.9ZM1266.3 459.1L1283.0 489.9L1279.0 490.3L1245.6 490.3L1262.3 459.5ZM1270.3 458.7L1287.0 489.5L1283.0 489.9L1249.6 489.9L1266.3 459.1ZM1274.3 458.4L1291.0 489.2L1287.0 489.5L1253.6 489.5L1270.3 458.7ZM1278.3 458.0L1295.0 488.8L1291.0 489.2L1257.6 489.2L1274.3 458.4ZM1282.3 457.6L1299.0 488.4L1295.0 488.8L1261.6 488.8L1278.3 458.0ZM1286.2 457.2L1302.9 488.0L1299.0 488.4L1265.6 488.4L1282.3 457.6ZM1290.2 456.9L1306.9 487.7L1302.9 488.0L1269.5 488.0L1286.2 457.2ZM1294.2 456.5L1310.9 487.3L1306.9 487.7L1273.5 487.7L1290.2 456.9ZM1298.2 456.1L1314.9 486.9L1310.9 487.3L1277.5 487.3L1294.2 456.5ZM1302.2 455.7L1318.9 486.5L1314.9 486.9L1281.5 486.9L1298.2 456.1ZM1306.2 455.4L1322.9 486.2L1318.9 486.5L1285.5 486.5L1302.2 455.7ZM1310.1 455.0L1326.8 485.8L1322.9 486.2L1289.5 486.2L1306.2 455.4ZM1314.1 454.6L1330.8 485.4L1326.8 485.8L1293.4 485.8L1310.1 455.0ZM1318.1 454.3L1334.8 485.1L1330.8 485.4L1297.4 485.4L1314.1 454.6ZM1322.1 453.9L1338.8 484.7L1334.8 485.1L1301.4 485.1L1318.1 454.3ZM1326.1 453.5L1342.8 484.3L1338.8 484.7L1305.4 484.7L1322.1 453.9ZM1330.1 453.2L1346.8 484.0L1342.8 484.3L1309.4 484.3L1326.1 453.5ZM1334.1 452.8L1350.8 483.6L1346.8 484.0L1313.4 484.0L1330.1 453.2ZM1338.0 452.5L1354.7 483.3L1350.8 483.6L1317.4 483.6L1334.1 452.8ZM1342.0 452.1L1358.7 482.9L1354.7 483.3L1321.3 483.3L1338.0 452.5ZM1346.0 451.8L1362.7 482.6L1358.7 482.9L1325.3 482.9L1342.0 452.1ZM1350.0 451.4L1366.7 482.2L1362.7 482.6L1329.3 482.6L1346.0 451.8ZM1354.0 451.1L1370.7 481.9L1366.7 482.2L1333.3 482.2L1350.0 451.4ZM1358.0 450.7L1374.7 481.5L1370.7 481.9L1337.3 481.9L1354.0 451.1ZM1362.0 450.3L1378.7 481.1L1374.7 481.5L1341.3 481.5L1358.0 450.7ZM1365.9 450.0L1382.6 480.8L1378.7 481.1L1345.3 481.1L1362.0 450.3ZM1369.9 449.7L1386.6 480.5L1382.6 480.8L1349.2 480.8L1365.9 450.0ZM1373.9 449.3L1390.6 480.1L1386.6 480.5L1353.2 480.5L1369.9 449.7ZM1377.9 449.0L1394.6 479.8L1390.6 480.1L1357.2 480.1L1373.9 449.3ZM1381.9 448.6L1398.6 479.4L1394.6 479.8L1361.2 479.8L1377.9 449.0ZM1385.9 448.3L1402.6 479.1L1398.6 479.4L1365.2 479.4L1381.9 448.6ZM1389.9 447.9L1406.6 478.7L1402.6 479.1L1369.2 479.1L1385.9 448.3ZM1393.8 447.6L1410.5 478.4L1406.6 478.7L1373.2 478.7L1389.9 447.9ZM1397.8 447.2L1414.5 478.0L1410.5 478.4L1377.1 478.4L1393.8 447.6ZM1401.8 446.9L1418.5 477.7L1414.5 478.0L1381.1 478.0L1397.8 447.2ZM1405.8 446.6L1422.5 477.4L1418.5 477.7L1385.1 477.7L1401.8 446.9ZM1409.8 446.2L1426.5 477.0L1422.5 477.4L1389.1 477.4L1405.8 446.6ZM1413.8 445.9L1430.5 476.7L1426.5 477.0L1393.1 477.0L1409.8 446.2ZM1417.8 445.6L1434.5 476.4L1430.5 476.7L1397.1 476.7L1413.8 445.9ZM1421.8 445.2L1438.5 476.0L1434.5 476.4L1401.1 476.4L1417.8 445.6ZM1425.7 444.9L1442.4 475.7L1438.5 476.0L1405.1 476.0L1421.8 445.2ZM1429.7 444.6L1446.4 475.4L1442.4 475.7L1409.0 475.7L1425.7 444.9ZM1433.7 444.2L1450.4 475.0L1446.4 475.4L1413.0 475.4L1429.7 444.6ZM1437.7 443.9L1454.4 474.7L1450.4 475.0L1417.0 475.0L1433.7 444.2ZM1441.7 443.6L1458.4 474.4L1454.4 474.7L1421.0 474.7L1437.7 443.9ZM1445.7 443.3L1462.4 474.1L1458.4 474.4L1425.0 474.4L1441.7 443.6ZM1449.7 442.9L1466.4 473.7L1462.4 474.1L1429.0 474.1L1445.7 443.3ZM1453.7 442.6L1470.4 473.4L1466.4 473.7L1433.0 473.7L1449.7 442.9ZM1457.7 442.3L1474.4 473.1L1470.4 473.4L1437.0 473.4L1453.7 442.6ZM1461.6 442.0L1478.3 472.8L1474.4 473.1L1441.0 473.1L1457.7 442.3ZM1465.6 441.6L1482.3 472.4L1478.3 472.8L1444.9 472.8L1461.6 442.0ZM1469.6 441.3L1486.3 472.1L1482.3 472.4L1448.9 472.4L1465.6 441.6ZM1473.6 441.0L1490.3 471.8L1486.3 472.1L1452.9 472.1L1469.6 441.3ZM1477.6 440.7L1494.3 471.5L1490.3 471.8L1456.9 471.8L1473.6 441.0ZM1481.6 440.4L1498.3 471.2L1494.3 471.5L1460.9 471.5L1477.6 440.7ZM1485.6 440.1L1502.3 470.9L1498.3 471.2L1464.9 471.2L1481.6 440.4ZM1489.6 439.7L1506.3 470.5L1502.3 470.9L1468.9 470.9L1485.6 440.1ZM1493.6 439.4L1510.3 470.2L1506.3 470.5L1472.9 470.5L1489.6 439.7ZM1497.5 439.1L1514.2 469.9L1510.3 470.2L1476.9 470.2L1493.6 439.4ZM1501.5 438.8L1518.2 469.6L1514.2 469.9L1480.8 469.9L1497.5 439.1ZM1505.5 438.5L1522.2 469.3L1518.2 469.6L1484.8 469.6L1501.5 438.8ZM1509.5 438.2L1526.2 469.0L1522.2 469.3L1488.8 469.3L1505.5 438.5ZM1513.5 437.9L1530.2 468.7L1526.2 469.0L1492.8 469.0L1509.5 438.2ZM1517.5 437.6L1534.2 468.4L1530.2 468.7L1496.8 468.7L1513.5 437.9ZM1521.5 437.3L1538.2 468.1L1534.2 468.4L1500.8 468.4L1517.5 437.6ZM1525.5 437.0L1542.2 467.8L1538.2 468.1L1504.8 468.1L1521.5 437.3ZM1529.5 436.6L1546.2 467.4L1542.2 467.8L1508.8 467.8L1525.5 437.0ZM1533.5 436.3L1550.2 467.1L1546.2 467.4L1512.8 467.4L1529.5 436.6ZM1537.4 436.0L1554.1 466.8L1550.2 467.1L1516.8 467.1L1533.5 436.3ZM1541.4 435.7L1558.1 466.5L1554.1 466.8L1520.7 466.8L1537.4 436.0ZM1545.4 435.4L1562.1 466.2L1558.1 466.5L1524.7 466.5L1541.4 435.7ZM1549.4 435.1L1566.1 465.9L1562.1 466.2L1528.7 466.2L1545.4 435.4ZM1553.4 434.8L1570.1 465.6L1566.1 465.9L1532.7 465.9L1549.4 435.1ZM1557.4 434.5L1574.1 465.3L1570.1 465.6L1536.7 465.6L1553.4 434.8ZM1561.4 434.2L1578.1 465.0L1574.1 465.3L1540.7 465.3L1557.4 434.5ZM1565.4 434.0L1582.1 464.8L1578.1 465.0L1544.7 465.0L1561.4 434.2ZM1569.4 433.7L1586.1 464.5L1582.1 464.8L1548.7 464.8L1565.4 434.0ZM1573.4 433.4L1590.1 464.2L1586.1 464.5L1552.7 464.5L1569.4 433.7ZM1577.4 433.1L1594.1 463.9L1590.1 464.2L1556.7 464.2L1573.4 433.4ZM1581.3 432.8L1598.0 463.6L1594.1 463.9L1560.7 463.9L1577.4 433.1ZM1585.3 432.5L1602.0 463.3L1598.0 463.6L1564.6 463.6L1581.3 432.8ZM1589.3 432.2L1606.0 463.0L1602.0 463.3L1568.6 463.3L1585.3 432.5ZM1593.3 431.9L1610.0 462.7L1606.0 463.0L1572.6 463.0L1589.3 432.2ZM1597.3 431.6L1614.0 462.4L1610.0 462.7L1576.6 462.7L1593.3 431.9ZM1601.3 431.3L1618.0 462.1L1614.0 462.4L1580.6 462.4L1597.3 431.6ZM1605.3 431.0L1622.0 461.8L1618.0 462.1L1584.6 462.1L1601.3 431.3ZM1609.3 430.8L1626.0 461.6L1622.0 461.8L1588.6 461.8L1605.3 431.0ZM1613.3 430.5L1630.0 461.3L1626.0 461.6L1592.6 461.6L1609.3 430.8ZM1617.3 430.2L1634.0 461.0L1630.0 461.3L1596.6 461.3L1613.3 430.5ZM1621.3 429.9L1638.0 460.7L1634.0 461.0L1600.6 461.0L1617.3 430.2ZM1625.2 429.6L1641.9 460.4L1638.0 460.7L1604.6 460.7L1621.3 429.9ZM1629.2 429.3L1645.9 460.1L1641.9 460.4L1608.5 460.4L1625.2 429.6ZM1633.2 429.1L1649.9 459.9L1645.9 460.1L1612.5 460.1L1629.2 429.3ZM1637.2 428.8L1653.9 459.6L1649.9 459.9L1616.5 459.9L1633.2 429.1ZM1641.2 428.5L1657.9 459.3L1653.9 459.6L1620.5 459.6L1637.2 428.8ZM1645.2 428.2L1661.9 459.0L1657.9 459.3L1624.5 459.3L1641.2 428.5ZM1649.2 427.9L1665.9 458.7L1661.9 459.0L1628.5 459.0L1645.2 428.2ZM1653.2 427.7L1669.9 458.5L1665.9 458.7L1632.5 458.7L1649.2 427.9ZM1657.2 427.4L1673.9 458.2L1669.9 458.5L1636.5 458.5L1653.2 427.7ZM1661.2 427.1L1677.9 457.9L1673.9 458.2L1640.5 458.2L1657.2 427.4ZM1665.2 426.8L1681.9 457.6L1677.9 457.9L1644.5 457.9L1661.2 427.1ZM1669.2 426.6L1685.9 457.4L1681.9 457.6L1648.5 457.6L1665.2 426.8ZM1673.2 426.3L1689.9 457.1L1685.9 457.4L1652.5 457.4L1669.2 426.6ZM1677.1 426.0L1693.8 456.8L1689.9 457.1L1656.5 457.1L1673.2 426.3ZM1681.1 425.8L1697.8 456.6L1693.8 456.8L1660.4 456.8L1677.1 426.0ZM1685.1 425.5L1701.8 456.3L1697.8 456.6L1664.4 456.6L1681.1 425.8ZM1689.1 425.2L1705.8 456.0L1701.8 456.3L1668.4 456.3L1685.1 425.5ZM1693.1 425.0L1709.8 455.8L1705.8 456.0L1672.4 456.0L1689.1 425.2ZM1697.1 424.7L1713.8 455.5L1709.8 455.8L1676.4 455.8L1693.1 425.0ZM1701.1 424.4L1717.8 455.2L1713.8 455.5L1680.4 455.5L1697.1 424.7ZM1705.1 424.1L1721.8 454.9L1717.8 455.2L1684.4 455.2L1701.1 424.4ZM1709.1 423.9L1725.8 454.7L1721.8 454.9L1688.4 454.9L1705.1 424.1ZM1713.1 423.6L1729.8 454.4L1725.8 454.7L1692.4 454.7L1709.1 423.9ZM1717.1 423.4L1733.8 454.2L1729.8 454.4L1696.4 454.4L1713.1 423.6ZM1721.1 423.1L1737.8 453.9L1733.8 454.2L1700.4 454.2L1717.1 423.4ZM1725.1 422.8L1741.8 453.6L1737.8 453.9L1704.4 453.9L1721.1 423.1ZM1729.1 422.6L1745.8 453.4L1741.8 453.6L1708.4 453.6L1725.1 422.8ZM1733.0 422.3L1749.7 453.1L1745.8 453.4L1712.4 453.4L1729.1 422.6ZM1737.0 422.0L1753.7 452.8L1749.7 453.1L1716.3 453.1L1733.0 422.3ZM1741.0 421.8L1757.7 452.6L1753.7 452.8L1720.3 452.8L1737.0 422.0ZM1745.0 421.5L1761.7 452.3L1757.7 452.6L1724.3 452.6L1741.0 421.8ZM1749.0 421.3L1765.7 452.1L1761.7 452.3L1728.3 452.3L1745.0 421.5ZM1753.0 421.0L1769.7 451.8L1765.7 452.1L1732.3 452.1L1749.0 421.3ZM1757.0 420.8L1773.7 451.6L1769.7 451.8L1736.3 451.8L1753.0 421.0ZM1761.0 420.5L1777.7 451.3L1773.7 451.6L1740.3 451.6L1757.0 420.8Z"/>
<path fill="#0000ff" d="M427.6 154.8L410.9 185.0L394.2 154.8L392.6 151.1L426.0 151.1ZM429.2 158.4L412.5 188.6L395.8 158.4L394.2 154.8L427.6 154.8ZM430.8 162.1L414.1 192.3L397.4 162.1L395.8 158.4L429.2 158.4ZM432.3 165.8L415.6 196.0L398.9 165.8L397.4 162.1L430.8 162.1ZM433.8 169.5L417.1 199.7L400.4 169.5L398.9 165.8L432.3 165.8ZM435.3 173.3L418.6 203.5L401.9 173.3L400.4 169.5L433.8 169.5ZM436.7 177.0L420.0 207.2L403.3 177.0L401.9 173.3L435.3 173.3ZM438.1 180.8L421.4 211.0L404.7 180.8L403.3 177.0L436.7 177.0ZM439.4 184.6L422.7 214.8L406.0 184.6L404.7 180.8L438.1 180.8ZM440.8 188.3L424.1 218.5L407.4 188.3L406.0 184.6L439.4 184.6ZM442.1 192.1L425.4 222.3L408.7 192.1L407.4 188.3L440.8 188.3ZM443.4 195.9L426.7 226.1L410.0 195.9L408.7 192.1L442.1 192.1ZM444.7 199.7L428.0 229.9L411.3 199.7L410.0 195.9L443.4 195.9ZM445.9 203.5L429.2 233.7L412.5 203.5L411.3 199.7L444.7 199.7ZM447.2 207.3L430.5 237.5L413.8 207.3L412.5 203.5L445.9 203.5ZM448.4 211.1L431.7 241.3L415.0 211.1L413.8 207.3L447.2 207.3ZM449.6 215.0L432.9 245.2L416.2 215.0L415.0 211.1L448.4 211.1ZM450.8 218.8L434.1 249.0L417.4 218.8L416.2 215.0L449.6 215.0ZM452.1 222.6L435.4 252.8L418.7 222.6L417.4 218.8L450.8 218.8ZM453.3 226.4L436.6 256.6L419.9 226.4L418.7 222.6L452.1 222.6ZM454.5 230.2L437.8 260.4L421.1 230.2L419.9 226.4L453.3 226.4ZM455.8 234.0L439.1 264.2L422.4 234.0L421.1 230.2L454.5 230.2ZM457.0 237.8L440.3 268.0L423.6 237.8L422.4 234.0L455.8 234.0ZM458.3 241.6L441.6 271.8L424.9 241.6L423.6 237.8L457.0 237.8ZM459.6 245.4L442.9 275.6L426.2 245.4L424.9 241.6L458.3 241.6ZM460.9 249.2L444.2 279.4L427.5 249.2L426.2 245.4L459.6 245.4ZM462.2 253.0L445.5 283.2L428.8 253.0L427.5 249.2L460.9 249.2ZM463.5 256.8L446.8 287.0L430.1 256.8L428.8 253.0L462.2 253.0ZM464.9 260.6L448.2 290.8L431.5 260.6L430.1 256.8L463.5 256.8ZM466.3 264.3L449.6 294.5L432.9 264.3L431.5 260.6L464.9 260.6ZM467.7 268.1L451.0 298.3L434.3 268.1L432.9 264.3L466.3 264.3ZM469.2 271.8L452.5 302.0L435.8 271.8L434.3 268.1L467.7 268.1ZM470.7 275.5L454.0 305.7L437.3 275.5L435.8 271.8L469.2 271.8ZM472.2 279.2L455.5 309.4L438.8 279.2L437.3 275.5L470.7 275.5ZM473.8 282.9L457.1 313.1L440.4 282.9L438.8 279.2L472.2 279.2ZM475.4 286.6L458.7 316.8L442.0 286.6L440.4 282.9L473.8 282.9ZM477.0 290.2L460.3 320.4L443.6 290.2L442.0 286.6L475.4 286.6ZM478.7 293.8L462.0 324.0L445.3 293.8L443.6 290.2L477.0 290.2ZM480.5 297.4L463.8 327.6L447.1 297.4L445.3 293.8L478.7 293.8ZM482.4 301.0L465.7 331.2L449.0 301.0L447.1 297.4L480.5 297.4ZM484.4 304.4L467.7 334.6L465.7 331.2L449.0 301.0L482.4 301.0ZM486.5 307.9L469.8 338.1L467.7 334.6L451.0 304.4L484.4 304.4ZM488.7 311.2L472.0 341.4L469.8 338.1L453.1 307.9L486.5 307.9ZM491.2 314.4L474.5 344.6L472.0 341.4L455.3 311.2L488.7 311.2ZM493.8 317.4L477.1 347.6L474.5 344.6L457.8 314.4L491.2 314.4ZM496.6 320.3L479.9 350.5L477.1 347.6L460.4 317.4L493.8 317.4ZM499.6 322.9L482.9 353.1L479.9 350.5L463.2 320.3L496.6 320.3ZM502.9 325.2L486.2 355.4L482.9 353.1L466.2 322.9L499.6 322.9ZM506.3 327.2L489.6 357.4L486.2 355.4L469.5 325.2L502.9 325.2ZM510.0 328.9L493.3 359.1L489.6 357.4L472.9 327.2L506.3 327.2ZM513.7 330.3L497.0 360.5L493.3 359.1L476.6 328.9L510.0 328.9ZM517.6 331.2L500.9 361.4L497.0 360.5L480.3 330.3L513.7 330.3ZM521.6 331.8L504.9 362.0L500.9 361.4L484.2 331.2L517.6 331.2ZM525.6 332.2L508.9 362.4L504.9 362.0L488.2 331.8L521.6 331.8ZM529.6 332.3L512.9 362.5L508.9 362.4L492.2 332.2L525.6 332.2ZM512.9 362.5L496.2 332.3L500.2 332.3L533.6 332.3L516.9 362.5ZM516.9 362.5L500.2 332.3L504.2 332.1L537.6 332.1L520.9 362.3ZM520.9 362.3L504.2 332.1L508.2 331.7L541.6 331.7L524.9 361.9ZM524.9 361.9L508.2 331.7L512.2 331.3L545.6 331.3L528.9 361.5ZM528.9 361.5L512.2 331.3L516.1 330.8L549.5 330.8L532.8 361.0ZM532.8 361.0L516.1 330.8L520.1 330.3L553.5 330.3L536.8 360.5ZM536.8 360.5L520.1 330.3L524.1 329.7L557.5 329.7L540.8 359.9ZM540.8 359.9L524.1 329.7L528.0 329.1L561.4 329.1L544.7 359.3ZM544.7 359.3L528.0 329.1L532.0 328.4L565.4 328.4L548.7 358.6ZM548.7 358.6L532.0 328.4L535.9 327.7L569.3 327.7L552.6 357.9ZM552.6 357.9L535.9 327.7L539.9 327.0L573.3 327.0L556.6 357.2ZM556.6 357.2L539.9 327.0L543.8 326.2L577.2 326.2L560.5 356.4ZM560.5 356.4L543.8 326.2L547.7 325.5L581.1 325.5L564.4 355.7ZM564.4 355.7L547.7 325.5L551.7 324.7L585.1 324.7L568.4 354.9ZM568.4 354.9L551.7 324.7L555.6 323.9L589.0 323.9L572.3 354.1ZM572.3 354.1L555.6 323.9L559.5 323.1L592.9 323.1L576.2 353.3ZM576.2 353.3L559.5 323.1L563.5 322.3L596.9 322.3L580.2 352.5ZM580.2 352.5L563.5 322.3L567.4 321.5L600.8 321.5L584.1 351.7ZM584.1 351.7L567.4 321.5L571.3 320.8L604.7 320.8L588.0 351.0ZM588.0 351.0L571.3 320.8L575.3 320.0L608.7 320.0L592.0 350.2ZM592.0 350.2L575.3 320.0L579.2 319.3L612.6 319.3L595.9 349.5ZM595.9 349.5L579.2 319.3L583.1 318.6L616.5 318.6L599.8 348.8ZM599.8 348.8L583.1 318.6L587.1 317.9L620.5 317.9L603.8 348.1ZM603.8 348.1L587.1 317.9L591.0 317.2L624.4 317.2L607.7 347.4ZM607.7 347.4L591.0 317.2L595.0 316.6L628.4 316.6L611.7 346.8ZM611.7 346.8L595.0 316.6L599.0 315.9L632.4 315.9L615.7 346.1ZM615.7 346.1L599.0 315.9L602.9 315.3L636.3 315.3L619.6 345.5ZM619.6 345.5L602.9 315.3L606.9 314.7L640.3 314.7L623.6 344.9ZM623.6 344.9L606.9 314.7L610.8 314.1L644.2 314.1L627.5 344.3ZM627.5 344.3L610.8 314.1L614.8 313.6L648.2 313.6L631.5 343.8ZM631.5 343.8L614.8 313.6L618.8 313.0L652.2 313.0L635.5 343.2ZM635.5 343.2L618.8 313.0L622.7 312.4L656.1 312.4L639.4 342.6ZM639.4 342.6L622.7 312.4L626.7 311.9L660.1 311.9L643.4 342.1ZM643.4 342.1L626.7 311.9L630.7 311.4L664.1 311.4L647.4 341.6ZM647.4 341.6L630.7 311.4L634.7 310.9L668.1 310.9L651.4 341.1ZM651.4 341.1L634.7 310.9L638.6 310.4L672.0 310.4L655.3 340.6ZM655.3 340.6L638.6 310.4L642.6 309.9L676.0 309.9L659.3 340.1ZM659.3 340.1L642.6 309.9L646.6 309.4L680.0 309.4L663.3 339.6ZM663.3 339.6L646.6 309.4L650.6 308.9L684.0 308.9L667.3 339.1ZM667.3 339.1L650.6 308.9L654.5 308.4L687.9 308.4L671.2 338.6ZM671.2 338.6L654.5 308.4L658.5 308.0L691.9 308.0L675.2 338.2ZM675.2 338.2L658.5 308.0L662.5 307.5L695.9 307.5L679.2 337.7ZM679.2 337.7L662.5 307.5L666.5 307.0L699.9 307.0L683.2 337.2ZM683.2 337.2L666.5 307.0L670.5 306.6L703.9 306.6L687.2 336.8ZM687.2 336.8L670.5 306.6L674.5 306.2L707.9 306.2L691.2 336.4ZM691.2 336.4L674.5 306.2L678.4 305.7L711.8 305.7L695.1 335.9ZM695.1 335.9L678.4 305.7L682.4 305.3L715.8 305.3L699.1 335.5ZM699.1 335.5L682.4 305.3L686.4 304.9L719.8 304.9L703.1 335.1ZM703.1 335.1L686.4 304.9L690.4 304.4L723.8 304.4L707.1 334.6ZM707.1 334.6L690.4 304.4L694.4 304.0L727.8 304.0L711.1 334.2ZM711.1 334.2L694.4 304.0L698.4 303.6L731.8 303.6L715.1 333.8ZM715.1 333.8L698.4 303.6L702.3 303.2L735.7 303.2L719.0 333.4ZM719.0 333.4L702.3 303.2L706.3 302.8L739.7 302.8L723.0 333.0ZM723.0 333.0L706.3 302.8L710.3 302.4L743.7 302.4L727.0 332.6ZM727.0 332.6L710.3 302.4L714.3 302.0L747.7 302.0L731.0 332.2ZM731.0 332.2L714.3 302.0L718.3 301.6L751.7 301.6L735.0 331.8ZM735.0 331.8L718.3 301.6L722.3 301.2L755.7 301.2L739.0 331.4ZM739.0 331.4L722.3 301.2L726.3 300.8L759.7 300.8L743.0 331.0ZM743.0 331.0L726.3 300.8L730.3 300.4L763.7 300.4L747.0 330.6ZM747.0 330.6L730.3 300.4L734.3 300.0L767.7 300.0L751.0 330.2ZM751.0 330.2L734.3 300.0L738.2 299.6L771.6 299.6L754.9 329.8ZM754.9 329.8L738.2 299.6L742.2 299.3L775.6 299.3L758.9 329.5ZM758.9 329.5L742.2 299.3L746.2 298.9L779.6 298.9L762.9 329.1ZM762.9 329.1L746.2 298.9L750.2 298.5L783.6 298.5L766.9 328.7ZM766.9 328.7L750.2 298.5L754.2 298.2L787.6 298.2L770.9 328.4ZM770.9 328.4L754.2 298.2L758.2 297.8L791.6 297.8L774.9 328.0ZM774.9 328.0L758.2 297.8L762.2 297.5L795.6 297.5L778.9 327.7ZM778.9 327.7L762.2 297.5L766.2 297.1L799.6 297.1L782.9 327.3ZM782.9 327.3L766.2 297.1L770.2 296.8L803.6 296.8L786.9 327.0ZM786.9 327.0L770.2 296.8L774.2 296.4L807.6 296.4L790.9 326.6ZM790.9 326.6L774.2 296.4L778.2 296.1L811.6 296.1L794.9 326.3ZM794.9 326.3L778.2 296.1L782.1 295.7L815.5 295.7L798.8 325.9ZM798.8 325.9L782.1 295.7L786.1 295.4L819.5 295.4L802.8 325.6ZM802.8 325.6L786.1 295.4L790.1 295.1L823.5 295.1L806.8 325.3ZM806.8 325.3L790.1 295.1L794.1 294.7L827.5 294.7L810.8 324.9ZM810.8 324.9L794.1 294.7L798.1 294.4L831.5 294.4L814.8 324.6ZM814.8 324.6L798.1 294.4L802.1 294.1L835.5 294.1L818.8 324.3ZM818.8 324.3L802.1 294.1L806.1 293.8L839.5 293.8L822.8 324.0ZM822.8 324.0L806.1 293.8L810.1 293.5L843.5 293.5L826.8 323.7ZM826.8 323.7L810.1 293.5L814.1 293.2L847.5 293.2L830.8 323.4ZM830.8 323.4L814.1 293.2L818.1 292.8L851.5 292.8L834.8 323.0ZM834.8 323.0L818.1 292.8L822.1 292.5L855.5 292.5L838.8 322.7ZM838.8 322.7L822.1 292.5L826.1 292.2L859.5 292.2L842.8 322.4ZM842.8 322.4L826.1 292.2L830.1 291.9L863.5 291.9L846.8 322.1ZM846.8 322.1L830.1 291.9L834.1 291.6L867.5 291.6L850.8 321.8ZM850.8 321.8L834.1 291.6L838.1 291.3L871.5 291.3L854.8 321.5ZM854.8 321.5L838.1 291.3L842.1 291.0L875.5 291.0L858.8 321.2ZM858.8 321.2L842.1 291.0L846.1 290.8L879.5 290.8L862.8 321.0ZM862.8 321.0L846.1 290.8L850.1 290.5L883.5 290.5L866.8 320.7ZM866.8 320.7L850.1 290.5L854.1 290.2L887.5 290.2L870.8 320.4ZM870.8 320.4L854.1 290.2L858.1 289.9L891.5 289.9L874.8 320.1ZM874.8 320.1L858.1 289.9L862.1 289.6L895.5 289.6L878.8 319.8ZM878.8 319.8L862.1 289.6L866.1 289.3L899.5 289.3L882.8 319.5ZM882.8 319.5L866.1 289.3L870.1 289.1L903.5 289.1L886.8 319.3ZM886.8 319.3L870.1 289.1L874.1 288.8L907.5 288.8L890.8 319.0ZM890.8 319.0L874.1 288.8L878.1 288.5L911.5 288.5L894.8 318.7ZM894.8 318.7L878.1 288.5L882.1 288.3L915.5 288.3L898.8 318.5ZM898.8 318.5L882.1 288.3L886.0 288.0L919.4 288.0L902.7 318.2ZM902.7 318.2L886.0 288.0L890.0 287.7L923.4 287.7L906.7 317.9ZM906.7 317.9L890.0 287.7L894.0 287.5L927.4 287.5L910.7 317.7ZM910.7 317.7L894.0 287.5L898.0 287.2L931.4 287.2L914.7 317.4ZM914.7 317.4L898.0 287.2L902.0 286.9L935.4 286.9L918.7 317.1ZM918.7 317.1L902.0 286.9L906.0 286.7L939.4 286.7L922.7 316.9ZM922.7 316.9L906.0 286.7L910.0 286.4L943.4 286.4L926.7 316.6ZM926.7 316.6L910.0 286.4L914.0 286.2L947.4 286.2L930.7 316.4ZM930.7 316.4L914.0 286.2L918.0 285.9L951.4 285.9L934.7 316.1ZM934.7 316.1L918.0 285.9L922.0 285.7L955.4 285.7L938.7 315.9ZM938.7 315.9L922.0 285.7L926.0 285.4L959.4 285.4L942.7 315.6ZM942.7 315.6L926.0 285.4L930.0 285.2L963.4 285.2L946.7 315.4ZM946.7 315.4L930.0 285.2L934.0 284.9L967.4 284.9L950.7 315.1ZM950.7 315.1L934.0 284.9L938.0 284.7L971.4 284.7L954.7 314.9ZM954.7 314.9L938.0 284.7L942.0 284.5L975.4 284.5L958.7 314.7ZM958.7 314.7L942.0 284.5L946.0 284.2L979.4 284.2L962.7 314.4ZM962.7 314.4L946.0 284.2L950.0 284.0L983.4 284.0L966.7 314.2ZM966.7 314.2L950.0 284.0L954.0 283.8L987.4 283.8L970.7 314.0ZM970.7 314.0L954.0 283.8L958.0 283.5L991.4 283.5L974.7 313.7ZM974.7 313.7L958.0 283.5L962.0 283.3L995.4 283.3L978.7 313.5ZM978.7 313.5L962.0 283.3L966.0 283.1L999.4 283.1L982.7 313.3ZM982.7 313.3L966.0 283.1L970.0 282.8L1003.4 282.8L986.7 313.0ZM986.7 313.0L970.0 282.8L974.0 282.6L1007.4 282.6L990.7 312.8ZM990.7 312.8L974.0 282.6L978.0 282.4L1011.4 282.4L994.7 312.6ZM994.7 312.6L978.0 282.4L982.0 282.1L1015.4 282.1L998.7 312.3ZM998.7 312.3L982.0 282.1L986.0 281.9L1019.4 281.9L1002.7 312.1ZM1002.7 312.1L986.0 281.9L990.1 281.7L1023.5 281.7L1006.8 311.9ZM1006.8 311.9L990.1 281.7L994.1 281.5L1027.5 281.5L1010.8 311.7ZM1010.8 311.7L994.1 281.5L998.1 281.2L1031.5 281.2L1014.8 311.4ZM1014.8 311.4L998.1 281.2L1002.1 281.0L1035.5 281.0L1018.8 311.2ZM1018.8 311.2L1002.1 281.0L1006.1 280.8L1039.5 280.8L1022.8 311.0ZM1022.8 311.0L1006.1 280.8L1010.1 280.6L1043.5 280.6L1026.8 310.8ZM1026.8 310.8L1010.1 280.6L1014.1 280.4L1047.5 280.4L1030.8 310.6ZM1030.8 310.6L1014.1 280.4L1018.1 280.2L1051.5 280.2L1034.8 310.4ZM1034.8 310.4L1018.1 280.2L1022.1 279.9L1055.5 279.9L1038.8 310.1ZM1038.8 310.1L1022.1 279.9L1026.1 279.7L1059.5 279.7L1042.8 309.9ZM1042.8 309.9L1026.1 279.7L1030.1 279.5L1063.5 279.5L1046.8 309.7ZM1046.8 309.7L1030.1 279.5L1034.1 279.3L1067.5 279.3L1050.8 309.5ZM1050.8 309.5L1034.1 279.3L1038.1 279.1L1071.5 279.1L1054.8 309.3ZM1054.8 309.3L1038.1 279.1L1042.1 278.9L1075.5 278.9L1058.8 309.1ZM1058.8 309.1L1042.1 278.9L1046.1 278.6L1079.5 278.6L1062.8 308.8ZM1062.8 308.8L1046.1 278.6L1050.1 278.4L1083.5 278.4L1066.8 308.6ZM1066.8 308.6L1050.1 278.4L1054.1 278.2L1087.5 278.2L1070.8 308.4ZM1070.8 308.4L1054.1 278.2L1058.1 278.0L1091.5 278.0L1074.8 308.2ZM1074.8 308.2L1058.1 278.0L1062.1 277.8L1095.5 277.8L1078.8 308.0ZM1078.8 308.0L1062.1 277.8L1066.1 277.6L1099.5 277.6L1082.8 307.8ZM1082.8 307.8L1066.1 277.6L1070.1 277.4L1103.5 277.4L1086.8 307.6ZM1086.8 307.6L1070.1 277.4L1074.1 277.2L1107.5 277.2L1090.8 307.4ZM1090.8 307.4L1074.1 277.2L1078.1 277.0L1111.5 277.0L1094.8 307.2ZM1094.8 307.2L1078.1 277.0L1082.1 276.7L1115.5 276.7L1098.8 306.9ZM1098.8 306.9L1082.1 276.7L1086.1 276.5L1119.5 276.5L1102.8 306.7ZM1102.8 306.7L1086.1 276.5L1090.1 276.3L1123.5 276.3L1106.8 306.5ZM1106.8 306.5L1090.1 276.3L1094.1 276.1L1127.5 276.1L1110.8 306.3ZM1110.8 306.3L1094.1 276.1L1098.1 275.9L1131.5 275.9L1114.8 306.1ZM1114.8 306.1L1098.1 275.9L1102.1 275.7L1135.5 275.7L1118.8 305.9ZM1118.8 305.9L1102.1 275.7L1106.1 275.5L1139.5 275.5L1122.8 305.7ZM1122.8 305.7L1106.1 275.5L1110.1 275.3L1143.5 275.3L1126.8 305.5ZM1126.8 305.5L1110.1 275.3L1114.1 275.1L1147.5 275.1L1130.8 305.3ZM1130.8 305.3L1114.1 275.1L1118.1 274.9L1151.5 274.9L1134.8 305.1ZM1134.8 305.1L1118.1 274.9L1122.1 274.7L1155.5 274.7L1138.8 304.9ZM1138.8 304.9L1122.1 274.7L1126.1 274.5L1159.5 274.5L1142.8 304.7ZM1142.8 304.7L1126.1 274.5L1130.1 274.3L1163.5 274.3L1146.8 304.5ZM1146.8 304.5L1130.1 274.3L1134.1 274.1L1167.5 274.1L1150.8 304.3ZM1150.8 304.3L1134.1 274.1L1138.1 273.9L1171.5 273.9L1154.8 304.1ZM1154.8 304.1L1138.1 273.9L1142.1 273.7L1175.5 273.7L1158.8 303.9ZM1158.8 303.9L1142.1 273.7L1146.1 273.5L1179.5 273.5L1162.8 303.7ZM1162.8 303.7L1146.1 273.5L1150.1 273.3L1183.5 273.3L1166.8 303.5ZM1166.8 303.5L1150.1 273.3L1154.1 273.1L1187.5 273.1L1170.8 303.3ZM1170.8 303.3L1154.1 273.1L1158.1 272.9L1191.5 272.9L1174.8 303.1ZM1174.8 303.1L1158.1 272.9L1162.1 272.7L1195.5 272.7L1178.8 302.9ZM1178.8 302.9L1162.1 272.7L1166.1 272.5L1199.5 272.5L1182.8 302.7ZM1182.8 302.7L1166.1 272.5L1170.1 272.3L1203.5 272.3L1186.8 302.5ZM1186.8 302.5L1170.1 272.3L1174.1 272.1L1207.5 272.1L1190.8 302.3ZM1190.8 302.3L1174.1 272.1L1178.1 271.9L1211.5 271.9L1194.8 302.1ZM1194.8 302.1L1178.1 271.9L1182.1 271.7L1215.5 271.7L1198.8 301.9ZM1198.8 301.9L1182.1 271.7L1186.1 271.5L1219.5 271.5L1202.8 301.7ZM1202.8 301.7L1186.1 271.5L1190.1 271.3L1223.5 271.3L1206.8 301.5ZM1206.8 301.5L1190.1 271.3L1194.2 271.1L1227.6 271.1L1210.9 301.3ZM1210.9 301.3L1194.2 271.1L1198.2 270.9L1231.6 270.9L1214.9 301.1ZM1214.9 301.1L1198.2 270.9L1202.2 270.7L1235.6 270.7L1218.9 300.9ZM1218.9 300.9L1202.2 270.7L1206.2 270.5L1239.6 270.5L1222.9 300.7ZM1222.9 300.7L1206.2 270.5L1210.2 270.3L1243.6 270.3L1226.9 300.5ZM1226.9 300.5L1210.2 270.3L1214.2 270.1L1247.6 270.1L1230.9 300.3ZM1230.9 300.3L1214.2 270.1L1218.2 270.0L1251.6 270.0L1234.9 300.2ZM1234.9 300.2L1218.2 270.0L1222.2 269.8L1255.6 269.8L1238.9 300.0ZM1238.9 300.0L1222.2 269.8L1226.2 269.6L1259.6 269.6L1242.9 299.8ZM1242.9 299.8L1226.2 269.6L1230.2 269.4L1263.6 269.4L1246.9 299.6ZM1246.9 299.6L1230.2 269.4L1234.2 269.2L1267.6 269.2L1250.9 299.4ZM1250.9 299.4L1234.2 269.2L1238.2 269.0L1271.6 269.0L1254.9 299.2ZM1254.9 299.2L1238.2 269.0L1242.2 268.8L1275.6 268.8L1258.9 299.0ZM1258.9 299.0L1242.2 268.8L1246.2 268.6L1279.6 268.6L1262.9 298.8ZM1262.9 298.8L1246.2 268.6L1250.2 268.5L1283.6 268.5L1266.9 298.7ZM1266.9 298.7L1250.2 268.5L1254.2 268.3L1287.6 268.3L1270.9 298.5ZM1270.9 298.5L1254.2 268.3L1258.2 268.1L1291.6 268.1L1274.9 298.3ZM1274.9 298.3L1258.2 268.1L1262.2 267.9L1295.6 267.9L1278.9 298.1ZM1278.9 298.1L1262.2 267.9L1266.2 267.7L1299.6 267.7L1282.9 297.9ZM1282.9 297.9L1266.2 267.7L1270.2 267.6L1303.6 267.6L1286.9 297.8ZM1286.9 297.8L1270.2 267.6L1274.2 267.4L1307.6 267.4L1290.9 297.6ZM1290.9 297.6L1274.2 267.4L1278.2 267.2L1311.6 267.2L1294.9 297.4ZM1294.9 297.4L1278.2 267.2L1282.2 267.0L1315.6 267.0L1298.9 297.2ZM1298.9 297.2L1282.2 267.0L1286.2 266.8L1319.6 266.8L1302.9 297.0ZM1302.9 297.0L1286.2 266.8L1290.2 266.7L1323.6 266.7L1306.9 296.9ZM1306.9 296.9L1290.2 266.7L1294.2 266.5L1327.6 266.5L1310.9 296.7ZM1310.9 296.7L1294.2 266.5L1298.2 266.3L1331.6 266.3L1314.9 296.5ZM1314.9 296.5L1298.2 266.3L1302.2 266.1L1335.6 266.1L1318.9 296.3ZM1318.9 296.3L1302.2 266.1L1306.2 265.9L1339.6 265.9L1322.9 296.1ZM1322.9 296.1L1306.2 265.9L1310.2 265.8L1343.6 265.8L1326.9 296.0ZM1326.9 296.0L1310.2 265.8L1314.2 265.6L1347.6 265.6L1330.9 295.8ZM1330.9 295.8L1314.2 265.6L1318.3 265.4L1351.7 265.4L1335.0 295.6ZM1335.0 295.6L1318.3 265.4L1322.3 265.3L1355.7 265.3L1339.0 295.5ZM1339.0 295.5L1322.3 265.3L1326.3 265.1L1359.7 265.1L1343.0 295.3ZM1343.0 295.3L1326.3 265.1L1330.3 264.9L1363.7 264.9L1347.0 295.1ZM1347.0 295.1L1330.3 264.9L1334.3 264.7L1367.7 264.7L1351.0 294.9ZM1351.0 294.9L1334.3 264.7L1338.3 264.6L1371.7 264.6L1355.0 294.8ZM1355.0 294.8L1338.3 264.6L1342.3 264.4L1375.7 264.4L1359.0 294.6ZM1359.0 294.6L1342.3 264.4L1346.3 264.2L1379.7 264.2L1363.0 294.4ZM1363.0 294.4L1346.3 264.2L1350.3 264.1L1383.7 264.1L1367.0 294.3ZM1367.0 294.3L1350.3 264.1L1354.3 263.9L1387.7 263.9L1371.0 294.1ZM1371.0 294.1L1354.3 263.9L1358.3 263.7L1391.7 263.7L1375.0 293.9ZM1375.0 293.9L1358.3 263.7L1362.3 263.6L1395.7 263.6L1379.0 293.8ZM1379.0 293.8L1362.3 263.6L1366.3 263.4L1399.7 263.4L1383.0 293.6ZM1383.0 293.6L1366.3 263.4L1370.3 263.2L1403.7 263.2L1387.0 293.4ZM1387.0 293.4L1370.3 263.2L1374.3 263.1L1407.7 263.1L1391.0 293.3ZM1391.0 293.3L1374.3 263.1L1378.3 262.9L1411.7 262.9L1395.0 293.1ZM1395.0 293.1L1378.3 262.9L1382.3 262.8L1415.7 262.8L1399.0 293.0ZM1399.0 293.0L1382.3 262.8L1386.3 262.6L1419.7 262.6L1403.0 292.8ZM1403.0 292.8L1386.3 262.6L1390.3 262.4L1423.7 262.4L1407.0 292.6ZM1407.0 292.6L1390.3 262.4L1394.3 262.3L1427.7 262.3L1411.0 292.5ZM1411.0 292.5L1394.3 262.3L1398.3 262.1L1431.7 262.1L1415.0 292.3ZM1415.0 292.3L1398.3 262.1L1402.3 262.0L1435.7 262.0L1419.0 292.2ZM1419.0 292.2L1402.3 262.0L1406.3 261.8L1439.7 261.8L1423.0 292.0ZM1423.0 292.0L1406.3 261.8L1410.3 261.6L1443.7 261.6L1427.0 291.8ZM1427.0 291.8L1410.3 261.6L1414.3 261.5L1447.7 261.5L1431.0 291.7ZM1431.0 291.7L1414.3 261.5L1418.4 261.3L1451.8 261.3L1435.1 291.5ZM1435.1 291.5L1418.4 261.3L1422.4 261.2L1455.8 261.2L1439.1 291.4ZM1439.1 291.4L1422.4 261.2L1426.4 261.0L1459.8 261.0L1443.1 291.2ZM1443.1 291.2L1426.4 261.0L1430.4 260.9L1463.8 260.9L1447.1 291.1ZM1447.1 291.1L1430.4 260.9L1434.4 260.7L1467.8 260.7L1451.1 290.9ZM1451.1 290.9L1434.4 260.7L1438.4 260.6L1471.8 260.6L1455.1 290.8ZM1455.1 290.8L1438.4 260.6L1442.4 260.4L1475.8 260.4L1459.1 290.6ZM1459.1 290.6L1442.4 260.4L1446.4 260.3L1479.8 260.3L1463.1 290.5ZM1463.1 290.5L1446.4 260.3L1450.4 260.1L1483.8 260.1L1467.1 290.3ZM1467.1 290.3L1450.4 260.1L1454.4 260.0L1487.8 260.0L1471.1 290.2ZM1471.1 290.2L1454.4 260.0L1458.4 259.8L1491.8 259.8L1475.1 290.0ZM1475.1 290.0L1458.4 259.8L1462.4 259.7L1495.8 259.7L1479.1 289.9ZM1479.1 289.9L1462.4 259.7L1466.4 259.5L1499.8 259.5L1483.1 289.7ZM1483.1 289.7L1466.4 259.5L1470.4 259.4L1503.8 259.4L1487.1 289.6ZM1487.1 289.6L1470.4 259.4L1474.4 259.2L1507.8 259.2L1491.1 289.4ZM1491.1 289.4L1474.4 259.2L1478.4 259.1L1511.8 259.1L1495.1 289.3ZM1495.1 289.3L1478.4 259.1L1482.4 259.0L1515.8 259.0L1499.1 289.2ZM1499.1 289.2L1482.4 259.0L1486.4 258.8L1519.8 258.8L1503.1 289.0ZM1503.1 289.0L1486.4 258.8L1490.4 258.7L1523.8 258.7L1507.1 288.9ZM1507.1 288.9L1490.4 258.7L1494.4 258.5L1527.8 258.5L1511.1 288.7ZM1511.1 288.7L1494.4 258.5L1498.4 258.4L1531.8 258.4L1515.1 288.6ZM1515.1 288.6L1498.4 258.4L1502.5 258.3L1535.9 258.3L1519.2 288.5ZM1519.2 288.5L1502.5 258.3L1506.5 258.1L1539.9 258.1L1523.2 288.3ZM1523.2 288.3L1506.5 258.1L1510.5 258.0L1543.9 258.0L1527.2 288.2ZM1527.2 288.2L1510.5 258.0L1514.5 257.8L1547.9 257.8L1531.2 288.0ZM1531.2 288.0L1514.5 257.8L1518.5 257.7L1551.9 257.7L1535.2 287.9ZM1535.2 287.9L1518.5 257.7L1522.5 257.6L1555.9 257.6L1539.2 287.8ZM1539.2 287.8L1522.5 257.6L1526.5 257.4L1559.9 257.4L1543.2 287.6ZM1543.2 287.6L1526.5 257.4L1530.5 257.3L1563.9 257.3L1547.2 287.5ZM1547.2 287.5L1530.5 257.3L1534.5 257.2L1567.9 257.2L1551.2 287.4ZM1551.2 287.4L1534.5 257.2L1538.5 257.1L1571.9 257.1L1555.2 287.3ZM1555.2 287.3L1538.5 257.1L1542.5 256.9L1575.9 256.9L1559.2 287.1ZM1559.2 287.1L1542.5 256.9L1546.5 256.8L1579.9 256.8L1563.2 287.0ZM1563.2 287.0L1546.5 256.8L1550.5 256.7L1583.9 256.7L1567.2 286.9ZM1567.2 286.9L1550.5 256.7L1554.5 256.5L1587.9 256.5L1571.2 286.7ZM1571.2 286.7L1554.5 256.5L1558.5 256.4L1591.9 256.4L1575.2 286.6ZM1575.2 286.6L1558.5 256.4L1562.5 256.3L1595.9 256.3L1579.2 286.5ZM1579.2 286.5L1562.5 256.3L1566.5 256.2L1599.9 256.2L1583.2 286.4ZM1583.2 286.4L1566.5 256.2L1570.5 256.0L1603.9 256.0L1587.2 286.2ZM1587.2 286.2L1570.5 256.0L1574.5 255.9L1607.9 255.9L1591.2 286.1ZM1591.2 286.1L1574.5 255.9L1578.6 255.8L1612.0 255.8L1595.3 286.0ZM1595.3 286.0L1578.6 255.8L1582.6 255.7L1616.0 255.7L1599.3 285.9ZM1599.3 285.9L1582.6 255.7L1586.6 255.6L1620.0 255.6L1603.3 285.8ZM1603.3 285.8L1586.6 255.6L1590.6 255.4L1624.0 255.4L1607.3 285.6ZM1607.3 285.6L1590.6 255.4L1594.6 255.3L1628.0 255.3L1611.3 285.5ZM1611.3 285.5L1594.6 255.3L1598.6 255.2L1632.0 255.2L1615.3 285.4ZM1615.3 285.4L1598.6 255.2L1602.6 255.1L1636.0 255.1L1619.3 285.3ZM1619.3 285.3L1602.6 255.1L1606.6 255.0L1640.0 255.0L1623.3 285.2ZM1623.3 285.2L1606.6 255.0L1610.6 254.9L1644.0 254.9L1627.3 285.1ZM1627.3 285.1L1610.6 254.9L1614.6 254.7L1648.0 254.7L1631.3 284.9ZM1631.3 284.9L1614.6 254.7L1618.6 254.6L1652.0 254.6L1635.3 284.8ZM1635.3 284.8L1618.6 254.6L1622.6 254.5L1656.0 254.5L1639.3 284.7ZM1639.3 284.7L1622.6 254.5L1626.6 254.4L1660.0 254.4L1643.3 284.6ZM1643.3 284.6L1626.6 254.4L1630.6 254.3L1664.0 254.3L1647.3 284.5ZM1647.3 284.5L1630.6 254.3L1634.6 254.2L1668.0 254.2L1651.3 284.4ZM1651.3 284.4L1634.6 254.2L1638.6 254.1L1672.0 254.1L1655.3 284.3ZM1655.3 284.3L1638.6 254.1L1642.6 254.0L1676.0 254.0L1659.3 284.2ZM1659.3 284.2L1642.6 254.0L1646.6 253.9L1680.0 253.9L1663.3 284.1ZM1663.3 284.1L1646.6 253.9L1650.7 253.8L1684.1 253.8L1667.4 284.0ZM1667.4 284.0L1650.7 253.8L1654.7 253.7L1688.1 253.7L1671.4 283.9ZM1671.4 283.9L1654.7 253.7L1658.7 253.5L1692.1 253.5L1675.4 283.7ZM1675.4 283.7L1658.7 253.5L1662.7 253.4L1696.1 253.4L1679.4 283.6ZM1679.4 283.6L1662.7 253.4L1666.7 253.3L1700.1 253.3L1683.4 283.5ZM1683.4 283.5L1666.7 253.3L1670.7 253.2L1704.1 253.2L1687.4 283.4ZM1687.4 283.4L1670.7 253.2L1674.7 253.1L1708.1 253.1L1691.4 283.3ZM1691.4 283.3L1674.7 253.1L1678.7 253.0L1712.1 253.0L1695.4 283.2ZM1695.4 283.2L1678.7 253.0L1682.7 252.9L1716.1 252.9L1699.4 283.1ZM1699.4 283.1L1682.7 252.9L1686.7 252.9L1720.1 252.9L1703.4 283.1ZM1703.4 283.1L1686.7 252.9L1690.7 252.8L1724.1 252.8L1707.4 283.0ZM1707.4 283.0L1690.7 252.8L1694.7 252.7L1728.1 252.7L1711.4 282.9ZM1711.4 282.9L1694.7 252.7L1698.7 252.6L1732.1 252.6L1715.4 282.8ZM1715.4 282.8L1698.7 252.6L1702.7 252.5L1736.1 252.5L1719.4 282.7ZM1719.4 282.7L1702.7 252.5L1706.7 252.4L1740.1 252.4L1723.4 282.6ZM1723.4 282.6L1706.7 252.4L1710.7 252.3L1744.1 252.3L1727.4 282.5ZM1727.4 282.5L1710.7 252.3L1714.8 252.2L1748.2 252.2L1731.5 282.4ZM1731.5 282.4L1714.8 252.2L1718.8 252.1L1752.2 252.1L1735.5 282.3ZM1735.5 282.3L1718.8 252.1L1722.8 252.0L1756.2 252.0L1739.5 282.2ZM1739.5 282.2L1722.8 252.0L1726.8 251.9L1760.2 251.9L1743.5 282.1ZM1743.5 282.1L1726.8 251.9L1730.8 251.9L1764.2 251.9L1747.5 282.1ZM1747.5 282.1L1730.8 251.9L1734.8 251.8L1768.2 251.8L1751.5 282.0ZM1751.5 282.0L1734.8 251.8L1738.8 251.7L1772.2 251.7L1755.5 281.9ZM1755.5 281.9L1738.8 251.7L1742.8 251.6L1776.2 251.6L1759.5 281.8Z"/>
<path fill="#00ffff" d="M425.7 147.7L409.1 166.0L392.5 147.7L391.7 143.7L408.3 125.4L424.9 143.7ZM392.5 147.7L409.1 129.4L425.7 147.7L427.3 151.3L410.7 169.6L394.1 151.3ZM394.1 151.3L410.7 133.0L413.5 135.9L430.1 154.2L413.5 172.5L410.7 169.6ZM396.9 154.2L413.5 135.9L416.2 138.9L432.8 157.2L416.2 175.5L413.5 172.5ZM399.6 157.2L416.2 138.9L419.0 141.9L435.6 160.2L419.0 178.5L416.2 175.5ZM402.4 160.2L419.0 141.9L421.8 144.8L438.4 163.1L421.8 181.4L419.0 178.5ZM405.2 163.1L421.8 144.8L424.6 147.8L441.2 166.1L424.6 184.4L421.8 181.4ZM408.0 166.1L424.6 147.8L427.4 150.8L444.0 169.1L427.4 187.4L424.6 184.4ZM410.8 169.1L427.4 150.8L430.1 153.7L446.7 172.0L430.1 190.3L427.4 187.4ZM413.5 172.0L430.1 153.7L432.9 156.7L449.5 175.0L432.9 193.3L430.1 190.3ZM416.3 175.0L432.9 156.7L435.7 159.7L452.3 178.0L435.7 196.3L432.9 193.3ZM419.1 178.0L435.7 159.7L438.5 162.6L455.1 180.9L438.5 199.2L435.7 196.3ZM421.9 180.9L438.5 162.6L441.3 165.6L457.9 183.9L441.3 202.2L438.5 199.2ZM424.7 183.9L441.3 165.6L444.0 168.6L460.6 186.9L444.0 205.2L441.3 202.2ZM427.4 186.9L444.0 168.6L446.8 171.5L463.4 189.8L446.8 208.1L444.0 205.2ZM430.2 189.8L446.8 171.5L449.6 174.5L466.2 192.8L449.6 211.1L446.8 208.1ZM453.6 174.2L470.2 192.5L453.6 210.8L449.6 211.1L433.0 192.8L449.6 174.5ZM457.6 173.9L474.2 192.2L457.6 210.5L453.6 210.8L437.0 192.5L453.6 174.2ZM461.6 173.6L478.2 191.9L461.6 210.2L457.6 210.5L441.0 192.2L457.6 173.9ZM465.6 173.3L482.2 191.6L465.6 209.9L461.6 210.2L445.0 191.9L461.6 173.6ZM469.6 173.0L486.2 191.3L469.6 209.6L465.6 209.9L449.0 191.6L465.6 173.3ZM473.6 172.7L490.2 191.0L473.6 209.3L469.6 209.6L453.0 191.3L469.6 173.0ZM477.6 172.4L494.2 190.7L477.6 209.0L473.6 209.3L457.0 191.0L473.6 172.7ZM481.6 172.1L498.2 190.4L481.6 208.7L477.6 209.0L461.0 190.7L477.6 172.4ZM485.6 171.8L502.2 190.1L485.6 208.4L481.6 208.7L465.0 190.4L481.6 172.1ZM489.6 171.5L506.2 189.8L489.6 208.1L485.6 208.4L469.0 190.1L485.6 171.8ZM493.6 171.3L510.2 189.6L493.6 207.9L489.6 208.1L473.0 189.8L489.6 171.5ZM497.6 171.0L514.2 189.3L497.6 207.6L493.6 207.9L477.0 189.6L493.6 171.3ZM501.6 170.7L518.2 189.0L501.6 207.3L497.6 207.6L481.0 189.3L497.6 171.0ZM505.6 170.4L522.2 188.7L505.6 207.0L501.6 207.3L485.0 189.0L501.6 170.7ZM509.6 170.1L526.2 188.4L509.6 206.7L505.6 207.0L489.0 188.7L505.6 170.4ZM513.6 169.9L530.2 188.2L513.6 206.5L509.6 206.7L493.0 188.4L509.6 170.1ZM517.6 169.6L534.2 187.9L517.6 206.2L513.6 206.5L497.0 188.2L513.6 169.9ZM521.6 169.3L538.2 187.6L521.6 205.9L517.6 206.2L501.0 187.9L517.6 169.6ZM525.6 169.1L542.2 187.4L525.6 205.7L521.6 205.9L505.0 187.6L521.6 169.3ZM529.6 168.8L546.2 187.1L529.6 205.4L525.6 205.7L509.0 187.4L525.6 169.1ZM533.6 168.6L550.2 186.9L533.6 205.2L529.6 205.4L513.0 187.1L529.6 168.8ZM537.6 168.3L554.2 186.6L537.6 204.9L533.6 205.2L517.0 186.9L533.6 168.6ZM541.6 168.0L558.2 186.3L541.6 204.6L537.6 204.9L521.0 186.6L537.6 168.3ZM545.6 167.8L562.2 186.1L545.6 204.4L541.6 204.6L525.0 186.3L541.6 168.0ZM549.6 167.5L566.2 185.8L549.6 204.1L545.6 204.4L529.0 186.1L545.6 167.8ZM553.6 167.3L570.2 185.6L553.6 203.9L549.6 204.1L533.0 185.8L549.6 167.5ZM557.6 167.0L574.2 185.3L557.6 203.6L553.6 203.9L537.0 185.6L553.6 167.3ZM561.6 166.8L578.2 185.1L561.6 203.4L557.6 203.6L541.0 185.3L557.6 167.0ZM565.6 166.6L582.2 184.9L565.6 203.2L561.6 203.4L545.0 185.1L561.6 166.8ZM569.6 166.3L586.2 184.6L569.6 202.9L565.6 203.2L549.0 184.9L565.6 166.6ZM573.6 166.1L590.2 184.4L573.6 202.7L569.6 202.9L553.0 184.6L569.6 166.3ZM577.6 165.8L594.2 184.1L577.6 202.4L573.6 202.7L557.0 184.4L573.6 166.1ZM581.6 165.6L598.2 183.9L581.6 202.2L577.6 202.4L561.0 184.1L577.6 165.8ZM585.6 165.4L602.2 183.7L585.6 202.0L581.6 202.2L565.0 183.9L581.6 165.6ZM589.6 165.1L606.2 183.4L589.6 201.7L585.6 202.0L569.0 183.7L585.6 165.4ZM593.6 164.9L610.2 183.2L593.6 201.5L589.6 201.7L573.0 183.4L589.6 165.1ZM597.6 164.7L614.2 183.0L597.6 201.3L593.6 201.5L577.0 183.2L593.6 164.9ZM601.6 164.5L618.2 182.8L601.6 201.1L597.6 201.3L581.0 183.0L597.6 164.7ZM605.6 164.3L622.2 182.6L605.6 200.9L601.6 201.1L585.0 182.8L601.6 164.5ZM609.6 164.0L626.2 182.3L609.6 200.6L605.6 200.9L589.0 182.6L605.6 164.3ZM613.6 163.8L630.2 182.1L613.6 200.4L609.6 200.6L593.0 182.3L609.6 164.0ZM617.6 163.6L634.2 181.9L617.6 200.2L613.6 200.4L597.0 182.1L613.6 163.8ZM621.6 163.4L638.2 181.7L621.6 200.0L617.6 200.2L601.0 181.9L617.6 163.6ZM625.6 163.2L642.2 181.5L625.6 199.8L621.6 200.0L605.0 181.7L621.6 163.4ZM629.6 163.0L646.2 181.3L629.6 199.6L625.6 199.8L609.0 181.5L625.6 163.2ZM633.6 162.8L650.2 181.1L633.6 199.4L629.6 199.6L613.0 181.3L629.6 163.0ZM637.6 162.6L654.2 180.9L637.6 199.2L633.6 199.4L617.0 181.1L633.6 162.8ZM641.7 162.4L658.3 180.7L641.7 199.0L637.6 199.2L621.0 180.9L637.6 162.6ZM645.7 162.2L662.3 180.5L645.7 198.8L641.7 199.0L625.1 180.7L641.7 162.4ZM649.7 162.0L666.3 180.3L649.7 198.6L645.7 198.8L629.1 180.5L645.7 162.2ZM653.7 161.8L670.3 180.1L653.7 198.4L649.7 198.6L633.1 180.3L649.7 162.0ZM657.7 161.6L674.3 179.9L657.7 198.2L653.7 198.4L637.1 180.1L653.7 161.8ZM661.7 161.4L678.3 179.7L661.7 198.0L657.7 198.2L641.1 179.9L657.7 161.6ZM665.7 161.2L682.3 179.5L665.7 197.8L661.7 198.0L645.1 179.7L661.7 161.4ZM669.7 161.0L686.3 179.3L669.7 197.6L665.7 197.8L649.1 179.5L665.7 161.2ZM673.7 160.8L690.3 179.1L673.7 197.4L669.7 197.6L653.1 179.3L669.7 161.0ZM677.7 160.6L694.3 178.9L677.7 197.2L673.7 197.4L657.1 179.1L673.7 160.8ZM681.7 160.4L698.3 178.7L681.7 197.0L677.7 197.2L661.1 178.9L677.7 160.6ZM685.7 160.3L702.3 178.6L685.7 196.9L681.7 197.0L665.1 178.7L681.7 160.4ZM689.7 160.1L706.3 178.4L689.7 196.7L685.7 196.9L669.1 178.6L685.7 160.3ZM693.7 159.9L710.3 178.2L693.7 196.5L689.7 196.7L673.1 178.4L689.7 160.1ZM697.7 159.7L714.3 178.0L697.7 196.3L693.7 196.5L677.1 178.2L693.7 159.9ZM701.7 159.6L718.3 177.9L701.7 196.2L697.7 196.3L681.1 178.0L697.7 159.7ZM705.7 159.4L722.3 177.7L705.7 196.0L701.7 196.2L685.1 177.9L701.7 159.6ZM709.7 159.2L726.3 177.5L709.7 195.8L705.7 196.0L689.1 177.7L705.7 159.4ZM713.7 159.1L730.3 177.4L713.7 195.7L709.7 195.8L693.1 177.5L709.7 159.2ZM717.7 158.9L734.3 177.2L717.7 195.5L713.7 195.7L697.1 177.4L713.7 159.1ZM721.8 158.7L738.4 177.0L721.8 195.3L717.7 195.5L701.1 177.2L717.7 158.9ZM725.8 158.6L742.4 176.9L725.8 195.2L721.8 195.3L705.2 177.0L721.8 158.7ZM729.8 158.4L746.4 176.7L729.8 195.0L725.8 195.2L709.2 176.9L725.8 158.6ZM733.8 158.2L750.4 176.5L733.8 194.8L729.8 195.0L713.2 176.7L729.8 158.4ZM737.8 158.1L754.4 176.4L737.8 194.7L733.8 194.8L717.2 176.5L733.8 158.2ZM741.8 157.9L758.4 176.2L741.8 194.5L737.8 194.7L721.2 176.4L737.8 158.1ZM745.8 157.8L762.4 176.1L745.8 194.4L741.8 194.5L725.2 176.2L741.8 157.9ZM749.8 157.6L766.4 175.9L749.8 194.2L745.8 194.4L729.2 176.1L745.8 157.8ZM753.8 157.5L770.4 175.8L753.8 194.1L749.8 194.2L733.2 175.9L749.8 157.6ZM757.8 157.3L774.4 175.6L757.8 193.9L753.8 194.1L737.2 175.8L753.8 157.5ZM761.8 157.2L778.4 175.5L761.8 193.8L757.8 193.9L741.2 175.6L757.8 157.3ZM765.8 157.0L782.4 175.3L765.8 193.6L761.8 193.8L745.2 175.5L761.8 157.2ZM769.8 156.9L786.4 175.2L769.8 193.5L765.8 193.6L749.2 175.3L765.8 157.0ZM773.8 156.7L790.4 175.0L773.8 193.3L769.8 193.5L753.2 175.2L769.8 156.9ZM777.8 156.6L794.4 174.9L777.8 193.2L773.8 193.3L757.2 175.0L773.8 156.7ZM781.9 156.5L798.5 174.8L781.9 193.1L777.8 193.2L761.2 174.9L777.8 156.6ZM785.9 156.3L802.5 174.6L785.9 192.9L781.9 193.1L765.3 174.8L781.9 156.5ZM789.9 156.2L806.5 174.5L789.9 192.8L785.9 192.9L769.3 174.6L785.9 156.3ZM793.9 156.1L810.5 174.4L793.9 192.7L789.9 192.8L773.3 174.5L789.9 156.2ZM797.9 155.9L814.5 174.2L797.9 192.5L793.9 192.7L777.3 174.4L793.9 156.1ZM801.9 155.8L818.5 174.1L801.9 192.4L797.9 192.5L781.3 174.2L797.9 155.9ZM805.9 155.7L822.5 174.0L805.9 192.3L801.9 192.4L785.3 174.1L801.9 155.8ZM809.9 155.5L826.5 173.8L809.9 192.1L805.9 192.3L789.3 174.0L805.9 155.7ZM813.9 155.4L830.5 173.7L813.9 192.0L809.9 192.1L793.3 173.8L809.9 155.5ZM817.9 155.3L834.5 173.6L817.9 191.9L813.9 192.0L797.3 173.7L813.9 155.4ZM821.9 155.2L838.5 173.5L821.9 191.8L817.9 191.9L801.3 173.6L817.9 155.3ZM825.9 155.0L842.5 173.3L825.9 191.6L821.9 191.8L805.3 173.5L821.9 155.2ZM829.9 154.9L846.5 173.2L829.9 191.5L825.9 191.6L809.3 173.3L825.9 155.0ZM833.9 154.8L850.5 173.1L833.9 191.4L829.9 191.5L813.3 173.2L829.9 154.9ZM838.0 154.7L854.6 173.0L838.0 191.3L833.9 191.4L817.3 173.1L833.9 154.8ZM842.0 154.6L858.6 172.9L842.0 191.2L838.0 191.3L821.4 173.0L838.0 154.7ZM846.0 154.4L862.6 172.7L846.0 191.0L842.0 191.2L825.4 172.9L842.0 154.6ZM850.0 154.3L866.6 172.6L850.0 190.9L846.0 191.0L829.4 172.7L846.0 154.4ZM854.0 154.2L870.6 172.5L854.0 190.8L850.0 190.9L833.4 172.6L850.0 154.3ZM858.0 154.1L874.6 172.4L858.0 190.7L854.0 190.8L837.4 172.5L854.0 154.2ZM862.0 154.0L878.6 172.3L862.0 190.6L858.0 190.7L841.4 172.4L858.0 154.1ZM866.0 153.9L882.6 172.2L866.0 190.5L862.0 190.6L845.4 172.3L862.0 154.0ZM870.0 153.8L886.6 172.1L870.0 190.4L866.0 190.5L849.4 172.2L866.0 153.9ZM874.0 153.7L890.6 172.0L874.0 190.3L870.0 190.4L853.4 172.1L870.0 153.8ZM878.0 153.6L894.6 171.9L878.0 190.2L874.0 190.3L857.4 172.0L874.0 153.7ZM882.0 153.5L898.6 171.8L882.0 190.1L878.0 190.2L861.4 171.9L878.0 153.6ZM886.0 153.4L902.6 171.7L886.0 190.0L882.0 190.1L865.4 171.8L882.0 153.5ZM890.1 153.3L906.7 171.6L890.1 189.9L886.0 190.0L869.4 171.7L886.0 153.4ZM894.1 153.2L910.7 171.5L894.1 189.8L890.1 189.9L873.5 171.6L890.1 153.3ZM898.1 153.1L914.7 171.4L898.1 189.7L894.1 189.8L877.5 171.5L894.1 153.2ZM902.1 153.0L918.7 171.3L902.1 189.6L898.1 189.7L881.5 171.4L898.1 153.1ZM906.1 152.9L922.7 171.2L906.1 189.5L902.1 189.6L885.5 171.3L902.1 153.0ZM910.1 152.8L926.7 171.1L910.1 189.4L906.1 189.5L889.5 171.2L906.1 152.9ZM914.1 152.7L930.7 171.0L914.1 189.3L910.1 189.4L893.5 171.1L910.1 152.8ZM918.1 152.6L934.7 170.9L918.1 189.2L914.1 189.3L897.5 171.0L914.1 152.7ZM922.1 152.5L938.7 170.8L922.1 189.1L918.1 189.2L901.5 170.9L918.1 152.6ZM926.1 152.4L942.7 170.7L926.1 189.0L922.1 189.1L905.5 170.8L922.1 152.5ZM930.1 152.4L946.7 170.7L930.1 189.0L926.1 189.0L909.5 170.7L926.1 152.4ZM934.1 152.3L950.7 170.6L934.1 188.9L930.1 189.0L913.5 170.7L930.1 152.4ZM938.2 152.2L954.8 170.5L938.2 188.8L934.1 188.9L917.5 170.6L934.1 152.3ZM942.2 152.1L958.8 170.4L942.2 188.7L938.2 188.8L921.6 170.5L938.2 152.2ZM946.2 152.0L962.8 170.3L946.2 188.6L942.2 188.7L925.6 170.4L942.2 152.1ZM950.2 151.9L966.8 170.2L950.2 188.5L946.2 188.6L929.6 170.3L946.2 152.0ZM954.2 151.9L970.8 170.2L954.2 188.5L950.2 188.5L933.6 170.2L950.2 151.9ZM958.2 151.8L974.8 170.1L958.2 188.4L954.2 188.5L937.6 170.2L954.2 151.9ZM962.2 151.7L978.8 170.0L962.2 188.3L958.2 188.4L941.6 170.1L958.2 151.8ZM966.2 151.6L982.8 169.9L966.2 188.2L962.2 188.3L945.6 170.0L962.2 151.7ZM970.2 151.6L986.8 169.9L970.2 188.2L966.2 188.2L949.6 169.9L966.2 151.6ZM974.2 151.5L990.8 169.8L974.2 188.1L970.2 188.2L953.6 169.9L970.2 151.6ZM978.2 151.4L994.8 169.7L978.2 188.0L974.2 188.1L957.6 169.8L974.2 151.5ZM982.2 151.3L998.8 169.6L982.2 187.9L978.2 188.0L961.6 169.7L978.2 151.4ZM986.3 151.3L1002.9 169.6L986.3 187.9L982.2 187.9L965.6 169.6L982.2 151.3ZM990.3 151.2L1006.9 169.5L990.3 187.8L986.3 187.9L969.7 169.6L986.3 151.3ZM994.3 151.1L1010.9 169.4L994.3 187.7L990.3 187.8L973.7 169.5L990.3 151.2ZM998.3 151.1L1014.9 169.4L998.3 187.7L994.3 187.7L977.7 169.4L994.3 151.1ZM1002.3 151.0L1018.9 169.3L1002.3 187.6L998.3 187.7L981.7 169.4L998.3 151.1ZM1006.3 150.9L1022.9 169.2L1006.3 187.5L1002.3 187.6L985.7 169.3L1002.3 151.0ZM1010.3 150.9L1026.9 169.2L1010.3 187.5L1006.3 187.5L989.7 169.2L1006.3 150.9ZM1014.3 150.8L1030.9 169.1L1014.3 187.4L1010.3 187.5L993.7 169.2L1010.3 150.9ZM1018.3 150.7L1034.9 169.0L1018.3 187.3L1014.3 187.4L997.7 169.1L1014.3 150.8ZM1022.3 150.7L1038.9 169.0L1022.3 187.3L1018.3 187.3L1001.7 169.0L1018.3 150.7ZM1026.3 150.6L1042.9 168.9L1026.3 187.2L1022.3 187.3L1005.7 169.0L1022.3 150.7ZM1030.3 150.6L1046.9 168.9L1030.3 187.2L1026.3 187.2L1009.7 168.9L1026.3 150.6ZM1034.4 150.5L1051.0 168.8L1034.4 187.1L1030.3 187.2L1013.7 168.9L1030.3 150.6ZM1038.4 150.4L1055.0 168.7L1038.4 187.0L1034.4 187.1L1017.8 168.8L1034.4 150.5ZM1042.4 150.4L1059.0 168.7L1042.4 187.0L1038.4 187.0L1021.8 168.7L1038.4 150.4ZM1046.4 150.3L1063.0 168.6L1046.4 186.9L1042.4 187.0L1025.8 168.7L1042.4 150.4ZM1050.4 150.3L1067.0 168.6L1050.4 186.9L1046.4 186.9L1029.8 168.6L1046.4 150.3ZM1054.4 150.2L1071.0 168.5L1054.4 186.8L1050.4 186.9L1033.8 168.6L1050.4 150.3ZM1058.4 150.2L1075.0 168.5L1058.4 186.8L1054.4 186.8L1037.8 168.5L1054.4 150.2ZM1062.4 150.1L1079.0 168.4L1062.4 186.7L1058.4 186.8L1041.8 168.5L1058.4 150.2ZM1066.4 150.1L1083.0 168.4L1066.4 186.7L1062.4 186.7L1045.8 168.4L1062.4 150.1ZM1070.4 150.0L1087.0 168.3L1070.4 186.6L1066.4 186.7L1049.8 168.4L1066.4 150.1ZM1074.4 150.0L1091.0 168.3L1074.4 186.6L1070.4 186.6L1053.8 168.3L1070.4 150.0ZM1078.5 149.9L1095.1 168.2L1078.5 186.5L1074.4 186.6L1057.8 168.3L1074.4 150.0ZM1082.5 149.9L1099.1 168.2L1082.5 186.5L1078.5 186.5L1061.9 168.2L1078.5 149.9ZM1086.5 149.8L1103.1 168.1L1086.5 186.4L1082.5 186.5L1065.9 168.2L1082.5 149.9ZM1090.5 149.8L1107.1 168.1L1090.5 186.4L1086.5 186.4L1069.9 168.1L1086.5 149.8ZM1094.5 149.7L1111.1 168.0L1094.5 186.3L1090.5 186.4L1073.9 168.1L1090.5 149.8ZM1098.5 149.7L1115.1 168.0L1098.5 186.3L1094.5 186.3L1077.9 168.0L1094.5 149.7ZM1102.5 149.6L1119.1 167.9L1102.5 186.2L1098.5 186.3L1081.9 168.0L1098.5 149.7ZM1106.5 149.6L1123.1 167.9L1106.5 186.2L1102.5 186.2L1085.9 167.9L1102.5 149.6ZM1110.5 149.6L1127.1 167.9L1110.5 186.2L1106.5 186.2L1089.9 167.9L1106.5 149.6ZM1114.5 149.5L1131.1 167.8L1114.5 186.1L1110.5 186.2L1093.9 167.9L1110.5 149.6ZM1118.5 149.5L1135.1 167.8L1118.5 186.1L1114.5 186.1L1097.9 167.8L1114.5 149.5ZM1122.6 149.4L1139.2 167.7L1122.6 186.0L1118.5 186.1L1101.9 167.8L1118.5 149.5ZM1126.6 149.4L1143.2 167.7L1126.6 186.0L1122.6 186.0L1106.0 167.7L1122.6 149.4ZM1130.6 149.4L1147.2 167.7L1130.6 186.0L1126.6 186.0L1110.0 167.7L1126.6 149.4ZM1134.6 149.3L1151.2 167.6L1134.6 185.9L1130.6 186.0L1114.0 167.7L1130.6 149.4ZM1138.6 149.3L1155.2 167.6L1138.6 185.9L1134.6 185.9L1118.0 167.6L1134.6 149.3ZM1142.6 149.2L1159.2 167.5L1142.6 185.8L1138.6 185.9L1122.0 167.6L1138.6 149.3ZM1146.6 149.2L1163.2 167.5L1146.6 185.8L1142.6 185.8L1126.0 167.5L1142.6 149.2ZM1150.6 149.2L1167.2 167.5L1150.6 185.8L1146.6 185.8L1130.0 167.5L1146.6 149.2ZM1154.6 149.1L1171.2 167.4L1154.6 185.7L1150.6 185.8L1134.0 167.5L1150.6 149.2ZM1158.6 149.1L1175.2 167.4L1158.6 185.7L1154.6 185.7L1138.0 167.4L1154.6 149.1ZM1162.6 149.1L1179.2 167.4L1162.6 185.7L1158.6 185.7L1142.0 167.4L1158.6 149.1ZM1166.7 149.0L1183.3 167.3L1166.7 185.6L1162.6 185.7L1146.0 167.4L1162.6 149.1ZM1170.7 149.0L1187.3 167.3L1170.7 185.6L1166.7 185.6L1150.1 167.3L1166.7 149.0ZM1174.7 149.0L1191.3 167.3L1174.7 185.6L1170.7 185.6L1154.1 167.3L1170.7 149.0ZM1178.7 148.9L1195.3 167.2L1178.7 185.5L1174.7 185.6L1158.1 167.3L1174.7 149.0ZM1182.7 148.9L1199.3 167.2L1182.7 185.5L1178.7 185.5L1162.1 167.2L1178.7 148.9ZM1186.7 148.9L1203.3 167.2L1186.7 185.5L1182.7 185.5L1166.1 167.2L1182.7 148.9ZM1190.7 148.8L1207.3 167.1L1190.7 185.4L1186.7 185.5L1170.1 167.2L1186.7 148.9ZM1194.7 148.8L1211.3 167.1L1194.7 185.4L1190.7 185.4L1174.1 167.1L1190.7 148.8ZM1198.7 148.8L1215.3 167.1L1198.7 185.4L1194.7 185.4L1178.1 167.1L1194.7 148.8ZM1202.7 148.8L1219.3 167.1L1202.7 185.4L1198.7 185.4L1182.1 167.1L1198.7 148.8ZM1206.7 148.7L1223.3 167.0L1206.7 185.3L1202.7 185.4L1186.1 167.1L1202.7 148.8ZM1210.8 148.7L1227.4 167.0L1210.8 185.3L1206.7 185.3L1190.1 167.0L1206.7 148.7ZM1214.8 148.7L1231.4 167.0L1214.8 185.3L1210.8 185.3L1194.2 167.0L1210.8 148.7ZM1218.8 148.6L1235.4 166.9L1218.8 185.2L1214.8 185.3L1198.2 167.0L1214.8 148.7ZM1222.8 148.6L1239.4 166.9L1222.8 185.2L1218.8 185.2L1202.2 166.9L1218.8 148.6ZM1226.8 148.6L1243.4 166.9L1226.8 185.2L1222.8 185.2L1206.2 166.9L1222.8 148.6ZM1230.8 148.6L1247.4 166.9L1230.8 185.2L1226.8 185.2L1210.2 166.9L1226.8 148.6ZM1234.8 148.5L1251.4 166.8L1234.8 185.1L1230.8 185.2L1214.2 166.9L1230.8 148.6ZM1238.8 148.5L1255.4 166.8L1238.8 185.1L1234.8 185.1L1218.2 166.8L1234.8 148.5ZM1242.8 148.5L1259.4 166.8L1242.8 185.1L1238.8 185.1L1222.2 166.8L1238.8 148.5ZM1246.8 148.5L1263.4 166.8L1246.8 185.1L1242.8 185.1L1226.2 166.8L1242.8 148.5ZM1250.8 148.4L1267.4 166.7L1250.8 185.0L1246.8 185.1L1230.2 166.8L1246.8 148.5ZM1254.9 148.4L1271.5 166.7L1254.9 185.0L1250.8 185.0L1234.2 166.7L1250.8 148.4ZM1258.9 148.4L1275.5 166.7L1258.9 185.0L1254.9 185.0L1238.3 166.7L1254.9 148.4ZM1262.9 148.4L1279.5 166.7L1262.9 185.0L1258.9 185.0L1242.3 166.7L1258.9 148.4ZM1266.9 148.4L1283.5 166.7L1266.9 185.0L1262.9 185.0L1246.3 166.7L1262.9 148.4ZM1270.9 148.3L1287.5 166.6L1270.9 184.9L1266.9 185.0L1250.3 166.7L1266.9 148.4ZM1274.9 148.3L1291.5 166.6L1274.9 184.9L1270.9 184.9L1254.3 166.6L1270.9 148.3ZM1278.9 148.3L1295.5 166.6L1278.9 184.9L1274.9 184.9L1258.3 166.6L1274.9 148.3ZM1282.9 148.3L1299.5 166.6L1282.9 184.9L1278.9 184.9L1262.3 166.6L1278.9 148.3ZM1286.9 148.2L1303.5 166.5L1286.9 184.8L1282.9 184.9L1266.3 166.6L1282.9 148.3ZM1290.9 148.2L1307.5 166.5L1290.9 184.8L1286.9 184.8L1270.3 166.5L1286.9 148.2ZM1294.9 148.2L1311.5 166.5L1294.9 184.8L1290.9 184.8L1274.3 166.5L1290.9 148.2ZM1299.0 148.2L1315.6 166.5L1299.0 184.8L1294.9 184.8L1278.3 166.5L1294.9 148.2ZM1303.0 148.2L1319.6 166.5L1303.0 184.8L1299.0 184.8L1282.4 166.5L1299.0 148.2ZM1307.0 148.1L1323.6 166.4L1307.0 184.7L1303.0 184.8L1286.4 166.5L1303.0 148.2ZM1311.0 148.1L1327.6 166.4L1311.0 184.7L1307.0 184.7L1290.4 166.4L1307.0 148.1ZM1315.0 148.1L1331.6 166.4L1315.0 184.7L1311.0 184.7L1294.4 166.4L1311.0 148.1ZM1319.0 148.1L1335.6 166.4L1319.0 184.7L1315.0 184.7L1298.4 166.4L1315.0 148.1ZM1323.0 148.1L1339.6 166.4L1323.0 184.7L1319.0 184.7L1302.4 166.4L1319.0 148.1ZM1327.0 148.1L1343.6 166.4L1327.0 184.7L1323.0 184.7L1306.4 166.4L1323.0 148.1ZM1331.0 148.0L1347.6 166.3L1331.0 184.6L1327.0 184.7L1310.4 166.4L1327.0 148.1ZM1335.0 148.0L1351.6 166.3L1335.0 184.6L1331.0 184.6L1314.4 166.3L1331.0 148.0ZM1339.0 148.0L1355.6 166.3L1339.0 184.6L1335.0 184.6L1318.4 166.3L1335.0 148.0ZM1343.1 148.0L1359.7 166.3L1343.1 184.6L1339.0 184.6L1322.4 166.3L1339.0 148.0ZM1347.1 148.0L1363.7 166.3L1347.1 184.6L1343.1 184.6L1326.5 166.3L1343.1 148.0ZM1351.1 147.9L1367.7 166.2L1351.1 184.5L1347.1 184.6L1330.5 166.3L1347.1 148.0ZM1355.1 147.9L1371.7 166.2L1355.1 184.5L1351.1 184.5L1334.5 166.2L1351.1 147.9ZM1359.1 147.9L1375.7 166.2L1359.1 184.5L1355.1 184.5L1338.5 166.2L1355.1 147.9ZM1363.1 147.9L1379.7 166.2L1363.1 184.5L1359.1 184.5L1342.5 166.2L1359.1 147.9ZM1367.1 147.9L1383.7 166.2L1367.1 184.5L1363.1 184.5L1346.5 166.2L1363.1 147.9ZM1371.1 147.9L1387.7 166.2L1371.1 184.5L1367.1 184.5L1350.5 166.2L1367.1 147.9ZM1375.1 147.8L1391.7 166.1L1375.1 184.4L1371.1 184.5L1354.5 166.2L1371.1 147.9ZM1379.1 147.8L1395.7 166.1L1379.1 184.4L1375.1 184.4L1358.5 166.1L1375.1 147.8ZM1383.1 147.8L1399.7 166.1L1383.1 184.4L1379.1 184.4L1362.5 166.1L1379.1 147.8ZM1387.2 147.8L1403.8 166.1L1387.2 184.4L1383.1 184.4L1366.5 166.1L1383.1 147.8ZM1391.2 147.8L1407.8 166.1L1391.2 184.4L1387.2 184.4L1370.6 166.1L1387.2 147.8ZM1395.2 147.8L1411.8 166.1L1395.2 184.4L1391.2 184.4L1374.6 166.1L1391.2 147.8ZM1399.2 147.7L1415.8 166.0L1399.2 184.3L1395.2 184.4L1378.6 166.1L1395.2 147.8ZM1403.2 147.7L1419.8 166.0L1403.2 184.3L1399.2 184.3L1382.6 166.0L1399.2 147.7ZM1407.2 147.7L1423.8 166.0L1407.2 184.3L1403.2 184.3L1386.6 166.0L1403.2 147.7ZM1411.2 147.7L1427.8 166.0L1411.2 184.3L1407.2 184.3L1390.6 166.0L1407.2 147.7ZM1415.2 147.7L1431.8 166.0L1415.2 184.3L1411.2 184.3L1394.6 166.0L1411.2 147.7ZM1419.2 147.6L1435.8 165.9L1419.2 184.2L1415.2 184.3L1398.6 166.0L1415.2 147.7ZM1423.2 147.6L1439.8 165.9L1423.2 184.2L1419.2 184.2L1402.6 165.9L1419.2 147.6ZM1427.2 147.6L1443.8 165.9L1427.2 184.2L1423.2 184.2L1406.6 165.9L1423.2 147.6ZM1431.3 147.6L1447.9 165.9L1431.3 184.2L1427.2 184.2L1410.6 165.9L1427.2 147.6ZM1435.3 147.6L1451.9 165.9L1435.3 184.2L1431.3 184.2L1414.7 165.9L1431.3 147.6ZM1439.3 147.6L1455.9 165.9L1439.3 184.2L1435.3 184.2L1418.7 165.9L1435.3 147.6ZM1443.3 147.5L1459.9 165.8L1443.3 184.1L1439.3 184.2L1422.7 165.9L1439.3 147.6ZM1447.3 147.5L1463.9 165.8L1447.3 184.1L1443.3 184.1L1426.7 165.8L1443.3 147.5ZM1451.3 147.5L1467.9 165.8L1451.3 184.1L1447.3 184.1L1430.7 165.8L1447.3 147.5ZM1455.3 147.5L1471.9 165.8L1455.3 184.1L1451.3 184.1L1434.7 165.8L1451.3 147.5ZM1459.3 147.5L1475.9 165.8L1459.3 184.1L1455.3 184.1L1438.7 165.8L1455.3 147.5ZM1463.3 147.4L1479.9 165.7L1463.3 184.0L1459.3 184.1L1442.7 165.8L1459.3 147.5ZM1467.3 147.4L1483.9 165.7L1467.3 184.0L1463.3 184.0L1446.7 165.7L1463.3 147.4ZM1471.3 147.4L1487.9 165.7L1471.3 184.0L1467.3 184.0L1450.7 165.7L1467.3 147.4ZM1475.4 147.4L1492.0 165.7L1475.4 184.0L1471.3 184.0L1454.7 165.7L1471.3 147.4ZM1479.4 147.4L1496.0 165.7L1479.4 184.0L1475.4 184.0L1458.8 165.7L1475.4 147.4ZM1483.4 147.3L1500.0 165.6L1483.4 183.9L1479.4 184.0L1462.8 165.7L1479.4 147.4ZM1487.4 147.3L1504.0 165.6L1487.4 183.9L1483.4 183.9L1466.8 165.6L1483.4 147.3ZM1491.4 147.3L1508.0 165.6L1491.4 183.9L1487.4 183.9L1470.8 165.6L1487.4 147.3ZM1495.4 147.3L1512.0 165.6L1495.4 183.9L1491.4 183.9L1474.8 165.6L1491.4 147.3ZM1499.4 147.3L1516.0 165.6L1499.4 183.9L1495.4 183.9L1478.8 165.6L1495.4 147.3ZM1503.4 147.2L1520.0 165.5L1503.4 183.8L1499.4 183.9L1482.8 165.6L1499.4 147.3ZM1507.4 147.2L1524.0 165.5L1507.4 183.8L1503.4 183.8L1486.8 165.5L1503.4 147.2ZM1511.4 147.2L1528.0 165.5L1511.4 183.8L1507.4 183.8L1490.8 165.5L1507.4 147.2ZM1515.5 147.2L1532.1 165.5L1515.5 183.8L1511.4 183.8L1494.8 165.5L1511.4 147.2ZM1519.5 147.1L1536.1 165.4L1519.5 183.7L1515.5 183.8L1498.9 165.5L1515.5 147.2ZM1523.5 147.1L1540.1 165.4L1523.5 183.7L1519.5 183.7L1502.9 165.4L1519.5 147.1ZM1527.5 147.1L1544.1 165.4L1527.5 183.7L1523.5 183.7L1506.9 165.4L1523.5 147.1ZM1531.5 147.1L1548.1 165.4L1531.5 183.7L1527.5 183.7L1510.9 165.4L1527.5 147.1ZM1535.5 147.0L1552.1 165.3L1535.5 183.6L1531.5 183.7L1514.9 165.4L1531.5 147.1ZM1539.5 147.0L1556.1 165.3L1539.5 183.6L1535.5 183.6L1518.9 165.3L1535.5 147.0ZM1543.5 147.0L1560.1 165.3L1543.5 183.6L1539.5 183.6L1522.9 165.3L1539.5 147.0ZM1547.5 147.0L1564.1 165.3L1547.5 183.6L1543.5 183.6L1526.9 165.3L1543.5 147.0ZM1551.5 146.9L1568.1 165.2L1551.5 183.5L1547.5 183.6L1530.9 165.3L1547.5 147.0ZM1555.5 146.9L1572.1 165.2L1555.5 183.5L1551.5 183.5L1534.9 165.2L1551.5 146.9ZM1559.6 146.9L1576.2 165.2L1559.6 183.5L1555.5 183.5L1538.9 165.2L1555.5 146.9ZM1563.6 146.9L1580.2 165.2L1563.6 183.5L1559.6 183.5L1543.0 165.2L1559.6 146.9ZM1567.6 146.8L1584.2 165.1L1567.6 183.4L1563.6 183.5L1547.0 165.2L1563.6 146.9ZM1571.6 146.8L1588.2 165.1L1571.6 183.4L1567.6 183.4L1551.0 165.1L1567.6 146.8ZM1575.6 146.8L1592.2 165.1L1575.6 183.4L1571.6 183.4L1555.0 165.1L1571.6 146.8ZM1579.6 146.7L1596.2 165.0L1579.6 183.3L1575.6 183.4L1559.0 165.1L1575.6 146.8ZM1583.6 146.7L1600.2 165.0L1583.6 183.3L1579.6 183.3L1563.0 165.0L1579.6 146.7ZM1587.6 146.7L1604.2 165.0L1587.6 183.3L1583.6 183.3L1567.0 165.0L1583.6 146.7ZM1591.6 146.7L1608.2 165.0L1591.6 183.3L1587.6 183.3L1571.0 165.0L1587.6 146.7ZM1595.6 146.6L1612.2 164.9L1595.6 183.2L1591.6 183.3L1575.0 165.0L1591.6 146.7ZM1599.6 146.6L1616.2 164.9L1599.6 183.2L1595.6 183.2L1579.0 164.9L1595.6 146.6ZM1603.7 146.6L1620.3 164.9L1603.7 183.2L1599.6 183.2L1583.0 164.9L1599.6 146.6ZM1607.7 146.5L1624.3 164.8L1607.7 183.1L1603.7 183.2L1587.1 164.9L1603.7 146.6ZM1611.7 146.5L1628.3 164.8L1611.7 183.1L1607.7 183.1L1591.1 164.8L1607.7 146.5ZM1615.7 146.5L1632.3 164.8L1615.7 183.1L1611.7 183.1L1595.1 164.8L1611.7 146.5ZM1619.7 146.4L1636.3 164.7L1619.7 183.0L1615.7 183.1L1599.1 164.8L1615.7 146.5ZM1623.7 146.4L1640.3 164.7L1623.7 183.0L1619.7 183.0L1603.1 164.7L1619.7 146.4ZM1627.7 146.3L1644.3 164.6L1627.7 182.9L1623.7 183.0L1607.1 164.7L1623.7 146.4ZM1631.7 146.3L1648.3 164.6L1631.7 182.9L1627.7 182.9L1611.1 164.6L1627.7 146.3ZM1635.7 146.3L1652.3 164.6L1635.7 182.9L1631.7 182.9L1615.1 164.6L1631.7 146.3ZM1639.7 146.2L1656.3 164.5L1639.7 182.8L1635.7 182.9L1619.1 164.6L1635.7 146.3ZM1643.7 146.2L1660.3 164.5L1643.7 182.8L1639.7 182.8L1623.1 164.5L1639.7 146.2ZM1647.8 146.1L1664.4 164.4L1647.8 182.7L1643.7 182.8L1627.1 164.5L1643.7 146.2ZM1651.8 146.1L1668.4 164.4L1651.8 182.7L1647.8 182.7L1631.2 164.4L1647.8 146.1ZM1655.8 146.1L1672.4 164.4L1655.8 182.7L1651.8 182.7L1635.2 164.4L1651.8 146.1ZM1659.8 146.0L1676.4 164.3L1659.8 182.6L1655.8 182.7L1639.2 164.4L1655.8 146.1ZM1663.8 146.0L1680.4 164.3L1663.8 182.6L1659.8 182.6L1643.2 164.3L1659.8 146.0ZM1667.8 145.9L1684.4 164.2L1667.8 182.5L1663.8 182.6L1647.2 164.3L1663.8 146.0ZM1671.8 145.9L1688.4 164.2L1671.8 182.5L1667.8 182.5L1651.2 164.2L1667.8 145.9ZM1675.8 145.8L1692.4 164.1L1675.8 182.4L1671.8 182.5L1655.2 164.2L1671.8 145.9ZM1679.8 145.8L1696.4 164.1L1679.8 182.4L1675.8 182.4L1659.2 164.1L1675.8 145.8ZM1683.8 145.8L1700.4 164.1L1683.8 182.4L1679.8 182.4L1663.2 164.1L1679.8 145.8ZM1687.8 145.7L1704.4 164.0L1687.8 182.3L1683.8 182.4L1667.2 164.1L1683.8 145.8ZM1691.8 145.7L1708.4 164.0L1691.8 182.3L1687.8 182.3L1671.2 164.0L1687.8 145.7ZM1695.9 145.6L1712.5 163.9L1695.9 182.2L1691.8 182.3L1675.2 164.0L1691.8 145.7ZM1699.9 145.6L1716.5 163.9L1699.9 182.2L1695.9 182.2L1679.3 163.9L1695.9 145.6ZM1703.9 145.5L1720.5 163.8L1703.9 182.1L1699.9 182.2L1683.3 163.9L1699.9 145.6ZM1707.9 145.5L1724.5 163.8L1707.9 182.1L1703.9 182.1L1687.3 163.8L1703.9 145.5ZM1711.9 145.4L1728.5 163.7L1711.9 182.0L1707.9 182.1L1691.3 163.8L1707.9 145.5ZM1715.9 145.3L1732.5 163.6L1715.9 181.9L1711.9 182.0L1695.3 163.7L1711.9 145.4ZM1719.9 145.3L1736.5 163.6L1719.9 181.9L1715.9 181.9L1699.3 163.6L1715.9 145.3ZM1723.9 145.2L1740.5 163.5L1723.9 181.8L1719.9 181.9L1703.3 163.6L1719.9 145.3ZM1727.9 145.2L1744.5 163.5L1727.9 181.8L1723.9 181.8L1707.3 163.5L1723.9 145.2ZM1731.9 145.1L1748.5 163.4L1731.9 181.7L1727.9 181.8L1711.3 163.5L1727.9 145.2ZM1735.9 145.1L1752.5 163.4L1735.9 181.7L1731.9 181.7L1715.3 163.4L1731.9 145.1ZM1740.0 145.0L1756.6 163.3L1740.0 181.6L1735.9 181.7L1719.3 163.4L1735.9 145.1ZM1744.0 144.9L1760.6 163.2L1744.0 181.5L1740.0 181.6L1723.4 163.3L1740.0 145.0ZM1748.0 144.9L1764.6 163.2L1748.0 181.5L1744.0 181.5L1727.4 163.2L1744.0 144.9ZM1752.0 144.8L1768.6 163.1L1752.0 181.4L1748.0 181.5L1731.4 163.2L1748.0 144.9ZM1756.0 144.8L1772.6 163.1L1756.0 181.4L1752.0 181.4L1735.4 163.1L1752.0 144.8ZM1760.0 144.7L1776.6 163.0L1760.0 181.3L1756.0 181.4L1739.4 163.1L1756.0 144.8Z"/>
<path stroke="#727272" stroke-width="3" fill="none" d="M541.8 1238.3v-12.0M541.8 32.5v12.0M676.9 1238.3v-24.5M676.9 32.5v24.5M812.1 1238.3v-12.0M812.1 32.5v12.0M947.3 1238.3v-24.5M947.3 32.5v24.5M1082.4 1238.3v-12.0M1082.4 32.5v12.0M1217.6 1238.3v-24.5M1217.6 32.5v24.5M1352.8 1238.3v-12.0M1352.8 32.5v12.0M1488.0 1238.3v-24.5M1488.0 32.5v24.5M1623.1 1238.3v-12.0M1623.1 32.5v12.0M1758.3 1238.3v-24.5M1758.3 32.5v24.5M272.9 217.1h12.0M1895.0 217.1h-12.0M272.9 309.8h24.5M1895.0 309.8h-24.5M272.9 402.6h12.0M1895.0 402.6h-12.0M272.9 495.3h24.5M1895.0 495.3h-24.5M272.9 588.0h12.0M1895.0 588.0h-12.0M272.9 680.8h24.5M1895.0 680.8h-24.5M272.9 773.6h12.0M1895.0 773.6h-12.0M272.9 866.3h24.5M1895.0 866.3h-24.5M272.9 959.0h12.0M1895.0 959.0h-12.0M272.9 1051.8h24.5M1895.0 1051.8h-24.5M272.9 1144.5h12.0M1895.0 1144.5h-12.0"/>
<path stroke="#000000" stroke-width="3" fill="none" d="M544.8 1238.3v-12.0M544.8 32.5v12.0M679.9 1238.3v-24.5M679.9 32.5v24.5M815.1 1238.3v-12.0M815.1 32.5v12.0M950.3 1238.3v-24.5M950.3 32.5v24.5M1085.4 1238.3v-12.0M1085.4 32.5v12.0M1220.6 1238.3v-24.5M1220.6 32.5v24.5M1355.8 1238.3v-12.0M1355.8 32.5v12.0M1491.0 1238.3v-24.5M1491.0 32.5v24.5M1626.1 1238.3v-12.0M1626.1 32.5v12.0M1761.3 1238.3v-24.5M1761.3 32.5v24.5M272.9 220.1h12.0M1895.0 220.1h-12.0M272.9 312.8h24.5M1895.0 312.8h-24.5M272.9 405.6h12.0M1895.0 405.6h-12.0M272.9 498.3h24.5M1895.0 498.3h-24.5M272.9 591.0h12.0M1895.0 591.0h-12.0M272.9 683.8h24.5M1895.0 683.8h-24.5M272.9 776.6h12.0M1895.0 776.6h-12.0M272.9 869.3h24.5M1895.0 869.3h-24.5M272.9 962.0h12.0M1895.0 962.0h-12.0M272.9 1054.8h24.5M1895.0 1054.8h-24.5M272.9 1147.5h12.0M1895.0 1147.5h-12.0"/>
<rect x="270.0" y="29.5" width="5.8" height="1211.8" fill="#363636"/>
<rect x="270.0" y="29.5" width="1627.5" height="3.0" fill="#1c1c1c"/>
<rect x="275.8" y="32.5" width="1619.1" height="3.0" fill="#484848"/>
<rect x="270.0" y="1233.9" width="1627.5" height="2.9" fill="#a8a8a8"/>
<rect x="270.0" y="1236.8" width="1627.5" height="2.9" fill="#000000"/>
<rect x="270.0" y="1239.7" width="1627.5" height="3.0" fill="#c8c8c8"/>
<rect x="270.0" y="32.5" width="5.8" height="1207.2" fill="#363636"/>
<text class="t" text-anchor="end" transform="translate(247.0 145.8) scale(1 1.04)">0.00</text>
<text class="t" text-anchor="end" transform="translate(247.0 331.3) scale(1 1.04)">−0.01</text>
<text class="t" text-anchor="end" transform="translate(247.0 516.8) scale(1 1.04)">−0.02</text>
<text class="t" text-anchor="end" transform="translate(247.0 702.3) scale(1 1.04)">−0.03</text>
<text class="t" text-anchor="end" transform="translate(247.0 887.8) scale(1 1.04)">−0.04</text>
<text class="t" text-anchor="end" transform="translate(247.0 1073.3) scale(1 1.04)">−0.05</text>
<text class="t" text-anchor="end" transform="translate(247.0 1258.8) scale(1 1.04)">−0.06</text>
<text class="t" text-anchor="middle" transform="translate(408.1 1317.0) scale(1 1.04)">0</text>
<text class="t" text-anchor="middle" transform="translate(678.4 1317.0) scale(1 1.04)">200</text>
<text class="t" text-anchor="middle" transform="translate(948.8 1317.0) scale(1 1.04)">400</text>
<text class="t" text-anchor="middle" transform="translate(1219.1 1317.0) scale(1 1.04)">600</text>
<text class="t" text-anchor="middle" transform="translate(1489.5 1317.0) scale(1 1.04)">800</text>
<text class="t" text-anchor="middle" transform="translate(1759.8 1317.0) scale(1 1.04)">1000</text>
<text class="t" text-anchor="middle" transform="translate(1083.5 1402.0) scale(1 1.04)">H (Oe)</text>
<text class="t" text-anchor="middle" transform="translate(64.5 635.4) rotate(-90) scale(1 1.04)">m (emu)</text>
<rect x="1891.3" y="29.6" width="3.1" height="1211.7" fill="#7a7a7a"/>
<rect x="1894.4" y="29.6" width="3.1" height="1211.7" fill="#000"/>
<rect x="1896.0" y="31.0" width="333.3" height="415.0" fill="#ffffff" stroke="#8a8a8a" stroke-width="3.4"/>
<path stroke="#9a9a9a" stroke-width="3.6" d="M1924 85.0H1975.5M2011.5 85.0H2062.5"/>
<polygon fill="#000000" points="1980.2,72.0 2006.2,72.0 2006.2,98.0 1980.2,98.0"/>
<text class="l" text-anchor="start" transform="translate(2078.5 107.0) scale(1 1.04)">5 K</text>
<path stroke="#ff8080" stroke-width="3.6" d="M1924 161.6H1975.5M2011.5 161.6H2062.5"/>
<polygon fill="#ff0000" points="2007.6,161.6 2006.9,166.0 2004.8,170.1 2001.7,173.2 1997.6,175.3 1993.2,176.0 1988.8,175.3 1984.7,173.2 1981.6,170.1 1979.5,166.0 1978.8,161.6 1979.5,157.2 1981.6,153.1 1984.7,150.0 1988.8,147.9 1993.2,147.2 1997.6,147.9 2001.7,150.0 2004.8,153.1 2006.9,157.2"/>
<text class="l" text-anchor="start" transform="translate(2080.0 183.6) scale(1 1.04)">10 K</text>
<path stroke="#80ff80" stroke-width="3.6" d="M1924 238.2H1975.5M2011.5 238.2H2062.5"/>
<polygon fill="#00ff00" points="1993.2,219.2 2009.9,250.0 1976.5,250.0"/>
<text class="l" text-anchor="start" transform="translate(2080.0 260.2) scale(1 1.04)">15 K</text>
<path stroke="#8080ff" stroke-width="3.6" d="M1924 314.8H1975.5M2011.5 314.8H2062.5"/>
<polygon fill="#0000ff" points="1976.5,303.7 2009.9,303.7 1993.2,333.9"/>
<text class="l" text-anchor="start" transform="translate(2078.5 336.8) scale(1 1.04)">20 K</text>
<path stroke="#80ffff" stroke-width="3.6" d="M1924 391.4H1975.5M2011.5 391.4H2062.5"/>
<polygon fill="#00ffff" points="1993.2,373.1 2009.8,391.4 1993.2,409.7 1976.6,391.4"/>
<text class="l" text-anchor="start" transform="translate(2078.5 413.4) scale(1 1.04)">25 K</text>
</g>
</svg></body></html>
